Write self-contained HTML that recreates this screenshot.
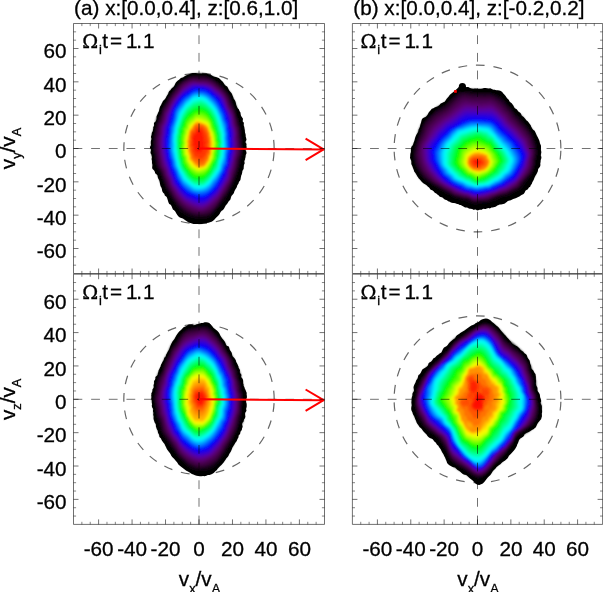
<!DOCTYPE html>
<html><head><meta charset="utf-8"><title>velocity distributions</title>
<style>html,body{margin:0;padding:0;background:#fff}svg{display:block}</style></head>
<body>
<svg width="603" height="592" viewBox="0 0 603 592">
<rect width="603" height="592" fill="#fff"/>
<defs><filter id="sm" x="-5%" y="-5%" width="110%" height="110%"><feGaussianBlur stdDeviation="0.8"/></filter></defs>
<g>
<path d="M246.5,144.5l-0.2,1l0.2,0.9l0.1,1l-0.2,1l-0.7,0.9l-0.1,0.9l0.5,1.1l0.3,1l0.1,1l-0.5,0.9l-0.3,1l-0.2,0.9l0.1,1.1l-0.5,0.8l0.1,1.1l-0.4,0.9l-0.5,0.9l0.1,1.1l0.3,1.2l-0.4,0.9l-0.4,1l-0.1,1.1l-0.1,1.1l0,1.1l-0.4,1l-0.6,0.8l-0.4,1l-0.1,1.2l-0.2,1.1l-0.3,1.1l-0.5,1l-0.2,1.2l-0.3,1.2l-0.1,1.3l-0.5,1.2l-0.7,0.8l-0.6,1l-0.3,1.3l-0.7,1l-0.6,1l-0.4,1.3l-0.5,1.2l-0.7,1l-0.7,1.1l-0.6,1.2l-0.4,1.6l-0.7,1.1l-0.9,1l-0.9,1l-0.5,1.5l-0.5,1.8l-0.9,1.2l-1,0.9l-0.8,1.4l-0.9,1.4l-1,1l-0.9,1.6l-0.8,1.7l-1.1,1.3l-1.3,0.8l-1.1,1.4l-1,1.9l-1.2,1.4l-1.3,1.3l-1.3,1.3l-1.3,1.5l-1.4,1.2l-1.5,1l-1.6,0.5l-1.6,0.6l-1.6,0.2l-1.7,0.2l-1.6,0.3l-1.6,0.4l-1.7,0.1l-1.7,0.1l-1.6-0.2l-1.7,0l-1.7,0l-1.6-0.3l-1.6-0.5l-1.6-0.7l-1.5-0.8l-1.5-1.1l-1.4-1.1l-1.4-0.9l-1.6-0.6l-1.5-0.5l-1.3-1l-1.2-1.5l-1.1-1.6l-0.9-1.9l-1.2-1.1l-1.2-0.9l-0.8-1.9l-0.7-1.8l-1-1.1l-1.2-0.7l-0.8-1.6l-0.5-1.9l-0.5-1.7l-0.6-1.6l-1-0.8l-1-0.9l-0.5-1.6l-0.9-0.9l-0.8-1l-0.5-1.4l-0.2-1.6l-0.5-1.3l-0.7-1.1l-0.4-1.3l-0.3-1.4l-0.2-1.4l-0.3-1.3l-0.4-1.1l-0.6-1l-0.5-1l-0.3-1.3l-0.1-1.2l-0.7-0.9l-1-0.7l-0.8-0.8l-0.2-1.2l-0.4-1l-0.8-0.8l-0.9-0.8l-0.6-1l0-1.2l0.2-1.3l0-1.2l-0.3-1.1l-0.1-1.1l0-1.1l-0.1-1.1l-0.3-1l0.2-1.2l0.2-1.1l-0.3-1l-0.2-1.1l-0.5-0.9l-0.5-1l0.1-1.1l0.3-1.1l0.1-1l-0.4-1l-0.7-1l0.3-1.1l0.7-1.1l0.2-1l-0.3-1l0-1.1l0-1l0.2-1l0.4-1l0-1.1l-0.4-1.1l0.1-1l0.4-1l0.2-1l0.1-1.1l0.3-0.9l0.7-0.9l0.2-1l0.1-1.1l0.2-1l-0.1-1.2l0.7-0.8l0.3-1.1l-0.3-1.2l0.2-1.1l0.9-0.7l0.9-0.8l0.3-1l0.4-1l0-1.2l-0.1-1.3l0.3-1.1l0.5-1l0.4-1l0.5-1.1l0.6-1l0.3-1.1l0.2-1.3l0.3-1.2l0.4-1.2l0.6-1l0.6-1.1l0.5-1.2l0.6-1.1l0.5-1.2l0.9-0.9l0.9-0.7l0.8-1l0.6-1.1l0.6-1.3l0.8-1.1l0.7-1.2l0.5-1.6l0.7-1.3l1.1-0.7l0.8-1.3l0.9-1l1.1-0.8l1-1.2l0.7-1.6l0.8-1.7l1.1-1.1l1.1-1.1l1.2-0.8l1.2-1.1l1.3-0.8l1.4-0.4l1.3-0.8l1.3-0.9l1.4-0.6l1.3-0.7l1.5-0.4l1.4-0.5l1.5-0.4l1.5-0.2l1.5,0.1l1.5,0.2l1.5,0.2l1.5,0.1l1.5,0l1.5,0l1.5,0l1.5,0l1.4,0.4l1.5,0.4l1.4,0.2l1.4,0.9l1.3,0.9l1.4,0.5l1.4,0.3l1.4,0.5l1.3,0.5l1.3,0.8l1.1,1.4l1.2,0.9l1,1.2l0.9,1.6l0.9,1.3l1.2,0.7l1.1,0.8l0.7,1.5l0.7,1.5l0.8,1.2l0.9,1l0.9,1l0.7,1.2l0.5,1.5l0.6,1.4l0.4,1.4l0.7,1.1l0.7,0.9l0.5,1.3l0.4,1.4l0.2,1.4l0.4,1.2l0.6,1.1l0.4,1l0.7,0.9l0.8,0.8l0.4,1.1l0.5,1l0.6,0.9l0.1,1.2l0.2,1.2l0.3,1l0.7,0.9l0.5,0.9l0.6,0.8l0,1.2l-0.3,1.4l0.6,0.8l0.7,0.8l-0.1,1.2l-0.1,1.1l0.2,1l0.4,0.9l0.1,1.1l0.2,1l0.2,0.9l0.1,1l0,1l0.2,1l0.4,0.9l0.1,0.9l0.1,1l0,1l0.4,0.9l0.2,1l0.2,0.9l-0.3,1l-0.7,1.1l0,0.9l0.8,0.9z" fill="#000"/>
<g filter="url(#sm)">
<path d="M245.2,144.5l0,2.4l-0.4,2.3l-0.1,2.3l0.3,2.5l-0.7,2.3l-0.8,2.3l-0.3,2.4l-0.4,2.5l-0.5,2.5l-0.6,2.5l-0.8,2.5l-0.8,2.5l-0.7,2.7l-1,2.7l-1.1,2.7l-1.3,2.6l-1.4,2.7l-1.5,2.9l-1.6,3l-1.6,3.2l-1.7,3.5l-2.1,3.1l-2.5,2.9l-2.7,2.6l-2.8,3.3l-2.9,3.8l-3.3,3.3l-3.7,2.2l-4,1l-4,0.4l-4-0.7l-4-0.8l-3.9-0.7l-3.7-1.9l-3.4-2.6l-3-3.2l-2.6-3.7l-2.4-3.4l-2.3-3.1l-2-3.3l-1.7-3.4l-1.7-3l-1.6-2.9l-1.3-3.1l-1.3-2.9l-1.1-2.9l-0.9-2.9l-1.2-2.5l-1.3-2.4l-1.1-2.5l-1.2-2.4l-0.9-2.6l-0.4-2.7l-0.2-2.7l-0.3-2.6l-0.4-2.5l-0.3-2.6l-0.3-2.5l-0.2-2.5l0.1-2.6l0.4-2.5l0.4-2.5l-0.1-2.6l0.3-2.5l0.7-2.5l0.4-2.5l0.8-2.4l0.9-2.4l0.4-2.7l0.6-2.7l1-2.5l1.3-2.3l1.2-2.6l0.9-2.8l1.1-2.8l1.5-2.5l1.7-2.5l1.6-2.8l1.5-3.2l1.7-3.3l2.2-2.6l2.5-2.3l2.4-3l2.6-3l3-2.2l3.2-1.8l3.4-1.9l3.6-1l3.7-0.4l3.7-0.2l3.7,0.5l3.6,0.9l3.5,1.2l3.4,1.6l3.1,2.3l3,2l2.8,2.4l2.4,2.9l2.3,2.6l2,2.9l1.7,3.2l1.4,3.2l1.4,2.9l1.3,2.9l0.9,3l0.7,3l0.9,2.6l1.3,2.3l0.8,2.5l0.5,2.6l0.7,2.4l0.7,2.3l0.6,2.4l0.5,2.4l0.2,2.4l0.1,2.3l0.4,2.4l0.1,2.3l0.4,2.3z" fill="#020003"/>
<path d="M243.5,144.5l0.2,2.3l-0.4,2.2l-0.1,2.3l0.2,2.4l-0.7,2.2l-0.8,2.1l-0.4,2.4l-0.4,2.3l-0.5,2.4l-0.5,2.4l-0.8,2.4l-0.7,2.5l-0.7,2.6l-1,2.6l-1.1,2.5l-1.2,2.6l-1.3,2.7l-1.4,2.8l-1.5,2.9l-1.5,3.1l-1.7,3.3l-2.1,2.9l-2.4,2.8l-2.5,2.9l-2.6,3.4l-2.8,3.7l-3.2,3.2l-3.6,2l-3.9,0.8l-3.9,0.3l-3.9-0.4l-3.8-0.9l-3.8-0.9l-3.6-1.8l-3.3-2.4l-2.9-2.9l-2.6-3.5l-2.3-3.4l-2.2-3l-2-3.2l-1.6-3.3l-1.7-2.9l-1.6-2.8l-1.2-3.1l-1.1-2.9l-1.1-2.7l-1-2.8l-1-2.6l-1.1-2.4l-1.3-2.2l-1.3-2.3l-0.8-2.5l-0.5-2.6l-0.2-2.6l-0.4-2.5l-0.5-2.5l-0.5-2.4l-0.4-2.5l0-2.5l0.2-2.5l0.3-2.5l0.2-2.4l0-2.5l0.3-2.5l0.6-2.4l0.5-2.5l0.8-2.4l0.7-2.4l0.5-2.6l0.7-2.6l1-2.4l1.2-2.4l1.2-2.4l0.9-2.8l1-2.8l1.5-2.5l1.6-2.5l1.6-2.7l1.5-3.1l1.7-3.1l2.1-2.7l2.3-2.6l2.4-2.9l2.6-2.8l3-2.2l3.2-1.8l3.3-1.8l3.5-1l3.6-0.4l3.7-0.1l3.6,0.4l3.6,0.8l3.5,1.3l3.3,1.7l3,2.1l3,2.1l2.7,2.4l2.3,2.8l2.3,2.6l1.9,3l1.6,3.2l1.3,3.2l1.2,3l1.3,2.8l1,2.8l0.6,3l0.8,2.6l1.1,2.3l0.9,2.4l0.4,2.5l0.6,2.4l0.8,2.3l0.4,2.3l0.5,2.2l0.3,2.4l0.1,2.2l0.4,2.3l0.1,2.2l0.2,2.3z" fill="#09000a"/>
<path d="M242.2,144.5l0.3,2.2l-0.2,2.2l-0.2,2.2l0.1,2.3l-0.7,2.2l-0.8,2l-0.5,2.2l-0.5,2.3l-0.4,2.3l-0.5,2.4l-0.8,2.3l-0.6,2.4l-0.7,2.6l-1,2.4l-1,2.5l-1.2,2.5l-1.2,2.7l-1.3,2.7l-1.4,2.9l-1.5,3l-1.7,3.2l-2.1,2.6l-2.3,2.8l-2.3,3.2l-2.5,3.4l-2.7,3.6l-3.2,3.1l-3.5,1.9l-3.8,0.6l-3.8,0.3l-3.8-0.3l-3.8-0.8l-3.6-1.1l-3.5-1.8l-3.2-2.3l-2.9-2.7l-2.5-3.3l-2.3-3.3l-2.1-3l-1.9-3.1l-1.6-3.2l-1.7-2.9l-1.6-2.6l-1.1-3.1l-1-2.9l-1.1-2.7l-0.9-2.6l-0.9-2.6l-1.1-2.3l-1.3-2.2l-1.4-2.1l-0.8-2.5l-0.5-2.5l-0.3-2.5l-0.4-2.5l-0.5-2.4l-0.6-2.4l-0.5-2.4l0.1-2.4l0.2-2.5l0.2-2.4l0.1-2.5l0.1-2.4l0.3-2.4l0.6-2.5l0.4-2.4l0.7-2.4l0.6-2.4l0.6-2.5l1-2.4l0.9-2.4l1.1-2.4l1.1-2.4l0.8-2.8l1.1-2.7l1.4-2.6l1.5-2.5l1.6-2.6l1.5-3l1.8-2.9l2-2.8l2.2-2.7l2.3-3l2.6-2.7l3-2.1l3.1-1.9l3.3-1.7l3.5-0.9l3.6-0.2l3.6-0.1l3.6,0.2l3.5,0.7l3.4,1.3l3.3,1.8l3,2.1l2.8,2.2l2.7,2.4l2.3,2.7l2.3,2.6l1.9,2.9l1.4,3.3l1.2,3.3l1.2,3l1.2,2.7l1,2.7l0.7,2.9l0.6,2.7l1,2.3l0.9,2.2l0.4,2.5l0.6,2.3l0.7,2.2l0.4,2.3l0.4,2.2l0.3,2.3l0.2,2.2l0.3,2.2l0.2,2.1l0,2.2z" fill="#170019"/>
<path d="M241.1,144.5l0.5,2.2l-0.2,2.1l-0.2,2.2l-0.1,2.2l-0.6,2.1l-0.8,2l-0.7,2.1l-0.5,2.2l-0.3,2.3l-0.4,2.3l-0.8,2.2l-0.6,2.4l-0.7,2.4l-0.9,2.4l-1,2.5l-1.1,2.5l-1.2,2.6l-1.2,2.8l-1.4,2.7l-1.4,3l-1.7,3l-2.2,2.5l-2.1,2.8l-2.2,3.2l-2.4,3.5l-2.7,3.4l-3.1,3.1l-3.5,1.8l-3.7,0.6l-3.7,0.2l-3.7-0.2l-3.7-0.8l-3.5-1.3l-3.4-1.8l-3.1-2.2l-2.9-2.5l-2.5-3.1l-2.2-3.1l-2.1-3.1l-1.8-3.1l-1.7-3l-1.6-2.8l-1.5-2.7l-1-3l-1-2.9l-1-2.6l-1-2.6l-0.9-2.5l-1.1-2.2l-1.3-2.1l-1.2-2.2l-0.7-2.4l-0.5-2.4l-0.4-2.5l-0.4-2.4l-0.4-2.3l-0.7-2.3l-0.5-2.4l0.2-2.4l0.1-2.4l0-2.4l0.2-2.4l0-2.4l0.5-2.3l0.4-2.4l0.4-2.4l0.7-2.3l0.4-2.5l0.7-2.4l1.1-2.2l0.9-2.4l0.9-2.4l1-2.5l0.7-2.8l1.1-2.7l1.5-2.4l1.5-2.5l1.5-2.6l1.5-2.9l1.8-2.8l2-2.8l2.1-2.8l2.2-2.9l2.6-2.8l2.9-2.2l3.1-1.8l3.3-1.6l3.4-0.8l3.6,0l3.5-0.1l3.5,0l3.5,0.6l3.4,1.3l3.2,1.8l2.9,2.2l2.8,2.3l2.6,2.4l2.3,2.6l2.2,2.5l1.8,3l1.3,3.3l1.1,3.3l1.2,2.9l1.3,2.6l1.1,2.5l0.6,2.9l0.6,2.7l0.8,2.3l0.9,2.2l0.3,2.5l0.7,2.2l0.8,2.1l0.3,2.3l0.2,2.2l0.3,2.2l0.2,2.1l0.4,2.1l0.1,2.1l0.1,2.2z" fill="#28002a"/>
<path d="M240.2,144.5l0.5,2.1l-0.1,2.2l-0.2,2.1l-0.3,2.1l-0.5,2l-0.8,2l-0.7,2l-0.5,2.2l-0.3,2.2l-0.4,2.3l-0.6,2.2l-0.7,2.4l-0.7,2.3l-0.9,2.4l-0.8,2.5l-1.1,2.5l-1.1,2.5l-1.2,2.8l-1.4,2.6l-1.4,2.9l-1.8,2.8l-2,2.5l-2.1,2.8l-2.1,3.4l-2.4,3.4l-2.7,3.1l-3.1,2.9l-3.4,1.8l-3.5,0.7l-3.7,0.2l-3.7-0.2l-3.5-0.9l-3.5-1.4l-3.3-1.7l-3-2.2l-2.8-2.5l-2.5-2.9l-2.3-2.9l-2-3l-1.8-3.1l-1.6-2.9l-1.5-2.8l-1.5-2.7l-0.9-3l-1-2.8l-1.1-2.5l-1-2.5l-0.8-2.5l-1.1-2.1l-1.3-2.1l-1-2.2l-0.6-2.4l-0.4-2.4l-0.5-2.3l-0.3-2.4l-0.4-2.3l-0.5-2.2l-0.5-2.3l0.2-2.4l-0.1-2.3l-0.1-2.3l0.1-2.4l0.1-2.3l0.6-2.3l0.4-2.3l0.3-2.3l0.5-2.4l0.4-2.4l0.7-2.3l1.3-2.1l0.7-2.4l0.8-2.4l0.9-2.5l0.6-2.9l1.2-2.5l1.5-2.3l1.4-2.5l1.5-2.7l1.5-2.8l1.7-2.7l2-2.7l2.1-2.7l2.2-2.9l2.4-2.9l2.8-2.4l3.1-1.7l3.2-1.5l3.4-0.7l3.5,0.1l3.5,0l3.5-0.1l3.4,0.5l3.3,1.3l3.1,1.8l2.9,2.3l2.7,2.3l2.5,2.3l2.3,2.6l2.1,2.5l1.8,2.9l1.3,3.3l1,3.4l1.2,2.7l1.4,2.3l1.1,2.5l0.6,2.8l0.6,2.6l0.7,2.4l0.8,2.2l0.3,2.4l0.7,2.2l0.8,2l0.3,2.2l0.2,2.2l0.2,2.2l0.2,2.1l0.4,2.1l0.2,2l0,2.1z" fill="#370039"/>
<path d="M239.3,144.5l0.4,2.1l0,2l-0.3,2.1l-0.3,2.1l-0.5,2l-0.7,2l-0.8,1.9l-0.4,2.1l-0.3,2.1l-0.3,2.3l-0.6,2.2l-0.6,2.3l-0.8,2.3l-0.8,2.3l-0.8,2.5l-0.9,2.5l-1.1,2.6l-1.2,2.6l-1.5,2.5l-1.4,2.9l-1.7,2.7l-2,2.5l-2,2.9l-2,3.3l-2.4,3.2l-2.7,2.9l-3,2.7l-3.3,1.7l-3.5,1l-3.6,0.3l-3.6-0.4l-3.5-0.9l-3.3-1.4l-3.2-1.7l-3-2.1l-2.8-2.5l-2.4-2.8l-2.3-2.7l-2-2.9l-1.7-3.1l-1.6-2.8l-1.5-2.8l-1.3-2.8l-0.9-2.9l-1.1-2.6l-1.2-2.4l-0.8-2.5l-0.8-2.4l-1.2-2.1l-1.2-2l-0.9-2.3l-0.4-2.4l-0.4-2.3l-0.6-2.3l-0.2-2.3l-0.3-2.2l-0.4-2.3l-0.4-2.2l0-2.2l-0.2-2.3l-0.1-2.3l0.1-2.2l0.1-2.3l0.6-2.2l0.5-2.2l0.3-2.4l0.3-2.3l0.3-2.4l0.7-2.3l1.3-2l0.7-2.4l0.7-2.4l0.8-2.5l0.6-2.8l1.2-2.4l1.5-2.2l1.4-2.4l1.4-2.8l1.4-2.8l1.8-2.6l1.9-2.5l2.1-2.6l2.2-2.9l2.2-3l2.7-2.6l3.1-1.6l3.2-1.5l3.3-0.7l3.5,0.2l3.4,0.1l3.4-0.1l3.4,0.5l3.2,1.2l3.1,1.8l2.8,2.3l2.6,2.2l2.5,2.3l2.3,2.5l2,2.6l1.7,2.9l1.3,3.3l0.9,3.3l1.3,2.6l1.4,2.2l1.1,2.4l0.8,2.6l0.5,2.6l0.6,2.4l0.6,2.3l0.4,2.4l0.7,2.1l0.7,2l0.4,2.1l0.2,2.2l0.1,2.1l0.1,2.1l0.3,2l0.3,2l0.1,2.1z" fill="#430048"/>
<path d="M238.2,144.5l0.3,2l0,2l-0.2,2l-0.3,2l-0.4,2l-0.6,2l-0.8,1.8l-0.4,2.1l-0.3,2.1l-0.4,2.2l-0.5,2.2l-0.5,2.2l-0.8,2.2l-0.8,2.3l-0.7,2.5l-0.8,2.6l-1,2.6l-1.2,2.5l-1.6,2.4l-1.4,2.7l-1.7,2.6l-1.8,2.6l-1.9,3l-2.1,3.2l-2.4,3l-2.6,2.6l-3,2.5l-3.2,1.8l-3.4,1.4l-3.5,0.3l-3.5-0.6l-3.4-1l-3.3-1.4l-3.1-1.7l-3-2l-2.6-2.5l-2.4-2.7l-2.3-2.6l-1.9-2.8l-1.7-3l-1.6-2.7l-1.5-2.7l-1.1-2.9l-1-2.9l-1.2-2.3l-1.1-2.3l-0.8-2.6l-0.7-2.4l-1.2-2l-1.2-2l-0.7-2.3l-0.4-2.3l-0.4-2.3l-0.6-2.2l-0.3-2.2l-0.2-2.2l-0.2-2.2l-0.4-2.2l-0.1-2.2l-0.3-2.2l-0.1-2.2l0.2-2.2l0.1-2.3l0.5-2.1l0.6-2.2l0.2-2.2l0.2-2.3l0.3-2.4l0.7-2.2l1.2-2l0.7-2.3l0.7-2.4l0.7-2.5l0.6-2.7l1.2-2.4l1.5-2.2l1.4-2.4l1.2-2.6l1.5-2.8l1.7-2.6l1.9-2.4l2.1-2.5l2.1-2.8l2.2-3.1l2.6-2.7l3-1.7l3.1-1.4l3.3-0.8l3.4,0.3l3.4,0.3l3.3,0l3.4,0.5l3.2,1l3,1.7l2.7,2.3l2.6,2.2l2.5,2.1l2.2,2.5l1.9,2.7l1.7,2.9l1.2,3.3l0.9,3.2l1.3,2.5l1.4,2.1l1.2,2.3l0.8,2.5l0.6,2.6l0.4,2.5l0.4,2.3l0.4,2.3l0.7,2.1l0.7,1.9l0.4,2.1l0.3,2.1l0.1,2.1l-0.1,2.1l0.2,2l0.3,1.9l0.2,2z" fill="#4e0058"/>
<path d="M237,144.5l0,1.9l0,2l-0.2,1.9l-0.1,2l-0.3,1.9l-0.5,1.9l-0.7,1.8l-0.4,2l-0.3,2.1l-0.5,2l-0.4,2.2l-0.6,2.1l-0.7,2.2l-0.8,2.2l-0.6,2.5l-0.8,2.5l-0.9,2.7l-1.2,2.4l-1.5,2.2l-1.4,2.6l-1.6,2.6l-1.7,2.7l-1.9,3l-2,3l-2.4,2.6l-2.7,2.5l-2.8,2.3l-3.1,2l-3.3,1.6l-3.4,0.3l-3.4-0.7l-3.3-1.1l-3.2-1.4l-3-1.6l-2.9-2l-2.6-2.4l-2.3-2.6l-2.2-2.4l-1.9-2.8l-1.7-2.9l-1.6-2.5l-1.4-2.7l-1-2.9l-0.9-2.8l-1.3-2.2l-1.1-2.2l-0.7-2.6l-0.7-2.3l-1.2-2l-1-2l-0.7-2.2l-0.4-2.2l-0.4-2.3l-0.5-2.1l-0.4-2.1l-0.3-2.2l-0.1-2.1l-0.2-2.1l-0.3-2.2l-0.3-2.1l0-2.1l0.2-2.2l0.1-2.1l0.4-2.2l0.6-2l0.2-2.2l0.1-2.3l0.3-2.3l0.7-2.2l1.1-1.9l0.8-2.2l0.7-2.3l0.6-2.5l0.5-2.7l1.2-2.3l1.4-2.2l1.3-2.4l1.2-2.6l1.4-2.7l1.7-2.5l1.9-2.5l2-2.4l2.1-2.6l2.2-3.1l2.5-2.6l2.9-1.8l3-1.5l3.3-0.8l3.3,0.4l3.3,0.3l3.3,0l3.2,0.6l3.2,0.9l2.9,1.7l2.7,2.3l2.5,2.1l2.5,2l2.2,2.4l1.8,2.8l1.5,2.9l1.2,3.3l0.9,3l1.3,2.5l1.3,2.1l1.2,2.2l0.9,2.4l0.5,2.5l0.3,2.5l0.4,2.4l0.4,2.1l0.7,2l0.6,2l0.4,2l0.4,2l0,2.1l-0.2,2l0.1,2l0.3,1.9l0.3,1.9z" fill="#58006e"/>
<path d="M235.7,144.5l-0.1,1.9l-0.1,1.8l-0.1,1.9l0.1,1.9l-0.2,1.9l-0.5,1.8l-0.6,1.8l-0.3,2l-0.4,2l-0.6,1.9l-0.4,2.1l-0.5,2.1l-0.8,2l-0.8,2.1l-0.6,2.4l-0.5,2.7l-0.8,2.6l-1.3,2.3l-1.4,2.2l-1.4,2.5l-1.6,2.5l-1.6,2.7l-1.8,3l-2,2.8l-2.4,2.4l-2.6,2.2l-2.7,2.3l-3,2.1l-3.2,1.6l-3.3,0.4l-3.3-0.8l-3.2-1.1l-3.1-1.4l-2.9-1.6l-2.8-1.8l-2.5-2.3l-2.3-2.5l-2.2-2.4l-1.8-2.8l-1.6-2.6l-1.7-2.3l-1.4-2.7l-0.9-3l-0.9-2.6l-1.2-2.2l-1.1-2.2l-0.5-2.5l-0.7-2.3l-1.1-1.9l-1-2l-0.6-2.1l-0.6-2.1l-0.4-2.2l-0.4-2.1l-0.5-2l-0.3-2.1l-0.1-2.1l-0.1-2.1l-0.3-2l-0.3-2.1l0.2-2.1l0.2-2l0-2.1l0.4-2.1l0.5-2l0.2-2.2l0.1-2.2l0.3-2.2l0.6-2.1l1.1-1.9l0.7-2.1l0.8-2.2l0.5-2.5l0.5-2.6l1.1-2.3l1.2-2.2l1.2-2.5l1.3-2.5l1.4-2.6l1.5-2.6l1.9-2.4l1.9-2.4l2.1-2.5l2.2-2.8l2.5-2.5l2.8-1.9l2.9-1.7l3.2-0.8l3.3,0.3l3.2,0.4l3.2,0.1l3.2,0.5l3.1,1l2.8,1.6l2.6,2.4l2.5,2l2.5,1.9l2.1,2.4l1.8,2.7l1.4,3l1.1,3.2l1,2.9l1.1,2.5l1.3,2.1l1.1,2.2l1,2.2l0.4,2.5l0.2,2.5l0.4,2.3l0.5,2.1l0.7,1.9l0.5,1.9l0.3,2l0.4,2l0.1,1.9l-0.3,2.1l-0.1,1.9l0.3,1.8l0.4,1.8z" fill="#5b008a"/>
<path d="M234.6,144.5l-0.3,1.8l-0.1,1.8l-0.1,1.8l0.2,1.9l-0.1,1.8l-0.5,1.8l-0.6,1.7l-0.1,2l-0.4,1.9l-0.7,1.8l-0.5,1.9l-0.5,2.1l-0.7,2l-0.9,1.9l-0.5,2.4l-0.4,2.7l-0.8,2.6l-1.2,2.2l-1.4,2.1l-1.3,2.5l-1.5,2.5l-1.6,2.6l-1.7,2.8l-2,2.7l-2.4,2.2l-2.5,2.1l-2.6,2.3l-2.9,2.1l-3.1,1.5l-3.2,0.4l-3.2-0.8l-3.1-1l-3-1.4l-2.8-1.6l-2.8-1.5l-2.4-2.2l-2.2-2.5l-2.1-2.4l-1.7-2.7l-1.7-2.5l-1.7-2.1l-1.3-2.7l-0.8-2.9l-0.9-2.6l-1.2-2.1l-0.9-2.2l-0.6-2.4l-0.6-2.3l-1-1.9l-0.9-2l-0.6-2l-0.7-2l-0.4-2.1l-0.3-2l-0.5-2l-0.4-2l0-2l-0.1-2l-0.3-2l-0.3-2l0.2-2l0.1-2l0.1-2l0.3-2l0.4-2l0.2-2.1l0.1-2.1l0.3-2.2l0.6-2l1-1.9l0.8-2l0.7-2.2l0.5-2.4l0.5-2.6l1.1-2.1l1-2.4l1.1-2.5l1.1-2.5l1.4-2.5l1.6-2.5l1.7-2.4l1.9-2.5l2.1-2.4l2.2-2.6l2.5-2.1l2.7-2l2.8-1.8l3.1-1l3.2,0.3l3.2,0.4l3.1,0l3.1,0.6l3.1,1l2.8,1.7l2.5,2.3l2.4,2.1l2.4,1.9l2.1,2.2l1.7,2.7l1.4,3l1,3.1l1,2.8l1.2,2.4l1.1,2.2l1,2.2l1,2.1l0.4,2.5l0.2,2.4l0.3,2.3l0.5,2l0.7,1.8l0.5,1.9l0.3,1.9l0.4,1.9l0,1.9l-0.3,2l-0.2,1.9l0.3,1.7l0.4,1.8z" fill="#5400a8"/>
<path d="M233.5,144.5l-0.3,1.7l-0.2,1.7l0.1,1.8l0.2,1.8l-0.2,1.8l-0.6,1.7l-0.4,1.7l-0.1,2l-0.4,1.8l-0.7,1.7l-0.6,1.8l-0.4,2.1l-0.6,2l-1,1.7l-0.5,2.3l-0.3,2.7l-0.8,2.5l-1.2,2.1l-1.2,2.2l-1.3,2.4l-1.5,2.3l-1.6,2.5l-1.6,2.8l-2,2.6l-2.2,2l-2.5,2l-2.5,2.4l-2.8,2.1l-3,1.3l-3.1,0.2l-3.1-0.6l-3-1l-2.9-1.4l-2.7-1.5l-2.8-1.3l-2.3-2.1l-2.1-2.5l-2-2.3l-1.7-2.6l-1.7-2.3l-1.7-2.1l-1.1-2.7l-0.8-2.8l-1-2.4l-1-2.2l-0.9-2.2l-0.6-2.2l-0.6-2.2l-0.9-1.9l-0.7-2l-0.6-2l-0.8-1.8l-0.3-2.1l-0.2-2l-0.5-1.9l-0.4-1.9l-0.1-1.9l-0.1-2l-0.2-1.9l-0.3-1.9l0.1-1.9l0.1-2l0-1.9l0.3-2l0.4-1.9l0.2-2l0.2-2.1l0.2-2l0.5-2.1l0.9-1.8l0.8-2l0.7-2.1l0.4-2.3l0.6-2.5l0.9-2.2l1-2.3l0.9-2.6l1.1-2.5l1.4-2.4l1.5-2.4l1.7-2.5l1.9-2.4l2-2.4l2.2-2.4l2.5-1.9l2.6-1.9l2.8-1.9l2.9-1.1l3.2,0.1l3.1,0.3l3.1,0.1l3,0.8l3,1l2.7,1.8l2.4,2.3l2.4,2l2.3,1.9l2,2.2l1.7,2.7l1.3,2.9l1.1,2.9l1,2.7l1.1,2.3l1,2.3l0.9,2.2l0.9,2.1l0.4,2.3l0.2,2.4l0.3,2.2l0.5,2l0.7,1.7l0.4,1.9l0.4,1.8l0.2,1.9l0,1.9l-0.1,1.8l-0.3,1.8l0.2,1.8l0.5,1.7z" fill="#4300c3"/>
<path d="M232.5,144.5l-0.4,1.7l-0.1,1.6l0.2,1.8l0.2,1.7l-0.4,1.7l-0.6,1.6l-0.4,1.7l0,1.9l-0.4,1.8l-0.8,1.6l-0.5,1.8l-0.2,2.1l-0.6,1.9l-1,1.7l-0.6,2.1l-0.3,2.6l-0.8,2.3l-1.2,2l-1.2,2.2l-1.2,2.4l-1.4,2.2l-1.5,2.4l-1.6,2.8l-1.9,2.6l-2.2,1.9l-2.3,1.9l-2.5,2.4l-2.7,2l-2.9,1l-3,0.1l-3-0.5l-2.9-1l-2.8-1.3l-2.7-1.3l-2.6-1.1l-2.3-2.2l-2-2.4l-2-2.2l-1.6-2.5l-1.7-2.2l-1.6-2l-1-2.7l-0.9-2.7l-0.9-2.2l-1-2.2l-0.8-2.2l-0.7-2.1l-0.6-2.1l-0.7-2l-0.6-1.9l-0.6-1.9l-0.7-1.8l-0.3-2l-0.1-1.9l-0.4-1.9l-0.4-1.8l-0.3-1.8l-0.1-1.9l-0.2-1.8l-0.2-1.9l0-1.9l0-1.9l0-1.8l0.2-1.9l0.5-1.9l0.3-1.9l0.2-1.9l0.2-2.1l0.4-2l0.8-1.8l0.7-1.9l0.6-2.1l0.5-2.3l0.5-2.3l0.9-2.2l0.8-2.4l0.9-2.5l1.1-2.5l1.3-2.4l1.5-2.3l1.6-2.5l1.8-2.5l2-2.4l2.2-2.1l2.4-1.7l2.6-1.8l2.7-1.9l2.9-1.3l3-0.1l3.1,0.2l3,0.2l3,0.9l2.8,1.2l2.7,1.8l2.4,2.2l2.3,2l2.2,1.9l2,2.2l1.5,2.7l1.3,2.7l1.2,2.8l1,2.6l1,2.2l0.9,2.4l0.8,2.2l0.8,2.1l0.5,2.2l0.2,2.3l0.2,2.2l0.4,1.9l0.7,1.7l0.4,1.8l0.3,1.8l0.3,1.7l-0.1,1.9l0,1.7l-0.2,1.8l0.1,1.7l0.5,1.6z" fill="#2c00dc"/>
<path d="M231.4,144.5l-0.2,1.6l-0.1,1.6l0.2,1.7l0.2,1.7l-0.6,1.6l-0.6,1.6l-0.3,1.6l-0.1,1.8l-0.4,1.7l-0.7,1.6l-0.4,1.8l-0.1,2.1l-0.5,1.9l-1.1,1.6l-0.6,2l-0.4,2.4l-0.9,2l-1.2,1.9l-1,2.3l-1.2,2.3l-1.3,2.2l-1.4,2.4l-1.5,2.8l-1.8,2.5l-2.2,1.9l-2.3,1.8l-2.4,2.3l-2.6,1.8l-2.8,0.9l-2.9,0.1l-2.9-0.5l-2.8-1l-2.7-1.3l-2.6-1l-2.5-1.1l-2.2-2.2l-2-2.3l-1.9-2l-1.7-2.3l-1.6-2.2l-1.5-2.1l-0.9-2.7l-0.8-2.5l-1.1-2.1l-0.8-2.2l-0.8-2.1l-0.8-1.9l-0.7-2l-0.4-2.1l-0.4-1.9l-0.7-1.8l-0.7-1.7l-0.2-1.9l-0.1-1.9l-0.3-1.8l-0.3-1.8l-0.4-1.7l-0.3-1.8l-0.1-1.8l0-1.8l-0.1-1.8l0-1.8l-0.1-1.8l0.2-1.9l0.5-1.7l0.4-1.8l0.2-1.9l0.1-2l0.4-1.9l0.5-1.9l0.7-1.9l0.5-2l0.5-2.2l0.6-2.2l0.8-2.2l0.7-2.4l0.8-2.5l1-2.6l1.3-2.3l1.5-2.2l1.5-2.5l1.7-2.5l1.9-2.3l2.2-2.1l2.5-1.5l2.5-1.7l2.6-1.8l2.8-1.4l3-0.4l3,0.2l3,0.3l2.9,0.9l2.7,1.3l2.6,1.8l2.3,2.2l2.3,2l2.1,1.9l1.8,2.3l1.5,2.6l1.4,2.6l1.2,2.5l1,2.5l1,2.3l0.7,2.3l0.7,2.3l0.7,2.1l0.5,2.1l0.3,2.2l0.1,2.1l0.4,1.9l0.6,1.6l0.3,1.8l0.4,1.7l0.2,1.7l0,1.8l0,1.7l-0.1,1.7l0.1,1.6l0.3,1.6z" fill="#1400f0"/>
<path d="M230.2,144.5l-0.1,1.6l0,1.5l0.2,1.7l0.1,1.6l-0.7,1.5l-0.5,1.5l-0.3,1.6l-0.2,1.7l-0.3,1.7l-0.5,1.6l-0.3,1.8l-0.1,2.1l-0.5,1.8l-1.1,1.5l-0.6,1.9l-0.5,2.2l-1,1.8l-1.1,1.8l-1,2.3l-1.1,2.2l-1.2,2.2l-1.4,2.5l-1.4,2.6l-1.8,2.3l-2,1.9l-2.2,1.9l-2.3,2.1l-2.6,1.6l-2.7,0.8l-2.8,0.1l-2.8-0.5l-2.7-0.9l-2.6-1.1l-2.5-1l-2.5-1.1l-2.1-2.1l-1.9-2.1l-1.9-2l-1.6-2.2l-1.5-2.1l-1.4-2.1l-0.9-2.6l-0.8-2.5l-1-2l-0.8-2.1l-0.8-2l-0.9-1.7l-0.6-2l-0.3-2.1l-0.3-2l-0.7-1.6l-0.6-1.7l-0.4-1.8l-0.1-1.8l-0.1-1.8l-0.2-1.7l-0.5-1.7l-0.3-1.6l-0.1-1.8l0-1.7l0-1.7l0-1.8l0-1.7l0-1.8l0.6-1.7l0.5-1.6l0.2-1.8l0-2l0.2-1.9l0.4-1.9l0.6-1.9l0.6-1.9l0.5-2l0.7-2.1l0.6-2.2l0.6-2.4l0.7-2.6l0.9-2.5l1.2-2.3l1.5-2.2l1.5-2.4l1.7-2.4l1.8-2.3l2.1-2l2.5-1.5l2.4-1.5l2.6-1.8l2.7-1.4l2.9-0.5l2.9,0.2l2.9,0.2l2.8,1l2.7,1.3l2.5,1.8l2.3,2.2l2.1,1.9l2.1,2l1.7,2.3l1.4,2.7l1.3,2.4l1.2,2.3l1.1,2.3l0.9,2.3l0.7,2.4l0.5,2.3l0.7,2l0.6,1.9l0.3,2.1l0.1,2.1l0.2,1.9l0.6,1.6l0.3,1.7l0.2,1.7l0.2,1.7l0.1,1.6l0,1.6l0,1.6l0.2,1.6l0.1,1.5z" fill="#000bff"/>
<path d="M229.2,144.5l0.1,1.5l0,1.6l0.1,1.5l-0.1,1.6l-0.5,1.5l-0.5,1.4l-0.3,1.6l-0.2,1.6l-0.2,1.7l-0.4,1.6l-0.2,1.8l-0.1,2l-0.6,1.8l-1.1,1.3l-0.6,1.9l-0.5,2.1l-1,1.7l-1.1,1.8l-0.9,2.1l-1.1,2.2l-1.2,2.2l-1.3,2.4l-1.4,2.5l-1.7,2.2l-2,2l-2.1,1.9l-2.2,2.1l-2.5,1.4l-2.7,0.7l-2.7,0.1l-2.7-0.4l-2.6-0.8l-2.6-1l-2.4-1l-2.4-1.2l-2.1-1.9l-1.9-2l-1.8-1.9l-1.5-2.3l-1.5-2.1l-1.3-2l-0.9-2.6l-0.7-2.5l-1-1.9l-0.8-2l-0.8-1.9l-0.9-1.7l-0.6-1.9l-0.2-2.1l-0.3-1.9l-0.7-1.6l-0.6-1.6l-0.4-1.7l-0.2-1.7l-0.1-1.8l-0.2-1.7l-0.4-1.6l-0.4-1.6l-0.1-1.7l0.1-1.7l0.2-1.7l0-1.6l0-1.7l0-1.8l0.5-1.6l0.5-1.6l0.2-1.7l0-1.9l0.2-1.9l0.3-1.9l0.5-1.8l0.7-1.8l0.6-1.9l0.7-2l0.5-2.2l0.6-2.3l0.5-2.7l0.8-2.6l1.2-2.2l1.4-2.2l1.5-2.3l1.7-2.2l1.8-2.2l2.1-2l2.3-1.5l2.4-1.5l2.5-1.8l2.6-1.4l2.8-0.5l2.9,0.2l2.8,0.3l2.8,0.8l2.6,1.3l2.4,1.8l2.3,2.1l2.1,2l1.9,2l1.6,2.4l1.3,2.7l1.3,2.4l1.2,2.1l1.1,2.2l0.8,2.3l0.6,2.3l0.5,2.3l0.7,1.9l0.8,1.7l0.3,2l0,2.1l0.2,1.8l0.4,1.7l0.4,1.6l0.2,1.7l0,1.6l0.1,1.6l0,1.6l0.1,1.5l0.3,1.5l0.1,1.5z" fill="#0030ff"/>
<path d="M228.1,144.5l0.2,1.5l0.1,1.5l0,1.5l-0.2,1.5l-0.4,1.4l-0.3,1.5l-0.3,1.4l-0.3,1.6l0,1.7l-0.3,1.6l-0.2,1.8l-0.2,1.9l-0.7,1.6l-1,1.3l-0.6,1.9l-0.6,2l-0.9,1.7l-1,1.7l-0.9,2.1l-1.1,2.1l-1.1,2.2l-1.3,2.3l-1.5,2.2l-1.6,2.1l-1.9,2l-2,2.1l-2.2,1.9l-2.4,1.2l-2.6,0.7l-2.6,0.2l-2.6-0.3l-2.6-0.6l-2.5-0.9l-2.4-1.1l-2.2-1.3l-2.1-1.7l-1.9-1.9l-1.7-1.9l-1.5-2.3l-1.3-2.1l-1.4-2l-0.8-2.5l-0.6-2.4l-0.9-2l-0.9-1.8l-0.8-1.8l-0.9-1.7l-0.5-1.8l-0.2-2l-0.2-1.9l-0.7-1.6l-0.7-1.5l-0.3-1.7l-0.3-1.6l-0.1-1.7l-0.2-1.7l-0.3-1.5l-0.5-1.6l-0.1-1.7l0.2-1.6l0.2-1.6l0.1-1.6l0-1.7l0.1-1.6l0.4-1.6l0.3-1.6l0.2-1.7l0.1-1.8l0.2-1.8l0.1-1.9l0.6-1.8l0.7-1.6l0.7-1.8l0.6-1.9l0.6-2.1l0.5-2.4l0.3-2.7l0.7-2.6l1.2-2.2l1.4-2.1l1.5-2.1l1.7-2.1l1.7-2.2l2-2l2.2-1.5l2.4-1.6l2.4-1.8l2.6-1.4l2.7-0.4l2.8,0.3l2.8,0.2l2.7,0.8l2.5,1.3l2.4,1.8l2.1,2.1l2,1.9l1.9,2.1l1.5,2.5l1.3,2.5l1.2,2.4l1.2,2.1l1,2.1l0.8,2.2l0.5,2.3l0.6,2.1l0.7,1.8l0.8,1.6l0.4,1.9l0,2.1l0,1.8l0.5,1.6l0.3,1.6l0.2,1.6l-0.1,1.6l0.1,1.6l0,1.5l0.1,1.4l0.5,1.5l-0.1,1.4z" fill="#0055ff"/>
<path d="M227,144.5l0.4,1.4l0.1,1.5l-0.2,1.4l-0.2,1.4l-0.2,1.4l-0.3,1.5l-0.3,1.4l-0.2,1.5l0,1.7l-0.2,1.6l-0.3,1.7l-0.2,1.8l-0.7,1.5l-1,1.3l-0.6,1.8l-0.5,2l-0.8,1.8l-1,1.7l-0.9,1.9l-1,2.1l-1.2,2l-1.2,2.1l-1.6,1.9l-1.6,2l-1.7,2.3l-1.9,2l-2.1,1.8l-2.4,1.1l-2.5,0.7l-2.5,0.3l-2.5-0.1l-2.5-0.5l-2.5-0.8l-2.3-1.3l-2.1-1.4l-2.1-1.5l-1.8-1.7l-1.8-1.8l-1.3-2.4l-1.3-2.2l-1.3-1.9l-0.8-2.3l-0.6-2.4l-0.8-2l-0.9-1.7l-0.9-1.6l-0.7-1.7l-0.4-2l-0.3-1.8l-0.2-1.8l-0.7-1.5l-0.5-1.6l-0.3-1.6l-0.4-1.6l-0.2-1.6l-0.3-1.5l-0.2-1.6l-0.3-1.6l-0.1-1.5l0.1-1.6l0.2-1.6l0.2-1.5l0-1.6l0.1-1.6l0.3-1.5l0.1-1.7l0.3-1.6l0.2-1.6l0.1-1.8l0.2-1.8l0.5-1.8l0.7-1.6l0.7-1.7l0.6-1.8l0.6-2l0.4-2.3l0.3-2.7l0.7-2.6l1.1-2.2l1.3-2l1.5-2l1.7-1.9l1.6-2.2l1.9-2.1l2.2-1.5l2.2-1.7l2.3-1.9l2.6-1.4l2.7-0.2l2.7,0.3l2.7,0.2l2.6,0.8l2.5,1.4l2.3,1.8l2.1,2l1.9,2l1.7,2.1l1.5,2.4l1.3,2.4l1.1,2.4l1.1,2l1,2.1l0.7,2.2l0.5,2.2l0.7,1.9l0.8,1.7l0.7,1.6l0.4,1.8l0.1,1.9l-0.1,1.9l0.4,1.6l0.4,1.4l0.2,1.6l-0.3,1.6l0.1,1.5l0,1.5l0.2,1.4l0.5,1.4l-0.2,1.4z" fill="#007bff"/>
<path d="M226,144.5l0.5,1.4l0.1,1.4l-0.3,1.3l-0.2,1.4l-0.2,1.4l-0.1,1.4l-0.4,1.4l-0.1,1.5l0,1.6l-0.2,1.6l-0.4,1.5l-0.3,1.7l-0.7,1.4l-0.8,1.4l-0.6,1.7l-0.4,2l-0.6,1.9l-1,1.7l-0.9,1.8l-1.1,1.9l-1.1,1.9l-1.3,1.9l-1.6,1.6l-1.5,2l-1.6,2.4l-1.8,2l-2.1,1.7l-2.3,1.1l-2.4,0.7l-2.4,0.4l-2.5,0.1l-2.4-0.4l-2.4-0.9l-2.2-1.4l-2-1.5l-2-1.4l-1.9-1.6l-1.7-1.7l-1.3-2.2l-1.1-2.3l-1.2-1.9l-0.9-2.1l-0.7-2.3l-0.7-1.9l-0.9-1.7l-0.9-1.6l-0.6-1.8l-0.2-1.9l-0.4-1.7l-0.3-1.7l-0.6-1.5l-0.4-1.5l-0.3-1.6l-0.3-1.5l-0.4-1.5l-0.3-1.5l0-1.6l-0.1-1.5l0-1.5l0-1.5l0.1-1.5l0-1.5l0.1-1.5l0.1-1.5l0.1-1.6l0.1-1.6l0.2-1.5l0.4-1.6l0.2-1.7l0.1-1.7l0.4-1.8l0.7-1.6l0.6-1.7l0.5-1.8l0.6-1.9l0.5-2.1l0.4-2.6l0.6-2.4l1-2.3l1.3-2l1.5-1.8l1.6-1.9l1.5-2.2l1.8-2.1l2.1-1.6l2.2-1.8l2.2-2l2.5-1.2l2.6-0.2l2.7,0.2l2.6,0.3l2.6,1l2.4,1.4l2.2,1.8l2,2l1.8,2l1.7,2.1l1.5,2.2l1.2,2.3l1.1,2.3l1,2.2l0.9,1.9l0.6,2.3l0.6,2l0.7,1.8l0.7,1.6l0.6,1.7l0.5,1.6l0.2,1.8l0,1.8l0.2,1.6l0.5,1.4l0.1,1.5l-0.3,1.6l0.1,1.5l-0.1,1.4l0.2,1.3l0.4,1.4l-0.1,1.3z" fill="#00a0ff"/>
<path d="M225.1,144.5l0.5,1.3l0.1,1.4l-0.4,1.3l-0.2,1.3l-0.1,1.3l-0.1,1.4l-0.3,1.4l-0.1,1.4l0,1.6l-0.3,1.5l-0.5,1.4l-0.4,1.5l-0.6,1.4l-0.7,1.4l-0.5,1.7l-0.3,2l-0.5,2l-0.9,1.7l-1,1.6l-1,1.8l-1.2,1.8l-1.3,1.7l-1.5,1.5l-1.5,2l-1.5,2.3l-1.7,2l-2,1.6l-2.2,1.3l-2.3,0.8l-2.4,0.3l-2.4,0.2l-2.4-0.3l-2.3-1l-2.1-1.5l-1.9-1.6l-1.9-1.4l-1.8-1.5l-1.7-1.5l-1.4-2.1l-1-2.3l-1.1-1.9l-1-2l-0.7-2l-0.7-2l-0.8-1.6l-0.8-1.6l-0.5-1.8l-0.2-1.9l-0.4-1.6l-0.4-1.6l-0.5-1.5l-0.3-1.5l-0.3-1.5l-0.3-1.5l-0.3-1.4l-0.4-1.4l0.1-1.5l0-1.5l0.1-1.5l0-1.4l0-1.4l-0.2-1.5l0-1.5l0.2-1.4l0.1-1.5l0-1.6l0.2-1.5l0.4-1.5l0.4-1.5l0.1-1.7l0.3-1.7l0.5-1.7l0.5-1.7l0.5-1.8l0.7-1.7l0.6-2l0.4-2.4l0.6-2.3l0.9-2.3l1.2-2l1.4-1.8l1.5-1.9l1.5-2.2l1.7-2.1l2.1-1.5l2-1.9l2.2-2.2l2.4-1l2.6-0.2l2.6,0.1l2.6,0.3l2.4,1.1l2.4,1.5l2.1,1.9l1.9,1.9l1.8,2l1.6,2l1.5,2.2l1.2,2.2l1,2.2l0.9,2.2l0.9,1.9l0.6,2.2l0.6,1.9l0.6,1.8l0.6,1.7l0.5,1.6l0.5,1.5l0.4,1.6l0,1.8l0.2,1.5l0.4,1.4l0.2,1.4l-0.3,1.6l0,1.4l0,1.4l0.1,1.3l0.3,1.3l-0.1,1.3z" fill="#00c5ff"/>
<path d="M224.2,144.5l0.4,1.3l0.1,1.3l-0.3,1.2l-0.2,1.3l-0.1,1.3l-0.2,1.3l-0.2,1.3l0,1.4l-0.1,1.5l-0.4,1.4l-0.5,1.3l-0.5,1.3l-0.5,1.5l-0.6,1.5l-0.4,1.6l-0.2,2l-0.5,2l-0.8,1.7l-1,1.6l-1,1.6l-1.2,1.7l-1.2,1.6l-1.5,1.5l-1.4,1.9l-1.4,2.3l-1.7,1.9l-2,1.5l-2.1,1.5l-2.2,0.8l-2.3,0.3l-2.3,0.1l-2.3-0.3l-2.2-1l-2.1-1.5l-1.9-1.5l-1.8-1.5l-1.7-1.5l-1.6-1.4l-1.4-1.9l-1-2.3l-1-1.9l-1-1.8l-0.8-1.8l-0.7-1.9l-0.7-1.7l-0.7-1.6l-0.4-1.8l-0.2-1.8l-0.5-1.5l-0.4-1.5l-0.4-1.5l-0.2-1.5l-0.3-1.5l-0.3-1.4l-0.3-1.4l-0.3-1.4l0.1-1.4l0-1.4l0.3-1.4l0-1.4l-0.2-1.4l-0.3-1.4l0-1.4l0.1-1.4l0.2-1.4l-0.1-1.6l0.2-1.5l0.5-1.4l0.4-1.4l0.2-1.6l0.1-1.8l0.4-1.6l0.4-1.7l0.5-1.7l0.7-1.7l0.7-1.8l0.5-2.2l0.6-2.2l0.7-2.3l1.1-2.1l1.4-1.7l1.4-2l1.4-2.3l1.7-1.9l2-1.5l2-1.9l2.1-2.1l2.4-1l2.5-0.2l2.5-0.2l2.5,0.4l2.4,1.1l2.3,1.6l2,2l1.9,1.9l1.7,1.9l1.6,2l1.4,2.1l1.2,2.1l0.9,2.2l0.9,2.2l0.8,1.9l0.6,2.1l0.6,1.8l0.5,1.8l0.4,1.7l0.4,1.7l0.6,1.4l0.6,1.4l0,1.6l0.2,1.5l0.4,1.4l0.1,1.4l-0.3,1.5l0,1.4l0,1.3l0.1,1.2l0.3,1.3l-0.1,1.2z" fill="#00eaff"/>
<path d="M223.1,144.5l0.3,1.2l0.2,1.3l-0.2,1.2l-0.2,1.2l-0.2,1.2l-0.2,1.3l-0.1,1.2l0,1.4l-0.1,1.4l-0.5,1.2l-0.5,1.3l-0.6,1.2l-0.4,1.4l-0.4,1.5l-0.4,1.6l-0.2,2l-0.4,1.8l-0.7,1.8l-1,1.5l-1.1,1.4l-1,1.6l-1.2,1.6l-1.4,1.6l-1.3,1.8l-1.4,2.2l-1.7,1.9l-1.8,1.5l-2,1.5l-2.2,0.8l-2.2,0.2l-2.2,0l-2.3-0.4l-2.1-0.9l-1.9-1.3l-1.9-1.5l-1.7-1.4l-1.6-1.5l-1.6-1.5l-1.3-1.8l-0.9-2.1l-1.1-1.8l-1-1.6l-0.8-1.8l-0.7-1.8l-0.7-1.6l-0.5-1.7l-0.3-1.8l-0.4-1.6l-0.5-1.4l-0.3-1.5l-0.2-1.5l-0.3-1.5l-0.3-1.4l-0.1-1.4l-0.3-1.3l-0.2-1.3l-0.1-1.4l0-1.3l0.3-1.4l0-1.3l-0.3-1.3l-0.3-1.4l0-1.4l0.2-1.3l0.2-1.4l-0.1-1.4l0.1-1.5l0.5-1.3l0.5-1.3l0.1-1.6l0-1.8l0.3-1.6l0.5-1.6l0.5-1.6l0.7-1.6l0.6-1.7l0.6-2l0.6-2.1l0.7-2.2l1-2.2l1.3-1.7l1.3-1.9l1.3-2.3l1.7-1.8l1.9-1.4l1.9-1.9l2-1.9l2.4-0.8l2.4-0.4l2.4-0.4l2.4,0.4l2.4,1.2l2.1,1.6l2,2l1.8,1.8l1.7,1.8l1.5,1.9l1.2,2.1l1.2,2l0.9,2.1l0.8,2.2l0.8,1.9l0.5,2l0.6,1.7l0.5,1.7l0.3,1.8l0.2,1.7l0.6,1.3l0.7,1.2l0.1,1.5l0.2,1.4l0.3,1.3l0.1,1.4l-0.1,1.4l-0.1,1.3l0.1,1.3l0.1,1.2l0.2,1.2l-0.1,1.2z" fill="#00ffe7"/>
<path d="M221.8,144.5l0.2,1.1l0.2,1.2l0,1.2l-0.2,1.1l-0.3,1.2l-0.1,1.1l-0.2,1.3l0,1.2l-0.1,1.3l-0.5,1.2l-0.3,1.3l-0.6,1.1l-0.4,1.4l-0.4,1.3l-0.3,1.6l-0.2,1.8l-0.5,1.7l-0.6,1.7l-0.8,1.5l-1.1,1.3l-1,1.6l-1.1,1.6l-1.2,1.7l-1.3,1.8l-1.4,1.9l-1.5,1.8l-1.8,1.5l-1.9,1.5l-2.1,0.8l-2.1,0.1l-2.1-0.2l-2.1-0.3l-2.1-0.7l-1.9-1.3l-1.7-1.3l-1.7-1.4l-1.5-1.5l-1.4-1.6l-1.2-1.7l-1-1.9l-1.1-1.6l-1-1.5l-0.8-1.7l-0.6-1.8l-0.7-1.5l-0.4-1.8l-0.3-1.6l-0.4-1.5l-0.5-1.4l-0.3-1.4l-0.1-1.5l-0.2-1.4l-0.3-1.3l0-1.4l-0.3-1.3l-0.2-1.2l-0.2-1.3l-0.2-1.2l0.4-1.3l0-1.3l-0.3-1.3l-0.2-1.3l0-1.3l0.2-1.3l0.2-1.2l-0.2-1.5l0.1-1.4l0.5-1.2l0.5-1.3l0.1-1.5l-0.2-1.7l0.4-1.5l0.6-1.5l0.5-1.6l0.6-1.5l0.6-1.7l0.6-1.8l0.6-2l0.7-2l0.9-2l1.3-1.7l1.1-2l1.3-2l1.7-1.6l1.8-1.4l1.8-1.8l1.9-1.6l2.2-0.6l2.3-0.7l2.3-0.4l2.3,0.5l2.2,1.1l2.1,1.4l1.8,1.9l1.7,1.7l1.7,1.6l1.3,2l1.2,2l1.1,1.9l0.9,2l0.7,2.1l0.7,1.9l0.5,1.8l0.6,1.6l0.5,1.6l0.3,1.6l0.1,1.8l0.5,1.2l0.7,1.1l0.2,1.4l0.3,1.3l0.1,1.3l0.1,1.3l0,1.3l0,1.2l0.1,1.2l0.2,1.1l0.2,1.2l-0.1,1.1z" fill="#00ffb0"/>
<path d="M220.6,144.5l0,1.1l0.3,1.1l0.2,1.1l-0.2,1.1l-0.4,1l-0.2,1.1l-0.2,1.1l0,1.2l-0.2,1.3l-0.3,1.1l-0.2,1.3l-0.4,1.1l-0.5,1.3l-0.4,1.2l-0.3,1.5l-0.2,1.7l-0.6,1.5l-0.5,1.6l-0.8,1.5l-1,1.2l-0.9,1.5l-1,1.6l-1.1,1.8l-1.2,1.8l-1.3,1.7l-1.5,1.6l-1.7,1.6l-1.8,1.5l-2,0.7l-2,0l-2-0.3l-2-0.2l-2-0.5l-1.8-1.1l-1.7-1.3l-1.6-1.3l-1.5-1.5l-1.2-1.7l-1.1-1.7l-1-1.7l-1.1-1.4l-1-1.4l-0.7-1.7l-0.6-1.7l-0.6-1.5l-0.3-1.7l-0.3-1.6l-0.5-1.4l-0.5-1.2l-0.2-1.5l0.1-1.5l-0.3-1.2l-0.3-1.3l0.1-1.3l-0.2-1.2l-0.2-1.2l-0.5-1.2l-0.4-1.1l0.4-1.3l0.1-1.2l-0.2-1.2l-0.1-1.2l0-1.3l0.1-1.2l0.2-1.2l-0.1-1.4l0.1-1.3l0.4-1.2l0.5-1.2l0-1.5l-0.2-1.7l0.5-1.4l0.6-1.3l0.5-1.5l0.5-1.5l0.5-1.7l0.5-1.8l0.7-1.7l0.8-1.8l0.9-1.8l1.1-1.6l1.1-2l1.3-2l1.5-1.4l1.7-1.3l1.7-1.8l1.9-1.2l2.1-0.5l2.1-0.9l2.2-0.4l2.2,0.5l2.1,1.1l1.9,1.2l1.8,1.7l1.6,1.5l1.5,1.7l1.3,2l1.1,2l1,1.8l0.9,1.8l0.6,2.1l0.6,1.8l0.5,1.7l0.6,1.4l0.6,1.4l0.3,1.6l-0.1,1.7l0.4,1.3l0.7,1l0.3,1.2l0.3,1.2l0,1.3l0,1.3l0.2,1.1l0.1,1.1l0.2,1.1l0.3,1.1l0.2,1.1l-0.3,1.1z" fill="#00ff79"/>
<path d="M219.5,144.5l-0.1,1l0.4,1.1l0.2,1l-0.2,1.1l-0.5,0.9l-0.2,1l-0.3,1l-0.1,1.1l0,1.2l-0.2,1.2l-0.1,1.2l-0.4,1.1l-0.4,1.2l-0.4,1.2l-0.3,1.4l-0.4,1.4l-0.5,1.4l-0.5,1.5l-0.8,1.3l-0.9,1.2l-0.8,1.6l-0.9,1.6l-1,1.8l-1.1,1.7l-1.3,1.4l-1.5,1.6l-1.5,1.6l-1.7,1.4l-1.9,0.7l-1.9-0.1l-1.9-0.3l-1.9,0l-1.9-0.3l-1.8-1l-1.6-1.3l-1.5-1.2l-1.3-1.6l-1.2-1.7l-1-1.7l-1.1-1.4l-1.1-1.3l-0.9-1.3l-0.7-1.6l-0.5-1.7l-0.5-1.5l-0.3-1.6l-0.2-1.6l-0.5-1.3l-0.5-1.1l-0.1-1.4l0.1-1.5l-0.4-1.1l-0.2-1.2l0.1-1.3l-0.1-1.2l-0.2-1.1l-0.6-1l-0.5-1.2l0.3-1.1l0-1.2l0-1.2l0.2-1.1l-0.1-1.2l-0.1-1.2l0.2-1.1l0-1.3l0.1-1.2l0.4-1.2l0.4-1.2l0-1.4l-0.1-1.6l0.4-1.2l0.6-1.3l0.4-1.4l0.5-1.5l0.4-1.6l0.5-1.7l0.7-1.6l0.8-1.7l0.9-1.7l1.1-1.5l1-1.9l1.2-1.8l1.5-1.2l1.6-1.3l1.6-1.6l1.8-1.1l2-0.5l1.9-0.9l2.1-0.4l2,0.6l2,0.9l1.9,1.1l1.7,1.4l1.5,1.5l1.4,1.8l1.1,2l1,1.9l1.1,1.6l0.7,1.8l0.5,2l0.6,1.7l0.5,1.5l0.7,1.3l0.6,1.2l0.2,1.5l-0.1,1.7l0.3,1.2l0.6,1l0.3,1.2l0.3,1.1l0,1.2l-0.1,1.2l0.3,1l0.2,1l0.3,1l0.5,1l0.3,1.1l-0.5,1.1z" fill="#00ff47"/>
<path d="M218.5,144.5l-0.1,1l0.3,0.9l0.2,1.1l-0.3,0.9l-0.5,0.9l-0.2,0.9l-0.5,0.9l0,1.1l0.1,1.1l-0.1,1.1l-0.2,1.2l-0.2,1.1l-0.3,1.1l-0.3,1.3l-0.3,1.3l-0.5,1.2l-0.6,1.1l-0.6,1.4l-0.7,1.1l-0.8,1.3l-0.7,1.6l-0.8,1.6l-0.9,1.7l-1,1.6l-1.3,1.3l-1.4,1.4l-1.4,1.7l-1.6,1.3l-1.8,0.6l-1.8,0l-1.8-0.3l-1.8,0.1l-1.9-0.2l-1.6-0.9l-1.5-1.3l-1.5-1.2l-1.2-1.6l-1.1-1.7l-0.9-1.5l-1.1-1.3l-1.1-1.1l-0.8-1.3l-0.7-1.5l-0.5-1.5l-0.5-1.5l-0.2-1.6l-0.1-1.6l-0.5-1.1l-0.6-1.1l0-1.4l0.1-1.4l-0.4-1l-0.2-1.2l0.1-1.2l0-1.1l-0.1-1.1l-0.7-0.9l-0.6-1.1l0.2-1.1l0.1-1.1l0.2-1.1l0.3-1l-0.3-1.2l-0.1-1.1l0.1-1.1l0.1-1.2l0.2-1.1l0.2-1.2l0.3-1.2l0.1-1.3l0-1.4l0.5-1.1l0.5-1.3l0.3-1.4l0.4-1.4l0.4-1.5l0.5-1.6l0.7-1.5l0.7-1.6l0.8-1.6l1.1-1.5l1-1.6l1.1-1.7l1.5-1l1.5-1.2l1.5-1.6l1.7-1l1.8-0.4l1.9-0.8l1.9-0.3l1.9,0.5l1.9,0.8l1.7,0.9l1.6,1.2l1.5,1.5l1.2,1.8l1,2l1,1.8l1,1.4l0.7,1.7l0.4,2l0.6,1.5l0.5,1.4l0.5,1.3l0.6,1.1l0.3,1.3l-0.1,1.6l0.3,1.1l0.5,1l0.3,1.1l0.3,1l-0.1,1.1l-0.1,1.2l0.3,0.9l0.2,1l0.5,0.9l0.6,0.9l0.3,1l-0.5,1z" fill="#00ff15"/>
<path d="M217.9,144.5l-0.2,0.9l0.3,1l0.1,0.9l-0.4,0.9l-0.4,0.9l-0.3,0.8l-0.6,0.8l0,1l0.3,1.2l-0.2,1l-0.2,1.1l-0.2,1.1l-0.1,1.2l-0.2,1.3l-0.3,1.2l-0.6,1l-0.7,1l-0.6,1.2l-0.7,1l-0.7,1.3l-0.6,1.7l-0.7,1.6l-0.8,1.6l-1.1,1.5l-1.2,1.2l-1.3,1.2l-1.3,1.7l-1.6,1.2l-1.7,0.4l-1.7,0.1l-1.7-0.2l-1.8,0.2l-1.7-0.2l-1.6-0.9l-1.4-1.1l-1.4-1.3l-1.1-1.6l-1.1-1.5l-0.9-1.4l-1-1.3l-1-1.1l-0.9-1.2l-0.7-1.3l-0.5-1.4l-0.3-1.6l-0.2-1.5l-0.1-1.5l-0.5-1.1l-0.5-1l-0.1-1.3l0-1.3l-0.3-1l-0.2-1.1l0-1.1l0-1.1l0.1-1.1l-0.6-0.9l-0.6-1l0-1l0.1-1.1l0.5-1l0.3-1l-0.4-1.1l-0.2-1.1l0-1.1l0.2-1.1l0.2-1.1l0-1.1l0.3-1.1l0.2-1.2l0.2-1.2l0.5-1.1l0.4-1.2l0.2-1.5l0.3-1.4l0.5-1.4l0.6-1.3l0.6-1.5l0.5-1.7l0.8-1.6l1-1.4l1-1.5l1.1-1.5l1.4-0.8l1.5-1l1.4-1.6l1.6-1l1.7-0.4l1.8-0.6l1.8-0.3l1.8,0.3l1.8,0.7l1.6,0.9l1.6,1.1l1.4,1.4l1.1,1.9l1,1.8l0.9,1.6l1,1.3l0.6,1.8l0.3,1.9l0.6,1.4l0.5,1.2l0.4,1.4l0.5,1.1l0.4,1.1l0,1.4l0.3,1.1l0.4,1l0.3,1l0.3,0.9l0,1.1l-0.2,1.1l0.1,1l0.3,0.8l0.5,0.9l0.7,0.8l0.4,0.9l-0.4,1z" fill="#15ff00"/>
<path d="M217.5,144.5l-0.2,0.9l0.1,0.9l0.1,0.9l-0.5,0.9l-0.3,0.8l-0.4,0.8l-0.6,0.7l0,1l0.3,1.2l-0.1,1l-0.4,0.9l-0.1,1l0.1,1.4l-0.1,1.3l-0.4,1.1l-0.6,1l-0.7,0.9l-0.6,1l-0.7,1.1l-0.6,1.2l-0.6,1.7l-0.7,1.5l-0.8,1.5l-1,1.4l-1.2,1.2l-1.2,1.2l-1.3,1.5l-1.5,1l-1.7,0.3l-1.6,0.2l-1.6-0.1l-1.7,0.1l-1.7-0.2l-1.5-0.9l-1.4-1.1l-1.3-1.1l-1-1.5l-1.1-1.3l-1-1.3l-0.8-1.4l-0.9-1.2l-0.8-1.1l-0.8-1.2l-0.6-1.2l-0.2-1.6l0-1.6l-0.2-1.3l-0.6-1l-0.5-1l-0.1-1.2l0-1.2l-0.4-1l0-1.1l-0.2-1l-0.1-1l0.3-1.1l-0.4-0.9l-0.5-1l-0.2-1l0.2-1l0.6-1l0.3-0.9l-0.4-1l-0.3-1.1l0-1.1l0.2-1l0.1-1l0-1.2l0.2-1.1l0.3-1l0.4-1.1l0.5-1l0.3-1.2l0-1.5l0.2-1.5l0.6-1.2l0.8-0.9l0.5-1.6l0.4-1.8l0.6-1.6l1-1.3l1-1.3l1.1-1.4l1.4-0.8l1.4-0.8l1.3-1.6l1.5-1.2l1.7-0.3l1.7-0.3l1.7-0.3l1.7,0.1l1.7,0.6l1.6,0.9l1.5,1l1.3,1.4l1.1,1.8l1,1.6l0.9,1.5l0.8,1.4l0.5,1.8l0.3,1.8l0.7,1.2l0.5,1.2l0.2,1.4l0.6,1l0.4,1.1l0.2,1.1l0.3,1l0.3,1l0.3,1l0.3,1l0,1l-0.2,1l0,1l0.1,0.9l0.6,0.8l0.6,0.8l0.4,0.8l-0.2,1z" fill="#3bff00"/>
<path d="M216.9,144.5l-0.2,0.9l0,0.8l-0.1,0.9l-0.4,0.8l-0.1,0.9l-0.3,0.8l-0.7,0.6l-0.1,0.9l0.4,1.1l-0.2,1l-0.4,0.8l-0.2,1l0.3,1.4l-0.1,1.3l-0.4,1l-0.5,1l-0.7,0.8l-0.6,1l-0.6,1.1l-0.7,1.2l-0.5,1.5l-0.7,1.5l-0.8,1.3l-1,1.5l-1.1,1.2l-1.2,1.1l-1.2,1.4l-1.5,0.7l-1.5,0.2l-1.6,0.3l-1.6,0l-1.6,0.1l-1.5-0.3l-1.4-1l-1.4-0.9l-1.2-1l-1.1-1.3l-1.1-1.2l-0.9-1.2l-0.7-1.6l-0.8-1.2l-0.8-1l-0.8-1.1l-0.6-1.1l0-1.7l0-1.6l-0.3-1.1l-0.7-0.8l-0.6-0.9l-0.1-1.2l0-1.1l-0.3-1l0.1-1.1l-0.4-0.9l-0.3-0.9l0.3-1.1l-0.1-1l-0.3-0.9l-0.1-0.9l0.2-1l0.7-0.9l0.2-0.9l-0.4-1l-0.3-1l-0.2-1l0.3-1l0.2-1l-0.1-1.1l0.1-1.1l0.4-0.9l0.5-1l0.3-1l0.3-1.1l0-1.5l0-1.6l0.7-1l1.1-0.6l0.4-1.5l0.1-2l0.6-1.6l1.1-1l1-1.2l1-1.4l1.3-0.7l1.3-0.7l1.2-1.6l1.4-1.3l1.6-0.3l1.7-0.1l1.6-0.1l1.6,0l1.6,0.5l1.5,0.9l1.4,0.9l1.3,1.2l1.1,1.6l1,1.4l0.8,1.5l0.8,1.5l0.4,1.8l0.3,1.8l0.6,1.1l0.5,1.1l0.3,1.3l0.5,0.9l0.5,0.9l0.3,1.1l0.3,0.9l0.3,1l0.2,1l0.3,0.9l0.1,0.9l-0.2,1l-0.2,1l0.1,0.9l0.4,0.7l0.7,0.8l0.3,0.8l-0.1,0.9z" fill="#60ff00"/>
<path d="M216.1,144.5l-0.1,0.8l-0.1,0.9l-0.3,0.7l-0.3,0.8l0.2,0.9l-0.1,0.8l-0.8,0.6l-0.2,0.8l0.4,1.1l-0.2,0.9l-0.5,0.7l-0.3,0.9l0.4,1.4l-0.1,1.2l-0.4,1l-0.3,1.1l-0.7,0.8l-0.6,1l-0.5,1.1l-0.6,1.1l-0.6,1.4l-0.7,1.4l-0.8,1.2l-0.9,1.5l-1,1.2l-1.2,1l-1.3,1.2l-1.4,0.5l-1.4,0.2l-1.5,0.5l-1.5,0l-1.5,0l-1.5-0.4l-1.3-1l-1.3-0.8l-1.2-0.8l-1.1-1.2l-1.1-0.9l-0.9-1.2l-0.5-1.7l-0.7-1.3l-0.8-1l-0.7-1l-0.5-1.1l0-1.7l0-1.5l-0.4-0.9l-0.9-0.7l-0.6-0.8l0-1.2l-0.1-1.1l-0.2-0.9l0.2-1.1l-0.5-0.8l-0.6-0.9l0.3-1l0.1-1l0-0.9l-0.1-0.9l0.3-0.9l0.6-0.9l0.3-0.8l-0.4-0.9l-0.4-1l-0.2-1l0.4-0.9l0.3-0.8l-0.3-1.2l0.1-1l0.4-0.9l0.5-0.9l0.2-1l0.4-1l-0.1-1.4l-0.2-1.8l0.9-0.7l1.2-0.4l0.3-1.4l0-2.1l0.6-1.5l1.1-0.8l0.9-1.2l0.9-1.4l1.3-0.7l1.2-0.6l1.2-1.6l1.3-1.4l1.5-0.2l1.6,0.1l1.5,0l1.5,0l1.5,0.5l1.4,0.9l1.4,0.7l1.2,1l1.1,1.3l1,1.3l0.8,1.5l0.6,1.6l0.4,1.8l0.2,1.6l0.6,1.1l0.6,0.9l0.3,1.2l0.6,0.8l0.4,0.9l0.3,1l0.3,1l0.3,0.9l0.1,1l0.3,0.8l0.2,0.9l0,0.9l-0.4,1l0,0.9l0.4,0.7l0.6,0.7l0.2,0.8l-0.1,0.9z" fill="#85ff00"/>
<path d="M215.2,144.5l0,0.8l-0.2,0.8l-0.4,0.7l-0.2,0.7l0.5,0.9l0,0.9l-0.8,0.5l-0.2,0.8l0.2,1l-0.2,0.8l-0.5,0.7l-0.3,0.8l0.3,1.3l-0.2,1l-0.2,1.1l-0.2,1.2l-0.6,0.8l-0.5,1l-0.5,1.2l-0.6,1l-0.6,1.2l-0.7,1.3l-0.8,1.2l-0.8,1.5l-1,1.2l-1.1,0.8l-1.3,0.9l-1.3,0.5l-1.4,0.3l-1.4,0.6l-1.4,0l-1.5-0.1l-1.4-0.5l-1.2-1l-1.3-0.6l-1.2-0.7l-1-1.1l-1.1-0.9l-0.9-1.1l-0.5-1.7l-0.6-1.2l-0.7-1l-0.6-1.1l-0.4-1.1l0-1.6l0-1.3l-0.5-0.9l-1-0.5l-0.6-0.8l0-1.1l0.1-1.1l-0.1-1l0.1-1.1l-0.5-0.7l-0.7-0.7l0.2-1l0.3-1l0.1-0.9l0-0.8l0.1-0.9l0.5-0.8l0.5-0.8l-0.3-0.9l-0.6-0.9l-0.2-1l0.5-0.8l0.4-0.7l-0.2-1.1l-0.1-1l0.4-0.9l0.3-0.9l0.3-0.9l0.5-0.9l-0.1-1.4l-0.3-1.7l0.9-0.6l1.2-0.3l0.3-1.3l0-2.1l0.5-1.5l1.1-0.6l0.8-1.2l0.8-1.3l1.2-0.7l1.2-0.7l1.1-1.5l1.2-1.3l1.5-0.2l1.4,0.2l1.5,0.2l1.4,0l1.4,0.5l1.4,0.8l1.3,0.6l1.2,0.8l1.1,1l0.9,1.1l0.8,1.5l0.5,1.8l0.3,1.7l0.3,1.5l0.6,0.9l0.5,0.9l0.4,1l0.6,0.8l0.5,0.9l0.2,1l0.2,0.9l0.2,0.9l0.2,0.9l0.1,0.9l0.3,0.8l0.2,0.8l-0.4,1l0,0.8l0.4,0.7l0.4,0.7l0.1,0.8l-0.1,0.8z" fill="#a7ff00"/>
<path d="M214.4,144.5l0,0.7l-0.1,0.8l-0.5,0.7l-0.2,0.7l0.7,0.9l0,0.8l-0.7,0.5l-0.3,0.7l0.1,0.9l-0.2,0.8l-0.5,0.6l-0.3,0.8l0.3,1.2l-0.3,0.9l-0.1,1.1l0,1.3l-0.6,0.8l-0.5,1l-0.4,1.2l-0.6,1l-0.6,1.1l-0.6,1.2l-0.8,1.1l-0.8,1.4l-0.9,1.3l-1.2,0.7l-1.2,0.6l-1.2,0.4l-1.4,0.4l-1.3,0.6l-1.4,0.1l-1.4-0.1l-1.3-0.5l-1.2-1l-1.2-0.6l-1.1-0.7l-1-1l-1-0.9l-0.8-1l-0.6-1.5l-0.6-1.1l-0.7-1l-0.4-1.2l-0.3-1.2l0-1.5l-0.2-1.1l-0.5-0.8l-0.8-0.5l-0.7-0.7l0-1.2l0.2-1.1l0-0.9l0.2-1l-0.5-0.7l-0.7-0.7l0-0.9l0.3-0.9l0.2-0.9l0-0.8l0.1-0.8l0.4-0.8l0.5-0.7l-0.3-0.8l-0.7-1l-0.2-0.9l0.7-0.7l0.5-0.7l-0.3-1l-0.1-1l0.4-0.8l0.2-0.9l0.3-0.9l0.5-0.7l0-1.3l-0.2-1.5l0.7-0.7l1.1-0.3l0.4-1.2l-0.1-1.9l0.4-1.5l1-0.6l0.8-1.1l0.9-1.3l1-0.6l1.2-0.7l1-1.4l1.1-1.4l1.4-0.1l1.4,0.2l1.4,0.3l1.3,0.3l1.3,0.5l1.3,0.7l1.2,0.3l1.2,0.6l1.1,0.8l1,1l0.7,1.3l0.4,1.9l0.3,1.7l0.3,1.3l0.6,0.9l0.6,0.8l0.4,0.9l0.6,0.7l0.3,0.9l0.1,1.1l0.2,0.9l0.3,0.8l0.1,0.9l0,0.9l0.3,0.7l0.4,0.7l-0.2,0.9l0,0.8l0.3,0.7l0.3,0.7l0,0.8l-0.2,0.8z" fill="#c9ff00"/>
<path d="M213.6,144.5l0.1,0.7l-0.1,0.7l-0.5,0.6l-0.2,0.7l0.7,0.9l-0.1,0.7l-0.5,0.6l-0.3,0.7l0,0.8l-0.2,0.7l-0.4,0.6l-0.3,0.7l0.3,1.2l-0.3,0.8l-0.1,1.1l0,1.2l-0.6,0.8l-0.4,1l-0.3,1.2l-0.5,1.1l-0.6,1.1l-0.7,1l-0.8,0.9l-0.7,1.5l-0.8,1.3l-1.2,0.7l-1.2,0.4l-1.2,0.3l-1.2,0.4l-1.3,0.6l-1.3,0.1l-1.3-0.1l-1.3-0.5l-1.1-0.9l-1.2-0.6l-1-0.7l-0.9-1.1l-0.9-1l-0.8-0.9l-0.7-1.2l-0.7-0.8l-0.7-0.9l-0.2-1.4l-0.2-1.4l0-1.3l-0.3-1l-0.4-0.8l-0.7-0.5l-0.5-0.8l-0.1-1l0.2-1l0.1-1l0.1-0.9l-0.4-0.7l-0.6-0.6l-0.1-0.8l0.3-0.9l0.2-0.8l-0.1-0.7l0-0.8l0.3-0.7l0.5-0.7l-0.3-0.8l-0.8-1l0-0.8l0.6-0.6l0.6-0.7l-0.3-0.9l-0.1-1l0.4-0.7l0.1-0.9l0.3-0.8l0.6-0.7l0-1.1l-0.1-1.4l0.5-0.8l0.9-0.4l0.5-1l0.1-1.7l0.3-1.4l0.9-0.8l0.7-1l0.9-1l1-0.7l1-0.8l1-1.2l1-1.4l1.4,0l1.3,0.3l1.3,0.3l1.3,0.4l1.2,0.6l1.1,0.5l1.2,0.1l1.2,0.5l1,0.7l1,0.9l0.7,1.2l0.4,1.7l0.2,1.6l0.4,1.2l0.6,0.8l0.6,0.8l0.3,0.9l0.5,0.8l0.3,0.9l0.1,1l0.1,0.9l0.3,0.8l0.3,0.7l-0.2,1l0.2,0.7l0.5,0.6l0,0.8l-0.1,0.8l0.4,0.6l0.2,0.7l-0.1,0.8l-0.3,0.7z" fill="#ebff00"/>
<path d="M212.9,144.5l0.2,0.7l-0.1,0.6l-0.4,0.7l-0.3,0.6l0.5,0.8l-0.1,0.7l-0.4,0.5l-0.2,0.7l0,0.8l-0.2,0.6l-0.3,0.7l-0.2,0.7l0.2,1.1l-0.3,0.8l0,1.1l-0.2,1l-0.5,0.7l-0.4,1l-0.2,1.3l-0.4,1.2l-0.6,1.1l-0.7,0.9l-0.8,0.8l-0.7,1.3l-0.8,1.4l-1,0.7l-1.2,0.3l-1.2,0.5l-1.2,0.3l-1.2,0.5l-1.3,0l-1.2,0l-1.2-0.5l-1.1-1l-1.1-0.6l-1-0.8l-0.8-1.1l-0.8-1l-0.8-0.9l-0.6-1l-0.9-0.5l-0.7-0.8l-0.1-1.6l0.1-1.5l-0.2-1.1l-0.3-0.9l-0.3-0.8l-0.6-0.6l-0.3-0.8l-0.2-0.9l0.1-0.9l0.1-0.9l0-0.8l-0.2-0.7l-0.5-0.7l-0.1-0.7l0.2-0.8l0.1-0.8l-0.1-0.7l0-0.7l0.2-0.7l0.5-0.7l-0.5-0.8l-0.8-0.9l0.1-0.7l0.6-0.6l0.5-0.7l-0.2-0.9l0.1-0.8l0.2-0.7l0.1-1l0.3-0.7l0.6-0.6l0.1-1l-0.1-1.3l0.4-0.9l0.7-0.6l0.5-0.8l0.2-1.4l0.4-1.4l0.7-0.8l0.7-1l0.8-0.9l1-0.8l0.9-0.9l1-1.1l1-1.2l1.3,0l1.3,0.3l1.2,0.3l1.2,0.6l1.1,0.6l1.1,0.4l1.2,0.1l1.1,0.4l1,0.6l0.9,0.9l0.7,1.1l0.4,1.5l0.3,1.5l0.4,1.1l0.6,0.7l0.5,0.8l0.3,1l0.3,0.9l0.2,0.9l0.1,1l0.2,0.8l0.3,0.6l0.3,0.7l-0.2,1l0,0.8l0.5,0.5l0.1,0.7l0,0.7l0.3,0.6l0.1,0.7l-0.2,0.8l-0.1,0.6z" fill="#fff100"/>
<path d="M212.3,144.5l0.2,0.6l0,0.7l-0.4,0.6l-0.4,0.5l0.3,0.7l-0.1,0.7l-0.2,0.6l-0.1,0.7l0,0.7l-0.1,0.7l-0.2,0.7l-0.2,0.7l0.2,1.1l-0.2,0.8l-0.1,1l-0.4,0.7l-0.5,0.7l-0.3,1l-0.2,1.2l-0.3,1.4l-0.5,1.1l-0.7,0.8l-0.8,0.7l-0.7,1.3l-0.7,1.5l-1,0.7l-1.2,0.5l-1.1,0.5l-1.2,0.3l-1.2,0.2l-1.2,0.1l-1.3-0.1l-1.1-0.6l-1-0.9l-1.1-0.7l-0.9-0.9l-0.8-1.1l-0.7-1l-0.7-0.9l-0.7-0.8l-0.9-0.5l-0.7-0.8l0.1-1.6l0.1-1.5l-0.2-1l-0.4-0.7l-0.2-0.9l-0.4-0.7l-0.2-0.8l-0.3-0.7l-0.2-0.8l0.2-0.9l0-0.8l-0.2-0.6l-0.3-0.7l-0.2-0.7l0.1-0.7l0-0.7l-0.1-0.7l0.2-0.7l0.2-0.7l0.3-0.6l-0.7-0.8l-0.6-0.9l0.2-0.7l0.5-0.6l0.4-0.6l0-0.8l0.1-0.8l0.2-0.7l0-0.9l0.3-0.8l0.4-0.6l0.2-1l0-1.1l0.2-1.1l0.5-0.8l0.6-0.7l0.3-1.2l0.5-1.1l0.6-0.9l0.7-1l0.8-1l0.8-0.9l0.9-1l1-0.9l1-1l1.3-0.1l1.2,0.3l1.2,0.4l1.2,0.6l1.1,0.5l1,0.4l1.1,0.2l1.1,0.5l0.9,0.6l0.9,0.9l0.7,1l0.5,1.3l0.3,1.3l0.4,1.2l0.5,0.7l0.5,0.8l0.1,1.1l0.1,1.1l0.2,0.9l0.2,0.7l0.4,0.7l0.2,0.7l0.3,0.7l-0.2,0.9l-0.2,0.7l0.4,0.6l0.2,0.6l0,0.7l0.3,0.6l0,0.7l-0.2,0.6l0.1,0.7z" fill="#ffd000"/>
<path d="M211.5,144.5l0.2,0.6l0.1,0.6l-0.3,0.6l-0.5,0.5l0.1,0.6l0,0.6l0.1,0.7l0,0.7l0.1,0.7l-0.1,0.7l-0.2,0.7l-0.2,0.7l0.2,1l-0.1,0.9l-0.2,0.9l-0.6,0.5l-0.5,0.6l-0.2,1l-0.3,1.1l-0.1,1.6l-0.5,1l-0.7,0.7l-0.7,0.9l-0.7,1.1l-0.7,1.5l-1,0.8l-1,0.6l-1.1,0.6l-1.2,0.1l-1.2,0.1l-1.2,0l-1.2-0.1l-1.1-0.7l-1-0.9l-1-0.6l-0.8-1l-0.7-1.1l-0.7-0.9l-0.7-0.9l-0.7-0.8l-0.8-0.5l-0.6-0.8l0.1-1.6l0.2-1.4l-0.4-0.8l-0.4-0.7l-0.1-0.9l-0.3-0.8l-0.1-0.7l-0.4-0.6l-0.4-0.6l0.2-0.9l0.2-0.8l-0.2-0.7l-0.2-0.6l-0.4-0.6l0-0.7l0-0.7l-0.1-0.6l0.3-0.7l0.3-0.6l0-0.7l-0.6-0.7l-0.5-0.8l0.2-0.7l0.5-0.6l0.3-0.6l0.1-0.8l0.2-0.6l0.1-0.8l-0.1-0.9l0.2-0.8l0.3-0.7l0.2-0.9l0.1-1l0-1.2l0.4-0.9l0.5-0.8l0.5-1l0.6-0.8l0.7-0.7l0.6-1.1l0.7-1.1l0.8-1l0.8-1.1l1-0.7l1.1-0.8l1.1-0.1l1.2,0.2l1.2,0.3l1.1,0.6l1.1,0.4l1.1,0.4l1,0.3l1,0.7l0.9,0.7l0.8,0.8l0.6,0.9l0.6,1.1l0.3,1.3l0.3,1.2l0.6,0.7l0.4,0.8l0.1,1.1l-0.1,1.2l0.1,0.9l0.4,0.5l0.5,0.6l0.1,0.7l0.1,0.7l-0.1,0.9l-0.2,0.7l0.1,0.6l0.3,0.6l0.1,0.6l0.3,0.6l-0.3,0.6l-0.1,0.6l0.3,0.6z" fill="#ffb000"/>
<path d="M210.7,144.5l0.1,0.6l0.1,0.5l-0.1,0.6l-0.4,0.5l-0.1,0.5l0.2,0.6l0.3,0.8l0.2,0.7l0,0.7l-0.2,0.6l-0.2,0.6l-0.1,0.8l0.1,1l0,0.8l-0.3,0.8l-0.7,0.3l-0.5,0.7l-0.2,0.9l-0.2,1.1l-0.1,1.5l-0.5,1l-0.7,0.7l-0.6,1l-0.6,1l-0.7,1.3l-0.9,1l-1,0.7l-1.1,0.6l-1.2-0.1l-1.1,0l-1.1,0.1l-1.2-0.2l-1-0.8l-0.9-0.9l-1-0.5l-0.8-0.9l-0.7-1.1l-0.7-0.8l-0.7-0.8l-0.6-0.8l-0.7-0.7l-0.4-0.9l0.1-1.5l0-1.2l-0.5-0.6l-0.3-0.7l0-1l-0.1-0.8l-0.2-0.7l-0.6-0.4l-0.5-0.5l0.4-1l0.3-0.8l-0.2-0.6l-0.3-0.6l-0.6-0.5l0-0.6l-0.1-0.7l0.1-0.7l0.4-0.6l0.3-0.6l-0.1-0.6l-0.5-0.7l-0.3-0.8l0.1-0.6l0.3-0.6l0.3-0.6l0.2-0.7l0.3-0.6l0-0.7l-0.2-0.9l0-0.9l0.3-0.7l0.2-0.9l0.2-0.9l0-1.2l0.2-1.1l0.4-0.9l0.6-0.8l0.7-0.5l0.8-0.6l0.6-1l0.5-1.3l0.7-1.2l0.8-1l1.1-0.5l1-0.6l1.1-0.1l1.2,0l1.1,0.3l1.1,0.4l1.1,0.2l1,0.5l1,0.5l0.8,0.9l0.9,0.8l0.8,0.6l0.6,0.9l0.6,1l0.3,1.3l0.3,1.1l0.5,0.7l0.4,0.8l0.1,1.1l-0.3,1.3l0.1,0.8l0.5,0.4l0.6,0.5l0,0.8l-0.1,0.8l0,0.7l-0.1,0.6l-0.1,0.7l0.2,0.6l0.2,0.5l0.2,0.5l-0.4,0.7l0,0.5l0.3,0.5z" fill="#ff9100"/>
<path d="M209.5,144.5l0.1,0.5l0.3,0.5l0.1,0.5l-0.4,0.5l-0.1,0.5l0.5,0.7l0.5,0.7l0.2,0.8l-0.1,0.6l-0.3,0.5l-0.4,0.5l0,0.8l0.2,0.9l0,0.9l-0.4,0.6l-0.6,0.4l-0.5,0.5l-0.2,0.9l-0.1,1.1l-0.1,1.4l-0.5,0.8l-0.7,0.7l-0.5,1.2l-0.6,0.9l-0.8,1l-0.8,1l-0.9,0.9l-1,0.5l-1.1-0.1l-1.1-0.1l-1.1,0.1l-1-0.3l-1-0.9l-0.8-0.9l-1-0.3l-0.8-0.7l-0.7-0.9l-0.7-0.8l-0.6-0.8l-0.6-0.7l-0.5-0.9l-0.3-1l0.1-1.3l-0.2-1l-0.6-0.4l-0.3-0.7l0.1-1l0-0.9l-0.1-0.7l-0.8-0.2l-0.4-0.5l0.6-1l0.5-0.9l-0.2-0.5l-0.5-0.5l-0.8-0.4l-0.1-0.6l0-0.7l0.1-0.6l0.6-0.6l0.2-0.6l-0.3-0.6l-0.3-0.6l-0.1-0.7l0-0.6l0.2-0.6l0.2-0.6l0.4-0.5l0.3-0.5l-0.1-0.8l-0.3-1l-0.1-0.9l0.3-0.7l0.2-0.8l0.2-0.8l0-1.2l0.1-1l0.3-1.1l0.6-0.8l0.8-0.3l0.8-0.4l0.6-0.9l0.4-1.3l0.6-1.3l0.8-1l1-0.5l1.1-0.4l1-0.1l1.1-0.1l1.1,0.1l1.1,0.2l1,0.2l1,0.6l0.9,0.6l0.8,1.1l0.7,0.9l0.8,0.5l0.7,0.8l0.5,1.1l0.2,1.3l0.3,0.9l0.5,0.7l0.4,0.7l0,1.1l-0.2,1.2l0,0.9l0.6,0.3l0.4,0.4l-0.1,0.9l-0.1,0.7l0.2,0.6l0.1,0.5l-0.4,0.8l0.1,0.5l0.3,0.5l0.2,0.5l-0.5,0.6l0.1,0.5l0.1,0.5z" fill="#ff7200"/>
<path d="M208,144.5l0.1,0.4l0.4,0.5l0.3,0.5l-0.2,0.4l-0.1,0.4l0.6,0.7l0.6,0.8l0.3,0.6l-0.2,0.6l-0.6,0.3l-0.4,0.4l0,0.7l0.3,0.9l0,0.8l-0.4,0.5l-0.6,0.3l-0.5,0.3l-0.2,0.8l-0.1,1l-0.1,1.2l-0.5,0.7l-0.6,0.5l-0.4,1l-0.6,0.7l-0.7,0.6l-0.7,1l-0.7,1l-0.9,0.4l-1-0.3l-0.9,0l-0.9,0.1l-0.9-0.4l-0.8-1.1l-0.7-0.8l-0.9,0.1l-0.8-0.3l-0.6-0.7l-0.6-0.6l-0.6-0.7l-0.5-0.7l-0.3-0.9l-0.2-0.9l0-1.1l-0.4-0.6l-0.6-0.3l-0.2-0.7l0-0.8l0.2-0.9l-0.1-0.6l-0.9-0.1l-0.3-0.5l0.7-1l0.6-0.8l-0.1-0.5l-0.7-0.3l-0.8-0.4l-0.2-0.5l-0.2-0.6l0.3-0.6l0.6-0.5l0.1-0.5l-0.4-0.6l0-0.5l0.1-0.5l-0.1-0.6l0-0.6l0.2-0.5l0.5-0.4l0.2-0.5l-0.2-0.8l-0.5-1l-0.1-0.9l0.3-0.5l0.2-0.8l0.2-0.7l0.1-0.9l0.2-1l0.1-1.1l0.5-0.7l0.8-0.3l0.7-0.3l0.7-0.5l0.4-1.2l0.5-1.4l0.6-0.9l0.9-0.5l1-0.3l1,0l0.9-0.1l1-0.2l1-0.1l1,0.2l0.8,0.7l0.9,0.7l0.6,1.2l0.6,1.1l0.7,0.3l0.7,0.6l0.3,1.2l0.1,1.2l0.5,0.7l0.4,0.5l0.3,0.7l0.1,0.9l-0.2,1.1l0,0.8l0.6,0.2l0.2,0.6l-0.3,0.8l-0.1,0.7l0.7,0.2l0.4,0.3l-0.7,0.9l-0.1,0.5l0.6,0.4l0,0.5l-0.4,0.5l-0.1,0.5l-0.1,0.5z" fill="#ff5400"/>
<path d="M206.2,144.5l0.2,0.3l0.5,0.4l0.6,0.5l-0.2,0.3l-0.1,0.4l0.8,0.6l0.6,0.7l0.2,0.6l-0.2,0.5l-0.7,0.1l-0.6,0.2l0.1,0.6l0.3,0.9l0,0.7l-0.4,0.3l-0.5,0.2l-0.5,0.2l-0.3,0.5l0,0.9l-0.1,1l-0.3,0.6l-0.6,0.3l-0.3,0.9l-0.6,0.2l-0.6,0.2l-0.5,1.1l-0.5,1.3l-0.8,0.2l-0.7-0.4l-0.8,0.1l-0.8,0.1l-0.7-0.6l-0.5-1.2l-0.6-0.6l-0.8,0.5l-0.7,0.1l-0.6-0.4l-0.6-0.5l-0.4-0.6l-0.4-0.6l-0.2-0.9l-0.1-0.9l-0.1-0.7l-0.6-0.2l-0.7-0.1l0-0.8l0.1-0.7l0.1-0.8l0-0.6l-0.9,0l-0.1-0.5l0.7-0.9l0.6-0.7l0.1-0.5l-0.6-0.2l-1-0.2l-0.5-0.4l-0.3-0.5l0.4-0.5l0.7-0.5l0-0.4l-0.5-0.5l0.2-0.5l0.3-0.4l-0.1-0.5l-0.2-0.6l0-0.5l0.6-0.3l0.2-0.4l-0.5-0.8l-0.4-0.9l-0.2-0.8l0.3-0.5l0.1-0.8l0.3-0.5l0.3-0.7l0.2-0.7l0-1l0.3-0.9l0.6-0.4l0.8-0.2l0.7,0l0.4-1l0.3-1.4l0.6-1.1l0.7-0.7l0.9-0.2l0.9,0.3l0.8-0.1l0.9-0.7l0.9-0.3l0.9,0.4l0.7,1.1l0.8,0.5l0.5,1.5l0.3,1.2l0.7,0.3l0.6,0.4l0.1,1.3l0,1.2l0.5,0.4l0.4,0.4l0.3,0.6l0,0.8l-0.1,0.8l0.1,0.6l0.4,0.2l-0.1,0.7l-0.4,0.8l0,0.5l1.2-0.2l0.8,0.2l-1.1,0.9l-0.3,0.6l0.9,0.1l0.1,0.5l-0.4,0.5l-0.2,0.4l-0.7,0.4z" fill="#ff3600"/>
<path d="M202.4,144.5l0.2,0.1l0.8,0.2l0.8,0.3l-0.2,0.2l-0.1,0.2l0.8,0.5l0.7,0.5l0.2,0.4l-0.2,0.3l-0.8-0.2l-0.7-0.1l0.2,0.4l0.3,0.6l0.1,0.4l-0.4,0.1l-0.4,0l-0.4-0.1l-0.3,0.1l0,0.4l0.1,0.8l0,0.5l-0.4,0.1l-0.2,0.4l-0.4-0.2l-0.4-0.2l0,1.2l-0.2,1.6l-0.4,0l-0.5-0.4l-0.4,0.3l-0.4,0.1l-0.4-0.7l-0.3-0.9l-0.3-0.2l-0.7,1.2l-0.6,0.5l-0.5,0l-0.5-0.2l-0.2-0.5l-0.2-0.5l-0.1-0.7l0-0.7l-0.4-0.2l-0.8,0.4l-0.5-0.1l0.3-0.8l-0.1-0.5l0-0.5l0-0.4l-0.7,0l0-0.5l0.6-0.6l0.6-0.6l0.4-0.5l-0.4-0.1l-1.2,0l-1.1-0.2l-0.4-0.4l0.5-0.4l0.8-0.4l0-0.3l-0.5-0.4l0.2-0.4l0.6-0.2l-0.2-0.4l-0.5-0.6l-0.3-0.5l0.6-0.2l0.2-0.3l-0.6-0.8l-0.4-0.8l-0.2-0.7l0.3-0.4l-0.2-0.9l0.4-0.3l0.4-0.3l0.2-0.6l0-0.9l0.2-0.9l0.4-0.5l0.6-0.2l0.9,0.5l0.3-0.8l0.2-1.5l0.3-1.3l0.6-0.9l0.8,0.1l0.8,0.6l0.8,0.1l0.7-0.8l0.8-0.3l0.7,0.9l0.4,1.7l0.6,0.7l0.2,1.6l0,1.6l0.4,0.2l0.4,0.4l-0.2,1.3l-0.2,1.2l0.2,0.1l0.3,0.2l0.1,0.4l-0.1,0.6l0,0.4l0.2,0.2l0.3,0.1l-0.5,0.7l-0.7,0.7l0.2,0.1l1.7-0.7l1.2-0.2l-1.6,1l-0.5,0.4l1.2-0.1l0.2,0.3l-0.3,0.3l-0.5,0.3l-1,0.3z" fill="#ff1900"/>
</g>
<path d="M540.6,162l-0.3,1.3l0.1,1.3l-0.1,1.3l-0.7,1.3l-1.1,1.2l-0.5,1.2l-0.1,1.3l-0.4,1.2l-0.6,1.2l-0.7,1.1l-0.7,1.1l-0.6,1.2l-0.5,1.1l-0.4,1.2l-0.4,1.1l-0.7,1.1l-0.6,1.1l-0.3,1.2l-0.7,1l-0.7,1l-0.4,1.2l-1.3,0.7l-0.6,1l-0.7,1l-1.2,0.7l-1,0.7l-0.5,1.1l-0.5,1.1l-0.8,0.9l-1,0.6l-1.1,0.6l-1.1,0.6l-1,0.7l-1.2,0.5l-1,0.6l-1,0.6l-1.3,0.3l-1,0.4l-1.2,0.4l-1,0.5l-0.9,0.6l-1.2,0.1l-1.1,0.3l-1,0.5l-0.7,0.7l-0.8,0.7l-0.8,0.7l-0.9,0.5l-1,0.3l-1.1,0.1l-1.1,0.2l-1.1,0l-1,0.3l-0.8,0.6l-1,0.3l-0.8,0.6l-0.9,0.6l-1,0.2l-0.9,0.3l-1.1,0.1l-1,0.1l-0.8,0.6l-1,0.3l-1.1-0.3l-1,0.2l-0.9,0.2l-1,0.4l-1,0.1l-1-0.3l-1,0.3l-0.9,0.7l-1,0.1l-1-0.1l-1,0.3l-1,0.4l-1-0.2l-1-0.7l-1,0.1l-1,0.3l-1-0.6l-0.9-0.4l-1-0.1l-1-0.1l-1-0.3l-0.9-0.4l-0.9-0.4l-1,0l-1-0.2l-0.9-0.5l-0.8-0.5l-0.9-0.4l-0.9-0.4l-0.9-0.5l-0.9-0.2l-0.9-0.4l-0.8-0.6l-1.1,0l-0.9-0.4l-0.9-0.3l-1.1-0.2l-1.1-0.1l-1.1-0.1l-1-0.3l-0.8-0.6l-1-0.3l-1.1-0.4l-0.7-0.7l-0.9-0.5l-1.1-0.3l-1-0.4l-0.8-0.8l-0.7-0.8l-1-0.4l-1.2-0.4l-1.1-0.4l-0.7-0.9l-0.8-0.7l-0.9-0.6l-0.8-0.8l-1.1-0.5l-0.9-0.7l-0.7-1l-0.9-0.7l-1.2-0.6l-1.1-0.6l-0.6-1l-0.7-1l-1.1-0.7l-0.9-0.9l-0.8-0.9l-1.2-0.7l-1.4-0.8l-1.2-0.8l-1-1l-0.8-1.1l-0.8-1l-1.1-1l-0.8-1.2l-0.7-1.1l-0.7-1.2l-0.7-1.2l-0.9-1.2l-0.8-1.2l-0.4-1.3l-0.5-1.3l-0.5-1.3l-0.5-1.4l-0.7-1.3l-0.3-1.4l0.1-1.4l-0.2-1.4l-0.7-1.4l-0.5-1.5l0.2-1.4l0-1.4l0.2-1.4l0.5-1.4l0-1.4l0-1.5l0.2-1.4l0.5-1.3l1.2-1.2l0.5-1.3l0.4-1.4l0.5-1.3l0.4-1.3l0.3-1.4l0.4-1.4l0.5-1.3l0.6-1.2l0.8-1.2l0.8-1.2l0.4-1.4l0.2-1.5l0.7-1.2l0.6-1.3l0.3-1.5l0.4-1.4l0.5-1.4l0.3-1.5l0.4-1.6l0.9-1.2l1.4-0.7l1.5-0.7l1.1-0.9l0.9-1.2l0.6-1.4l0.8-1.3l1-1l0.8-1.2l1-1.2l1.6-0.4l1.2-0.8l1.3-0.6l1.5-0.5l1.2-0.7l1.1-1l1-1.2l1.3-0.6l1.4-0.6l1.3-0.5l0.9-1.4l0.9-1.4l1.1-1.3l1.1-1.2l1-1.4l1.1-1.2l1.3-0.9l1.3-1.1l1.3-1.1l1.3-1.1l1.3-1.1l1.3-1.3l1.5-0.8l1.6-0.4l1.7,0.6l1.8,0.7l1.5-0.4l1.6,0.1l1.7,0.9l1.6,0.5l1.6,0.2l1.5-0.2l1.6,0l1.5,0.2l1.5,0l1.6,0.1l1.5-0.4l1.6-0.5l1.6,0.1l1.5,0.3l1.6,0.1l1.6-0.2l1.4,0.8l1.5,0.7l1.5,0.1l1.5,0.4l1.6,0.1l1.5,0.3l1.5,0.5l1.4,0.9l1.1,1.5l1.2,1.2l1.1,1.2l0.9,1.7l1,1.2l1.2,1l0.8,1.6l1.1,1l1.1,0.8l0.9,1.4l0.9,1.2l0.6,1.5l1,1.1l1.3,0.5l0.9,1l0.8,1.3l0.9,0.9l1.2,0.7l0.9,1.1l0.5,1.5l0.9,0.9l1.1,0.8l0.9,1l0.9,1l0.8,1.1l1.2,0.7l0.9,1.1l0.7,1.1l0.9,1.1l0.8,1l0.4,1.4l0.7,1.1l0.7,1.2l0.9,1l1.2,0.9l0.6,1.2l0.6,1.2l0.5,1.3l0.6,1.2l0.7,1.2l0.5,1.2l0.6,1.2l0.6,1.3l0.4,1.3l0.2,1.4l0.6,1.2l0.5,1.3l0,1.4l0,1.4l-0.1,1.4l0.3,1.3l0.1,1.3l-0.3,1.4l-0.2,1.4l0.5,1.3l0.1,1.3l-0.5,1.4l-0.3,1.3z" fill="#000"/>
<g filter="url(#sm)">
<path d="M538.4,162l-0.7,3.1l-1,3.1l-1,3l-0.6,3l-1.6,2.7l-2,2.5l-1.7,2.5l-1.8,2.5l-1.6,2.3l-1.7,2.4l-2.1,2l-2.5,1.6l-2.7,1.4l-2.4,1.4l-2.3,1.4l-2.2,1.4l-2.7,0.7l-2.7,0.6l-2.4,0.7l-2.2,1.1l-2.1,1l-2.2,0.8l-2.3,0.6l-2.3,0.6l-2.1,1.2l-2.3,0.7l-2.4-0.2l-2.4-0.1l-2.3,0.5l-2.3,0.7l-2.4,0.3l-2.4-0.2l-2.3-0.6l-2.2-1l-2.2-0.9l-2.2-0.7l-2.3-0.5l-2.2-0.8l-2.1-0.9l-2.4-0.7l-2.5-0.5l-2-1.2l-1.9-1.6l-2.3-1l-2.5-1l-2.2-1.4l-2.1-1.6l-2.2-1.6l-2.4-1.5l-2.4-1.7l-2.4-1.9l-2.7-1.8l-2.8-2l-2.7-2.3l-2.5-2.5l-1.9-2.8l-1.4-3l-1.3-3.2l-1.4-3.2l-1.1-3.4l-0.3-3.4l0-3.5l0-3.5l0.5-3.5l1.2-3.3l1.6-3.1l1.3-3.2l0.8-3.4l0.9-3.4l1.2-3.3l1.5-3.2l1.6-3.2l2-3l2.3-2.7l2.7-2.4l2.5-2.5l2.6-2.5l2.9-2.1l3.2-1.6l3.2-1.7l2.6-2.5l2.5-3.1l2.9-2.7l3.1-2.7l3.3-2.4l3.7-1.3l4,0.1l4,0.5l3.8,0.2l3.8,0.1l3.8,0.4l3.7,0.3l3.8,0l3.8,0.4l3.7,1.2l3.3,1.9l3.2,2.2l2.8,2.8l2.4,3.3l2.4,2.9l2.4,2.6l2.2,2.7l2.3,2.4l2.7,2l2.4,2.3l1.9,2.8l2,2.6l2.3,2.4l1.7,2.8l1.9,2.7l1.9,2.8l1.4,3l0.9,3.2l1.3,3l0.9,3.2l0.4,3.3l0.5,3.3l-0.2,3.3l-0.7,3.3z" fill="#020003"/>
<path d="M536.5,162l-0.6,3l-0.9,3l-1,2.9l-0.9,2.9l-1.8,2.5l-2,2.4l-1.8,2.4l-1.7,2.3l-1.6,2.2l-1.5,2.3l-2.1,1.9l-2.5,1.5l-2.6,1.2l-2.4,1.3l-2.2,1.3l-2.1,1.3l-2.6,0.7l-2.6,0.4l-2.3,0.6l-2.1,1l-2,0.9l-2.1,0.9l-2.2,0.6l-2.1,0.7l-2,1l-2.1,0.6l-2.3,0l-2.2,0l-2.2,0.4l-2.2,0.5l-2.2,0.2l-2.3-0.2l-2.2-0.6l-2-1l-2.1-0.9l-2.1-0.6l-2.2-0.4l-2.1-0.5l-2-0.9l-2.2-0.8l-2.4-0.4l-2-1l-1.8-1.5l-2.2-1l-2.3-1l-2.1-1.3l-2.1-1.4l-2.3-1.4l-2.4-1.4l-2.3-1.6l-2.6-1.6l-2.7-1.8l-2.8-1.9l-2.7-2.1l-2.5-2.4l-1.8-2.8l-1.6-2.9l-1.6-3l-1.6-3.2l-1-3.3l-0.4-3.4l0-3.4l0-3.4l0.5-3.4l1.1-3.3l1.3-3.1l1.3-3.2l1-3.3l0.9-3.3l1.2-3.3l1.4-3.2l1.6-3.2l1.9-2.9l2.4-2.6l2.6-2.4l2.5-2.4l2.7-2.3l2.9-2l3.1-1.6l3.1-1.7l2.6-2.5l2.6-2.9l2.8-2.6l3-2.6l3.2-2.5l3.7-1.2l3.9,0.3l3.9,0.5l3.7,0.3l3.7,0.1l3.7,0.3l3.7,0.2l3.7,0l3.7,0.4l3.5,1.2l3.3,1.9l3.1,2.1l2.8,2.7l2.4,3.1l2.3,2.7l2.3,2.7l2.1,2.8l2.2,2.4l2.6,2.1l2.2,2.3l2,2.6l2,2.4l2.3,2.4l1.8,2.7l1.8,2.6l1.8,2.7l1.4,3l0.8,3.1l1.2,3l0.9,3.1l0.3,3.3l0.3,3.2l-0.3,3.2l-0.8,3.2z" fill="#09000a"/>
<path d="M535,162l-0.5,3l-0.8,2.9l-1,2.8l-1.1,2.7l-1.9,2.5l-2.1,2.3l-1.8,2.2l-1.8,2.2l-1.5,2.2l-1.4,2.2l-2.1,1.8l-2.5,1.3l-2.5,1.2l-2.4,1.2l-2.1,1.2l-2.1,1.2l-2.4,0.6l-2.6,0.4l-2.2,0.6l-2,0.8l-2,0.8l-1.9,0.9l-2.1,0.6l-1.9,0.8l-2,1l-2,0.5l-2.2,0.1l-2.1,0.1l-2.1,0.3l-2.1,0.3l-2.1,0.1l-2.2-0.1l-2-0.6l-2-1.1l-1.9-0.9l-2-0.5l-2.1-0.3l-2.1-0.4l-2-0.8l-2-0.8l-2.3-0.4l-2.1-0.8l-1.7-1.3l-2-1.1l-2.2-1l-2.1-1.2l-2.1-1.3l-2.3-1.2l-2.3-1.4l-2.4-1.4l-2.7-1.5l-2.7-1.7l-2.7-1.8l-2.7-2.1l-2.5-2.3l-1.9-2.7l-1.8-2.8l-1.8-2.9l-1.5-3.1l-1-3.3l-0.5-3.3l-0.2-3.4l0.2-3.4l0.6-3.3l0.9-3.3l1.2-3.1l1.2-3.2l1.1-3.1l1-3.3l1.2-3.2l1.3-3.3l1.5-3.1l2-2.9l2.4-2.5l2.4-2.5l2.5-2.4l2.8-2.1l2.9-1.8l3.1-1.7l3-1.6l2.6-2.4l2.6-2.8l2.7-2.6l2.9-2.7l3.2-2.4l3.6-1.2l3.9,0.4l3.8,0.7l3.7,0.3l3.6,0l3.6,0.3l3.6,0.2l3.7-0.1l3.6,0.4l3.5,1.3l3.2,1.9l3,2.1l2.8,2.5l2.3,3l2.4,2.7l2.3,2.6l2,2.8l2.1,2.5l2.4,2.1l2.1,2.3l2,2.5l2.1,2.3l2.2,2.3l1.8,2.6l1.8,2.6l1.8,2.6l1.3,2.9l0.8,3.2l1.1,2.9l0.8,3.1l0.3,3.1l0.1,3.2l-0.4,3.2l-0.7,3.1z" fill="#170019"/>
<path d="M533.9,162l-0.5,2.9l-0.8,2.9l-1,2.7l-1.2,2.7l-2,2.3l-2.1,2.3l-1.8,2.1l-1.8,2.1l-1.5,2.1l-1.4,2.1l-2,1.7l-2.5,1.3l-2.4,1.2l-2.3,1.1l-2.2,1.1l-2.1,1.1l-2.3,0.6l-2.4,0.4l-2.2,0.6l-1.9,0.8l-2,0.7l-1.8,0.9l-1.9,0.7l-1.9,0.9l-1.9,0.9l-2,0.5l-2.1,0.1l-2,0.1l-2.1,0.2l-2,0.2l-2.1,0.2l-2-0.1l-2-0.8l-1.9-1l-1.8-0.8l-2-0.6l-2-0.2l-2.1-0.4l-1.9-0.7l-1.9-0.7l-2.2-0.4l-2.2-0.7l-1.8-1.2l-1.8-1.2l-2-1l-2.1-1l-2.1-1.2l-2.2-1.2l-2.3-1.4l-2.3-1.4l-2.7-1.4l-2.7-1.6l-2.6-1.8l-2.7-2l-2.4-2.3l-2-2.5l-1.9-2.8l-1.7-2.9l-1.5-3l-0.9-3.2l-0.6-3.3l-0.4-3.3l0.2-3.3l0.7-3.2l0.9-3.2l0.9-3.2l1.1-3.1l1.3-3.1l1.2-3.1l1.2-3.1l1.1-3.3l1.5-3.1l2.1-2.6l2.3-2.5l2.4-2.5l2.5-2.4l2.7-1.9l2.9-1.8l3-1.6l2.9-1.7l2.6-2.2l2.5-2.7l2.7-2.6l2.8-2.6l3.1-2.3l3.6-1.2l3.7,0.3l3.8,0.8l3.6,0.3l3.5,0l3.5,0.2l3.6,0.2l3.5-0.1l3.6,0.4l3.3,1.3l3.2,1.9l2.9,2.1l2.7,2.4l2.3,2.9l2.4,2.6l2.2,2.5l2,2.7l2,2.5l2.2,2.1l2.1,2.3l1.9,2.4l2.1,2.2l2.2,2.3l1.9,2.4l1.8,2.5l1.7,2.6l1.3,2.9l0.8,3l1,2.9l0.8,3l0.4,3.1l0.1,3.1l-0.4,3.1l-0.7,3z" fill="#28002a"/>
<path d="M532.9,162l-0.4,2.9l-0.8,2.8l-1,2.7l-1.2,2.6l-2.1,2.3l-2,2.2l-1.8,2.1l-1.8,2l-1.6,2l-1.3,2.1l-2,1.7l-2.5,1.2l-2.3,1.2l-2.2,1.1l-2.2,1l-2,1l-2.3,0.7l-2.3,0.5l-2,0.6l-2,0.7l-1.9,0.7l-1.8,0.9l-1.9,0.8l-1.8,0.9l-1.9,0.8l-1.9,0.4l-2.1,0.2l-2,0.1l-2,0.1l-2,0.2l-2,0.2l-2.1,0l-1.9-0.8l-1.8-1.1l-1.9-0.7l-1.9-0.5l-2-0.2l-1.9-0.5l-2-0.6l-1.9-0.6l-2.1-0.5l-2.2-0.6l-1.8-1.1l-1.6-1.3l-2-1.1l-2.2-1l-2-1.1l-2.2-1.2l-2.1-1.4l-2.3-1.4l-2.6-1.3l-2.6-1.6l-2.4-1.9l-2.5-2l-2.2-2.2l-2-2.5l-2-2.6l-1.7-2.8l-1.3-3l-0.9-3.1l-0.7-3.2l-0.6-3.2l0.2-3.3l0.7-3.2l0.8-3.1l0.8-3.1l1.2-3.1l1.4-2.8l1.3-3l1.2-3.1l1.1-3.1l1.5-3l2.2-2.5l2.2-2.4l2.3-2.4l2.4-2.3l2.7-1.9l2.8-1.6l2.9-1.7l2.7-1.6l2.6-2.2l2.4-2.6l2.6-2.6l2.8-2.4l3-2.2l3.4-1.1l3.7,0.3l3.6,0.7l3.5,0.4l3.4-0.1l3.4,0.2l3.4,0.2l3.5-0.2l3.5,0.2l3.2,1.4l3,1.9l2.9,2.1l2.6,2.4l2.3,2.7l2.3,2.4l2.2,2.4l1.9,2.7l1.9,2.4l2.1,2.2l2,2.2l1.9,2.3l2.1,2.1l2.1,2.1l1.9,2.4l1.9,2.4l1.7,2.5l1.3,2.7l0.8,3l1,2.9l0.9,2.8l0.5,3l0.2,3l-0.4,3.1l-0.7,3z" fill="#370039"/>
<path d="M531.9,162l-0.3,2.8l-0.9,2.8l-1,2.6l-1.3,2.6l-2,2.2l-1.9,2.2l-1.8,2l-1.8,2l-1.6,1.9l-1.3,2.1l-2,1.6l-2.3,1.3l-2.3,1.1l-2.1,1.1l-2.1,1.1l-2.1,0.9l-2.2,0.7l-2.3,0.4l-1.9,0.7l-2,0.7l-1.9,0.7l-1.7,0.8l-1.8,0.8l-1.8,0.9l-1.9,0.7l-1.9,0.3l-2,0.4l-2,0.1l-1.9,0l-2,0.2l-2,0.3l-2,0l-1.9-0.8l-1.8-1.1l-1.8-0.7l-1.9-0.4l-1.9-0.3l-1.9-0.5l-2-0.5l-1.9-0.6l-2-0.5l-2.2-0.6l-1.8-1l-1.5-1.4l-1.9-1.1l-2.1-0.9l-2.2-1.1l-2.1-1.2l-2-1.4l-2.2-1.3l-2.5-1.4l-2.5-1.6l-2.2-1.8l-2.3-2l-2.1-2.2l-1.9-2.4l-2.1-2.5l-1.5-2.8l-1.3-2.9l-0.9-3l-0.8-3.1l-0.7-3.2l0.1-3.2l0.6-3.1l0.6-3.1l0.9-3.1l1.3-2.9l1.6-2.7l1.2-2.9l1.2-2.9l1.1-3.1l1.6-2.8l2.1-2.4l2.3-2.3l2.2-2.3l2.3-2.2l2.7-1.8l2.7-1.6l2.7-1.6l2.6-1.8l2.5-2.1l2.4-2.4l2.5-2.5l2.8-2.3l2.9-2l3.3-1.1l3.5,0.2l3.5,0.8l3.4,0.3l3.3,0l3.3,0.2l3.3,0.1l3.4-0.3l3.4,0.1l3.2,1.3l2.8,2l2.7,2.1l2.5,2.4l2.3,2.5l2.3,2.2l2.1,2.4l1.8,2.6l1.9,2.4l2,2.1l2,2.1l1.9,2.2l2.1,2l2,2.1l1.9,2.3l1.8,2.3l1.8,2.4l1.4,2.6l0.8,2.9l0.8,2.8l1.1,2.8l0.7,2.9l0.2,2.9l-0.5,3l-0.7,3z" fill="#430048"/>
<path d="M530.9,162l-0.4,2.8l-0.8,2.7l-1.2,2.5l-1.2,2.5l-1.9,2.3l-1.8,2.1l-1.7,2l-1.9,1.9l-1.5,1.9l-1.4,2l-1.9,1.6l-2.2,1.3l-2.2,1.1l-2.1,1.1l-2,1.1l-2.2,0.8l-2.2,0.6l-2.1,0.5l-1.9,0.7l-1.9,0.7l-1.8,0.7l-1.9,0.6l-1.8,0.7l-1.7,0.9l-1.8,0.6l-1.9,0.4l-1.9,0.4l-1.9,0.2l-2,0l-1.9,0.3l-2,0.3l-1.9-0.1l-1.9-0.7l-1.7-1l-1.8-0.7l-1.8-0.5l-1.9-0.3l-1.9-0.6l-1.9-0.4l-1.9-0.5l-2-0.7l-2-0.5l-1.9-1l-1.5-1.3l-1.8-1.1l-2.1-0.9l-2.1-1l-2.1-1.2l-1.9-1.3l-2.2-1.4l-2.4-1.4l-2.3-1.6l-2.1-1.8l-2.1-2l-1.9-2.1l-2-2.3l-2-2.5l-1.5-2.7l-1.2-2.8l-1-2.9l-0.8-3l-0.7-3.1l-0.1-3.1l0.4-3.1l0.5-3.1l0.9-3l1.5-2.7l1.6-2.7l1.3-2.8l1.2-2.8l1.2-2.9l1.6-2.7l2.1-2.3l2.2-2.2l2.2-2.2l2.3-2l2.5-1.8l2.6-1.7l2.6-1.5l2.5-1.8l2.4-2l2.4-2.3l2.5-2.3l2.7-2.1l2.8-2l3.2-1l3.4,0.1l3.3,0.7l3.3,0.3l3.2,0.1l3.2,0.3l3.2,0l3.3-0.4l3.3-0.1l3.1,1.2l2.7,2.1l2.6,2.1l2.4,2.4l2.2,2.3l2.3,2.1l2,2.4l1.7,2.6l1.8,2.2l2.1,1.9l2,2l1.9,2.1l2,2l1.9,2.1l1.8,2.2l1.8,2.2l1.8,2.3l1.5,2.5l0.8,2.8l0.8,2.7l1.1,2.7l0.8,2.8l0.4,2.9l-0.5,2.9l-0.7,2.9z" fill="#4e0058"/>
<path d="M529.5,162l-0.4,2.7l-0.8,2.6l-1.2,2.5l-1.3,2.4l-1.6,2.2l-1.7,2.1l-1.7,2l-1.7,1.9l-1.6,1.8l-1.4,1.9l-2,1.5l-2.1,1.2l-2,1.2l-2,1.1l-2,1.1l-2.2,0.6l-2.2,0.6l-2,0.6l-1.8,0.8l-1.8,0.7l-1.8,0.6l-1.9,0.5l-1.7,0.6l-1.8,0.8l-1.8,0.5l-1.8,0.4l-1.8,0.5l-1.9,0.2l-1.8,0.2l-1.9,0.3l-1.9,0.2l-1.9-0.1l-1.8-0.6l-1.8-0.9l-1.7-0.8l-1.7-0.6l-1.9-0.2l-1.8-0.5l-1.8-0.5l-1.9-0.5l-1.9-0.7l-1.9-0.6l-1.8-0.9l-1.6-1.1l-1.8-1.1l-1.9-1l-2.1-0.9l-2.1-1.1l-1.9-1.4l-2-1.3l-2.3-1.4l-2.1-1.6l-2-1.8l-1.9-1.9l-1.7-2.1l-2-2.3l-1.9-2.3l-1.4-2.6l-1.3-2.7l-1-2.8l-0.8-2.9l-0.6-3l-0.3-3l0.1-3.1l0.5-3l0.9-2.9l1.6-2.6l1.6-2.6l1.3-2.6l1.3-2.7l1.4-2.6l1.6-2.6l1.9-2.3l2.2-2l2.2-2l2.2-1.9l2.4-1.8l2.4-1.7l2.5-1.5l2.4-1.7l2.3-1.9l2.3-2.1l2.5-2.1l2.5-1.9l2.8-1.9l3-1l3.2,0.1l3.2,0.5l3.1,0.3l3.1,0.3l3,0.4l3.1-0.1l3.1-0.4l3.3-0.3l2.9,1l2.7,2l2.4,2.1l2.3,2.3l2.1,2.2l2.3,2l1.8,2.3l1.6,2.5l1.9,2.1l2,1.8l2,1.8l1.9,1.9l1.9,2l1.8,2l1.7,2.2l1.8,2.1l1.8,2.2l1.5,2.3l0.9,2.7l0.8,2.7l1.2,2.5l0.9,2.7l0.5,2.8l-0.4,2.9l-0.8,2.8z" fill="#58006e"/>
<path d="M528.1,162l-0.4,2.6l-0.8,2.6l-1.3,2.4l-1.3,2.3l-1.5,2.2l-1.5,2l-1.5,2l-1.6,1.9l-1.6,1.8l-1.6,1.7l-2.1,1.3l-2,1.3l-1.9,1.2l-1.9,1.1l-2,0.9l-2.2,0.6l-2,0.6l-1.8,0.7l-1.8,0.8l-1.7,0.8l-1.8,0.5l-1.9,0.4l-1.7,0.5l-1.7,0.7l-1.7,0.5l-1.8,0.5l-1.8,0.5l-1.8,0.2l-1.8,0.2l-1.8,0.3l-1.8,0.2l-1.9-0.2l-1.8-0.4l-1.7-0.8l-1.7-0.8l-1.6-0.7l-1.8-0.2l-1.8-0.5l-1.8-0.5l-1.8-0.6l-1.8-0.6l-1.8-0.6l-1.8-0.9l-1.6-1l-1.7-1.1l-1.9-0.9l-2-0.9l-2-1.1l-1.9-1.3l-2-1.3l-2.1-1.4l-1.8-1.6l-1.9-1.8l-1.9-1.8l-1.6-2.1l-1.8-2.1l-2-2.3l-1.3-2.5l-1.2-2.6l-1.1-2.7l-0.9-2.8l-0.4-2.9l-0.3-2.9l-0.2-3l0.4-2.9l1-2.8l1.5-2.6l1.6-2.4l1.4-2.6l1.5-2.4l1.5-2.4l1.5-2.5l1.9-2.1l2.1-2l2.1-1.9l2.2-1.8l2.1-1.8l2.4-1.6l2.4-1.4l2.3-1.7l2.3-1.7l2.2-1.9l2.3-1.9l2.5-1.8l2.6-1.8l2.9-1l3,0.1l3.1,0.4l3,0.2l2.9,0.4l2.9,0.5l2.9-0.1l3-0.4l3.1-0.3l2.9,0.7l2.5,1.8l2.4,2l2.1,2.2l2.1,2.1l2.1,1.9l1.8,2.3l1.5,2.4l1.9,1.9l1.9,1.7l1.9,1.8l2,1.7l1.8,1.9l1.7,2l1.6,2.1l1.7,2l1.9,2l1.6,2.3l1,2.5l0.8,2.6l1.1,2.4l1.1,2.6l0.6,2.7l-0.3,2.8l-0.8,2.7z" fill="#5b008a"/>
<path d="M526.7,162l-0.4,2.5l-0.8,2.5l-1.4,2.3l-1.3,2.3l-1.3,2.1l-1.4,2.1l-1.3,1.9l-1.5,1.9l-1.6,1.7l-1.9,1.5l-2.2,1.2l-1.8,1.2l-1.8,1.3l-1.8,1.1l-2,0.8l-2.2,0.5l-1.8,0.7l-1.7,0.9l-1.7,0.8l-1.7,0.7l-1.8,0.5l-1.8,0.3l-1.7,0.5l-1.6,0.7l-1.7,0.5l-1.7,0.4l-1.7,0.5l-1.8,0.2l-1.7,0.3l-1.8,0.3l-1.8,0l-1.8-0.1l-1.8-0.3l-1.6-0.7l-1.6-0.9l-1.7-0.6l-1.7-0.3l-1.8-0.4l-1.7-0.6l-1.7-0.5l-1.8-0.6l-1.7-0.7l-1.7-0.9l-1.6-1l-1.7-0.9l-1.8-1l-1.9-0.9l-2-1l-1.9-1.2l-2-1.2l-1.8-1.5l-1.6-1.7l-1.9-1.6l-1.7-1.9l-1.5-2l-1.8-2l-1.8-2.2l-1.2-2.4l-1.2-2.5l-1.3-2.6l-0.8-2.7l-0.3-2.8l-0.3-2.8l-0.3-2.9l0.4-2.8l0.8-2.8l1.5-2.4l1.5-2.4l1.5-2.4l1.8-2.2l1.5-2.2l1.4-2.4l1.9-2l2-1.8l2-1.9l2-1.8l2-1.8l2.3-1.4l2.4-1.4l2.2-1.5l2.2-1.5l2.2-1.8l2.2-1.8l2.4-1.7l2.4-1.6l2.8-1l2.9,0.1l2.9,0.3l2.8,0.1l2.8,0.6l2.7,0.4l2.8-0.2l2.9-0.2l2.8-0.2l2.9,0.5l2.5,1.3l2.3,1.9l2.1,2.1l2,1.9l2,2l1.6,2.3l1.6,2.1l1.8,1.8l1.8,1.7l1.8,1.7l1.9,1.6l1.8,1.8l1.7,1.9l1.5,2l1.7,1.9l1.9,1.9l1.5,2.2l1.1,2.4l0.8,2.5l1.2,2.3l1.2,2.5l0.8,2.6l-0.3,2.7l-0.8,2.7z" fill="#5400a8"/>
<path d="M525.3,162l-0.5,2.5l-0.7,2.4l-1.4,2.2l-1.3,2.2l-1.1,2.1l-1.3,2l-1.2,2l-1.4,1.8l-1.8,1.6l-2,1.3l-2.2,1.1l-1.8,1.2l-1.6,1.2l-1.7,1.2l-2,0.7l-2.1,0.5l-1.7,0.8l-1.6,0.9l-1.6,0.8l-1.6,0.7l-1.8,0.5l-1.7,0.3l-1.7,0.5l-1.6,0.6l-1.6,0.5l-1.7,0.3l-1.7,0.5l-1.7,0.2l-1.7,0.3l-1.7,0.3l-1.7,0l-1.8-0.1l-1.7-0.2l-1.6-0.8l-1.6-0.8l-1.6-0.5l-1.7-0.2l-1.7-0.4l-1.6-0.7l-1.7-0.5l-1.7-0.6l-1.7-0.8l-1.6-0.8l-1.6-1l-1.7-0.8l-1.7-0.9l-1.9-0.9l-1.9-1l-1.8-1.2l-1.9-1.2l-1.7-1.5l-1.5-1.7l-1.7-1.6l-1.7-1.7l-1.4-2l-1.7-2l-1.7-2.1l-1.1-2.3l-1.2-2.4l-1.4-2.5l-0.8-2.6l-0.2-2.7l-0.3-2.7l-0.2-2.8l0.3-2.7l0.8-2.7l1.3-2.4l1.4-2.3l1.7-2.2l1.9-2l1.5-2.1l1.4-2.2l1.8-1.9l2-1.7l1.9-1.8l1.8-1.9l1.9-1.7l2.3-1.2l2.3-1.2l2.1-1.5l2.2-1.3l2-1.8l2.1-1.7l2.3-1.5l2.4-1.4l2.6-0.8l2.8,0l2.7,0.2l2.6,0l2.7,0.5l2.6,0.3l2.7-0.2l2.6,0l2.7,0l2.7,0.3l2.5,1l2.3,1.6l2,1.9l2,1.9l1.8,1.9l1.6,2.2l1.5,2l1.8,1.7l1.7,1.6l1.8,1.6l1.8,1.6l1.7,1.7l1.6,1.8l1.5,1.9l1.8,1.8l1.8,1.9l1.4,2l1.3,2.3l0.9,2.3l1.2,2.3l1.2,2.4l0.9,2.5l-0.2,2.6l-0.9,2.7z" fill="#4300c3"/>
<path d="M524,162l-0.5,2.4l-0.8,2.3l-1.4,2.2l-1.3,2.1l-0.9,2.1l-1.3,1.9l-1.1,1.9l-1.5,1.8l-1.8,1.5l-2,1.2l-2.2,1l-1.8,1.1l-1.5,1.3l-1.5,1.2l-1.9,0.7l-2,0.5l-1.6,0.8l-1.5,0.9l-1.6,0.8l-1.6,0.6l-1.7,0.5l-1.7,0.5l-1.6,0.4l-1.6,0.6l-1.6,0.4l-1.6,0.2l-1.6,0.4l-1.7,0.3l-1.6,0.3l-1.7,0.3l-1.7,0.1l-1.7-0.1l-1.6-0.3l-1.6-0.7l-1.6-0.8l-1.6-0.3l-1.7-0.2l-1.6-0.5l-1.5-0.7l-1.7-0.5l-1.6-0.6l-1.5-0.8l-1.6-0.9l-1.6-0.8l-1.7-0.8l-1.7-0.9l-1.8-0.9l-1.8-1l-1.7-1.2l-1.8-1.2l-1.6-1.4l-1.4-1.6l-1.7-1.6l-1.6-1.7l-1.3-1.9l-1.6-1.9l-1.5-2.1l-0.9-2.2l-1.1-2.3l-1.6-2.4l-0.9-2.5l-0.1-2.6l-0.2-2.6l-0.2-2.7l0.2-2.6l0.8-2.5l1.2-2.4l1.4-2.2l1.8-2l1.8-1.9l1.4-2.1l1.5-2.1l1.8-1.7l1.9-1.6l1.8-1.7l1.6-1.9l1.9-1.5l2.3-1.1l2.2-1.1l2-1.3l2.1-1.3l1.9-1.7l2-1.6l2.3-1.2l2.3-1.3l2.4-0.6l2.6-0.1l2.6,0.1l2.5-0.1l2.5,0.4l2.5,0.1l2.5-0.2l2.5,0.2l2.5,0.2l2.6,0.2l2.4,0.7l2.2,1.4l2,1.8l1.9,1.7l1.8,1.8l1.4,2.1l1.6,1.8l1.7,1.6l1.7,1.6l1.6,1.6l1.7,1.5l1.7,1.6l1.6,1.7l1.5,1.8l1.8,1.7l1.7,1.8l1.3,2l1.4,2.1l1.1,2.2l1.2,2.2l1.2,2.3l0.9,2.4l-0.1,2.6l-0.8,2.5z" fill="#2c00dc"/>
<path d="M522.8,162l-0.6,2.3l-0.9,2.3l-1.4,2.1l-1.2,2l-0.8,2l-1.2,1.9l-1.3,1.8l-1.5,1.7l-1.8,1.4l-2,1.1l-2,1.1l-1.8,1l-1.4,1.3l-1.4,1.2l-1.8,0.7l-1.9,0.6l-1.6,0.7l-1.5,0.9l-1.5,0.6l-1.6,0.7l-1.5,0.6l-1.6,0.6l-1.6,0.4l-1.5,0.5l-1.6,0.3l-1.6,0.2l-1.6,0.3l-1.6,0.1l-1.6,0.5l-1.6,0.4l-1.6,0.1l-1.7-0.2l-1.6-0.3l-1.5-0.7l-1.5-0.6l-1.6-0.2l-1.7-0.3l-1.6-0.4l-1.4-0.7l-1.6-0.7l-1.6-0.5l-1.4-0.9l-1.5-0.8l-1.7-0.7l-1.7-0.7l-1.6-0.9l-1.7-1l-1.6-1l-1.7-1.1l-1.7-1.2l-1.4-1.5l-1.5-1.5l-1.6-1.5l-1.5-1.7l-1.3-1.8l-1.4-1.9l-1.3-2l-0.8-2.1l-1-2.2l-1.6-2.3l-1-2.4l-0.1-2.5l-0.2-2.5l-0.3-2.6l0.2-2.5l0.9-2.4l1.3-2.2l1.3-2.2l1.7-1.9l1.7-1.8l1.3-2l1.6-1.9l1.9-1.5l1.9-1.5l1.6-1.7l1.5-1.8l1.8-1.5l2.3-0.9l2.1-1l1.9-1.3l2-1.2l1.8-1.5l2-1.4l2.2-1l2.2-1l2.3-0.6l2.4-0.2l2.4-0.1l2.3-0.1l2.4,0.2l2.4,0l2.3-0.1l2.4,0.3l2.4,0.3l2.4,0.1l2.3,0.6l2.1,1.2l1.9,1.6l1.9,1.6l1.7,1.7l1.4,2l1.5,1.6l1.6,1.6l1.7,1.5l1.6,1.4l1.6,1.5l1.6,1.5l1.5,1.7l1.6,1.6l1.8,1.5l1.5,1.8l1.3,2l1.4,1.9l1.3,2.1l1.3,2.1l1.3,2.2l0.7,2.3l0.1,2.5l-0.6,2.5z" fill="#1400f0"/>
<path d="M521.6,162l-0.8,2.3l-1,2.1l-1.3,2l-1.2,2l-0.8,2l-1.1,1.8l-1.4,1.7l-1.5,1.5l-1.8,1.4l-1.9,1.1l-1.8,1l-1.7,1.1l-1.4,1.1l-1.3,1.2l-1.7,0.8l-1.8,0.5l-1.5,0.8l-1.5,0.7l-1.6,0.6l-1.4,0.7l-1.5,0.7l-1.4,0.6l-1.6,0.4l-1.5,0.4l-1.6,0.2l-1.5,0.3l-1.6,0.2l-1.5,0.1l-1.5,0.5l-1.6,0.5l-1.6,0.1l-1.6-0.2l-1.5-0.4l-1.5-0.5l-1.5-0.6l-1.6-0.2l-1.6-0.2l-1.5-0.5l-1.4-0.7l-1.4-0.7l-1.5-0.6l-1.4-0.8l-1.6-0.7l-1.6-0.7l-1.6-0.7l-1.6-0.8l-1.6-1l-1.6-1l-1.5-1.1l-1.6-1.2l-1.3-1.4l-1.5-1.5l-1.7-1.4l-1.3-1.6l-1.1-1.8l-1.3-1.8l-1.1-1.9l-0.7-2.1l-1.1-2.1l-1.5-2.2l-1-2.3l-0.1-2.4l-0.3-2.4l-0.4-2.5l0.3-2.4l1.1-2.2l1.2-2.1l1.3-2.1l1.6-1.8l1.5-1.9l1.3-1.8l1.7-1.7l1.8-1.4l1.8-1.5l1.5-1.6l1.4-1.7l1.8-1.4l2.1-1l2-0.9l1.8-1.2l1.9-1.1l1.9-1.2l1.9-1.3l2.1-0.7l2.1-0.8l2.1-0.7l2.3-0.4l2.2-0.1l2.3-0.1l2.2,0l2.2,0l2.3,0l2.2,0.3l2.2,0.3l2.3,0.1l2.3,0.5l2,1.2l1.8,1.4l1.8,1.5l1.5,1.7l1.4,1.8l1.5,1.5l1.6,1.5l1.5,1.4l1.7,1.2l1.5,1.5l1.4,1.5l1.4,1.6l1.7,1.4l1.8,1.5l1.4,1.7l1.2,1.9l1.4,1.8l1.5,1.9l1.3,2l1.2,2.1l0.7,2.3l0.3,2.4l-0.5,2.4z" fill="#000bff"/>
<path d="M520.2,162l-0.8,2.2l-1,2.1l-1.2,1.9l-1.1,1.9l-0.9,1.9l-1.1,1.8l-1.4,1.6l-1.6,1.4l-1.6,1.4l-1.8,1.1l-1.6,1.1l-1.6,1l-1.4,1.1l-1.3,1.1l-1.7,0.7l-1.7,0.6l-1.4,0.8l-1.5,0.7l-1.5,0.5l-1.4,0.7l-1.4,0.7l-1.4,0.7l-1.5,0.3l-1.5,0.3l-1.6,0.2l-1.4,0.4l-1.5,0.2l-1.5,0l-1.5,0.5l-1.5,0.5l-1.5,0l-1.6-0.3l-1.5-0.3l-1.4-0.4l-1.5-0.6l-1.5-0.1l-1.6-0.2l-1.4-0.5l-1.4-0.7l-1.3-0.8l-1.4-0.7l-1.4-0.7l-1.5-0.6l-1.6-0.6l-1.6-0.7l-1.6-0.8l-1.5-0.9l-1.5-1l-1.4-1.2l-1.4-1.2l-1.3-1.3l-1.5-1.4l-1.9-1.2l-1.3-1.6l-0.9-1.8l-1.2-1.8l-1.1-1.9l-0.8-1.9l-1-2.1l-1.3-2.1l-0.9-2.2l-0.1-2.3l-0.3-2.3l-0.4-2.5l0.4-2.3l1.2-2.1l1.1-2l1.1-2l1.3-1.9l1.4-1.8l1.3-1.8l1.6-1.6l1.7-1.5l1.7-1.5l1.5-1.5l1.4-1.7l1.6-1.4l2-1l1.9-1.1l1.8-1.1l2-1l1.9-1l1.8-1.1l2.1-0.7l2-0.8l2.1-0.7l2.2-0.5l2.1,0l2.2-0.1l2.2,0l2.2,0.1l2.2,0l2.1,0.3l2.2,0.3l2.2,0.2l2.1,0.4l2,1.1l1.7,1.5l1.7,1.6l1.4,1.6l1.4,1.8l1.5,1.4l1.4,1.4l1.4,1.4l1.7,1.2l1.5,1.3l1.2,1.7l1.4,1.4l1.8,1.3l1.7,1.4l1.2,1.8l1,1.8l1.4,1.8l1.5,1.7l1.3,2l1.1,2l0.7,2.2l0.4,2.2l-0.2,2.3z" fill="#0030ff"/>
<path d="M518.9,162l-0.9,2.1l-1,2l-1,2l-1.1,1.8l-1,1.8l-1,1.7l-1.4,1.5l-1.7,1.3l-1.5,1.3l-1.6,1.2l-1.5,1.1l-1.5,1l-1.3,1.1l-1.4,1l-1.7,0.6l-1.5,0.7l-1.4,0.8l-1.5,0.6l-1.5,0.5l-1.3,0.6l-1.3,0.8l-1.3,0.8l-1.5,0.2l-1.5,0.1l-1.5,0.2l-1.4,0.5l-1.4,0.3l-1.5,0.1l-1.4,0.3l-1.5,0.4l-1.5,0l-1.4-0.3l-1.5-0.3l-1.4-0.4l-1.4-0.4l-1.5-0.1l-1.5-0.2l-1.5-0.5l-1.3-0.7l-1.2-0.8l-1.3-0.8l-1.4-0.7l-1.5-0.4l-1.6-0.6l-1.5-0.7l-1.5-0.8l-1.5-0.9l-1.4-0.9l-1.4-1.2l-1.2-1.2l-1.3-1.3l-1.5-1.3l-1.9-1.1l-1.3-1.6l-0.8-1.7l-1.1-1.8l-1.1-1.8l-0.9-1.9l-1-1.9l-1-2.1l-0.8-2.2l-0.2-2.1l-0.2-2.3l-0.4-2.3l0.5-2.2l1.2-2l1-2l0.9-2l1.1-1.9l1.3-1.8l1.4-1.7l1.6-1.5l1.5-1.5l1.6-1.5l1.4-1.5l1.3-1.7l1.6-1.4l1.8-1.1l1.8-1.1l1.8-1.1l2-0.8l1.9-0.8l1.9-1l2-0.7l2-0.7l2-0.8l2-0.5l2.2,0l2.1-0.1l2.1,0.1l2.1,0.2l2.1,0.1l2.1,0.1l2.1,0.3l2.1,0.2l2.1,0.5l1.9,1l1.7,1.4l1.5,1.7l1.3,1.8l1.3,1.6l1.5,1.4l1.4,1.3l1.3,1.4l1.6,1.1l1.4,1.3l1.1,1.6l1.4,1.4l1.8,1.2l1.6,1.3l1.1,1.7l0.9,1.8l1.3,1.7l1.4,1.7l1.3,1.8l1.1,2l0.7,2.1l0.5,2.1l-0.1,2.2z" fill="#0055ff"/>
<path d="M517.4,162l-0.8,2l-1,2l-0.8,1.9l-1,1.7l-1.2,1.7l-1,1.7l-1.2,1.5l-1.9,1.2l-1.5,1.2l-1.3,1.2l-1.3,1.1l-1.5,1l-1.3,1.1l-1.3,1l-1.6,0.6l-1.6,0.5l-1.3,0.8l-1.4,0.7l-1.5,0.4l-1.3,0.6l-1.2,0.9l-1.2,0.7l-1.5,0.2l-1.6,0l-1.4,0.2l-1.3,0.6l-1.4,0.3l-1.4,0.1l-1.4,0.3l-1.4,0.2l-1.4-0.1l-1.4-0.2l-1.5-0.2l-1.3-0.4l-1.4-0.3l-1.5-0.1l-1.4-0.3l-1.4-0.4l-1.3-0.7l-1.2-0.8l-1.2-0.8l-1.2-0.7l-1.6-0.4l-1.5-0.6l-1.4-0.7l-1.5-0.7l-1.5-0.8l-1.4-0.9l-1.3-1.2l-1.1-1.2l-1.2-1.3l-1.5-1.2l-1.9-1.1l-1.2-1.5l-0.7-1.7l-1-1.7l-1.3-1.7l-1-1.8l-0.9-1.9l-0.8-2l-0.6-2.1l-0.3-2.1l-0.2-2.1l-0.2-2.3l0.4-2.1l1.2-1.9l0.8-1.9l0.8-2l1-1.9l1.2-1.7l1.4-1.6l1.6-1.5l1.4-1.5l1.5-1.4l1.4-1.5l1.2-1.7l1.5-1.4l1.7-1.2l1.7-1.3l1.8-0.9l2-0.7l1.9-0.6l1.8-0.9l2-0.8l1.9-0.6l1.9-0.8l2-0.4l2.1,0l2.1-0.2l2,0.1l2,0.4l2,0.2l2.1,0l2,0.2l2.1,0.3l2,0.4l1.8,1.1l1.6,1.4l1.3,1.8l1.3,1.7l1.2,1.5l1.5,1.3l1.3,1.3l1.3,1.3l1.5,1.1l1.3,1.3l1,1.6l1.4,1.3l1.7,1.1l1.5,1.3l1.1,1.6l0.8,1.7l1.2,1.7l1.4,1.6l1.3,1.7l0.9,1.9l0.8,2l0.7,2l-0.1,2.1z" fill="#007bff"/>
<path d="M515.9,162l-0.8,2l-0.9,1.8l-0.6,1.9l-1,1.7l-1.2,1.6l-1,1.6l-1.2,1.4l-1.9,1.1l-1.5,1.2l-1.1,1.2l-1.2,1.2l-1.5,0.9l-1.3,1l-1.1,1l-1.6,0.6l-1.6,0.4l-1.2,0.9l-1.3,0.7l-1.4,0.4l-1.3,0.7l-1.1,0.8l-1.3,0.7l-1.4,0.1l-1.5,0l-1.4,0.1l-1.3,0.6l-1.3,0.4l-1.4,0.1l-1.3,0.2l-1.4,0.1l-1.4,0l-1.4-0.2l-1.3-0.2l-1.4-0.4l-1.3-0.3l-1.4-0.1l-1.4-0.3l-1.3-0.3l-1.3-0.7l-1.1-0.8l-1.1-0.9l-1.2-0.7l-1.5-0.3l-1.5-0.6l-1.3-0.7l-1.5-0.6l-1.5-0.8l-1.4-0.8l-1.2-1.1l-1-1.3l-1.1-1.3l-1.4-1.1l-1.8-1.1l-1.2-1.4l-0.6-1.7l-1.1-1.5l-1.4-1.6l-1.1-1.8l-0.9-1.9l-0.5-1.9l-0.4-2l-0.3-2l-0.1-2.1l-0.2-2.1l0.4-2l0.9-1.9l0.8-1.9l0.7-2l0.9-1.8l1.1-1.7l1.5-1.5l1.5-1.4l1.4-1.4l1.4-1.4l1.2-1.6l1.2-1.7l1.5-1.3l1.5-1.3l1.6-1.3l1.8-0.8l2-0.6l1.9-0.5l1.8-0.9l1.8-0.7l1.9-0.5l1.9-0.7l1.9-0.5l2,0l2-0.2l2,0l2,0.5l1.9,0.3l2-0.1l1.9,0.2l2,0.3l1.9,0.5l1.8,1l1.5,1.5l1.2,1.7l1.2,1.7l1.3,1.4l1.3,1.3l1.2,1.3l1.3,1.2l1.4,1.1l1.2,1.3l0.9,1.6l1.4,1.1l1.6,1.1l1.4,1.3l1,1.5l0.9,1.6l1.2,1.6l1.3,1.5l1.1,1.7l0.9,1.8l0.8,1.8l0.8,2l0,2z" fill="#00a0ff"/>
<path d="M514.3,162l-0.8,1.9l-0.7,1.8l-0.6,1.8l-0.8,1.6l-1.1,1.6l-1.1,1.5l-1.3,1.4l-1.9,1l-1.3,1.1l-1,1.2l-1.1,1.2l-1.4,0.9l-1.3,0.9l-1.1,1.1l-1.5,0.5l-1.6,0.4l-1.2,0.8l-1.1,0.8l-1.3,0.5l-1.2,0.6l-1.1,0.9l-1.3,0.5l-1.4,0.1l-1.5,0l-1.3,0.2l-1.2,0.5l-1.3,0.3l-1.4,0l-1.3,0.2l-1.3,0.2l-1.3,0.1l-1.4-0.2l-1.3-0.2l-1.3-0.4l-1.3-0.3l-1.3-0.2l-1.3-0.3l-1.3-0.4l-1.2-0.6l-1.2-0.7l-1-0.9l-1.2-0.7l-1.4-0.4l-1.4-0.5l-1.3-0.6l-1.4-0.6l-1.5-0.7l-1.4-0.8l-1.1-1.1l-0.9-1.3l-0.9-1.2l-1.4-1.1l-1.7-1.1l-1.1-1.4l-0.7-1.5l-1.1-1.5l-1.4-1.5l-1.2-1.7l-0.8-1.8l-0.4-1.9l-0.2-1.9l-0.3-2l0-1.9l-0.1-2l0.2-2l0.8-1.8l0.7-1.9l0.6-1.8l0.9-1.8l1-1.7l1.3-1.5l1.5-1.3l1.4-1.4l1.4-1.3l1-1.7l1.2-1.5l1.5-1.3l1.4-1.4l1.4-1.3l1.9-0.8l1.9-0.5l1.9-0.5l1.8-0.7l1.7-0.7l1.9-0.5l1.8-0.6l1.9-0.5l1.9,0l1.9-0.3l1.9,0l1.9,0.5l1.9,0.3l1.9,0l1.9,0.2l1.9,0.3l1.8,0.5l1.6,1.1l1.5,1.4l1.2,1.6l1.2,1.6l1.2,1.3l1.2,1.4l1.1,1.3l1.2,1.2l1.3,1.1l1.1,1.3l0.9,1.4l1.3,1.1l1.5,1.1l1.2,1.3l1.1,1.4l1,1.5l1.1,1.4l1.2,1.5l1,1.6l0.8,1.8l0.9,1.7l0.8,1.8l0.1,2z" fill="#00c5ff"/>
<path d="M512.7,162l-0.7,1.8l-0.8,1.7l-0.4,1.7l-0.7,1.7l-1,1.5l-1.1,1.4l-1.4,1.3l-1.8,0.9l-1.3,1.1l-0.8,1.3l-1,1.1l-1.4,0.9l-1.3,0.8l-1,1l-1.3,0.7l-1.7,0.2l-1.1,0.8l-1,0.9l-1.3,0.5l-1.1,0.6l-1.1,0.8l-1.3,0.4l-1.4,0.2l-1.3,0.1l-1.3,0.2l-1.2,0.4l-1.3,0.1l-1.3,0l-1.2,0.2l-1.3,0.4l-1.3,0.2l-1.3-0.2l-1.3-0.3l-1.2-0.5l-1.2-0.3l-1.3-0.2l-1.2-0.4l-1.2-0.5l-1.2-0.5l-1.1-0.6l-1.1-0.7l-1.1-0.7l-1.3-0.5l-1.3-0.5l-1.3-0.6l-1.4-0.5l-1.5-0.7l-1.3-0.7l-1.1-1.1l-0.6-1.3l-1-1.2l-1.4-1l-1.4-1.1l-1.1-1.3l-0.8-1.5l-1.1-1.4l-1.5-1.4l-1.2-1.7l-0.7-1.7l-0.3-1.8l0-1.8l-0.2-1.9l0-1.8l-0.1-2l0.1-1.9l0.7-1.8l0.6-1.7l0.7-1.8l0.8-1.7l0.7-1.8l1.3-1.4l1.4-1.3l1.4-1.3l1.3-1.3l1-1.6l1.2-1.5l1.4-1.2l1.3-1.4l1.4-1.3l1.7-0.9l1.9-0.4l1.8-0.5l1.8-0.6l1.7-0.6l1.8-0.6l1.7-0.5l1.9-0.4l1.8-0.1l1.8-0.3l1.9,0l1.8,0.4l1.8,0.3l1.9,0.1l1.8,0.3l1.8,0.2l1.8,0.6l1.5,1.2l1.4,1.4l1.3,1.3l1.2,1.4l1.2,1.3l1,1.5l0.9,1.4l1.2,1.1l1.2,1.1l1,1.3l0.9,1.3l1.2,1.1l1.2,1.1l1.1,1.3l1.2,1.2l1,1.4l1.2,1.3l1.1,1.5l0.8,1.6l0.7,1.6l1,1.7l0.9,1.7l0.1,1.9z" fill="#00eaff"/>
<path d="M510.8,162l-0.7,1.7l-0.8,1.6l-0.5,1.6l-0.5,1.6l-0.9,1.4l-1.1,1.4l-1.4,1.1l-1.5,1l-1.2,1.1l-0.8,1.1l-0.9,1.1l-1.3,0.9l-1.3,0.7l-0.9,1l-1.3,0.6l-1.6,0.2l-1,0.8l-0.9,0.9l-1.2,0.5l-1.1,0.6l-1.1,0.7l-1.2,0.4l-1.3,0.3l-1.2,0.3l-1.2,0.1l-1.2,0.3l-1.2,0.1l-1.3-0.1l-1.2,0.2l-1.2,0.5l-1.3,0.4l-1.2-0.2l-1.2-0.5l-1.2-0.5l-1.1-0.4l-1.2-0.3l-1.1-0.5l-1.1-0.6l-1.1-0.4l-1.2-0.4l-1.1-0.5l-1.1-0.7l-1.2-0.5l-1.1-0.6l-1.2-0.6l-1.4-0.4l-1.4-0.7l-1.2-0.7l-1-1.1l-0.5-1.3l-1.1-1l-1.3-1l-1.2-1l-1-1.3l-0.9-1.3l-1.2-1.3l-1.3-1.4l-1.2-1.5l-0.7-1.7l-0.1-1.7l0.1-1.7l0-1.8l-0.1-1.7l-0.1-1.8l0.1-1.8l0.5-1.7l0.6-1.7l0.7-1.6l0.6-1.7l0.6-1.8l1.1-1.4l1.3-1.3l1.4-1.1l1.3-1.2l0.9-1.6l1.3-1.2l1.3-1.2l1.2-1.4l1.2-1.4l1.6-0.8l1.8-0.5l1.8-0.5l1.7-0.5l1.6-0.5l1.7-0.6l1.7-0.4l1.7-0.5l1.8-0.2l1.7-0.3l1.8,0l1.8,0.3l1.7,0.3l1.7,0.3l1.7,0.4l1.8,0.1l1.7,0.6l1.3,1.4l1.3,1.2l1.4,1.1l1.2,1.1l1.2,1.3l0.9,1.5l0.8,1.5l1,1.1l1.2,1l0.9,1.2l0.9,1.3l1,1.1l1,1.2l1.1,1.1l1.2,1.1l1.1,1.3l1.2,1.2l0.9,1.5l0.7,1.5l0.7,1.5l0.9,1.6l0.8,1.6l0.2,1.8z" fill="#00ffe7"/>
<path d="M508.6,162l-0.8,1.6l-0.9,1.5l-0.6,1.4l-0.4,1.5l-0.8,1.3l-1.1,1.2l-1.2,1.1l-1.2,1l-0.9,1.1l-0.8,1l-1,1l-1.2,0.7l-1.2,0.7l-0.9,0.9l-1.1,0.7l-1.4,0.3l-1,0.6l-0.9,0.9l-1,0.5l-1.1,0.6l-1,0.7l-1.1,0.3l-1.1,0.4l-1.1,0.5l-1.2,0.1l-1.2,0.2l-1.1,0.1l-1.2-0.1l-1.1,0.2l-1.2,0.6l-1.2,0.4l-1.2-0.3l-1.1-0.5l-1.1-0.6l-1.1-0.3l-1.1-0.4l-1-0.7l-0.9-0.7l-1-0.4l-1.2-0.2l-1.1-0.4l-1.1-0.5l-1-0.6l-1-0.7l-1.1-0.5l-1.3-0.4l-1.2-0.6l-1.1-0.8l-0.8-1l-0.6-1.2l-1.1-0.8l-1.2-0.9l-1.1-1.1l-0.9-1.1l-0.9-1.2l-1.2-1.2l-1.2-1.3l-1.1-1.5l-0.6-1.5l0-1.6l0.2-1.6l0-1.6l-0.1-1.6l-0.1-1.7l0.1-1.7l0.4-1.5l0.7-1.5l0.6-1.6l0.5-1.6l0.5-1.6l0.9-1.4l1.2-1.2l1.3-1.1l1.3-1l0.9-1.4l1.2-1.1l1.2-1.1l1-1.4l1.1-1.4l1.5-0.7l1.7-0.5l1.6-0.5l1.5-0.5l1.6-0.5l1.5-0.6l1.7-0.3l1.6-0.5l1.6-0.4l1.6-0.3l1.7,0l1.7,0.2l1.6,0.3l1.6,0.5l1.6,0.5l1.6,0.1l1.6,0.5l1.2,1.5l1.2,1.2l1.4,0.7l1.3,0.8l1.1,1.1l0.8,1.5l0.7,1.5l1,1.1l1.1,0.9l0.9,1.1l0.8,1.3l0.8,1.1l0.8,1.2l1.1,1l1.2,1l1.1,1.1l1.1,1.2l0.8,1.4l0.6,1.4l0.7,1.4l0.8,1.5l0.7,1.6l0.2,1.6z" fill="#00ffb0"/>
<path d="M506.4,162l-1,1.4l-0.9,1.4l-0.6,1.3l-0.5,1.3l-0.7,1.3l-1,1.1l-1,1l-0.9,1l-0.6,1.1l-0.8,1l-1.1,0.8l-1.2,0.6l-1.1,0.7l-0.8,0.7l-1,0.7l-1.2,0.4l-0.9,0.6l-0.9,0.7l-0.9,0.6l-1,0.5l-0.9,0.7l-1,0.4l-1,0.5l-1,0.5l-1.1,0.2l-1.1,0.1l-1.1,0.1l-1.1,0l-1.1,0.2l-1.1,0.5l-1.1,0.4l-1.2-0.2l-1-0.6l-1-0.7l-1-0.3l-1.1-0.4l-0.8-0.8l-0.8-0.7l-1-0.4l-1.1-0.2l-1.1-0.2l-1-0.5l-1-0.5l-0.8-0.8l-1-0.5l-1.2-0.4l-1-0.7l-1-0.7l-0.7-0.9l-0.6-1.1l-1.1-0.7l-1.2-0.8l-0.9-1l-0.9-1l-0.8-1.2l-1.1-1.1l-1.2-1.2l-0.9-1.3l-0.6-1.4l0.1-1.5l0.2-1.5l-0.1-1.4l0-1.5l0.1-1.5l0.1-1.5l0.4-1.5l0.6-1.4l0.5-1.4l0.4-1.5l0.4-1.5l0.8-1.4l1-1.1l1.2-1l1.2-0.9l1-1.2l1.1-1l1-1.1l0.9-1.4l1-1.3l1.5-0.6l1.5-0.4l1.4-0.6l1.4-0.6l1.5-0.5l1.4-0.5l1.5-0.2l1.5-0.5l1.5-0.5l1.5-0.3l1.6-0.1l1.6,0.2l1.5,0.2l1.5,0.6l1.4,0.7l1.5,0.1l1.4,0.6l1.1,1.5l1.1,1.1l1.4,0.4l1.3,0.6l1.2,0.9l0.8,1.3l0.6,1.4l0.9,1.1l1,0.9l0.8,1.1l0.7,1.2l0.6,1.2l0.7,1.1l1.1,0.9l1.2,0.9l1,1l1,1.1l0.7,1.3l0.6,1.3l0.7,1.4l0.7,1.3l0.6,1.5l0.1,1.5z" fill="#00ff79"/>
<path d="M504.1,162l-1,1.3l-1,1.3l-0.6,1.2l-0.6,1.1l-0.6,1.1l-0.8,1l-1,1l-0.5,1l-0.3,1.1l-0.8,0.9l-1.2,0.6l-1.2,0.6l-0.9,0.6l-0.8,0.7l-0.8,0.7l-1,0.4l-0.9,0.6l-0.8,0.6l-0.9,0.5l-0.9,0.6l-0.8,0.7l-0.9,0.5l-0.9,0.5l-0.9,0.5l-1.1,0.1l-1,0l-1,0.3l-1,0.2l-1.1,0.1l-1,0.4l-1.1,0.5l-1.1-0.2l-0.9-0.7l-0.9-0.8l-1-0.3l-0.9-0.4l-0.8-0.7l-0.8-0.8l-0.8-0.5l-1-0.2l-1-0.2l-1.1-0.3l-0.9-0.5l-0.6-0.7l-0.9-0.6l-1.1-0.4l-0.8-0.7l-0.9-0.6l-0.7-0.9l-0.5-0.9l-1.1-0.7l-1.1-0.7l-0.9-0.9l-0.9-0.9l-0.7-1.1l-0.9-1l-1-1.1l-0.9-1.2l-0.6-1.3l0-1.4l0.3-1.3l-0.1-1.4l0.1-1.4l0.2-1.3l0.3-1.3l0.3-1.4l0.4-1.3l0.4-1.3l0.4-1.3l0.3-1.5l0.6-1.2l0.9-1.1l1.1-0.9l1.2-0.9l0.8-1.1l1.1-0.9l0.9-1l0.7-1.4l1-1.1l1.4-0.4l1.4-0.4l1.3-0.7l1.2-0.6l1.3-0.6l1.4-0.3l1.4-0.2l1.4-0.5l1.3-0.6l1.4-0.3l1.5,0l1.4,0.1l1.5,0.1l1.3,0.7l1.3,0.9l1.4,0.2l1.3,0.6l0.9,1.4l1,1l1.4,0.2l1.3,0.3l1.2,0.7l0.8,1.1l0.6,1.4l0.8,1l1,0.8l0.6,1.1l0.5,1.3l0.6,1.1l0.7,1l1,0.8l1.1,0.8l1,1l0.8,1.1l0.6,1.2l0.7,1.2l0.6,1.2l0.6,1.3l0.5,1.3l0.1,1.4z" fill="#00ff47"/>
<path d="M501.8,162l-1,1.2l-0.9,1.1l-0.6,1.1l-0.7,1l-0.6,1l-0.7,0.9l-0.8,0.9l-0.4,1l-0.1,1.1l-0.6,0.9l-1.2,0.4l-1.2,0.4l-0.8,0.6l-0.7,0.7l-0.8,0.6l-0.8,0.5l-0.7,0.6l-0.9,0.5l-0.8,0.5l-0.7,0.5l-0.7,0.8l-0.8,0.6l-0.9,0.4l-0.8,0.4l-1,0.1l-1,0l-0.9,0.4l-1,0.3l-0.9,0.2l-1,0.4l-1,0.4l-1-0.2l-1-0.6l-0.8-0.9l-0.8-0.5l-0.9-0.4l-0.8-0.5l-0.7-0.7l-0.7-0.6l-0.9-0.3l-0.9-0.2l-1-0.2l-0.8-0.4l-0.6-0.7l-0.8-0.6l-0.9-0.5l-0.7-0.6l-0.8-0.7l-0.6-0.7l-0.5-0.8l-1-0.6l-1-0.7l-0.9-0.8l-0.9-0.8l-0.6-1l-0.6-1l-0.9-1l-0.9-1.1l-0.6-1.2l0.1-1.2l0.2-1.2l-0.1-1.3l0.1-1.2l0.4-1.2l0.4-1.1l0.3-1.2l0.2-1.2l0.3-1.2l0.4-1.3l0.2-1.3l0.4-1.2l0.8-1l1.1-0.8l1-0.9l0.7-1l1-0.7l0.9-1l0.6-1.3l0.9-1l1.3-0.3l1.3-0.4l1.1-0.6l1.2-0.6l1.1-0.7l1.3-0.4l1.3,0l1.2-0.5l1.3-0.5l1.3-0.4l1.3,0l1.3,0.2l1.4,0l1.2,0.7l1.1,1l1.2,0.3l1.2,0.5l0.9,1.2l0.9,0.8l1.3,0.2l1.3,0.1l1.2,0.6l0.8,0.9l0.6,1.2l0.8,1l0.8,0.8l0.5,1.1l0.4,1.2l0.5,1l0.7,0.9l1,0.8l1,0.8l0.8,0.9l0.6,1l0.7,1.1l0.7,1.1l0.5,1.1l0.4,1.2l0.5,1.2l0.1,1.3z" fill="#00ff15"/>
<path d="M500,162l-0.8,1.1l-0.8,1.1l-0.6,1l-0.8,0.9l-0.6,0.9l-0.6,0.9l-0.7,0.7l-0.3,1l-0.1,1l-0.5,0.9l-1.1,0.4l-1.2,0.3l-0.7,0.6l-0.6,0.7l-0.7,0.6l-0.8,0.4l-0.7,0.6l-0.7,0.5l-0.8,0.4l-0.8,0.4l-0.6,0.7l-0.7,0.7l-0.8,0.3l-0.9,0.3l-0.9,0.1l-0.9,0.1l-0.8,0.5l-0.9,0.3l-0.9,0.2l-0.9,0.4l-1,0.4l-0.9-0.1l-0.9-0.6l-0.8-0.9l-0.8-0.6l-0.7-0.4l-0.8-0.4l-0.7-0.6l-0.6-0.6l-0.8-0.3l-0.9-0.3l-0.9-0.1l-0.9-0.3l-0.5-0.7l-0.6-0.7l-0.9-0.4l-0.6-0.6l-0.7-0.6l-0.6-0.7l-0.5-0.8l-0.8-0.6l-0.9-0.6l-0.9-0.7l-0.9-0.7l-0.5-1l-0.5-0.9l-0.8-1l-0.7-1l-0.6-1.1l0-1.1l0.2-1.1l-0.1-1.2l0.2-1.1l0.4-1.1l0.5-1l0.2-1.1l0.1-1.1l0.3-1.2l0.4-1.1l0.2-1.2l0.1-1.2l0.9-0.9l1-0.7l0.8-0.9l0.6-1l1.1-0.6l0.9-0.7l0.5-1.2l0.9-0.9l1.2-0.3l1.1-0.5l1-0.5l1.1-0.6l1-0.7l1.1-0.4l1.3,0l1.1-0.3l1.2-0.4l1.2-0.4l1.2-0.1l1.2,0.3l1.2,0l1.2,0.6l1,1l1.1,0.3l1.1,0.4l0.9,0.9l0.9,0.7l1.1,0.3l1.2,0.1l1.1,0.4l0.9,0.7l0.7,1.1l0.6,0.9l0.7,0.9l0.5,1.1l0.3,1.1l0.6,0.9l0.7,0.8l0.9,0.7l0.9,0.7l0.7,0.9l0.4,1.1l0.6,0.9l0.8,1l0.3,1.1l0.3,1.1l0.5,1.1l0.1,1.2z" fill="#15ff00"/>
<path d="M498.7,162l-0.7,1.1l-0.8,0.9l-0.5,1l-0.6,0.9l-0.5,0.9l-0.6,0.8l-0.8,0.7l-0.4,0.8l-0.2,0.9l-0.4,0.9l-0.9,0.5l-1.2,0.3l-0.6,0.6l-0.5,0.7l-0.7,0.5l-0.8,0.4l-0.6,0.6l-0.7,0.4l-0.8,0.3l-0.8,0.3l-0.6,0.7l-0.6,0.6l-0.8,0.2l-0.8,0.2l-0.9,0.2l-0.8,0.1l-0.7,0.6l-0.9,0.3l-0.8,0.2l-0.9,0.4l-0.9,0.4l-0.9-0.2l-0.8-0.5l-0.8-0.8l-0.7-0.6l-0.7-0.5l-0.8-0.2l-0.7-0.5l-0.6-0.7l-0.6-0.3l-0.9-0.2l-0.9-0.1l-0.9-0.3l-0.5-0.6l-0.6-0.6l-0.7-0.5l-0.7-0.5l-0.5-0.7l-0.6-0.7l-0.5-0.7l-0.7-0.6l-0.8-0.6l-0.8-0.6l-0.9-0.7l-0.5-0.9l-0.4-0.9l-0.6-0.9l-0.6-0.9l-0.6-1l0-1.1l0.1-1.1l0-1l0.2-1.1l0.4-0.9l0.5-1l0.1-1l0.1-1.1l0.3-1l0.4-1l0.1-1.2l0.1-1.2l0.8-0.8l1-0.6l0.6-1l0.6-0.9l1.1-0.5l0.9-0.5l0.6-1l0.8-0.9l1-0.4l1-0.5l1-0.3l1-0.5l0.9-0.9l1-0.4l1.2,0l1.1-0.1l1.1-0.2l1.1-0.4l1.1,0l1.1,0.3l1.1,0l1.1,0.6l0.9,0.7l1.1,0.3l1,0.2l0.9,0.6l0.9,0.6l0.9,0.4l1.1,0.2l1.1,0.4l0.9,0.6l0.6,0.9l0.5,1l0.6,0.9l0.6,0.9l0.4,0.9l0.6,0.8l0.7,0.8l0.7,0.7l0.9,0.7l0.6,0.8l0.3,1.1l0.5,0.9l0.7,0.9l0.3,1l0.2,1.1l0.6,1l0.2,1.1z" fill="#3bff00"/>
<path d="M497.4,162l-0.6,1l-0.8,0.9l-0.4,0.9l-0.3,0.9l-0.4,0.9l-0.6,0.8l-0.9,0.6l-0.7,0.7l-0.3,0.8l-0.2,0.8l-0.8,0.6l-1,0.3l-0.6,0.6l-0.3,0.7l-0.8,0.4l-0.9,0.3l-0.5,0.5l-0.7,0.5l-0.7,0.3l-0.8,0.2l-0.6,0.5l-0.6,0.5l-0.8,0.2l-0.7,0.2l-0.8,0.1l-0.7,0.3l-0.7,0.6l-0.8,0.3l-0.8,0.1l-0.8,0.4l-0.8,0.3l-0.9-0.2l-0.8-0.4l-0.7-0.6l-0.6-0.7l-0.7-0.5l-0.7-0.1l-0.7-0.4l-0.5-0.7l-0.6-0.4l-0.8-0.1l-0.9-0.1l-0.9-0.1l-0.6-0.6l-0.5-0.6l-0.7-0.5l-0.6-0.5l-0.4-0.7l-0.5-0.6l-0.5-0.7l-0.6-0.6l-0.7-0.5l-0.8-0.6l-0.8-0.7l-0.5-0.8l-0.4-0.8l-0.5-0.9l-0.4-0.9l-0.4-0.9l-0.2-1l0-1l0.1-1l0.2-0.9l0.4-0.9l0.5-0.9l0-1l0.1-1l0.3-0.9l0.4-0.9l0.1-1.1l0-1.2l0.7-0.8l1-0.4l0.5-1l0.5-0.9l1.1-0.4l1-0.2l0.7-0.8l0.6-0.9l0.8-0.6l1-0.4l1-0.2l0.8-0.4l0.8-1l0.9-0.5l1.1,0l1.1,0.2l1-0.1l1-0.4l1,0l1,0.3l1,0.1l1,0.5l0.9,0.5l0.9,0.2l1,0.2l0.9,0.3l0.9,0.4l0.8,0.6l1,0.3l0.9,0.3l0.9,0.5l0.6,0.9l0.5,0.9l0.5,0.8l0.7,0.7l0.5,0.8l0.6,0.7l0.5,0.8l0.7,0.7l0.8,0.6l0.5,0.9l0.1,1l0.4,0.9l0.6,0.8l0.3,1l0.2,0.9l0.7,1l0.3,1z" fill="#60ff00"/>
<path d="M496.1,162l-0.6,0.9l-0.7,0.9l-0.4,0.8l-0.1,0.9l-0.1,0.9l-0.7,0.7l-1,0.6l-0.7,0.5l-0.5,0.7l-0.1,0.8l-0.6,0.6l-1,0.3l-0.5,0.6l-0.1,0.8l-0.8,0.4l-1,0l-0.5,0.6l-0.6,0.4l-0.7,0.3l-0.7,0.2l-0.6,0.5l-0.6,0.3l-0.8,0.1l-0.7,0.2l-0.7,0.2l-0.6,0.3l-0.7,0.7l-0.7,0.2l-0.7,0.1l-0.8,0.2l-0.8,0.2l-0.7-0.2l-0.8-0.4l-0.7-0.4l-0.6-0.6l-0.6-0.5l-0.7,0l-0.6-0.4l-0.5-0.7l-0.5-0.4l-0.8-0.1l-0.9,0l-0.8,0l-0.6-0.5l-0.4-0.7l-0.6-0.5l-0.6-0.5l-0.3-0.6l-0.5-0.6l-0.5-0.6l-0.5-0.6l-0.8-0.5l-0.6-0.6l-0.6-0.6l-0.5-0.7l-0.5-0.8l-0.3-0.8l-0.2-0.9l-0.3-0.8l-0.4-0.9l0-0.9l0.2-0.9l0.1-0.9l0.4-0.8l0.5-0.8l0-0.9l0-0.9l0.2-0.9l0.4-0.8l0.2-1l-0.1-1.1l0.7-0.7l1-0.4l0.4-0.9l0.4-0.9l1-0.3l1-0.2l0.7-0.6l0.5-0.9l0.7-0.6l1-0.2l0.9-0.1l0.8-0.6l0.6-1l0.8-0.5l1,0.1l1,0.3l1,0l0.9-0.3l0.9,0l0.9,0.4l0.9,0.1l0.9,0.3l0.8,0.4l0.9,0.1l0.9,0.2l0.9,0.2l0.8,0.2l0.7,0.6l0.9,0.4l0.9,0.2l0.8,0.5l0.5,0.8l0.5,0.8l0.5,0.7l0.8,0.5l0.6,0.6l0.5,0.7l0.4,0.8l0.7,0.7l0.7,0.6l0.3,0.9l0,0.9l0.3,0.9l0.5,0.8l0.3,0.8l0.3,0.9l0.6,0.8l0.4,0.9z" fill="#85ff00"/>
<path d="M494.7,162l-0.6,0.9l-0.6,0.7l-0.4,0.8l0.2,0.9l-0.1,0.8l-0.7,0.7l-0.9,0.5l-0.8,0.5l-0.5,0.6l0,0.8l-0.5,0.6l-1,0.2l-0.4,0.6l-0.1,0.9l-0.7,0.3l-1,0l-0.5,0.5l-0.5,0.4l-0.7,0.2l-0.7,0.2l-0.5,0.4l-0.7,0.2l-0.7,0.1l-0.6,0.3l-0.6,0.2l-0.6,0.2l-0.6,0.7l-0.7,0.2l-0.7-0.1l-0.7,0.2l-0.7,0.2l-0.7-0.3l-0.7-0.3l-0.6-0.4l-0.6-0.5l-0.6-0.3l-0.7,0l-0.5-0.4l-0.4-0.7l-0.5-0.4l-0.8,0l-0.8,0.1l-0.8-0.1l-0.5-0.5l-0.3-0.7l-0.6-0.4l-0.6-0.4l-0.3-0.6l-0.4-0.6l-0.4-0.5l-0.6-0.6l-0.7-0.4l-0.6-0.6l-0.2-0.7l-0.6-0.6l-0.5-0.7l-0.2-0.7l-0.2-0.8l-0.2-0.8l-0.3-0.8l-0.2-0.8l0.4-0.8l0.1-0.8l0.3-0.8l0.4-0.7l0-0.8l0-0.9l0-0.9l0.5-0.7l0.2-0.8l0-1l0.6-0.7l1-0.3l0.4-0.7l0.3-0.9l0.8-0.4l1-0.1l0.7-0.4l0.4-0.9l0.7-0.5l0.9-0.1l0.8-0.1l0.6-0.6l0.6-1.1l0.8-0.4l0.9,0.2l0.9,0.3l0.9,0.1l0.8-0.2l0.8,0l0.8,0.3l0.8,0.1l0.8,0.2l0.7,0.4l0.8,0.2l0.8,0.1l0.8,0.1l0.9,0.1l0.7,0.5l0.7,0.4l0.8,0.1l0.7,0.4l0.5,0.8l0.5,0.7l0.6,0.5l0.8,0.4l0.6,0.6l0.4,0.7l0.4,0.7l0.7,0.6l0.5,0.6l0.1,0.9l0.1,0.8l0.2,0.8l0.4,0.8l0.4,0.7l0.3,0.8l0.5,0.8l0.4,0.8z" fill="#a7ff00"/>
<path d="M493.1,162l-0.3,0.8l-0.6,0.7l-0.3,0.7l0.2,0.8l-0.1,0.8l-0.8,0.6l-0.7,0.5l-0.7,0.5l-0.4,0.5l0,0.8l-0.4,0.6l-0.9,0.2l-0.5,0.4l0,0.9l-0.6,0.4l-0.9,0l-0.5,0.5l-0.5,0.3l-0.8,0.1l-0.6,0.2l-0.5,0.4l-0.6,0l-0.7,0.1l-0.5,0.4l-0.5,0.2l-0.6,0.2l-0.6,0.5l-0.6,0.3l-0.7-0.2l-0.6,0.1l-0.7,0.2l-0.6-0.4l-0.6-0.3l-0.6-0.2l-0.5-0.4l-0.6-0.1l-0.6,0l-0.6-0.4l-0.3-0.7l-0.5-0.3l-0.7-0.1l-0.8,0.1l-0.7-0.1l-0.4-0.5l-0.2-0.7l-0.5-0.3l-0.7-0.3l-0.4-0.5l-0.2-0.7l-0.4-0.5l-0.5-0.4l-0.8-0.4l-0.4-0.6l-0.1-0.7l-0.4-0.6l-0.5-0.6l-0.2-0.7l-0.1-0.7l-0.2-0.7l-0.4-0.7l-0.1-0.7l0.4-0.8l0.2-0.7l0.2-0.7l0.3-0.6l0-0.8l-0.1-0.8l0-0.8l0.4-0.7l0.3-0.7l0.1-0.8l0.5-0.6l0.9-0.3l0.5-0.6l0.2-0.8l0.7-0.4l0.8-0.2l0.7-0.3l0.4-0.7l0.6-0.4l0.9,0l0.7-0.1l0.5-0.8l0.5-0.9l0.7-0.3l0.9,0.3l0.8,0.3l0.8,0.2l0.7-0.2l0.7,0l0.7,0.1l0.7,0.1l0.8,0.1l0.6,0.4l0.7,0.3l0.6,0.2l0.8,0l0.8-0.1l0.6,0.4l0.7,0.4l0.7,0.1l0.7,0.4l0.4,0.6l0.5,0.5l0.7,0.4l0.7,0.3l0.5,0.6l0.4,0.6l0.5,0.7l0.6,0.5l0.3,0.7l0.1,0.8l0.2,0.7l0.1,0.8l0.3,0.6l0.4,0.7l0.4,0.7l0.3,0.7l0.3,0.8z" fill="#c9ff00"/>
<path d="M491.5,162l-0.1,0.7l-0.4,0.7l-0.4,0.6l0.2,0.8l-0.2,0.6l-0.7,0.5l-0.4,0.6l-0.6,0.4l-0.4,0.5l0.1,0.8l-0.4,0.6l-0.8,0.1l-0.6,0.4l0,0.8l-0.5,0.4l-0.7,0.2l-0.4,0.5l-0.6,0.1l-0.8,0l-0.5,0.2l-0.5,0.4l-0.6-0.1l-0.6,0.1l-0.4,0.4l-0.6,0.2l-0.5,0.1l-0.5,0.5l-0.6,0.2l-0.6-0.3l-0.6,0.2l-0.6,0.2l-0.6-0.4l-0.5-0.4l-0.5-0.2l-0.6-0.1l-0.5-0.1l-0.6,0.1l-0.6-0.3l-0.3-0.6l-0.4-0.3l-0.6-0.1l-0.8,0l-0.5-0.2l-0.4-0.5l-0.2-0.6l-0.5-0.3l-0.7-0.2l-0.4-0.4l-0.2-0.6l-0.3-0.6l-0.5-0.4l-0.7-0.3l-0.4-0.5l0.1-0.7l-0.3-0.6l-0.4-0.6l-0.2-0.6l0-0.6l-0.2-0.7l-0.4-0.6l0-0.7l0.4-0.6l0.3-0.6l0.1-0.6l0.1-0.7l0-0.7l0-0.7l-0.1-0.7l0.4-0.6l0.3-0.6l0.2-0.7l0.5-0.5l0.8-0.3l0.4-0.4l0.2-0.8l0.6-0.4l0.7-0.2l0.6-0.2l0.4-0.6l0.6-0.3l0.8,0.1l0.6-0.2l0.4-0.8l0.4-0.7l0.7-0.1l0.8,0.3l0.7,0.2l0.6,0.2l0.7-0.1l0.6-0.1l0.6,0l0.7-0.1l0.6,0.1l0.6,0.5l0.5,0.4l0.6,0.2l0.7-0.1l0.7-0.2l0.6,0.3l0.5,0.4l0.7,0.1l0.6,0.3l0.5,0.4l0.5,0.5l0.6,0.3l0.7,0.3l0.4,0.5l0.5,0.5l0.5,0.5l0.4,0.5l0.1,0.8l0.1,0.7l0.3,0.6l0.1,0.7l0.4,0.6l0.3,0.6l0.4,0.6l0.2,0.7l0.1,0.7z" fill="#ebff00"/>
<path d="M490.4,162l0,0.7l-0.3,0.6l-0.4,0.6l0.1,0.7l-0.2,0.6l-0.6,0.4l-0.3,0.6l-0.5,0.5l-0.4,0.4l0.2,0.8l-0.3,0.5l-0.8,0.2l-0.6,0.3l-0.1,0.7l-0.4,0.4l-0.5,0.3l-0.3,0.5l-0.7,0.1l-0.8-0.2l-0.5,0.3l-0.5,0.2l-0.6,0l-0.6,0l-0.3,0.5l-0.6,0.2l-0.5,0l-0.5,0.4l-0.5,0.1l-0.6-0.3l-0.5,0.2l-0.6,0.3l-0.5-0.5l-0.4-0.4l-0.5-0.1l-0.6,0l-0.5,0l-0.6,0l-0.5-0.2l-0.4-0.4l-0.4-0.3l-0.5-0.2l-0.7,0l-0.4-0.3l-0.4-0.5l-0.1-0.6l-0.6-0.2l-0.7-0.1l-0.4-0.4l-0.2-0.6l-0.2-0.5l-0.4-0.4l-0.7-0.3l-0.3-0.5l0.1-0.7l-0.2-0.5l-0.3-0.6l-0.2-0.5l0-0.6l-0.2-0.6l-0.4-0.6l0-0.6l0.5-0.6l0.4-0.5l0-0.6l-0.1-0.6l0.1-0.6l0-0.7l0-0.7l0.2-0.6l0.4-0.5l0.3-0.5l0.5-0.4l0.7-0.3l0.4-0.4l0.2-0.6l0.4-0.4l0.7-0.2l0.5-0.2l0.5-0.4l0.6-0.2l0.6,0l0.5-0.3l0.3-0.7l0.5-0.4l0.6,0l0.7,0.3l0.6,0.1l0.6,0l0.5-0.1l0.6-0.1l0.6-0.1l0.6-0.2l0.5,0.1l0.5,0.5l0.5,0.5l0.5,0.2l0.6,0l0.7-0.3l0.6,0.2l0.4,0.3l0.6,0.2l0.6,0.2l0.5,0.3l0.5,0.4l0.5,0.3l0.6,0.3l0.6,0.3l0.5,0.4l0.6,0.4l0.2,0.6l-0.1,0.8l0,0.7l0.4,0.5l0.2,0.6l0.5,0.5l0.2,0.6l0.3,0.6l0.3,0.6l-0.1,0.7z" fill="#fff100"/>
<path d="M489.9,162l0,0.6l-0.2,0.7l-0.4,0.5l0,0.6l-0.2,0.6l-0.5,0.5l-0.1,0.6l-0.5,0.4l-0.4,0.5l0.1,0.7l-0.4,0.5l-0.7,0.2l-0.5,0.3l-0.3,0.5l-0.3,0.5l-0.4,0.4l-0.3,0.5l-0.7,0l-0.8-0.1l-0.5,0.2l-0.5,0.1l-0.6,0l-0.5,0.1l-0.3,0.5l-0.5,0.1l-0.6,0l-0.5,0.3l-0.5,0l-0.5-0.3l-0.5,0.2l-0.5,0.3l-0.5-0.4l-0.5-0.4l-0.4,0l-0.6,0l-0.5-0.1l-0.5-0.1l-0.5,0l-0.5-0.2l-0.4-0.4l-0.5-0.1l-0.6-0.1l-0.3-0.4l-0.3-0.5l-0.3-0.4l-0.5-0.3l-0.6-0.1l-0.5-0.3l-0.2-0.6l-0.1-0.5l-0.5-0.3l-0.6-0.4l-0.2-0.5l0.1-0.6l-0.2-0.6l-0.4-0.4l-0.2-0.6l0.1-0.6l-0.3-0.5l-0.3-0.6l0.1-0.6l0.3-0.5l0.5-0.6l0-0.5l-0.2-0.6l0.2-0.6l0.1-0.5l0-0.7l0.1-0.6l0.4-0.4l0.6-0.4l0.5-0.3l0.5-0.4l0.4-0.4l0.2-0.5l0.4-0.4l0.6-0.2l0.5-0.2l0.5-0.3l0.5-0.1l0.6-0.1l0.4-0.3l0.3-0.6l0.5-0.3l0.6,0.1l0.6,0.3l0.5-0.1l0.6-0.1l0.5,0l0.5-0.1l0.5-0.2l0.6-0.3l0.5,0.1l0.5,0.5l0.4,0.6l0.5,0.2l0.5,0l0.6-0.2l0.6,0l0.5,0.3l0.5,0.2l0.6,0.1l0.5,0.3l0.4,0.4l0.5,0.3l0.6,0.2l0.7,0.2l0.7,0.3l0.5,0.4l0,0.7l-0.3,0.8l0.1,0.6l0.4,0.5l0.4,0.5l0.6,0.5l0.1,0.6l0.3,0.5l0.3,0.6l-0.1,0.7z" fill="#ffd000"/>
<path d="M489.5,162l0,0.6l-0.1,0.6l-0.5,0.6l-0.2,0.5l0,0.6l-0.3,0.6l-0.1,0.5l-0.5,0.4l-0.5,0.4l0,0.7l-0.4,0.4l-0.7,0.2l-0.4,0.4l-0.4,0.4l-0.4,0.3l-0.2,0.5l-0.3,0.5l-0.7,0l-0.7-0.1l-0.5,0.2l-0.5,0.1l-0.5,0.1l-0.5,0.2l-0.3,0.4l-0.5,0.1l-0.6-0.1l-0.4,0.2l-0.5,0l-0.5-0.5l-0.5,0.2l-0.5,0.4l-0.5-0.2l-0.4-0.4l-0.5,0l-0.4,0l-0.5-0.2l-0.4-0.2l-0.6,0.1l-0.5-0.1l-0.4-0.3l-0.4-0.2l-0.6,0l-0.3-0.5l-0.3-0.4l-0.3-0.4l-0.4-0.3l-0.6-0.2l-0.5-0.2l-0.2-0.5l-0.2-0.5l-0.5-0.3l-0.4-0.4l-0.1-0.5l0.1-0.6l-0.4-0.5l-0.5-0.4l-0.2-0.5l0.2-0.6l-0.2-0.6l-0.1-0.5l0-0.6l0.2-0.5l0.4-0.5l0-0.5l-0.2-0.6l0.2-0.5l0.4-0.5l0-0.6l0-0.6l0.5-0.4l0.6-0.2l0.5-0.3l0.4-0.4l0.3-0.4l0.3-0.4l0.4-0.3l0.5-0.2l0.4-0.3l0.5-0.2l0.5-0.1l0.5-0.1l0.4-0.3l0.4-0.4l0.5-0.2l0.5,0.1l0.5,0.2l0.5-0.2l0.4-0.2l0.5,0.1l0.5,0l0.5-0.3l0.5-0.3l0.5,0.1l0.4,0.5l0.4,0.5l0.4,0.2l0.5,0l0.6-0.1l0.6-0.2l0.5,0.2l0.5,0.2l0.5,0.2l0.5,0.2l0.4,0.4l0.4,0.3l0.6,0.2l0.8,0l0.7,0.2l0.5,0.4l-0.2,0.8l-0.3,0.8l0.2,0.6l0.4,0.4l0.5,0.4l0.6,0.5l0.1,0.5l0.2,0.6l0.4,0.6l0,0.6z" fill="#ffb000"/>
<path d="M489.1,162l0.1,0.6l-0.1,0.6l-0.6,0.5l-0.3,0.5l0.2,0.6l-0.1,0.6l-0.2,0.5l-0.6,0.4l-0.5,0.4l0,0.6l-0.5,0.4l-0.6,0.2l-0.4,0.3l-0.5,0.2l-0.5,0.3l-0.2,0.5l-0.2,0.5l-0.7,0l-0.6,0l-0.4,0.2l-0.5,0.2l-0.4,0.2l-0.5,0.1l-0.3,0.4l-0.6,0l-0.4-0.1l-0.5,0.2l-0.5-0.2l-0.5-0.4l-0.4-0.1l-0.5,0.5l-0.4,0.1l-0.4-0.4l-0.5-0.1l-0.4,0l-0.4-0.3l-0.4-0.2l-0.6,0.2l-0.5,0l-0.3-0.4l-0.4-0.1l-0.6,0l-0.3-0.4l-0.3-0.5l-0.3-0.3l-0.4-0.3l-0.4-0.2l-0.7-0.1l-0.2-0.5l-0.1-0.5l-0.5-0.3l-0.3-0.4l0-0.6l0.1-0.5l-0.6-0.4l-0.7-0.4l-0.1-0.5l0.3-0.6l0-0.5l0-0.5l-0.1-0.5l0-0.5l0.3-0.5l0.1-0.5l-0.2-0.6l0.2-0.5l0.5-0.4l0.2-0.5l0-0.6l0.5-0.3l0.5-0.2l0.5-0.3l0.3-0.4l0.2-0.4l0.3-0.4l0.5-0.1l0.5-0.2l0.4-0.3l0.4-0.2l0.5-0.1l0.4-0.1l0.5-0.1l0.3-0.3l0.4-0.2l0.5,0l0.5,0.3l0.4-0.3l0.4-0.3l0.5,0.2l0.4,0.1l0.4-0.3l0.5-0.2l0.5,0.1l0.4,0.3l0.3,0.4l0.4,0.1l0.5,0.1l0.5-0.2l0.6-0.2l0.5,0.1l0.4,0.2l0.5,0.3l0.4,0.2l0.4,0.3l0.4,0.3l0.6,0.1l1-0.1l0.6,0.2l0.3,0.5l-0.2,0.8l-0.2,0.7l0.3,0.5l0.4,0.3l0.5,0.4l0.6,0.5l0,0.5l0.2,0.6l0.5,0.5l0.2,0.6z" fill="#ff9100"/>
<path d="M487.6,162l0.1,0.5l0,0.5l-0.5,0.5l-0.4,0.4l0.2,0.6l0.1,0.5l-0.2,0.5l-0.5,0.3l-0.5,0.3l-0.2,0.4l-0.4,0.4l-0.5,0.2l-0.4,0.2l-0.6,0.1l-0.4,0.2l-0.1,0.5l-0.2,0.4l-0.6,0l-0.5,0l-0.3,0.3l-0.3,0.3l-0.3,0.3l-0.4,0.2l-0.4,0.2l-0.4-0.1l-0.5-0.1l-0.4,0.1l-0.4-0.1l-0.4-0.4l-0.4-0.3l-0.4,0.5l-0.4,0.4l-0.4-0.3l-0.4-0.2l-0.3,0l-0.4-0.3l-0.3-0.2l-0.5,0.2l-0.4,0l-0.3-0.4l-0.5,0l-0.6,0.1l-0.3-0.3l-0.1-0.5l-0.3-0.3l-0.3-0.3l-0.4-0.2l-0.7,0l-0.3-0.4l0-0.5l-0.4-0.3l-0.2-0.4l0.1-0.5l0.1-0.5l-0.8-0.2l-0.8-0.3l0-0.5l0.3-0.6l0.2-0.4l0.1-0.5l-0.1-0.5l-0.2-0.4l0.3-0.5l0-0.5l-0.2-0.5l0.2-0.4l0.6-0.3l0.3-0.4l0.1-0.4l0.5-0.3l0.3-0.2l0.4-0.3l0.3-0.3l0.2-0.4l0.2-0.4l0.5,0l0.6,0l0.3-0.2l0.3-0.3l0.4,0l0.5,0l0.4,0l0.3-0.2l0.3-0.2l0.4-0.1l0.4,0.3l0.3-0.2l0.3-0.4l0.4,0.1l0.4,0.3l0.4-0.1l0.3-0.1l0.4,0.1l0.3,0.1l0.4,0.2l0.3,0l0.4,0.1l0.4-0.2l0.6-0.3l0.4,0.1l0.3,0.4l0.2,0.3l0.5,0l0.4,0.3l0.3,0.2l0.6,0l0.8-0.1l0.5,0.3l0,0.5l-0.1,0.6l0,0.5l0.3,0.4l0.5,0.2l0.5,0.4l0.3,0.4l0,0.5l0.1,0.5l0.6,0.4l0.3,0.5z" fill="#ff7200"/>
<path d="M485.5,162l0.2,0.4l0.2,0.5l-0.3,0.3l-0.5,0.4l0.3,0.4l0,0.5l-0.2,0.3l-0.5,0.3l-0.5,0.2l-0.2,0.3l-0.3,0.2l-0.4,0.2l-0.3,0.2l-0.7-0.1l-0.2,0.2l0,0.5l-0.2,0.2l-0.5-0.1l-0.4,0l-0.1,0.4l-0.1,0.6l-0.2,0.3l-0.3,0.2l-0.4,0.2l-0.4-0.3l-0.4-0.1l-0.3,0.2l-0.3,0l-0.4-0.4l-0.3-0.4l-0.3,0.4l-0.4,0.5l-0.3-0.3l-0.3-0.2l-0.3,0.1l-0.3-0.2l-0.3-0.1l-0.4,0.1l-0.4-0.1l-0.2-0.3l-0.4,0.1l-0.7,0.3l-0.3-0.2l0-0.5l-0.1-0.5l-0.2-0.3l-0.4-0.1l-0.7,0.1l-0.4-0.2l0-0.5l-0.3-0.3l-0.1-0.4l0.3-0.5l-0.1-0.3l-0.8-0.2l-0.8-0.3l0.1-0.4l0.2-0.5l0.3-0.4l0.3-0.4l-0.2-0.4l-0.2-0.4l0.1-0.4l-0.1-0.4l-0.1-0.5l0.1-0.4l0.6-0.2l0.5-0.2l0.3-0.3l0.4-0.2l0.2-0.3l0.3-0.2l0.4-0.2l0.1-0.3l0-0.5l0.5,0l0.7,0.3l0.4,0l0.1-0.3l0.4,0l0.4,0.1l0.3,0.1l0.2-0.2l0.2-0.2l0.3,0l0.4,0.3l0.2-0.3l0.2-0.5l0.3,0.2l0.3,0.5l0.3,0l0.2,0.1l0.3,0l0.2,0l0.3-0.1l0.3-0.1l0.2,0.2l0.4-0.1l0.6-0.5l0.2,0.1l0,0.7l0.1,0.3l0.5-0.1l0.3,0l0.4,0.1l0.5,0l0.6-0.1l0.2,0.4l-0.1,0.4l0,0.4l0.2,0.3l0.4,0.2l0.5,0.2l0.3,0.3l0,0.3l0,0.4l0.1,0.4l0.6,0.3l0.3,0.4z" fill="#ff5400"/>
<path d="M483.1,162l0.3,0.3l0.5,0.3l-0.1,0.3l-0.5,0.3l0.1,0.3l-0.1,0.3l-0.1,0.3l-0.5,0.1l-0.4,0.1l-0.2,0.2l-0.2,0.2l-0.2,0.2l-0.3,0l-0.6-0.2l-0.1,0.2l0.1,0.4l-0.2,0.1l-0.5-0.2l-0.3-0.2l0.1,0.6l0.1,0.8l-0.1,0.4l-0.2,0.1l-0.2,0.2l-0.4-0.4l-0.3-0.1l-0.2,0.2l-0.3,0.2l-0.3-0.3l-0.2-0.6l-0.2,0.4l-0.3,0.4l-0.2-0.3l-0.3-0.1l-0.3,0.2l-0.2,0l-0.2-0.2l-0.3-0.1l-0.3,0l-0.2-0.1l-0.4,0.2l-0.6,0.4l-0.4-0.1l0.2-0.6l0.2-0.7l-0.1-0.3l-0.3-0.1l-0.7,0.2l-0.5,0l0.1-0.4l-0.2-0.3l0.1-0.3l0.2-0.4l-0.1-0.3l-0.6-0.1l-0.8-0.1l0.1-0.4l0.2-0.4l0.3-0.3l0.2-0.3l-0.1-0.3l-0.1-0.3l-0.1-0.3l-0.3-0.4l-0.3-0.4l0-0.4l0.6-0.2l0.7,0l0.5-0.1l0.3-0.2l-0.1-0.3l0.4-0.1l0.4,0l0-0.3l-0.2-0.6l0.3-0.1l0.9,0.6l0.5,0.4l0-0.4l0.2-0.1l0.3,0.2l0.3,0l0.1-0.1l0.1-0.1l0.3,0.1l0.2,0.1l0.1-0.2l0.2-0.6l0.2,0.1l0.2,0.7l0.2,0.1l0.1,0.3l0.1,0.1l0.2-0.1l0.2-0.3l0.3-0.2l0.1,0.2l0.3-0.2l0.5-0.6l0.2,0.2l-0.4,1l0,0.3l0.4-0.3l0.4-0.1l0.6-0.3l0.5-0.1l0.2,0.2l-0.3,0.5l-0.1,0.3l0.2,0.2l0.3,0.1l0.4,0l0.4,0.1l0.2,0.3l-0.2,0.3l-0.2,0.3l0.1,0.3l0.5,0.2l0.3,0.2z" fill="#ff3600"/>
<path d="M480.2,162l0.6,0.2l0.7,0.2l0.1,0.2l-0.4,0.1l-0.1,0.2l-0.3,0.1l0,0.1l-0.5,0l-0.4,0l0.1,0.1l-0.1,0.2l0,0.1l-0.3-0.1l-0.4-0.1l0.1,0.2l0,0.2l-0.3-0.2l-0.4-0.3l-0.2-0.3l0.2,0.6l0.4,0.9l0.1,0.5l-0.1,0.2l-0.1,0.2l-0.3-0.4l-0.2-0.2l-0.1,0.2l-0.2,0.3l-0.1-0.2l-0.2-0.7l-0.1,0.2l-0.2,0.4l-0.1-0.3l-0.2,0l-0.2,0.5l-0.2,0.1l-0.1-0.3l-0.1-0.3l-0.2,0.1l-0.2,0.2l-0.4,0.2l-0.6,0.4l-0.2,0l0.3-0.7l0.5-0.8l0.2-0.4l-0.2,0l-0.6,0.3l-0.5,0.1l0.2-0.3l-0.1-0.2l0.3-0.3l0.2-0.2l-0.3-0.1l-0.3-0.1l-0.5,0l0.1-0.3l0.1-0.1l0-0.2l0.2-0.2l0.1-0.2l-0.1-0.1l-0.3-0.2l-0.7-0.4l-0.4-0.3l-0.2-0.4l0.6,0l0.7,0.1l0.6,0l0.1-0.1l-0.2-0.4l0.4,0.1l0.5,0.2l-0.1-0.3l-0.6-0.8l0-0.3l1.1,1l0.7,0.7l-0.2-0.4l0-0.3l0.2,0.2l0.2,0.1l0-0.3l0.1,0l0.2,0.3l0.1,0l0.1-0.2l0-0.6l0.2,0l0.1,0.8l0.1,0.1l0,0.4l0.1,0.2l0,0l0.2-0.4l0.2-0.2l0,0.1l0.3-0.3l0.5-0.8l0,0.3l-0.6,1.2l-0.2,0.4l0.4-0.4l0.4-0.4l0.8-0.6l0.4-0.2l-0.2,0.5l-0.7,0.6l-0.1,0.3l0.4-0.2l0.3,0l0.3,0l0.3,0.1l0.1,0.1l-0.4,0.3l-0.4,0.2l0,0.2l0.3,0l0.1,0.2z" fill="#ff1900"/>
</g>
<path d="M246.5,398.5l-0.6,1l0.2,0.9l0,1l0.1,1l0.4,1l0.1,1l0,1l0,1l-0.2,1l-0.3,1l0,1l0.3,1.1l-0.4,0.9l-0.6,0.9l-0.4,0.9l0,1.1l0.1,1.1l0.2,1.2l-0.2,1l-0.4,0.9l-0.7,0.8l-0.3,1l-0.2,1.1l-0.8,0.8l-0.5,0.8l-0.3,1.1l0.4,1.4l0.3,1.5l-0.6,0.9l-0.1,1.2l-0.3,1.2l-0.8,0.8l-0.5,1l-0.2,1.3l-0.5,1l-0.9,0.7l-0.3,1.3l-0.2,1.4l-0.7,0.9l-0.5,1.2l-0.5,1.3l-0.7,0.9l-0.7,1l-0.7,1.1l-0.7,1.1l-0.7,1.1l-0.7,1.2l-0.5,1.4l-0.6,1.5l-0.7,1.4l-0.8,1.1l-0.8,1.4l-0.6,1.7l-1,1.1l-1,1.1l-0.9,1.4l-0.9,1.4l-1,1.4l-1.1,1.3l-1.1,1.2l-1.2,1.1l-1.2,1.2l-1.2,1.3l-1.2,1.6l-1.3,1.1l-1.3,1.5l-1.5,1l-1.5,0.7l-1.6,0.4l-1.6,0l-1.5,0.9l-1.6,0.4l-1.6-0.1l-1.7,0.2l-1.6,0l-1.6-0.4l-1.6-0.1l-1.6-0.6l-1.6-0.6l-1.5-0.7l-1.5-0.9l-1.5-0.9l-1.4-0.8l-1.5-0.7l-1.3-1.1l-1.3-1.1l-1.3-0.9l-1.3-1l-1.2-1l-1.2-1.1l-1-1.6l-1-1.4l-1.1-1.1l-1-1.2l-1-1.1l-1.1-0.9l-0.9-1.3l-0.7-1.5l-0.7-1.4l-0.9-1l-0.9-1.1l-0.8-1.1l-0.7-1.3l-0.6-1.3l-0.6-1.2l-0.6-1.3l-0.6-1.1l-0.9-0.9l-0.7-1l-0.7-1l-0.5-1.2l-0.5-1.2l-1-0.6l-0.6-1.1l-0.1-1.5l-0.4-1.1l-0.7-0.9l-0.2-1.3l-0.2-1.3l-0.7-0.8l-0.4-1.1l-0.3-1.1l-0.4-1l0-1.3l-0.2-1.1l-0.7-0.9l-0.5-0.9l-0.3-1.1l-0.4-1l-0.2-1l-0.1-1.1l0.2-1.2l-0.2-1.1l-0.3-1l0.2-1.1l0-1.1l-0.4-0.9l0-1.1l0.2-1.1l-0.3-0.9l-0.7-0.9l-0.3-1l-0.1-1l0.3-1.1l-0.1-1l-0.2-1l0-1l0-1l-0.5-1l-0.1-1l0.2-1l0-1l-0.2-1.1l0.2-1l-0.1-1l0.5-1l0.5-0.9l0.1-1l0-1l0.7-0.9l0.5-0.9l0.1-1l-0.2-1.1l0.2-1l0.4-0.9l0-1.1l-0.1-1.1l0.4-1l0.6-0.8l0.4-1l-0.1-1.2l0.5-0.9l0.9-0.6l0.7-0.8l0.5-0.9l0-1.2l0.4-0.9l0.2-1.2l0.2-1.1l0.7-0.8l0.3-1l0.5-1l0.5-0.9l0.1-1.3l0.6-1l0.6-0.9l0.4-1.1l0.7-0.9l0.6-1l0.3-1.2l0.5-1.2l0.9-0.7l0.5-1.1l0.4-1.5l0.7-1l0.5-1.2l0.7-1.2l0.7-1.1l0.6-1.4l0.5-1.5l0.6-1.5l0.6-1.5l0.8-1.4l0.8-1.4l0.9-1.2l0.9-1.2l0.9-1.7l0.8-1.6l1-1.5l1.1-1.3l1.1-1.3l1.2-1.1l1.3-1.2l1.2-1.4l1.4-0.8l1.4-0.6l1.4-0.9l1.5-0.8l1.6,0l1.5,0.1l1.6,0.6l1.6-0.3l1.5-0.7l1.5-0.3l1.6-0.5l1.6-0.3l1.6-0.2l1.6-0.6l1.6-0.1l1.6,0.3l1.5,0.6l1.4,1.3l1.4,1.5l1.2,1.8l1.3,1.1l1.3,1l1.3,1l1.2,1.2l1,1.6l0.9,1.8l0.9,1.6l1,1.4l0.9,1.2l1,1.2l0.9,1.2l0.6,1.6l0.6,1.7l1,0.8l1.3,0.2l0.7,1.3l0.4,1.7l0.6,1.2l0.8,1l0.7,1.2l0.3,1.4l0.3,1.6l0.6,1.1l0.9,0.6l0.7,0.9l0.7,0.9l0.6,1l0.3,1.2l0.4,1.1l0.6,1l0.5,1l0.4,1l0.5,1l0.1,1.2l0.5,0.9l0.6,0.9l0.3,1l-0.2,1.4l0.2,1.1l0.6,0.8l0.7,0.7l0.1,1.1l-0.3,1.3l0.6,0.8l0.7,0.7l0.4,0.9l0.3,1l0.1,1l0,1.1l0,1l0.4,0.9l-0.1,1l0.4,0.9l0.4,0.9l0.4,0.9l0.2,0.9l0.6,0.9l0.3,0.9l0.4,1l0.4,0.9l0.1,1l-0.1,1l0.2,0.9l0.1,1l0,1z" fill="#000"/>
<g filter="url(#sm)">
<path d="M244.9,398.5l-0.3,2.3l0,2.4l-0.1,2.4l-0.3,2.3l-0.4,2.4l-0.1,2.5l-0.1,2.5l-0.2,2.6l-0.2,2.7l-0.9,2.4l-1.2,2.3l-0.9,2.5l-0.9,2.7l-1,2.7l-1.1,2.7l-1.3,2.7l-1.3,2.9l-1.4,2.9l-1.8,2.8l-1.8,3l-1.7,3.5l-2,3.4l-2.4,3.1l-2.6,3.3l-2.8,3.2l-3.2,3l-3.5,1.9l-3.8,1.4l-3.9,0.8l-3.9,0l-3.9-0.7l-3.8-1.2l-3.6-2l-3.3-2.6l-3-2.9l-2.9-2.9l-2.7-2.5l-2.3-3.3l-2-3.2l-2.3-2.5l-2-2.6l-1.6-3l-1.6-2.7l-1.7-2.4l-1.7-2.4l-1.5-2.4l-1.1-2.8l-0.7-2.9l-0.8-2.7l-0.6-2.7l-0.8-2.6l-1-2.3l-0.6-2.5l-0.2-2.6l-0.1-2.6l-0.1-2.6l-0.2-2.4l-0.6-2.4l-0.6-2.4l0-2.5l0.1-2.5l0.5-2.4l0.6-2.4l0.8-2.3l0.4-2.4l0.1-2.6l0.5-2.4l1.1-2.2l0.5-2.5l0.8-2.5l1.2-2.2l1.3-2.2l1.3-2.3l0.9-2.6l0.9-2.8l0.9-3l1.4-2.7l1.7-2.5l1.4-3.1l1.3-3.6l1.8-3.3l2.2-2.9l2.3-3.3l2.4-3.5l2.9-3.1l3.2-2.4l3.4-2l3.7-1.1l3.9-0.4l3.8-0.5l3.9-0.6l3.9,0.6l3.5,2.2l3.2,3.4l2.9,3.3l2.6,3.2l2.5,3.1l2.2,3.1l1.8,3.3l1.8,3.2l1.6,2.8l1.7,2.6l1.6,2.5l1.1,2.9l1,2.8l1.4,2.3l1.2,2.3l1.1,2.4l1.1,2.2l0.6,2.6l0.2,2.7l0.3,2.4l0.8,2.3l0.8,2.2l0.3,2.4l0.4,2.3l1.1,2.1l0.5,2.4l0,2.3z" fill="#020003"/>
<path d="M243.5,398.5l-0.2,2.3l-0.1,2.3l-0.3,2.2l-0.3,2.3l-0.2,2.3l0,2.4l-0.2,2.5l-0.4,2.4l-0.5,2.5l-0.7,2.4l-0.9,2.3l-0.8,2.5l-0.8,2.6l-0.9,2.7l-1.1,2.6l-1.4,2.5l-1.3,2.7l-1.4,2.9l-1.7,2.6l-1.7,2.9l-1.7,3.3l-1.9,3.4l-2.3,3.2l-2.4,3.2l-2.8,3.2l-3,2.7l-3.5,2l-3.6,1.3l-3.8,0.7l-3.8,0.1l-3.8-0.6l-3.7-1.2l-3.5-1.9l-3.2-2.6l-2.9-2.8l-2.8-2.6l-2.7-2.5l-2.1-3.3l-2-3.2l-2.1-2.5l-1.9-2.5l-1.6-2.8l-1.6-2.6l-1.7-2.4l-1.6-2.3l-1.5-2.4l-1-2.7l-0.7-2.8l-0.7-2.6l-0.6-2.6l-0.8-2.4l-1-2.3l-0.7-2.5l-0.3-2.4l-0.1-2.5l-0.2-2.5l-0.4-2.3l-0.4-2.4l-0.5-2.4l-0.3-2.4l0.2-2.4l0.6-2.4l0.5-2.3l0.7-2.3l0.4-2.4l0.2-2.4l0.6-2.4l0.8-2.3l0.6-2.4l0.9-2.3l1.3-2.1l1.3-2.1l1.1-2.3l0.8-2.6l0.9-2.8l0.9-2.9l1.3-2.7l1.6-2.5l1.4-3.1l1.4-3.4l1.8-3.1l2.2-2.7l2.2-3.2l2.3-3.7l2.7-3.3l3.1-2.5l3.4-1.9l3.7-1.1l3.7-0.5l3.8-0.6l3.8-0.5l3.8,0.7l3.5,2.2l3.2,3.2l2.8,3.3l2.6,3.3l2.3,3.2l2.1,3.1l1.8,3.4l1.7,3l1.6,2.8l1.7,2.5l1.5,2.4l1.1,2.9l0.9,2.8l1.3,2.3l1.2,2.2l0.9,2.4l0.9,2.4l0.5,2.5l0.3,2.5l0.7,2.2l0.8,2.2l0.6,2.2l0.2,2.3l0.3,2.2l1,2.2l0.5,2.2l0.1,2.3z" fill="#09000a"/>
<path d="M242.4,398.5l-0.2,2.2l-0.2,2.2l-0.4,2.2l-0.2,2.2l-0.1,2.3l0,2.4l-0.2,2.3l-0.7,2.3l-0.6,2.3l-0.5,2.4l-0.7,2.4l-0.7,2.5l-0.7,2.6l-0.9,2.5l-1.2,2.5l-1.3,2.5l-1.3,2.6l-1.4,2.7l-1.7,2.5l-1.6,2.9l-1.7,3.1l-1.9,3.3l-2.1,3.2l-2.3,3.4l-2.7,3l-3,2.7l-3.4,1.9l-3.5,1.2l-3.7,0.7l-3.7,0.2l-3.7-0.6l-3.6-1.1l-3.4-1.9l-3.1-2.5l-2.9-2.7l-2.8-2.5l-2.5-2.5l-2.1-3.3l-1.9-3.1l-2-2.6l-1.8-2.5l-1.6-2.6l-1.6-2.5l-1.7-2.3l-1.6-2.2l-1.4-2.4l-0.9-2.7l-0.6-2.7l-0.7-2.6l-0.6-2.5l-0.9-2.3l-1-2.2l-0.6-2.4l-0.4-2.4l-0.2-2.4l-0.4-2.4l-0.4-2.3l-0.4-2.3l-0.5-2.3l-0.2-2.4l0.2-2.4l0.6-2.3l0.5-2.3l0.6-2.3l0.3-2.3l0.3-2.4l0.6-2.3l0.7-2.3l0.6-2.3l1-2.3l1.3-2l1.3-2.1l1-2.3l0.7-2.6l0.9-2.7l1-2.8l1.2-2.7l1.5-2.5l1.4-3l1.3-3.4l1.9-3l2.2-2.5l2.2-3.1l2.1-3.9l2.6-3.5l3.1-2.5l3.4-1.8l3.6-0.9l3.7-0.5l3.7-0.8l3.8-0.5l3.7,0.8l3.5,2.2l3.1,3.1l2.8,3.1l2.5,3.4l2.3,3.3l2,3.1l1.7,3.4l1.7,3l1.6,2.7l1.7,2.4l1.5,2.4l0.9,3l0.8,2.8l1.3,2.2l1.2,2.2l0.8,2.4l0.6,2.5l0.5,2.4l0.5,2.3l0.8,2.1l0.8,2.1l0.5,2.2l0.2,2.3l0.2,2.2l0.8,2.1l0.7,2.1l0.1,2.3z" fill="#170019"/>
<path d="M241.4,398.5l-0.2,2.2l-0.3,2.1l-0.4,2.2l-0.1,2.1l0,2.3l0,2.3l-0.4,2.2l-0.8,2.1l-0.7,2.2l-0.3,2.4l-0.6,2.4l-0.7,2.5l-0.6,2.6l-0.9,2.4l-1.2,2.4l-1.2,2.5l-1.2,2.6l-1.5,2.5l-1.6,2.5l-1.6,2.8l-1.7,3l-1.8,3.1l-2.1,3.2l-2.2,3.4l-2.6,3l-3,2.4l-3.2,1.9l-3.5,1.2l-3.6,0.7l-3.6,0.2l-3.6-0.5l-3.5-1.1l-3.4-1.7l-3-2.4l-2.9-2.6l-2.7-2.4l-2.5-2.6l-2-3.2l-1.8-3.1l-1.9-2.6l-1.8-2.5l-1.6-2.5l-1.5-2.4l-1.6-2.2l-1.6-2.2l-1.3-2.3l-0.8-2.7l-0.7-2.7l-0.6-2.5l-0.5-2.5l-1-2.2l-1-2.1l-0.6-2.3l-0.4-2.4l-0.3-2.3l-0.4-2.3l-0.6-2.2l-0.4-2.3l-0.4-2.3l-0.2-2.3l0.3-2.3l0.7-2.3l0.4-2.2l0.5-2.3l0.3-2.3l0.3-2.3l0.5-2.3l0.7-2.2l0.7-2.3l1-2.1l1.3-2l1.1-2.1l0.9-2.4l0.7-2.6l0.9-2.6l1-2.6l1.2-2.7l1.5-2.5l1.3-3l1.3-3.3l1.8-2.9l2.3-2.4l2.1-3.1l2.1-3.8l2.5-3.6l3-2.6l3.4-1.6l3.5-0.7l3.6-0.6l3.7-0.9l3.7-0.5l3.7,0.9l3.4,2.3l3,2.9l2.8,3l2.5,3.3l2.2,3.2l2,3.1l1.7,3.4l1.6,2.8l1.7,2.7l1.6,2.4l1.4,2.4l0.9,2.9l0.7,2.9l1.2,2.2l1.2,2.1l0.7,2.4l0.4,2.5l0.5,2.4l0.7,2.1l0.9,2.1l0.6,2.1l0.5,2.1l0.2,2.2l0.1,2.2l0.7,2.1l0.9,2l0.1,2.2z" fill="#28002a"/>
<path d="M240.5,398.5l-0.2,2.1l-0.3,2.1l-0.3,2.1l0,2.2l0,2.2l-0.1,2.2l-0.5,2.2l-0.8,2l-0.7,2.1l-0.4,2.4l-0.5,2.4l-0.6,2.4l-0.6,2.5l-1,2.4l-1.1,2.3l-1.1,2.5l-1.2,2.5l-1.4,2.5l-1.6,2.5l-1.6,2.7l-1.7,2.8l-1.8,3l-2,3.2l-2.2,3.3l-2.5,2.8l-2.9,2.4l-3.2,1.7l-3.4,1.4l-3.5,0.8l-3.5,0.2l-3.5-0.5l-3.5-1.1l-3.2-1.6l-3.1-2.2l-2.8-2.4l-2.6-2.5l-2.4-2.6l-2-3.2l-1.8-3l-1.8-2.6l-1.7-2.5l-1.6-2.4l-1.6-2.3l-1.5-2.2l-1.5-2.2l-1.2-2.4l-0.7-2.6l-0.7-2.6l-0.5-2.5l-0.6-2.4l-0.9-2.1l-1.1-2.1l-0.6-2.2l-0.3-2.3l-0.3-2.3l-0.5-2.2l-0.6-2.1l-0.5-2.3l-0.3-2.2l-0.2-2.3l0.4-2.3l0.7-2.2l0.4-2.2l0.4-2.2l0.3-2.2l0.3-2.2l0.5-2.3l0.6-2.2l0.8-2.2l0.9-2.1l1.2-2l1-2.1l0.8-2.4l0.7-2.6l1-2.4l1.1-2.5l1-2.7l1.5-2.5l1.3-2.9l1.3-3.3l1.8-2.8l2.2-2.3l2.1-3l2-3.7l2.5-3.5l2.9-2.6l3.3-1.5l3.5-0.6l3.5-0.6l3.6-1l3.6-0.5l3.6,1l3.3,2.3l3,2.8l2.8,2.8l2.4,3.2l2.2,3l2,3.1l1.6,3.2l1.7,2.7l1.7,2.6l1.5,2.4l1.3,2.6l0.9,2.8l0.7,2.8l1,2.3l1.3,2l0.6,2.4l0.3,2.5l0.6,2.2l0.8,2.1l0.8,2l0.5,2.1l0.5,2.1l0.2,2.2l0,2.1l0.7,2l0.9,2l0.2,2.2z" fill="#370039"/>
<path d="M239.5,398.5l-0.2,2.1l-0.1,2l-0.2,2.1l0,2.1l0,2.2l-0.2,2.2l-0.4,2.1l-0.9,2l-0.7,2l-0.4,2.3l-0.6,2.3l-0.5,2.4l-0.7,2.4l-1,2.3l-1,2.3l-1.1,2.4l-1.2,2.5l-1.3,2.5l-1.4,2.6l-1.7,2.5l-1.7,2.6l-1.7,3l-2,3.1l-2.1,3.2l-2.6,2.7l-2.8,2.2l-3.1,1.6l-3.2,1.5l-3.4,1l-3.5,0.2l-3.5-0.5l-3.3-1.1l-3.2-1.6l-3-2l-2.8-2.2l-2.6-2.4l-2.3-2.7l-1.9-3.2l-1.7-3l-1.8-2.5l-1.7-2.4l-1.6-2.4l-1.5-2.3l-1.5-2.1l-1.4-2.2l-1.1-2.4l-0.6-2.6l-0.7-2.5l-0.6-2.4l-0.5-2.4l-0.9-2l-1.1-2l-0.6-2.2l-0.3-2.2l-0.3-2.2l-0.5-2.2l-0.6-2.1l-0.4-2.2l-0.4-2.2l-0.1-2.2l0.4-2.2l0.6-2.2l0.4-2.1l0.4-2.2l0.3-2.1l0.3-2.2l0.5-2.2l0.7-2.1l0.7-2.2l0.9-2.1l1-2l0.8-2.2l0.8-2.3l0.8-2.5l1.1-2.2l1-2.5l1-2.7l1.4-2.5l1.3-2.8l1.2-3.2l1.8-2.8l2.1-2.3l2.1-2.9l2-3.5l2.5-3.3l2.8-2.6l3.3-1.3l3.4-0.7l3.4-0.6l3.5-1.1l3.6-0.4l3.4,1.1l3.2,2.2l3,2.6l2.7,2.7l2.4,3.1l2.2,2.9l1.9,3l1.7,3.1l1.8,2.5l1.6,2.5l1.4,2.6l1.2,2.6l0.9,2.7l0.7,2.7l1,2.3l1.1,2l0.5,2.4l0.4,2.4l0.7,2.1l0.9,2l0.6,2.1l0.4,2.1l0.5,2l0.3,2.1l-0.1,2.1l0.6,2l1,1.9l0.2,2.1z" fill="#430048"/>
<path d="M238.6,398.5l-0.1,2l0.1,2.1l-0.2,2l0,2.1l-0.1,2.1l-0.2,2.1l-0.5,2.1l-0.8,2l-0.7,2l-0.5,2.2l-0.6,2.2l-0.6,2.2l-0.7,2.3l-1,2.2l-1,2.3l-1,2.4l-1.1,2.5l-1.3,2.5l-1.3,2.6l-1.6,2.4l-1.8,2.5l-1.7,2.9l-1.8,3.1l-2.2,2.9l-2.5,2.6l-2.7,2.2l-3.1,1.6l-3.1,1.5l-3.3,1.1l-3.4,0.3l-3.4-0.6l-3.2-1.2l-3.2-1.4l-2.9-1.9l-2.8-2.1l-2.5-2.4l-2.2-2.7l-1.9-3.1l-1.7-3l-1.7-2.4l-1.7-2.3l-1.6-2.3l-1.4-2.2l-1.5-2.2l-1.3-2.2l-1-2.4l-0.6-2.6l-0.7-2.3l-0.7-2.3l-0.4-2.4l-0.8-2l-1.1-1.9l-0.7-2.1l-0.2-2.2l-0.4-2.2l-0.4-2.1l-0.5-2.1l-0.4-2.1l-0.4-2.1l0-2.2l0.3-2.1l0.4-2.2l0.3-2.1l0.5-2.1l0.4-2.1l0.4-2.1l0.5-2.1l0.6-2.1l0.7-2l0.8-2.1l0.8-2.1l0.8-2.2l0.7-2.3l0.9-2.3l1.1-2.2l1-2.4l1-2.7l1.3-2.5l1.2-2.7l1.3-3.1l1.7-2.7l2.1-2.4l2-2.9l2-3.3l2.5-3.1l2.8-2.3l3.1-1.3l3.4-0.7l3.3-0.9l3.4-1l3.5-0.3l3.4,1.1l3.1,2.2l2.9,2.5l2.6,2.6l2.4,2.9l2.2,2.8l1.9,3l1.7,2.8l1.8,2.4l1.5,2.5l1.3,2.7l1,2.7l1,2.6l0.8,2.5l0.9,2.2l1,2.1l0.6,2.4l0.4,2.3l0.8,2l0.8,1.9l0.5,2.1l0.2,2.1l0.5,2l0.4,2l0,2.1l0.6,1.9l0.9,1.9l0.2,2.1z" fill="#4e0058"/>
<path d="M237.5,398.5l0,2l0.2,2l-0.1,2l-0.1,2l-0.2,2.1l-0.3,2l-0.4,2l-0.7,2l-0.7,1.9l-0.6,2.1l-0.6,2.1l-0.6,2.2l-0.8,2.1l-0.9,2.2l-1,2.2l-0.9,2.4l-1.1,2.4l-1.1,2.5l-1.3,2.6l-1.7,2.2l-1.7,2.4l-1.6,2.9l-1.8,2.9l-2.2,2.8l-2.4,2.5l-2.6,2.1l-3,1.6l-3,1.5l-3.2,1.2l-3.3,0.3l-3.3-0.6l-3.2-1.1l-3-1.4l-2.9-1.9l-2.7-2l-2.4-2.3l-2.2-2.7l-1.8-3l-1.6-2.9l-1.7-2.3l-1.7-2.1l-1.6-2.2l-1.4-2.3l-1.3-2.2l-1.2-2.2l-1-2.3l-0.6-2.5l-0.8-2.2l-0.6-2.3l-0.4-2.3l-0.7-2l-1-1.9l-0.6-2l-0.4-2.1l-0.3-2.1l-0.3-2.1l-0.5-2l-0.3-2l-0.3-2.1l0-2.1l0.2-2.1l0.2-2l0.2-2.1l0.5-2l0.4-2.1l0.5-2l0.6-2l0.7-2l0.5-2l0.6-2.1l0.8-2.1l0.6-2.2l0.8-2.2l0.9-2.2l1.1-2.1l1-2.3l1-2.6l1.1-2.5l1.3-2.7l1.3-2.9l1.6-2.7l1.9-2.5l2-2.8l2-3.1l2.5-2.7l2.7-2.1l3.1-1.3l3.2-0.8l3.2-1.1l3.3-1l3.4-0.2l3.3,1.1l3,2.2l2.8,2.4l2.6,2.4l2.3,2.8l2.1,2.7l1.9,2.9l1.7,2.7l1.7,2.3l1.6,2.4l1.1,2.7l0.9,2.8l1,2.5l0.9,2.3l1,2.2l0.8,2.1l0.5,2.3l0.6,2.1l0.9,1.9l0.7,2l0.3,2.1l0.2,2.1l0.4,1.9l0.4,1.9l0.3,2l0.5,1.9l0.7,1.8l0.3,2z" fill="#58006e"/>
<path d="M236.4,398.5l0.1,1.9l0.2,2l-0.1,1.9l-0.2,2l-0.2,2l-0.3,1.9l-0.4,2l-0.6,1.9l-0.5,2l-0.7,2l-0.8,1.9l-0.6,2.1l-0.8,2.1l-0.8,2.1l-0.9,2.2l-0.9,2.4l-1,2.3l-1.1,2.5l-1.2,2.5l-1.7,2.1l-1.7,2.2l-1.6,2.8l-1.8,2.8l-2.1,2.5l-2.3,2.5l-2.5,2.2l-2.8,1.7l-3,1.4l-3.1,1.1l-3.2,0.3l-3.2-0.5l-3.1-1.1l-2.9-1.4l-2.8-1.8l-2.6-2l-2.4-2.3l-2.1-2.5l-1.8-2.8l-1.6-2.8l-1.7-2.3l-1.7-2l-1.5-2l-1.3-2.3l-1.2-2.3l-1.2-2.1l-0.9-2.3l-0.7-2.3l-0.8-2.2l-0.6-2.2l-0.3-2.2l-0.6-2.1l-0.8-1.9l-0.7-1.9l-0.4-2l-0.2-2l-0.3-2.1l-0.4-1.9l-0.4-2l-0.2-2l0.1-2l0-2l0-2l0.2-2l0.5-2l0.5-2l0.4-1.9l0.8-1.9l0.6-1.9l0.4-2.1l0.5-2.1l0.6-2l0.6-2.2l0.8-2.1l1-2l1.1-2.1l1-2.3l1-2.4l1-2.5l1.3-2.6l1.2-2.8l1.6-2.7l1.8-2.5l1.9-2.8l2-2.9l2.5-2.3l2.7-1.9l2.9-1.3l3.1-1l3.1-1.2l3.2-0.9l3.3-0.1l3.2,1l2.9,2.2l2.7,2.3l2.6,2.2l2.3,2.6l2,2.8l1.7,2.9l1.7,2.5l1.8,2.1l1.4,2.4l1.2,2.6l0.8,2.8l0.9,2.4l1,2.2l1,2.1l0.8,2l0.5,2.3l0.7,2l0.8,1.9l0.6,1.9l0.3,2.1l0.1,2l0.4,1.9l0.4,1.9l0.5,1.8l0.5,1.9l0.5,1.9l0.2,1.9z" fill="#5b008a"/>
<path d="M235.3,398.5l0,1.9l0.2,1.9l0,1.8l-0.3,1.9l-0.2,1.9l-0.3,2l-0.4,1.9l-0.4,1.9l-0.4,1.9l-0.7,1.9l-0.8,1.9l-0.7,2l-0.8,2l-0.7,2.1l-0.9,2.1l-0.8,2.3l-0.9,2.4l-1.1,2.4l-1.3,2.3l-1.5,2.2l-1.7,2.1l-1.6,2.6l-1.8,2.5l-2.1,2.4l-2.2,2.4l-2.4,2.3l-2.7,1.9l-2.9,1.2l-3,0.9l-3.1,0.4l-3.1-0.4l-3-1.2l-2.8-1.4l-2.7-1.8l-2.5-1.9l-2.3-2.1l-2.1-2.4l-1.8-2.6l-1.6-2.7l-1.6-2.2l-1.7-2l-1.5-1.9l-1.3-2.2l-1-2.3l-1.1-2.2l-0.9-2.1l-0.8-2.3l-0.7-2.1l-0.6-2.1l-0.3-2.2l-0.5-2l-0.7-1.9l-0.6-1.9l-0.4-1.9l-0.3-2l-0.2-1.9l-0.4-1.9l-0.5-1.9l-0.1-2l0.2-1.9l-0.1-1.9l0-2l0.2-1.9l0.3-1.9l0.5-1.9l0.5-1.9l0.8-1.8l0.6-1.9l0.1-2.1l0.4-2.1l0.7-2l0.5-2.1l0.8-2.1l1.1-1.9l1-2l1-2.2l1-2.2l1-2.5l1.2-2.5l1.3-2.7l1.5-2.6l1.7-2.5l1.8-2.8l2.1-2.7l2.3-2.1l2.7-1.8l2.8-1.2l3-1.2l3-1.2l3.1-0.7l3.2-0.2l3.1,0.9l2.8,2.1l2.6,2.4l2.5,2.1l2.3,2.4l1.9,2.8l1.7,2.8l1.7,2.3l1.7,2.1l1.4,2.4l1.1,2.5l0.8,2.7l0.9,2.3l0.9,2.2l1,1.9l0.9,2l0.6,2.1l0.6,2l0.7,1.9l0.6,1.9l0.2,2l0.1,2l0.3,1.9l0.5,1.8l0.7,1.7l0.4,1.8l0.3,1.9l0.1,1.8z" fill="#5400a8"/>
<path d="M234.1,398.5l-0.1,1.8l0.2,1.8l0,1.8l-0.3,1.8l-0.2,1.9l-0.2,1.9l-0.4,1.8l-0.3,1.9l-0.3,1.9l-0.7,1.9l-0.8,1.8l-0.7,1.8l-0.7,2l-0.8,2.1l-0.9,1.9l-0.7,2.3l-0.8,2.4l-1.1,2.3l-1.2,2.3l-1.5,2.1l-1.6,2.1l-1.6,2.3l-1.8,2.4l-2.1,2.2l-2.1,2.4l-2.3,2.4l-2.6,1.9l-2.8,1.1l-2.9,0.8l-3,0.3l-3-0.3l-2.9-1.1l-2.7-1.5l-2.6-1.7l-2.5-1.8l-2.2-2l-2.1-2.2l-1.8-2.4l-1.5-2.6l-1.5-2.3l-1.6-1.9l-1.6-1.8l-1.2-2.2l-0.9-2.4l-1-2.1l-0.9-2.1l-0.8-2.1l-0.7-2l-0.6-2.1l-0.4-2.1l-0.4-1.9l-0.5-1.9l-0.5-1.9l-0.5-1.8l-0.2-1.9l-0.1-1.9l-0.5-1.8l-0.6-1.8l0-1.9l0.2-1.9l0-1.9l-0.2-1.9l0.3-1.8l0.3-1.9l0.3-1.8l0.5-1.9l0.9-1.7l0.5-1.8l0-2.1l0.3-2.1l0.6-1.9l0.6-2.1l0.8-2l1-1.9l1-1.9l1-2.1l1-2.2l1-2.4l1.2-2.4l1.3-2.4l1.5-2.5l1.6-2.5l1.7-2.7l2-2.6l2.3-2.1l2.6-1.7l2.7-1.2l2.8-1.2l3-1.2l3-0.6l3.1,0l3,0.8l2.7,1.9l2.6,2.3l2.4,2.1l2.2,2.3l1.8,2.7l1.7,2.7l1.7,2.2l1.6,2l1.3,2.4l1.1,2.4l0.9,2.5l0.8,2.3l0.9,2.1l1,1.9l0.9,1.8l0.7,2l0.6,2l0.6,1.8l0.5,1.9l0.2,2l0,2l0.2,1.9l0.5,1.7l0.8,1.6l0.4,1.8l0.1,1.8l0.1,1.8z" fill="#4300c3"/>
<path d="M232.8,398.5l-0.1,1.7l0.2,1.8l-0.1,1.7l-0.3,1.8l-0.1,1.7l-0.1,1.9l-0.3,1.8l-0.3,1.8l-0.4,1.9l-0.5,1.8l-0.8,1.7l-0.7,1.8l-0.6,2l-0.7,2l-1,1.8l-0.7,2.2l-0.7,2.5l-1,2.2l-1.3,2.2l-1.3,2.1l-1.6,2l-1.7,2.1l-1.8,2.2l-1.9,2.1l-2,2.3l-2.3,2.4l-2.4,1.9l-2.8,1l-2.8,0.7l-2.9,0.4l-2.9-0.3l-2.8-1.1l-2.6-1.5l-2.5-1.6l-2.4-1.7l-2.2-1.9l-2-2l-1.8-2.2l-1.5-2.6l-1.4-2.3l-1.6-1.8l-1.5-1.8l-1.2-2.1l-0.7-2.5l-1-2l-0.9-2l-0.7-2.1l-0.7-1.9l-0.6-2l-0.5-1.9l-0.4-2l-0.4-1.8l-0.3-1.9l-0.5-1.7l-0.3-1.9l0-1.8l-0.5-1.7l-0.7-1.8l0-1.8l0.3-1.8l0-1.8l-0.1-1.8l0.2-1.8l0.2-1.8l0.2-1.9l0.4-1.7l0.9-1.7l0.6-1.7l-0.1-2.1l0.2-2l0.6-1.9l0.6-2l0.7-2l1-1.8l1-1.9l1-2l1-2.1l1-2.3l1.1-2.3l1.3-2.3l1.6-2.2l1.5-2.5l1.6-2.7l1.9-2.5l2.3-2.1l2.4-1.7l2.7-1.2l2.7-1.1l2.9-1.2l2.9-0.5l3,0.2l2.9,0.7l2.7,1.7l2.4,2.2l2.3,2.2l2.1,2.2l1.8,2.5l1.7,2.5l1.6,2.1l1.6,2l1.2,2.4l1,2.4l1,2.2l0.9,2.2l0.8,2.1l0.9,1.9l1,1.7l0.8,1.8l0.6,1.9l0.5,1.9l0.4,1.9l0.2,1.9l-0.1,2l0,1.8l0.5,1.7l0.8,1.6l0.4,1.7l0.2,1.7l0,1.8z" fill="#2c00dc"/>
<path d="M231.5,398.5l-0.1,1.7l0.3,1.6l-0.1,1.7l-0.4,1.7l-0.1,1.7l0.1,1.8l-0.3,1.7l-0.5,1.7l-0.4,1.8l-0.4,1.8l-0.6,1.8l-0.6,1.7l-0.6,2l-0.7,1.9l-0.9,1.8l-0.8,2l-0.6,2.5l-0.9,2.2l-1.3,2l-1.3,2.1l-1.6,1.9l-1.6,2l-1.7,2.1l-1.9,2l-2,2.1l-2.2,2.3l-2.3,1.9l-2.7,1.1l-2.7,0.6l-2.8,0.4l-2.8-0.3l-2.7-1l-2.6-1.5l-2.4-1.5l-2.3-1.6l-2.1-1.7l-2-1.9l-1.8-2l-1.4-2.6l-1.3-2.4l-1.5-1.8l-1.6-1.6l-1-2.2l-0.6-2.5l-0.9-2l-0.9-1.9l-0.7-1.9l-0.7-1.9l-0.7-1.8l-0.4-1.9l-0.4-1.9l-0.3-1.9l-0.3-1.8l-0.5-1.6l-0.3-1.8l0.1-1.8l-0.5-1.6l-0.7-1.7l0-1.8l0.3-1.7l0.1-1.7l-0.2-1.8l0.2-1.7l0.2-1.8l0.1-1.7l0.3-1.8l0.9-1.6l0.6-1.6l0-2l0.1-2l0.6-1.9l0.6-1.8l0.6-2l0.8-1.9l1.1-1.7l0.9-2l1-2l1-2.2l1.1-2.2l1.3-2.2l1.5-2l1.5-2.3l1.6-2.7l1.8-2.5l2.1-2.2l2.4-1.7l2.5-1.1l2.7-1.1l2.8-1.2l2.8-0.3l2.8,0.4l2.8,0.8l2.7,1.4l2.3,2l2.2,2.2l2.1,2.2l1.8,2.2l1.6,2.3l1.6,2.1l1.5,2.1l1.1,2.3l1,2.3l1.1,2.1l0.9,2l0.8,2l0.8,1.9l1,1.6l0.8,1.8l0.6,1.9l0.3,1.9l0.5,1.8l0.1,1.9l-0.2,1.9l-0.1,1.8l0.5,1.6l0.8,1.5l0.4,1.7l0.3,1.6l0,1.7z" fill="#1400f0"/>
<path d="M230.3,398.5l-0.2,1.6l0.4,1.6l-0.2,1.6l-0.3,1.6l-0.2,1.6l0.1,1.8l-0.3,1.7l-0.5,1.5l-0.5,1.6l-0.3,1.8l-0.5,1.8l-0.5,1.8l-0.4,2l-0.6,1.8l-1.1,1.6l-0.8,1.9l-0.5,2.5l-0.9,2.2l-1.3,1.8l-1.2,2l-1.5,1.9l-1.6,1.9l-1.6,2.1l-1.8,1.9l-2,2l-2.1,2l-2.3,1.9l-2.5,1.2l-2.6,0.6l-2.7,0.4l-2.7-0.2l-2.6-0.9l-2.5-1.4l-2.3-1.5l-2.2-1.6l-2.1-1.7l-2-1.7l-1.8-1.9l-1.3-2.5l-1.2-2.5l-1.4-1.7l-1.5-1.6l-1-2.1l-0.5-2.5l-0.9-1.9l-0.9-1.8l-0.7-1.9l-0.6-1.8l-0.7-1.7l-0.4-1.9l-0.4-1.8l-0.2-1.8l-0.3-1.7l-0.5-1.6l-0.2-1.7l0.1-1.8l-0.5-1.5l-0.7-1.6l0.1-1.7l0.3-1.7l0.1-1.7l-0.2-1.6l0.1-1.7l0.1-1.7l0.1-1.7l0.2-1.7l0.8-1.6l0.7-1.5l0.2-1.8l0.1-2l0.4-1.8l0.6-1.8l0.5-2l0.8-1.8l1-1.7l0.9-1.8l1-2l0.9-2.2l1.1-2.1l1.3-2.1l1.5-1.8l1.4-2.2l1.5-2.6l1.8-2.4l1.9-2.3l2.3-1.7l2.5-1.1l2.6-1.1l2.6-1.2l2.8-0.2l2.7,0.7l2.7,0.9l2.5,1.2l2.4,1.8l2.1,2.2l1.9,2.1l1.8,1.9l1.6,2.3l1.5,2.1l1.4,2l1.1,2.3l1,2.2l1.1,1.8l0.9,1.9l0.7,2.1l0.7,1.9l1.1,1.5l0.9,1.6l0.4,1.9l0.2,1.9l0.4,1.8l0.1,1.8l-0.2,1.9l0,1.7l0.5,1.5l0.6,1.5l0.4,1.6l0.4,1.5l0.1,1.7z" fill="#000bff"/>
<path d="M229.4,398.5l-0.2,1.5l0.3,1.6l-0.1,1.6l-0.3,1.5l-0.2,1.6l0,1.7l-0.3,1.5l-0.7,1.5l-0.6,1.5l-0.2,1.8l-0.3,1.7l-0.3,1.9l-0.3,2l-0.7,1.7l-1.1,1.5l-0.8,1.8l-0.5,2.4l-0.9,2.1l-1.3,1.6l-1.2,2l-1.3,1.9l-1.5,1.9l-1.6,2.1l-1.7,2l-2,1.8l-2,1.8l-2.2,1.9l-2.4,1.3l-2.6,0.7l-2.6,0.4l-2.6-0.2l-2.6-0.9l-2.4-1.3l-2.2-1.6l-2.2-1.6l-2-1.7l-1.9-1.6l-1.8-1.7l-1.3-2.4l-1.1-2.4l-1.4-1.9l-1.4-1.5l-0.9-2l-0.6-2.5l-0.8-1.8l-1-1.6l-0.6-1.9l-0.7-1.7l-0.6-1.7l-0.5-1.8l-0.4-1.7l-0.1-1.8l-0.2-1.8l-0.5-1.5l-0.2-1.7l0.2-1.7l-0.4-1.5l-0.7-1.6l0-1.6l0.3-1.6l0.1-1.6l-0.2-1.6l0-1.7l0.2-1.6l0-1.7l0.2-1.6l0.7-1.6l0.8-1.4l0.3-1.7l0-1.9l0.4-1.8l0.7-1.7l0.5-1.9l0.6-1.9l0.9-1.7l1-1.7l0.9-1.9l0.8-2.2l1.1-2.1l1.2-2l1.5-1.9l1.4-2.1l1.5-2.4l1.7-2.4l1.8-2.4l2.2-1.8l2.5-1l2.5-1l2.6-1.2l2.7-0.1l2.7,0.8l2.5,1l2.5,1.1l2.3,1.8l2,2.1l1.9,2l1.8,1.9l1.5,2.3l1.4,2.1l1.3,2l1.1,2.2l1,2.1l1.1,1.7l0.9,1.8l0.7,2l0.6,1.9l1,1.5l0.9,1.6l0.2,1.9l0.1,1.9l0.5,1.6l0.1,1.8l0,1.7l0.1,1.6l0.5,1.5l0.4,1.5l0.4,1.5l0.6,1.5l0,1.6z" fill="#0030ff"/>
<path d="M228.6,398.5l-0.3,1.5l0.3,1.5l0,1.6l-0.3,1.5l-0.3,1.5l-0.1,1.5l-0.4,1.5l-0.8,1.4l-0.6,1.4l-0.1,1.8l-0.1,1.7l-0.2,1.9l-0.3,1.9l-0.7,1.7l-1.1,1.4l-0.9,1.6l-0.5,2.3l-0.8,2l-1.3,1.5l-1.2,2l-1.2,1.9l-1.4,1.9l-1.5,2.1l-1.7,1.9l-1.8,1.8l-2.1,1.6l-2.1,1.8l-2.3,1.4l-2.5,0.8l-2.5,0.5l-2.6-0.2l-2.4-0.8l-2.4-1.2l-2.2-1.6l-2-1.8l-1.9-1.7l-1.9-1.5l-1.7-1.6l-1.4-2.2l-1.1-2.3l-1.2-2l-1.3-1.6l-0.9-1.9l-0.6-2.3l-0.9-1.7l-1-1.5l-0.6-1.8l-0.6-1.8l-0.7-1.6l-0.4-1.7l-0.4-1.7l0-1.8l-0.2-1.7l-0.5-1.5l-0.1-1.6l0.2-1.7l-0.4-1.5l-0.5-1.5l-0.1-1.5l0.1-1.6l0.1-1.6l-0.2-1.5l0-1.6l0.2-1.6l0.1-1.6l0.2-1.6l0.5-1.5l0.7-1.5l0.6-1.5l0-1.9l0.3-1.8l0.7-1.6l0.5-1.7l0.6-1.9l0.7-1.8l1-1.6l0.9-1.9l0.7-2.2l1-2.1l1.2-2l1.4-1.9l1.4-2l1.5-2.3l1.6-2.3l1.9-2.3l2.1-1.8l2.4-1l2.4-1.1l2.6-1.1l2.6,0l2.6,0.9l2.5,1l2.4,1.1l2.2,1.7l2,2.1l1.8,1.9l1.7,1.9l1.5,2.2l1.3,2.2l1.2,2l1.1,2.1l0.9,2l1.1,1.6l1,1.8l0.6,1.9l0.6,1.9l0.8,1.5l0.9,1.5l0.1,1.9l0,1.9l0.5,1.6l0.2,1.6l0.3,1.5l0.3,1.5l0.5,1.5l0.2,1.5l0.3,1.5l0.6,1.4l0.1,1.6z" fill="#0055ff"/>
<path d="M227.8,398.5l-0.4,1.4l0.2,1.5l0.1,1.5l-0.2,1.5l-0.4,1.4l-0.3,1.5l-0.4,1.4l-0.8,1.3l-0.4,1.4l0,1.7l-0.1,1.8l-0.2,1.8l-0.3,1.9l-0.8,1.5l-1.1,1.3l-0.9,1.5l-0.4,2.2l-0.9,1.8l-1.3,1.5l-1,1.9l-1.2,1.9l-1.3,2l-1.4,2l-1.6,1.9l-1.8,1.7l-2,1.5l-2.1,1.7l-2.2,1.5l-2.3,0.9l-2.5,0.6l-2.5-0.1l-2.4-0.9l-2.3-1.2l-2.1-1.6l-2-1.7l-1.8-1.7l-1.8-1.5l-1.7-1.5l-1.4-2l-1.1-2.1l-1.1-2.1l-1.1-1.8l-0.9-1.9l-0.7-2l-0.9-1.6l-0.9-1.5l-0.6-1.8l-0.6-1.7l-0.7-1.5l-0.4-1.7l-0.3-1.7l0-1.7l-0.1-1.7l-0.4-1.5l-0.1-1.5l0.1-1.6l-0.3-1.4l-0.4-1.5l-0.2-1.5l-0.1-1.5l0-1.5l-0.2-1.5l0.1-1.6l0.2-1.5l0.1-1.6l0.3-1.5l0.4-1.5l0.5-1.5l0.7-1.4l0-1.8l0.3-1.7l0.8-1.5l0.5-1.7l0.5-1.9l0.7-1.7l0.9-1.6l0.8-1.9l0.6-2.3l0.9-2.1l1.2-2l1.4-1.8l1.4-1.9l1.5-2.2l1.6-2.2l1.8-2.2l2.1-1.7l2.3-1l2.4-1.2l2.4-1l2.6,0l2.5,1l2.4,1l2.4,1.2l2.1,1.6l1.9,1.9l1.8,1.8l1.7,1.9l1.4,2.2l1.2,2.2l1.2,2l0.9,2.1l1,1.9l1,1.6l1,1.6l0.7,1.8l0.4,2l0.7,1.5l0.8,1.5l0,1.9l0,1.8l0.5,1.5l0.4,1.4l0.5,1.4l0.4,1.5l0.4,1.4l0.1,1.5l0.3,1.4l0.6,1.4l0.2,1.5z" fill="#007bff"/>
<path d="M226.9,398.5l-0.5,1.4l0.1,1.4l0.2,1.5l-0.2,1.4l-0.4,1.3l-0.4,1.4l-0.4,1.4l-0.7,1.2l-0.3,1.5l0,1.7l-0.1,1.7l-0.2,1.7l-0.3,1.8l-0.7,1.5l-1.2,1.1l-0.8,1.5l-0.5,2l-0.9,1.7l-1.2,1.5l-1,1.8l-1.1,1.9l-1.2,1.9l-1.4,2l-1.5,1.8l-1.7,1.8l-1.9,1.4l-2,1.5l-2.1,1.5l-2.3,1l-2.4,0.6l-2.4,0l-2.3-0.8l-2.3-1.2l-2-1.5l-1.9-1.8l-1.8-1.7l-1.7-1.3l-1.7-1.5l-1.3-1.9l-1.3-1.8l-0.9-2.2l-0.9-2l-0.9-1.8l-0.8-1.8l-0.9-1.5l-0.8-1.6l-0.6-1.7l-0.5-1.6l-0.7-1.5l-0.5-1.6l-0.2-1.6l0-1.8l-0.1-1.5l-0.3-1.5l0-1.5l-0.1-1.5l-0.3-1.4l-0.2-1.4l-0.3-1.5l-0.2-1.4l0-1.5l-0.2-1.5l0.2-1.4l0.2-1.5l0-1.5l0.4-1.5l0.2-1.5l0.4-1.5l0.8-1.3l0-1.7l0.3-1.7l0.9-1.4l0.5-1.6l0.4-1.8l0.7-1.7l0.8-1.7l0.7-1.9l0.6-2.2l0.9-2.1l1.1-2l1.3-1.8l1.4-1.8l1.5-2.1l1.6-2l1.7-2.1l2.1-1.5l2.2-1.2l2.3-1.3l2.4-0.9l2.5,0.1l2.4,1l2.4,1l2.2,1.2l2.1,1.6l1.9,1.8l1.8,1.6l1.6,1.9l1.3,2.2l1.2,2.2l1.1,2l0.9,2.1l0.8,1.9l1,1.6l1,1.4l0.7,1.7l0.3,1.9l0.6,1.6l0.7,1.5l0,1.8l0,1.8l0.5,1.3l0.6,1.3l0.6,1.3l0.4,1.4l0.2,1.5l0,1.4l0.4,1.4l0.6,1.3l0.2,1.5z" fill="#00a0ff"/>
<path d="M225.9,398.5l-0.7,1.3l0.1,1.4l0.2,1.4l-0.1,1.3l-0.3,1.4l-0.5,1.3l-0.4,1.3l-0.6,1.2l-0.2,1.4l0,1.6l-0.1,1.6l-0.2,1.7l-0.3,1.7l-0.7,1.5l-1,1.2l-0.9,1.3l-0.6,1.9l-0.8,1.6l-1.1,1.5l-0.9,1.8l-1.1,1.8l-1.1,1.9l-1.4,1.8l-1.5,1.8l-1.6,1.8l-1.8,1.3l-2,1.4l-2,1.5l-2.2,1.1l-2.3,0.5l-2.3,0.1l-2.3-0.7l-2.1-1.2l-2-1.6l-1.8-1.8l-1.7-1.6l-1.7-1.2l-1.6-1.4l-1.4-1.7l-1.3-1.7l-0.9-2.1l-0.7-2.2l-0.8-1.8l-0.9-1.5l-0.9-1.5l-0.7-1.6l-0.5-1.7l-0.5-1.6l-0.6-1.4l-0.5-1.5l-0.2-1.6l0-1.7l-0.3-1.5l-0.3-1.4l0.2-1.5l-0.2-1.4l-0.3-1.3l-0.1-1.4l-0.2-1.4l-0.3-1.4l-0.1-1.4l-0.1-1.5l0.1-1.4l0.2-1.4l0-1.5l0.4-1.4l0.1-1.5l0.3-1.5l0.7-1.3l0.3-1.6l0.3-1.5l0.9-1.3l0.5-1.6l0.3-1.8l0.6-1.7l0.8-1.6l0.6-2l0.7-2l0.8-2l1.1-1.9l1.2-1.8l1.3-1.9l1.5-2l1.5-2l1.8-1.8l2-1.4l2.1-1.3l2.2-1.4l2.4-0.8l2.4,0.1l2.4,0.9l2.2,1.1l2.2,1.3l2,1.5l1.9,1.6l1.7,1.6l1.6,1.9l1.3,2l1,2.2l1.1,2l0.8,2l0.7,2.1l1,1.5l1,1.3l0.7,1.6l0.3,1.9l0.5,1.6l0.5,1.4l0,1.8l0.1,1.6l0.5,1.3l0.7,1.2l0.6,1.3l0.3,1.3l0.1,1.5l-0.1,1.4l0.5,1.2l0.6,1.3l0.3,1.4z" fill="#00c5ff"/>
<path d="M224.8,398.5l-0.8,1.3l0.1,1.3l0.3,1.3l-0.1,1.3l-0.3,1.3l-0.4,1.2l-0.5,1.2l-0.5,1.2l-0.1,1.4l-0.1,1.6l-0.2,1.5l-0.2,1.6l-0.2,1.6l-0.6,1.5l-0.9,1.2l-0.8,1.4l-0.7,1.6l-0.8,1.5l-0.9,1.6l-0.9,1.7l-1,1.8l-1.1,1.9l-1.4,1.7l-1.4,1.6l-1.6,1.8l-1.7,1.3l-1.9,1.3l-2,1.4l-2.1,1.1l-2.2,0.5l-2.2,0.1l-2.2-0.5l-2.1-1.2l-1.9-1.6l-1.7-1.9l-1.6-1.4l-1.7-1.2l-1.6-1.3l-1.3-1.6l-1.3-1.6l-0.9-2l-0.6-2.2l-0.7-1.8l-1.1-1.3l-0.9-1.4l-0.5-1.7l-0.5-1.7l-0.4-1.6l-0.5-1.4l-0.6-1.4l-0.2-1.5l0-1.6l-0.4-1.3l-0.3-1.4l0.2-1.5l-0.2-1.3l-0.2-1.4l0-1.3l-0.1-1.4l-0.2-1.3l-0.2-1.4l-0.2-1.3l0.2-1.4l0-1.4l-0.1-1.5l0.5-1.3l0.2-1.4l0.2-1.5l0.5-1.3l0.3-1.5l0.5-1.4l0.9-1.2l0.4-1.6l0.3-1.8l0.5-1.7l0.7-1.6l0.7-1.8l0.7-1.9l0.8-1.9l1-1.9l1.2-1.8l1.3-1.9l1.3-1.9l1.5-2l1.8-1.7l1.9-1.3l2-1.2l2.2-1.5l2.2-0.8l2.4,0.1l2.3,0.8l2.2,1.1l2.1,1.4l1.9,1.6l1.8,1.4l1.7,1.6l1.5,1.8l1.3,1.9l1,2.2l1,1.9l0.9,1.9l0.6,2.1l0.8,1.5l1,1.3l0.7,1.5l0.3,1.8l0.4,1.6l0.4,1.5l0.1,1.6l0.1,1.5l0.5,1.3l0.7,1.1l0.5,1.3l0.3,1.3l-0.1,1.4l-0.1,1.3l0.7,1.2l0.6,1.2l0.3,1.4z" fill="#00eaff"/>
<path d="M223.5,398.5l-0.7,1.2l0.1,1.2l0.4,1.3l0,1.3l-0.4,1.2l-0.5,1.2l-0.5,1.1l-0.4,1.2l-0.1,1.3l-0.1,1.4l-0.3,1.4l-0.1,1.5l-0.2,1.6l-0.5,1.5l-0.6,1.4l-0.8,1.3l-0.8,1.3l-0.8,1.6l-0.8,1.6l-0.9,1.6l-0.9,1.8l-1.1,1.8l-1.3,1.6l-1.4,1.5l-1.5,1.6l-1.7,1.3l-1.8,1.3l-1.9,1.2l-2,1l-2.1,0.6l-2.2,0.2l-2.1-0.4l-2-1.1l-1.8-1.5l-1.6-2l-1.6-1.4l-1.6-1.1l-1.5-1.3l-1.3-1.6l-1.2-1.5l-0.8-1.9l-0.6-2.1l-0.7-1.7l-1.1-1.2l-0.9-1.3l-0.4-1.7l-0.4-1.6l-0.4-1.6l-0.4-1.4l-0.7-1.3l-0.1-1.5l-0.2-1.4l-0.4-1.3l-0.3-1.3l0.2-1.4l-0.1-1.3l-0.2-1.3l0.2-1.4l0-1.2l-0.2-1.3l-0.2-1.3l-0.1-1.3l0.1-1.3l-0.1-1.4l-0.2-1.4l0.5-1.2l0.4-1.3l-0.1-1.5l0.3-1.4l0.5-1.4l0.6-1.3l0.8-1.1l0.4-1.5l0.2-1.8l0.4-1.7l0.7-1.5l0.8-1.6l0.7-1.7l0.8-1.9l1-1.7l1.1-1.8l1.1-1.9l1.3-1.9l1.4-2l1.7-1.6l1.9-1.2l1.9-1.2l2.1-1.3l2.1-0.9l2.3,0l2.2,0.8l2.1,1l2,1.4l1.8,1.7l1.8,1.3l1.6,1.5l1.4,1.8l1.3,1.7l1,2l1,1.8l0.9,1.8l0.5,2.1l0.7,1.6l0.9,1.2l0.8,1.4l0.3,1.8l0.3,1.5l0.3,1.5l0.1,1.5l0.2,1.4l0.5,1.2l0.5,1.2l0.4,1.2l0.3,1.3l-0.1,1.3l-0.2,1.3l0.8,1.1l0.7,1.2l0.2,1.2z" fill="#00ffe7"/>
<path d="M222.1,398.5l-0.5,1.1l0.2,1.2l0.4,1.2l-0.1,1.2l-0.4,1.2l-0.5,1.1l-0.5,1l-0.4,1.1l-0.2,1.2l-0.2,1.3l-0.2,1.3l-0.1,1.5l-0.2,1.5l-0.3,1.5l-0.4,1.5l-0.8,1.2l-0.8,1.2l-0.7,1.5l-0.7,1.7l-0.9,1.5l-0.9,1.6l-1,1.8l-1.2,1.5l-1.4,1.5l-1.4,1.4l-1.7,1.2l-1.7,1.3l-1.8,1l-1.9,1l-2,0.6l-2,0.2l-2.1-0.3l-1.9-1l-1.7-1.4l-1.6-1.8l-1.5-1.5l-1.5-1.1l-1.4-1.3l-1.1-1.6l-1.1-1.5l-0.9-1.8l-0.6-1.8l-0.7-1.6l-1-1.2l-0.9-1.2l-0.3-1.7l-0.4-1.5l-0.3-1.5l-0.5-1.4l-0.6-1.1l-0.2-1.5l-0.2-1.3l-0.3-1.3l-0.2-1.2l0.1-1.4l-0.2-1.2l0-1.2l0.2-1.3l0-1.2l-0.1-1.2l-0.1-1.2l-0.1-1.2l0.2-1.3l-0.3-1.3l-0.3-1.3l0.5-1.2l0.5-1.2l-0.1-1.4l0-1.4l0.6-1.3l0.6-1.1l0.8-1.2l0.4-1.3l0.2-1.7l0.3-1.7l0.6-1.5l0.8-1.4l0.7-1.6l0.8-1.8l0.9-1.6l1.1-1.6l1-1.8l1.3-1.8l1.3-2l1.5-1.6l1.8-1.2l1.9-0.9l1.9-1.2l2.1-0.9l2.1-0.1l2.1,0.7l2,0.8l1.9,1.4l1.7,1.8l1.6,1.2l1.6,1.5l1.3,1.6l1.3,1.5l1,1.8l1,1.7l0.8,1.7l0.5,1.9l0.6,1.7l0.8,1.2l0.8,1.3l0.3,1.6l0.3,1.5l0.3,1.4l0.1,1.5l0.2,1.4l0.4,1.1l0.3,1.2l0.4,1.1l0.2,1.2l0,1.2l-0.2,1.3l0.7,1l0.8,1.1l0.1,1.2z" fill="#00ffb0"/>
<path d="M220.7,398.5l-0.1,1.1l0.3,1.1l0.2,1.2l-0.1,1.1l-0.4,1.1l-0.6,0.9l-0.5,1.1l-0.4,1l-0.3,1.1l-0.3,1.1l-0.2,1.2l0.1,1.5l-0.2,1.4l-0.3,1.4l-0.2,1.6l-0.7,1.2l-0.8,1.1l-0.7,1.5l-0.6,1.6l-0.8,1.5l-0.9,1.5l-1,1.6l-1.1,1.5l-1.3,1.4l-1.4,1.2l-1.5,1.2l-1.6,1.2l-1.8,0.9l-1.8,0.9l-1.9,0.7l-1.9,0.2l-2-0.3l-1.8-0.9l-1.7-1.2l-1.5-1.6l-1.4-1.4l-1.4-1.2l-1.3-1.4l-1-1.7l-0.9-1.5l-0.9-1.6l-0.8-1.5l-0.6-1.5l-0.8-1.3l-0.8-1.2l-0.4-1.5l-0.4-1.4l-0.4-1.3l-0.4-1.3l-0.6-1.2l-0.2-1.3l-0.1-1.3l-0.2-1.2l-0.1-1.3l-0.1-1.2l-0.3-1.1l0.1-1.2l0.2-1.2l0-1.2l-0.2-1.1l0-1.1l0.2-1.2l0.1-1.1l-0.3-1.3l-0.3-1.3l0.5-1l0.5-1.1l-0.3-1.5l0-1.4l0.6-1.1l0.7-1l0.6-1.1l0.5-1.2l0.3-1.6l0-1.8l0.6-1.4l0.8-1.3l0.6-1.6l0.8-1.6l0.9-1.4l1-1.5l1.1-1.6l1.1-1.7l1.2-1.9l1.5-1.7l1.6-1.1l1.8-0.9l1.9-1l1.9-0.9l2-0.1l2,0.6l1.9,0.6l1.8,1.4l1.5,1.8l1.6,1.2l1.4,1.4l1.3,1.5l1.3,1.3l1,1.6l0.9,1.6l0.8,1.7l0.5,1.8l0.5,1.6l0.7,1.3l0.7,1.2l0.5,1.3l0.3,1.4l0.2,1.4l0,1.5l0.1,1.3l0.3,1.1l0.3,1.2l0.3,1l0.4,1.1l0,1.2l-0.2,1.1l0.6,1l0.8,1l-0.1,1.2z" fill="#00ff79"/>
<path d="M219.4,398.5l0.1,1l0.4,1.1l0,1.1l-0.1,1l-0.4,1l-0.7,1l-0.4,0.9l-0.4,1l-0.3,0.9l-0.5,1l-0.1,1.2l0.2,1.5l-0.1,1.3l-0.3,1.3l-0.2,1.5l-0.5,1.3l-0.8,1l-0.7,1.3l-0.5,1.6l-0.7,1.5l-0.9,1.4l-1,1.5l-1,1.4l-1.2,1.4l-1.4,1l-1.4,1.1l-1.5,1.3l-1.7,0.8l-1.7,0.7l-1.8,0.8l-1.8,0.4l-1.9-0.4l-1.7-1l-1.6-0.9l-1.5-1.3l-1.4-1.3l-1.3-1.3l-1-1.6l-0.9-1.8l-0.9-1.5l-0.8-1.3l-0.9-1.3l-0.6-1.5l-0.6-1.3l-0.6-1.3l-0.5-1.3l-0.6-1.2l-0.5-1.1l-0.3-1.3l-0.5-1.1l-0.2-1.3l-0.2-1.2l0-1.2l0.1-1.2l-0.3-1.1l-0.4-1.1l0.1-1.1l0.2-1.1l-0.1-1.1l-0.1-1.1l0.1-1.1l0.4-1l0.2-1.1l-0.4-1.2l-0.3-1.2l0.5-1l0.3-1.1l-0.3-1.3l0-1.4l0.7-0.9l0.6-1l0.5-1.1l0.6-1.1l0.2-1.4l0-1.8l0.5-1.4l0.7-1.2l0.6-1.6l0.7-1.5l0.9-1.3l1.1-1.3l1-1.4l1.1-1.5l1.1-1.8l1.3-1.7l1.6-1.1l1.7-0.9l1.7-0.9l1.8-0.8l1.9,0l1.9,0.4l1.8,0.5l1.7,1.3l1.4,1.8l1.5,1.2l1.3,1.4l1.2,1.4l1.2,1.1l1,1.5l0.8,1.5l0.7,1.6l0.5,1.7l0.5,1.5l0.6,1.3l0.7,1.1l0.6,1.1l0.4,1.3l0.2,1.3l-0.1,1.5l0,1.3l0.2,1.1l0.2,1.1l0.4,0.9l0.4,1l-0.1,1.1l-0.1,1.1l0.5,0.9l0.6,1l-0.1,1.1z" fill="#00ff47"/>
<path d="M218.1,398.5l0.2,1l0.4,1l-0.1,1l-0.1,1l-0.4,0.9l-0.6,0.9l-0.4,0.9l-0.3,0.9l-0.5,0.8l-0.5,0.8l0,1.2l0.3,1.5l-0.1,1.2l-0.3,1.2l-0.2,1.4l-0.3,1.4l-0.8,0.9l-0.7,1.1l-0.5,1.5l-0.6,1.6l-0.8,1.4l-0.9,1.3l-1,1.4l-1.1,1.3l-1.3,1l-1.4,0.9l-1.4,1.2l-1.6,0.8l-1.6,0.6l-1.7,1l-1.8,0.3l-1.7-0.4l-1.6-0.9l-1.5-1l-1.5-1l-1.3-1.2l-1.2-1.3l-0.9-1.7l-0.8-1.8l-0.8-1.4l-0.8-1.3l-0.8-1.2l-0.5-1.4l-0.5-1.4l-0.5-1.2l-0.7-1l-0.6-1l-0.5-1.1l-0.3-1.2l-0.5-1l-0.2-1.2l-0.1-1.2l0-1.2l0.2-1.2l-0.4-0.9l-0.4-1l0.1-1.1l0.1-1l-0.1-1.1l-0.1-1l0.2-1l0.5-1l0.3-1l-0.4-1.1l-0.3-1.1l0.4-1l0.2-1l-0.3-1.3l0-1.2l0.8-0.9l0.7-0.9l0.3-1l0.5-1.1l0.3-1.3l0-1.6l0.4-1.4l0.6-1.2l0.4-1.6l0.7-1.5l0.9-1.2l1.1-1l1-1.2l1.1-1.3l1-1.7l1.2-1.7l1.4-1.2l1.6-0.8l1.6-0.8l1.7-0.6l1.8,0l1.8,0.2l1.7,0.3l1.6,1.2l1.3,1.7l1.4,1.4l1.2,1.3l1.1,1.3l1.1,1.1l0.9,1.4l0.8,1.5l0.6,1.5l0.5,1.6l0.4,1.4l0.6,1.1l0.7,1l0.7,1l0.3,1.2l0.2,1.2l-0.1,1.4l0,1.2l0.2,1l0,1.1l0.4,0.9l0.5,0.9l-0.1,1l-0.1,1l0.4,0.9l0.3,1l0,0.9z" fill="#00ff15"/>
<path d="M217.2,398.5l0.2,0.9l0.4,1l-0.1,0.9l-0.1,1l-0.3,0.9l-0.6,0.8l-0.4,0.8l-0.2,0.9l-0.5,0.8l-0.5,0.8l0,1.1l0.3,1.4l0,1.3l-0.4,1.1l-0.3,1.2l-0.2,1.4l-0.7,0.9l-0.8,1l-0.4,1.5l-0.5,1.6l-0.7,1.5l-0.9,1.2l-1,1.4l-1,1.3l-1.3,0.9l-1.4,0.8l-1.3,1.1l-1.5,0.8l-1.6,0.6l-1.6,0.9l-1.7,0.4l-1.6-0.4l-1.6-1l-1.4-1l-1.4-0.9l-1.3-1.2l-1.1-1.3l-0.9-1.7l-0.7-1.7l-0.8-1.4l-0.8-1.2l-0.7-1.2l-0.4-1.4l-0.3-1.4l-0.6-1.1l-0.8-0.8l-0.6-1l-0.5-1l-0.2-1.2l-0.6-0.9l-0.3-1.1l0-1.1l0.1-1.2l0.1-1.1l-0.4-0.9l-0.4-1l0-1l0.2-1l0-1l0-1l0.1-1l0.6-0.9l0.3-0.9l-0.4-1l-0.2-1.1l0.2-1l0.1-1l-0.1-1.2l0-1.1l0.8-0.8l0.7-0.8l0.3-1.1l0.3-1l0.3-1.2l0.2-1.4l0.4-1.3l0.4-1.3l0.3-1.7l0.5-1.6l0.9-1.1l1.1-0.8l1.1-1l1-1.2l1-1.5l1.1-1.7l1.3-1.2l1.5-0.8l1.6-0.7l1.6-0.4l1.7-0.1l1.7,0.1l1.6,0.2l1.5,1.2l1.3,1.5l1.3,1.4l1.1,1.5l1,1.1l1.1,1.1l0.8,1.4l0.7,1.5l0.5,1.5l0.5,1.3l0.5,1.3l0.6,1.1l0.6,0.9l0.7,0.8l0.3,1.2l0.3,1.1l0,1.3l0,1.1l0.2,1l-0.1,1.1l0.3,0.9l0.4,0.8l-0.1,1l0.1,0.9l0.4,0.9l0.1,0.9l0,0.9z" fill="#15ff00"/>
<path d="M216.6,398.5l0.1,0.9l0.4,0.9l-0.1,0.9l-0.1,0.9l-0.2,0.9l-0.6,0.8l-0.3,0.8l-0.2,0.9l-0.4,0.8l-0.5,0.8l0.1,1.1l0.2,1.3l-0.1,1.2l-0.4,1.1l-0.3,1.1l-0.1,1.5l-0.8,0.8l-0.7,0.9l-0.4,1.5l-0.4,1.7l-0.6,1.5l-1,1.2l-0.9,1.3l-1,1.3l-1.3,1l-1.3,0.7l-1.3,1l-1.5,0.8l-1.5,0.6l-1.6,0.7l-1.6,0.4l-1.7-0.3l-1.5-1l-1.3-1.1l-1.4-1l-1.2-1.2l-1.1-1.2l-0.9-1.5l-0.7-1.6l-0.7-1.5l-0.7-1.2l-0.6-1.2l-0.4-1.4l-0.3-1.4l-0.6-1l-0.8-0.8l-0.6-0.8l-0.3-1.2l-0.3-1.1l-0.6-0.8l-0.4-1l0-1.1l0-1.1l0.1-1.1l-0.3-0.9l-0.3-0.9l0-1l0.1-1l0.1-1l0.1-0.9l0-0.9l0.5-0.9l0.4-0.9l-0.4-1l-0.1-1l0.2-0.9l0-1l-0.1-1.2l0.1-1l0.8-0.7l0.7-0.8l0.2-1l0.1-1.2l0.3-1.2l0.4-1.1l0.4-1.1l0.4-1.4l0.1-1.8l0.5-1.6l0.8-1.1l1.1-0.7l1.1-0.9l1-1.2l1-1.3l1-1.5l1.3-1.3l1.4-0.7l1.6-0.6l1.5-0.3l1.6-0.1l1.6-0.2l1.6,0.2l1.4,1.2l1.3,1.4l1.2,1.4l1,1.5l1,1.1l1,1.1l0.8,1.3l0.6,1.5l0.5,1.4l0.5,1.2l0.5,1.2l0.6,1l0.6,0.9l0.6,0.8l0.4,1.1l0.2,1.1l0.1,1.1l0.2,1l0.2,1l-0.2,1.1l0.1,0.9l0.4,0.8l-0.1,1l0.2,0.8l0.5,0.8l0,0.9l-0.1,0.9z" fill="#3bff00"/>
<path d="M215.8,398.5l0.2,0.8l0.4,0.9l0,0.9l-0.1,0.9l-0.3,0.9l-0.5,0.7l-0.3,0.8l-0.1,0.9l-0.4,0.8l-0.3,0.8l0.1,1.2l0.1,1.1l-0.1,1.2l-0.4,1l-0.3,1.1l-0.2,1.3l-0.7,0.9l-0.7,0.9l-0.4,1.4l-0.3,1.8l-0.6,1.4l-0.9,1.2l-0.9,1.2l-1.1,1.2l-1.1,1.1l-1.3,0.7l-1.4,1l-1.4,0.9l-1.5,0.4l-1.5,0.5l-1.6,0.3l-1.6-0.2l-1.4-0.9l-1.3-1.2l-1.3-1l-1.1-1.3l-1.1-1.1l-0.9-1.3l-0.8-1.4l-0.6-1.5l-0.6-1.3l-0.7-1.1l-0.4-1.4l-0.2-1.4l-0.5-1l-0.8-0.7l-0.6-0.8l-0.2-1.2l-0.2-1.1l-0.7-0.7l-0.4-1l0-1l0-1.1l0-1l-0.1-0.9l-0.3-0.9l0-0.9l0.1-1l0.2-0.9l0.1-0.9l-0.1-0.9l0.3-0.9l0.3-0.8l-0.3-1l0.1-0.9l0.2-0.9l0-0.9l-0.2-1.1l0.3-1l0.7-0.7l0.7-0.7l0.1-1l-0.1-1.3l0.3-1.2l0.5-0.9l0.5-1l0.3-1.3l0.1-1.8l0.4-1.6l0.8-1.1l1.1-0.6l1-1l0.9-1.2l1-1.2l1.1-1.3l1.1-1.3l1.4-0.6l1.5-0.4l1.5-0.3l1.5-0.2l1.5-0.3l1.6,0.2l1.3,1.1l1.3,1.4l1.1,1.5l0.9,1.4l1,1l1,1l0.8,1.2l0.5,1.6l0.4,1.4l0.6,1l0.5,1.2l0.5,1l0.5,0.9l0.6,0.8l0.4,1l0.2,1l0.2,1l0.4,0.9l0.2,0.9l-0.3,1.1l-0.2,1l0.3,0.8l0,0.9l0.5,0.7l0.6,0.8l-0.1,0.9l-0.2,0.9z" fill="#60ff00"/>
<path d="M215,398.5l0.2,0.8l0.6,0.9l0,0.8l-0.2,0.9l-0.2,0.8l-0.4,0.7l-0.3,0.8l-0.1,0.9l-0.3,0.8l-0.2,0.9l0.2,1.1l-0.1,1.1l-0.2,1l-0.3,1l-0.4,1l-0.2,1.3l-0.6,0.8l-0.6,1l-0.4,1.5l-0.3,1.6l-0.6,1.4l-0.9,1.1l-1,1.1l-1,1.1l-1.1,1.1l-1.2,0.9l-1.3,0.9l-1.3,0.9l-1.5,0.4l-1.5,0.1l-1.5,0.3l-1.5-0.1l-1.5-0.8l-1.2-1l-1.2-1.2l-1.1-1.4l-1.1-0.9l-0.9-1l-0.8-1.4l-0.5-1.6l-0.7-1.2l-0.6-1l-0.4-1.3l-0.3-1.3l-0.4-1.1l-0.6-0.8l-0.6-0.8l0-1.3l-0.2-1l-0.6-0.7l-0.4-0.9l-0.1-1l-0.2-0.9l0.1-1l0.1-1l-0.2-0.8l-0.1-0.9l0.1-0.9l0.2-0.9l0.1-0.8l-0.4-0.9l0.1-0.8l0.3-0.8l-0.1-1l0.3-0.8l0.2-0.8l-0.1-1l-0.1-1l0.3-0.8l0.7-0.7l0.6-0.7l0-1.1l-0.2-1.3l0.2-1.2l0.6-0.8l0.6-0.9l0.3-1.2l0.2-1.6l0.2-1.7l0.8-1l1-0.6l0.9-1.1l0.8-1.4l1.1-0.9l1-1.1l1.2-1.2l1.3-0.7l1.4-0.3l1.5-0.1l1.4-0.2l1.5-0.4l1.4,0.2l1.4,1l1.1,1.3l1.1,1.5l0.9,1.3l1,1l0.9,0.9l0.8,1.1l0.5,1.5l0.4,1.4l0.6,1l0.4,1l0.5,1.1l0.4,0.9l0.5,0.8l0.4,0.9l0.2,1.1l0.3,0.8l0.6,0.7l0.1,0.9l-0.4,1.2l-0.3,1l0.1,0.8l0.1,0.8l0.7,0.7l0.7,0.7l0,0.8l-0.4,0.9z" fill="#85ff00"/>
<path d="M214.2,398.5l0.2,0.8l0.7,0.8l0,0.8l-0.1,0.8l-0.2,0.8l-0.3,0.8l-0.3,0.7l-0.1,0.9l-0.2,0.8l0,0.9l0.1,1.1l-0.2,1l-0.3,0.9l-0.3,1l-0.3,1l-0.3,1.1l-0.6,0.9l-0.5,1.1l-0.3,1.4l-0.4,1.5l-0.6,1.3l-0.9,1l-0.9,1.1l-1,0.9l-1,1.1l-1.2,1l-1.2,1l-1.3,0.9l-1.5,0.2l-1.4-0.1l-1.5,0.2l-1.4,0.1l-1.4-0.6l-1.3-0.9l-1.1-1.2l-1-1.4l-1.1-0.8l-1-1l-0.7-1.4l-0.5-1.4l-0.7-1.1l-0.7-1l-0.4-1.2l-0.3-1.3l-0.2-1.2l-0.5-0.9l-0.4-0.9l0-1.2l-0.2-0.9l-0.5-0.8l-0.2-0.9l-0.3-0.9l-0.4-0.7l0.1-1l0.4-1l-0.1-0.8l-0.1-0.8l0.1-0.9l0.2-0.8l-0.1-0.8l-0.6-0.8l0-0.9l0.3-0.8l-0.1-0.8l0.4-0.8l0.3-0.8l-0.1-0.9l-0.1-1l0.4-0.7l0.6-0.7l0.5-0.7l0-1l-0.3-1.4l0.2-1.1l0.6-0.8l0.6-0.8l0.5-1l0.1-1.5l0.2-1.6l0.8-1l0.9-0.7l0.7-1.3l0.7-1.5l1.1-0.7l1.1-0.8l1.1-1.2l1.3-0.6l1.3-0.3l1.4,0l1.4-0.2l1.4-0.3l1.4,0.2l1.3,0.8l1.1,1.2l1,1.4l0.9,1.3l0.9,0.9l1,0.8l0.7,1l0.5,1.5l0.3,1.4l0.6,0.9l0.5,1l0.4,1l0.5,0.8l0.3,0.9l0.3,1l0.2,1l0.4,0.7l0.7,0.6l0.1,0.9l-0.5,1.2l-0.3,0.9l-0.1,0.9l0.1,0.7l0.8,0.6l0.8,0.7l0,0.8l-0.5,0.8z" fill="#a7ff00"/>
<path d="M213.5,398.5l0.3,0.7l0.6,0.8l0.1,0.8l-0.2,0.8l-0.1,0.7l-0.2,0.8l-0.1,0.8l-0.2,0.8l-0.2,0.8l0.1,0.9l0.1,1.1l-0.3,0.9l-0.5,0.7l-0.3,1l-0.2,1l-0.3,1l-0.5,1l-0.4,1l-0.4,1.4l-0.4,1.4l-0.6,1.2l-0.8,1l-0.9,1.1l-1,0.8l-1,1.1l-1,1.1l-1.2,0.9l-1.3,0.9l-1.4,0.1l-1.4-0.3l-1.4,0.2l-1.4,0.1l-1.4-0.4l-1.3-0.5l-1.1-1.2l-0.9-1.5l-1.1-0.7l-0.9-1l-0.6-1.4l-0.6-1.3l-0.8-1l-0.7-0.8l-0.4-1.2l-0.2-1.4l-0.1-1.3l-0.2-1.1l-0.4-0.9l-0.1-1l-0.2-1l-0.2-0.8l-0.2-0.9l-0.4-0.7l-0.6-0.7l0.2-0.9l0.5-1l0-0.8l-0.1-0.8l0.2-0.8l0.1-0.8l-0.2-0.7l-0.7-0.8l0-0.8l0.3-0.8l-0.1-0.8l0.3-0.7l0.3-0.8l-0.1-0.8l0-0.9l0.4-0.8l0.5-0.6l0.5-0.7l0-1l-0.3-1.3l0.2-1.1l0.5-0.8l0.6-0.7l0.6-0.7l0.2-1.5l0.2-1.6l0.7-0.9l0.8-0.7l0.5-1.6l0.7-1.5l1.1-0.6l1.1-0.5l1.1-0.9l1.2-0.7l1.3-0.3l1.3-0.1l1.3-0.2l1.3-0.1l1.3,0.4l1.3,0.5l1.1,0.9l0.9,1.3l0.9,1.3l0.9,0.9l0.9,0.7l0.7,1.1l0.5,1.3l0.3,1.4l0.5,0.9l0.6,0.8l0.4,0.9l0.5,0.8l0.2,1l0.2,1l0.1,0.9l0.6,0.6l0.7,0.6l-0.1,1l-0.4,1l-0.3,1l-0.2,0.8l0,0.7l0.9,0.6l0.9,0.6l0,0.8l-0.5,0.8z" fill="#c9ff00"/>
<path d="M213,398.5l0.2,0.7l0.7,0.8l-0.1,0.7l-0.2,0.7l-0.1,0.8l0,0.8l0,0.8l-0.1,0.8l-0.2,0.7l0,0.9l0.1,1l-0.5,0.8l-0.6,0.5l-0.2,1l-0.2,1l-0.2,1.1l-0.4,1l-0.5,1l-0.3,1.2l-0.4,1.4l-0.6,1l-0.8,1.2l-0.7,1.1l-1,0.8l-1,1l-1,1.2l-1.2,0.8l-1.2,0.7l-1.4,0.2l-1.3-0.3l-1.3,0l-1.4,0.1l-1.3-0.1l-1.3-0.3l-1.1-1.2l-0.9-1.3l-1-0.9l-0.9-1.1l-0.6-1.3l-0.7-1.1l-0.7-1l-0.8-0.7l-0.4-1.2l0-1.5l0.1-1.5l-0.1-1.2l-0.4-0.8l-0.3-0.8l-0.1-0.9l0-1l-0.1-0.8l-0.5-0.6l-0.7-0.6l0.1-0.9l0.5-1l0-0.7l0-0.8l0.4-0.8l0-0.7l-0.3-0.7l-0.6-0.8l0-0.7l0.3-0.7l-0.2-0.8l0.1-0.8l0.3-0.7l0.1-0.8l0.1-0.8l0.3-0.7l0.4-0.7l0.4-0.7l0.1-0.9l-0.3-1.2l0.2-1l0.5-0.8l0.6-0.6l0.7-0.7l0.1-1.3l0.2-1.5l0.7-0.8l0.7-0.9l0.4-1.7l0.7-1.4l1-0.4l1.2-0.3l1-0.8l1.1-0.7l1.2-0.4l1.3-0.2l1.2-0.1l1.2,0.1l1.3,0.4l1.2,0.3l1.1,0.6l0.9,1.2l0.8,1.3l0.8,0.9l0.9,0.7l0.6,1l0.5,1.2l0.4,1.3l0.5,0.9l0.6,0.7l0.5,0.8l0.4,0.8l0.2,1l0,1.1l0.1,0.9l0.6,0.5l0.6,0.6l-0.1,0.9l-0.3,1l-0.3,0.9l-0.2,0.8l0,0.7l0.8,0.5l0.9,0.6l0.1,0.7l-0.5,0.8z" fill="#ebff00"/>
<path d="M212.3,398.5l0.2,0.7l0.6,0.7l-0.2,0.7l-0.2,0.6l0,0.8l0.1,0.7l0,0.8l0,0.8l-0.2,0.7l-0.1,0.8l0,1l-0.4,0.6l-0.8,0.4l-0.2,0.9l0,1.1l-0.2,1l-0.3,1l-0.4,1l-0.4,1.1l-0.4,1.2l-0.6,1.1l-0.6,1.1l-0.7,1.2l-0.9,0.9l-0.9,1l-1,1.2l-1.1,0.8l-1.2,0.6l-1.3,0.2l-1.3-0.3l-1.3-0.1l-1.2-0.1l-1.4,0.1l-1.2-0.1l-1.1-1.1l-0.9-1.3l-0.9-0.9l-0.7-1.3l-0.7-1.1l-0.6-1.1l-0.7-0.9l-0.8-0.7l-0.2-1.3l0-1.5l0.3-1.6l0.1-1.2l-0.5-0.7l-0.5-0.5l-0.1-0.9l0.2-1l-0.1-0.8l-0.6-0.5l-0.7-0.6l0.1-0.8l0.4-0.9l0-0.7l0-0.7l0.4-0.8l0.2-0.6l-0.3-0.7l-0.4-0.7l0-0.7l0.2-0.7l-0.3-0.7l0-0.8l0.3-0.6l0.1-0.7l0.2-0.7l0.2-0.8l0.2-0.7l0.5-0.5l0.2-0.9l-0.3-1.2l0.1-0.9l0.4-0.8l0.6-0.6l0.6-0.6l0.2-1.2l0.2-1.3l0.7-0.7l0.6-0.9l0.3-1.7l0.7-1.3l1-0.3l1.1-0.2l1-0.6l1-0.8l1.1-0.5l1.1-0.3l1.2-0.1l1.2,0.2l1.1,0.5l1.1,0.1l1.1,0.3l1,1l0.7,1.4l0.7,1l0.8,0.7l0.6,1l0.5,1.1l0.3,1.2l0.5,0.8l0.6,0.6l0.5,0.7l0.4,0.8l0.1,1l-0.1,1.1l0,0.9l0.6,0.5l0.4,0.6l0,0.8l-0.1,0.8l-0.2,0.9l-0.3,0.8l0,0.6l0.8,0.5l0.8,0.5l0.2,0.7l-0.5,0.7z" fill="#fff100"/>
<path d="M211.2,398.5l0.2,0.6l0.4,0.7l-0.1,0.6l-0.2,0.6l0.2,0.7l0.1,0.7l0,0.7l0,0.8l-0.2,0.6l-0.2,0.7l0,0.8l-0.3,0.7l-0.8,0.3l-0.2,0.8l0,1l-0.1,1l-0.2,1.1l-0.4,0.8l-0.4,1l-0.3,1.2l-0.6,0.9l-0.5,1.2l-0.6,1.3l-0.8,1l-0.9,0.9l-0.8,1.2l-1.1,1l-1.1,0.5l-1.3,0l-1.2-0.2l-1.2-0.3l-1.2-0.2l-1.2,0.2l-1.2-0.1l-1.1-1l-0.8-1.1l-0.8-1.2l-0.6-1.2l-0.7-1l-0.6-1.1l-0.5-1l-0.7-0.6l-0.2-1.3l0.2-1.6l0.4-1.5l0.1-1.1l-0.4-0.6l-0.8-0.3l-0.2-0.8l0.4-1l0.1-0.8l-0.7-0.4l-0.7-0.5l0.1-0.7l0.3-0.8l-0.1-0.6l0.1-0.7l0.4-0.7l0.3-0.6l-0.2-0.6l-0.2-0.6l0-0.6l0.1-0.6l-0.4-0.8l-0.1-0.7l0.4-0.5l0.1-0.6l0.2-0.7l0.1-0.7l0.2-0.6l0.5-0.5l0.1-0.7l-0.3-1.2l0-0.9l0.3-0.8l0.6-0.5l0.5-0.6l0.1-1.1l0.3-1.1l0.7-0.7l0.5-0.8l0.3-1.6l0.6-1l1-0.3l1-0.2l0.9-0.6l0.9-0.8l1-0.6l1-0.3l1.1-0.2l1.1,0.2l1,0.6l1.1,0l1,0.1l0.9,0.8l0.7,1.3l0.7,1.1l0.6,0.8l0.5,1l0.5,1l0.3,1.1l0.4,0.7l0.7,0.5l0.4,0.7l0.3,0.8l0.1,0.9l-0.1,1.1l-0.1,0.9l0.4,0.5l0.3,0.6l0.2,0.6l0.1,0.7l-0.2,0.7l-0.3,0.8l0,0.6l0.7,0.4l0.7,0.5l0.1,0.6l-0.4,0.7z" fill="#ffd000"/>
<path d="M210,398.5l0.2,0.5l0.3,0.6l-0.1,0.6l0,0.6l0.4,0.6l0,0.7l-0.1,0.6l-0.1,0.6l-0.2,0.6l-0.3,0.5l0.1,0.8l-0.1,0.8l-0.7,0.3l-0.2,0.7l0,0.9l-0.1,0.9l-0.1,1l-0.4,0.8l-0.4,0.8l-0.4,1l-0.4,0.9l-0.5,1.2l-0.5,1.3l-0.7,1l-0.8,0.9l-0.8,1.1l-0.9,1.1l-1.1,0.5l-1.2-0.1l-1.1-0.2l-1.1-0.4l-1.1-0.3l-1.1,0.1l-1.1-0.2l-1-0.8l-0.8-0.9l-0.7-1.2l-0.5-1.3l-0.6-0.8l-0.5-1.1l-0.4-1l-0.7-0.5l-0.1-1.3l0.3-1.5l0.4-1.4l0.1-1l-0.5-0.4l-0.9-0.2l-0.2-0.6l0.4-0.9l0.2-0.8l-0.6-0.4l-0.7-0.4l0-0.7l0.3-0.7l0-0.6l0.1-0.6l0.3-0.6l0.3-0.6l-0.1-0.5l0-0.5l0.1-0.6l-0.1-0.5l-0.5-0.7l-0.1-0.6l0.4-0.5l0.2-0.6l0-0.6l0.1-0.6l0.3-0.5l0.4-0.5l0.1-0.7l-0.4-1l-0.1-1l0.3-0.7l0.6-0.4l0.3-0.7l0.2-1l0.4-0.8l0.6-0.6l0.4-0.8l0.3-1.4l0.7-0.7l0.8-0.2l0.9-0.3l0.8-0.7l0.8-0.7l0.9-0.5l0.9-0.2l1-0.3l1,0.1l0.9,0.5l1,0.1l1-0.1l0.8,0.6l0.7,1.1l0.6,1.1l0.5,0.9l0.4,1l0.3,1.1l0.4,0.8l0.4,0.6l0.7,0.4l0.3,0.7l0.2,0.8l0.1,0.8l-0.1,0.9l-0.1,0.9l0.3,0.5l0.2,0.5l0.3,0.6l0.3,0.5l-0.1,0.6l-0.3,0.7l0,0.6l0.5,0.4l0.5,0.5l0.1,0.6l-0.4,0.5z" fill="#ffb000"/>
<path d="M208.8,398.5l0.1,0.5l0.2,0.5l0,0.5l0.2,0.5l0.5,0.7l-0.2,0.5l-0.3,0.5l-0.2,0.5l-0.4,0.3l-0.3,0.5l0.3,0.8l0.1,0.7l-0.5,0.4l-0.4,0.4l0,0.8l-0.1,0.8l-0.1,0.8l-0.5,0.5l-0.4,0.6l-0.3,0.8l-0.4,0.7l-0.3,1.1l-0.5,1l-0.6,0.8l-0.7,0.6l-0.7,0.9l-0.7,1l-0.9,0.3l-1-0.4l-0.9-0.2l-0.9-0.2l-0.9-0.3l-0.9,0.1l-0.9-0.3l-0.8-0.4l-0.8-0.4l-0.5-1.1l-0.4-1.1l-0.5-0.7l-0.4-0.9l-0.4-0.7l-0.7-0.2l-0.1-1.1l0.2-1.2l0.3-1.2l0.1-0.8l-0.5-0.3l-0.8-0.1l-0.4-0.5l0.2-0.8l0.3-0.7l-0.5-0.4l-0.7-0.3l0-0.6l0.3-0.6l0.2-0.6l0-0.5l0.1-0.5l0.2-0.5l-0.1-0.5l0.2-0.5l0.2-0.4l-0.1-0.5l-0.6-0.6l-0.1-0.6l0.5-0.4l0-0.5l-0.1-0.6l0.2-0.5l0.4-0.4l0.3-0.4l0-0.7l-0.3-1l-0.1-0.8l0.3-0.6l0.5-0.4l0.2-0.7l0.2-0.8l0.5-0.6l0.5-0.4l0.4-0.7l0.4-1l0.6-0.4l0.8-0.1l0.7-0.2l0.6-0.6l0.7-0.7l0.8-0.2l0.8-0.1l0.8-0.3l0.8,0.1l0.8,0.4l0.8-0.1l0.9-0.2l0.8,0.3l0.6,0.7l0.5,1l0.4,0.9l0.3,1l0.2,1l0.4,0.6l0.5,0.4l0.7,0.1l0.2,0.8l0.2,0.6l0.1,0.7l0,0.8l-0.1,0.7l0.3,0.5l0.1,0.5l0.3,0.4l0.4,0.4l0,0.6l-0.1,0.5l0,0.6l0.3,0.4l0.2,0.5l0,0.5l-0.3,0.5z" fill="#ff9100"/>
<path d="M207.7,398.5l0,0.4l0.1,0.4l0.1,0.5l0.4,0.5l0.4,0.6l-0.3,0.4l-0.4,0.3l-0.4,0.4l-0.5,0.2l-0.3,0.4l0.4,0.7l0.3,0.8l-0.4,0.3l-0.4,0.3l-0.1,0.6l0,0.7l-0.2,0.7l-0.5,0.2l-0.4,0.4l-0.3,0.6l-0.3,0.6l-0.2,1l-0.4,0.7l-0.5,0.5l-0.6,0.5l-0.6,0.6l-0.6,0.7l-0.7,0l-0.8-0.4l-0.7-0.2l-0.7-0.1l-0.7,0l-0.7,0.1l-0.7-0.4l-0.6-0.1l-0.8,0l-0.4-1l-0.3-1l-0.3-0.7l-0.3-0.7l-0.5-0.3l-0.6-0.1l-0.2-0.7l0.2-1.1l0.2-0.9l0-0.6l-0.4-0.3l-0.7-0.1l-0.5-0.2l0-0.6l0.4-0.7l-0.3-0.4l-0.7-0.2l0-0.5l0.3-0.6l0.2-0.5l0-0.4l0-0.4l-0.1-0.5l-0.1-0.4l0.3-0.4l0.5-0.4l-0.2-0.4l-0.6-0.6l-0.1-0.5l0.4-0.3l-0.2-0.6l-0.2-0.5l0.4-0.4l0.5-0.3l0.2-0.3l0-0.6l-0.3-0.9l0-0.7l0.1-0.6l0.5-0.3l0.2-0.6l0.2-0.7l0.5-0.3l0.5-0.4l0.3-0.5l0.4-0.7l0.6-0.2l0.7,0.1l0.6-0.1l0.5-0.5l0.6-0.5l0.6-0.1l0.7,0l0.6-0.2l0.7,0.1l0.6,0.1l0.7-0.1l0.7-0.2l0.7,0l0.6,0.3l0.4,0.8l0.4,0.8l0.2,0.9l0.1,0.9l0.3,0.6l0.6,0.1l0.6,0l0.2,0.6l0.2,0.6l0.2,0.5l-0.1,0.7l0.1,0.6l0.3,0.4l0.1,0.4l0.1,0.5l0.4,0.3l0.3,0.4l-0.1,0.5l0.1,0.5l0.1,0.4l0.1,0.4l-0.1,0.5l-0.4,0.5z" fill="#ff7200"/>
<path d="M206.6,398.5l0.1,0.4l0.1,0.3l0.2,0.4l0.4,0.5l0.2,0.5l-0.5,0.3l-0.4,0.2l-0.4,0.3l-0.6,0.1l-0.1,0.3l0.4,0.7l0.4,0.8l-0.4,0.2l-0.3,0.3l-0.1,0.5l-0.1,0.5l-0.2,0.5l-0.6,0l-0.3,0.3l-0.2,0.6l-0.2,0.6l-0.1,0.8l-0.4,0.4l-0.5,0.4l-0.4,0.5l-0.5,0.3l-0.5,0.4l-0.6-0.1l-0.7-0.6l-0.5-0.2l-0.5,0.3l-0.6,0.3l-0.6,0.1l-0.5-0.7l-0.6,0.1l-0.6,0.2l-0.3-0.9l-0.1-1l-0.2-0.8l-0.2-0.6l-0.5,0l-0.6,0.1l-0.1-0.6l0-0.7l0.2-0.8l-0.1-0.5l-0.2-0.2l-0.5-0.1l-0.7-0.1l-0.2-0.3l0.5-0.7l-0.1-0.4l-0.6-0.2l-0.1-0.4l0.4-0.5l0.2-0.4l0-0.4l-0.2-0.3l-0.3-0.3l-0.3-0.4l0.4-0.4l0.8-0.3l-0.3-0.3l-0.7-0.5l0-0.4l0.3-0.4l-0.3-0.5l-0.2-0.5l0.4-0.3l0.4-0.2l0.3-0.3l0-0.5l-0.2-0.6l0.1-0.6l0-0.6l0.3-0.4l0.3-0.4l0.3-0.4l0.4-0.3l0.4-0.3l0.3-0.5l0.4-0.3l0.5-0.2l0.6,0.1l0.5,0.1l0.4-0.4l0.5-0.4l0.5,0.1l0.5,0l0.5,0l0.5,0l0.5,0l0.6-0.3l0.6-0.2l0.6-0.1l0.5,0l0.4,0.5l0.3,0.9l0.2,0.6l0.2,0.7l0.1,0.7l0.5,0l0.7-0.1l0.2,0.5l0.2,0.4l0.1,0.5l0,0.6l0.2,0.3l0.3,0.4l0,0.4l0,0.5l0.4,0.3l0.5,0.2l0,0.4l0.1,0.4l0.1,0.5l-0.1,0.4l-0.2,0.4l-0.5,0.4z" fill="#ff5400"/>
<path d="M205.3,398.5l0.4,0.3l0,0.3l0.2,0.4l0.4,0.4l0,0.4l-0.7,0.1l-0.2,0.2l-0.2,0.3l-0.6,0l-0.2,0.3l0.4,0.6l0.4,0.6l-0.4,0.2l-0.1,0.3l-0.2,0.3l-0.2,0.3l-0.1,0.4l-0.7-0.2l-0.1,0.3l-0.1,0.6l-0.1,0.5l-0.1,0.7l-0.4,0.2l-0.4,0.2l-0.3,0.5l-0.4,0.1l-0.5,0.1l-0.4-0.2l-0.5-0.7l-0.4-0.3l-0.4,0.5l-0.5,1l-0.5,0l-0.2-1l-0.5,0.3l-0.6,0.3l-0.2-0.8l0-1l0-0.9l-0.1-0.4l-0.6,0.3l-0.5,0.1l0-0.5l0-0.6l0.2-0.6l-0.1-0.3l-0.2-0.2l-0.4-0.1l-0.7,0.1l-0.3-0.2l0.6-0.7l0.2-0.3l-0.6-0.1l-0.2-0.3l0.4-0.4l0.1-0.3l0-0.3l-0.2-0.2l-0.6-0.3l-0.6-0.3l0.5-0.3l1-0.2l-0.4-0.4l-0.7-0.4l0-0.3l0.2-0.3l-0.2-0.4l-0.1-0.5l0.2-0.3l0.2-0.2l0.5-0.1l0.1-0.4l0-0.4l0.1-0.4l-0.2-0.7l0.1-0.5l0.3-0.2l0.5-0.1l0.4-0.1l0.2-0.4l0.3-0.3l0.4-0.2l0.3-0.3l0.5,0.3l0.5,0.3l0.3-0.4l0.3-0.2l0.4,0.1l0.4,0.1l0.4,0.1l0.4,0.1l0.4-0.4l0.4-0.4l0.5-0.1l0.4-0.1l0.6-0.3l0.3,0.4l0.2,0.7l0.3,0.3l0.3,0.4l-0.1,0.8l0.3,0.2l0.6-0.2l0.3,0.3l0.3,0.2l0,0.5l0,0.5l0.2,0.3l0.4,0.1l-0.1,0.5l-0.2,0.5l0.5,0.1l0.7,0.1l0,0.4l0.1,0.4l0.1,0.3l-0.1,0.4l-0.4,0.4l-0.7,0.4z" fill="#ff3600"/>
<path d="M203.8,398.5l0.6,0.2l-0.1,0.3l0.2,0.2l0.4,0.4l-0.1,0.2l-0.9,0l-0.1,0.2l0.3,0.4l-0.7-0.1l-0.2,0.2l0.3,0.4l0.3,0.5l-0.2,0.2l0.2,0.5l-0.3,0.1l-0.4-0.1l-0.1,0.4l-0.6-0.4l0,0.4l0.2,0.8l-0.1,0.4l-0.1,0.6l-0.4,0l-0.3,0l-0.2,0.6l-0.3,0l-0.4-0.1l-0.4-0.1l-0.3-0.8l-0.3-0.6l-0.3,0.9l-0.5,1.7l-0.4-0.1l-0.1-1.4l-0.4,0.4l-0.5,0.3l0-0.8l0-1l0.2-0.9l-0.1-0.2l-0.6,0.5l-0.3,0l0-0.5l0.2-0.6l0.3-0.6l-0.1-0.2l-0.2,0l-0.3,0l-0.7,0.2l-0.5,0l0.9-0.8l0.4-0.4l-0.6,0.1l-0.3-0.1l0.4-0.4l0-0.2l0.1-0.2l-0.2-0.1l-1-0.2l-0.8-0.2l0.5-0.3l1.1-0.1l-0.5-0.3l-0.8-0.4l0.2-0.2l0.3-0.2l-0.1-0.3l-0.1-0.4l-0.1-0.3l0-0.3l0.6,0l0.2-0.1l0.1-0.3l0.3-0.2l-0.5-0.8l-0.1-0.5l0.4-0.1l0.6,0.3l0.4,0.1l0.1-0.5l0.2-0.3l0.3,0l0.1-0.5l0.4,0.3l0.5,0.5l0.2-0.4l0.2-0.2l0.3,0.2l0.3,0.2l0.3,0.3l0.2,0l0.4-0.6l0.3-0.4l0.4-0.1l0.3,0l0.5-0.4l0.2,0.2l0.1,0.8l0.4-0.2l0.4,0l-0.3,1l0,0.5l0.5-0.2l0.3,0.1l0.3,0.1l0,0.4l-0.2,0.5l0.3,0.1l0.4,0.1l-0.2,0.4l-0.2,0.4l0.5,0l0.9,0l-0.1,0.3l0.1,0.3l0.2,0.3l-0.2,0.3l-0.5,0.4l-1,0.3z" fill="#ff1900"/>
</g>
<path d="M540.6,398.5l0.4,1.3l0.2,1.4l-0.6,1.3l0.2,1.3l0.8,1.4l0.3,1.4l0,1.4l0,1.4l0.2,1.4l0,1.4l-0.3,1.4l0.1,1.4l0,1.5l-0.4,1.3l-0.4,1.4l-1,1.1l-1,1.1l-0.9,1.2l-0.8,1.1l-0.6,1.2l-0.5,1.3l-0.7,1.2l-1,0.9l-1.1,1l-1.6,0.6l-1.1,0.9l-1.2,0.7l-1.4,0.7l-1.4,0.6l-1.2,0.7l-1.1,0.7l-0.4,1.3l-0.7,0.9l-1.1,0.8l-1.1,0.7l-1,0.7l-0.8,0.9l-0.6,1.1l-0.4,1.5l-0.5,1.2l-0.7,1.1l-0.4,1.6l-0.7,1.2l-0.7,1.2l-0.7,1.2l-1,1.1l-0.9,1l-0.9,1.1l-0.9,1l-1,0.9l-1.1,1l-0.7,1.5l-0.8,1.4l-1.2,0.9l-1.1,1l-1.2,0.8l-1.3,0.7l-1.1,1l-1.1,1.2l-1.3,0.9l-1.2,0.8l-1.3,1.1l-1.1,1.4l-1.3,1.4l-1.3,1.3l-1.2,2l-1.3,1.8l-1.4,1.3l-1.5,1.5l-1.5,2.1l-1.5,2l-1.7,1.7l-1.7,0.8l-1.8,0.6l-1.8-0.1l-1.8-1.1l-1.7-1.8l-1.6-1.7l-1.7-1.3l-1.5-1.2l-1.5-1.4l-1.5-1.3l-1.6-0.3l-1.5-0.5l-1.5-1.1l-1.3-1.3l-1.3-1.1l-1.4-0.8l-1.3-1.1l-1.2-1.3l-1.6-0.2l-1.4-0.6l-1.3-0.7l-1.4-0.7l-1.2-1l-1.1-1.2l-0.6-2.1l-0.8-1.7l-0.6-1.8l-0.9-1.4l-0.6-1.5l-0.8-1.4l-0.8-1.2l-0.7-1.4l-0.6-1.4l-0.9-1.1l-0.8-1.1l-0.6-1.2l-1-0.9l-0.9-0.8l-0.5-1.4l-1.1-0.7l-0.9-0.9l-0.7-1.1l-0.9-0.9l-1.3-0.5l-1.3-0.6l-1.1-0.8l-1-0.9l-0.7-1.1l-0.8-1.1l-1-0.9l-0.9-0.9l-1-1l-0.7-1.1l-0.8-1.1l-1-1l-1.1-0.9l-0.8-1.1l-0.6-1.2l-1-1.1l-0.7-1.2l-0.4-1.3l-0.5-1.3l-0.6-1.2l-0.4-1.3l-0.5-1.3l-0.8-1.2l-0.6-1.3l-0.4-1.4l-0.7-1.3l-0.4-1.3l-0.1-1.4l0.2-1.5l0.3-1.4l-0.1-1.4l-0.2-1.3l0.1-1.4l0.1-1.4l0-1.4l0.3-1.4l0.5-1.3l0-1.4l0.2-1.3l1-1.3l0.5-1.3l-0.3-1.4l-0.3-1.4l0.2-1.4l0.5-1.2l0.6-1.3l0.7-1.2l0.4-1.3l0.5-1.2l0.9-1.2l0.5-1.2l0.2-1.3l0.5-1.3l1.2-0.9l0.9-1.1l0.5-1.1l0.6-1.2l0.6-1.2l1.1-0.8l1.4-0.7l1.2-0.8l1-0.8l0.9-1l0.4-1.2l0.4-1.2l1.2-0.8l1.1-0.6l0.9-0.9l0.7-1l0.6-1.2l1.1-0.7l1.1-0.7l0.8-0.9l0.8-0.9l1.2-0.6l0.9-0.8l0.9-0.8l1.2-0.5l0.7-1.1l0.5-1.4l0.6-1.3l0.8-1.1l1.1-0.7l1.1-0.6l1-0.8l0.9-1l0.8-1.3l0.9-1l1.1-0.9l1-0.8l1.1-1l1.2-0.6l1.1-0.9l0.8-1.7l1.1-1.2l1.2-0.8l1.2-0.7l1.2-1l1.3-0.8l1.3-0.7l1.3-0.9l1.3-0.8l1.3-1.2l1.4-1l1.4-0.8l1.5-1l1.5-0.5l1.5-0.8l1.5-1.2l1.6-0.7l1.6-0.9l1.7-1.6l1.7-0.7l1.7-0.4l1.7-0.3l1.7,0.3l1.6,0.7l1.5,1.1l1.4,1.3l1.4,1.2l1.4,1.1l1.3,1.3l1.4,0.9l1.3,1.3l1.1,1.6l1.1,1.4l1.1,1.4l1.1,1.2l1.1,1.1l1.1,1.2l1,1.2l1.1,1.1l1,1.1l1,1.2l1,1l0.8,1.3l0.9,1.2l1.1,0.7l1.2,0.7l1.2,0.6l1.3,0.6l1,0.9l1.1,0.9l0.8,1.2l0.9,1l1.2,0.7l1.2,0.7l0.8,1.2l1.1,0.8l1.1,0.9l0.7,1.2l0.4,1.4l0.7,1.2l0.8,1.1l0.7,1.1l0.3,1.5l0.2,1.4l0.5,1.3l0.5,1.2l0.1,1.5l0.3,1.3l1,1l1,0.9l0.5,1.2l0.6,1.2l0.9,1l0.2,1.3l0.2,1.4l0,1.4l0,1.3l0.2,1.3l-0.1,1.4l-0.2,1.3l0.3,1.3l0.3,1.2l0.8,1.1l0.3,1.2l0,1.3l0.1,1.3l0.7,1.2l0.9,1.2l0.6,1.3l0.2,1.3l0.1,1.3z" fill="#000"/>
<g filter="url(#sm)">
<path d="M538.8,398.5l1.1,3.3l1.1,3.4l0.2,3.4l-0.7,3.3l-0.6,3.3l-0.7,3.4l-1.5,3l-2,2.8l-2.1,2.7l-2.6,2.3l-2.6,2.2l-3,1.7l-2.8,1.7l-2.4,2l-1.9,2.3l-1.7,2.6l-1.5,3l-1.7,3l-2.1,2.6l-2.3,2.6l-2.2,3l-2.4,2.8l-2.7,2.6l-3,2.4l-3,2.4l-3,3.5l-3.3,4.1l-3.6,3.9l-4,2.3l-4.3,0.5l-4.2-1.7l-4-2.7l-3.7-2.4l-3.6-2.2l-3.5-2.1l-3.3-2.2l-3.1-2.6l-2.8-2.8l-2.3-3.5l-2-3.7l-1.8-3.4l-1.7-3.3l-1.7-3l-1.9-2.5l-1.9-2.5l-2.1-2.2l-2.9-1.7l-3-1.7l-2.1-2.4l-2.2-2.5l-2.3-2.4l-2.1-2.7l-1.8-2.9l-1.6-3l-1.2-3.2l-0.8-3.3l-0.8-3.3l-0.2-3.4l-0.3-3.4l0.3-3.4l0.7-3.3l0.6-3.4l0.9-3.2l1.1-3.1l1-3.2l1.1-3l1.6-2.9l2.2-2.5l1.9-2.7l1.7-2.6l2.4-2.2l2.2-2.2l1.9-2.4l2.4-1.9l2.3-2l2.2-2.1l2.2-2l2.3-1.9l2.5-1.8l2-2.5l1.8-3.3l2.1-3.1l2.6-2.4l2.9-1.9l3-1.9l3-2.2l3.2-2.2l3.5-1.7l3.6-1.9l3.7-2.5l4-2.4l4.1-1l4,0.8l3.7,2.2l3.4,2.8l3,3.1l2.9,3.1l2.6,3.1l2.5,3l2.7,2.2l2.8,2.1l2.6,2.3l2.5,2.3l2.6,2.2l2.3,2.5l2,2.8l1.7,2.9l1.6,2.9l1.6,3l1,3.2l1,3.1l1.2,2.9l1.3,3l0.8,3.1l0.5,3.2l0,3.2l0.3,3.1l0.9,3l0.8,3.1z" fill="#020003"/>
<path d="M537.6,398.5l0.9,3.2l0.8,3.3l0.4,3.4l-0.5,3.2l-0.6,3.3l-0.6,3.3l-1.5,2.9l-2.1,2.7l-2.2,2.6l-2.7,2.1l-2.7,2l-2.8,1.8l-2.8,1.6l-2.3,1.9l-1.9,2.2l-1.5,2.7l-1.4,3l-1.7,2.9l-2,2.6l-2.2,2.5l-2.1,2.9l-2.4,2.8l-2.6,2.5l-2.9,2.4l-2.9,2.5l-2.9,3.6l-3.2,3.9l-3.5,3.8l-4,2.4l-4.2,0.4l-4.1-1.7l-3.9-2.7l-3.6-2.6l-3.5-2.3l-3.4-1.9l-3.3-2.1l-3.1-2.4l-2.7-2.7l-2.1-3.8l-1.7-3.8l-1.8-3.3l-1.7-3l-1.7-2.8l-1.9-2.5l-1.8-2.5l-2-2.2l-2.7-1.7l-2.8-1.7l-2.3-2.1l-2.3-2.3l-2.4-2.4l-2.1-2.6l-1.8-2.8l-1.4-3l-1.2-3.1l-1-3.2l-0.6-3.2l-0.3-3.4l-0.3-3.3l0.4-3.3l0.9-3.3l0.5-3.2l0.6-3.2l1.1-3.1l1.1-3l1-3l1.6-2.8l2.2-2.5l1.8-2.6l1.9-2.4l2.3-2.1l1.9-2.3l2.1-2.2l2.3-1.9l2.3-1.9l2.1-2l2-2.2l2.1-2.1l2.4-1.7l2.1-2.3l1.8-3.2l2.1-2.9l2.5-2.4l2.8-1.9l3-1.9l2.9-2.3l3.1-2.4l3.4-1.9l3.5-1.8l3.7-2.5l3.9-2.3l4.1-0.9l3.9,0.9l3.6,2.2l3.3,2.8l3,3.1l2.8,3.1l2.6,3.1l2.5,2.8l2.7,2.1l2.6,2.2l2.5,2.4l2.6,2l2.6,2.1l2.3,2.4l2,2.7l1.8,2.8l1.6,2.9l1.3,3.1l0.8,3.2l0.9,3.1l1.2,2.9l1.3,2.8l0.9,3l0.3,3.2l-0.1,3.2l0.4,3l1.2,2.9l0.8,3.1z" fill="#09000a"/>
<path d="M536.6,398.5l0.6,3.1l0.8,3.3l0.4,3.2l-0.3,3.3l-0.6,3.2l-0.6,3.2l-1.6,2.9l-2,2.6l-2.2,2.5l-2.9,2l-2.7,1.9l-2.8,1.7l-2.6,1.6l-2.2,1.9l-1.8,2.2l-1.5,2.6l-1.4,2.9l-1.6,2.8l-1.9,2.6l-2.1,2.6l-2.1,2.9l-2.4,2.6l-2.5,2.5l-2.7,2.5l-2.9,2.6l-2.9,3.5l-3.1,3.9l-3.5,3.7l-3.9,2.4l-4.1,0.3l-4-1.7l-3.8-2.7l-3.6-2.7l-3.4-2.3l-3.4-1.8l-3.2-2l-3-2.2l-2.7-2.8l-1.9-3.9l-1.6-3.9l-1.7-3.3l-1.8-2.8l-1.6-2.8l-1.8-2.4l-1.8-2.4l-2.1-2.1l-2.4-1.8l-2.6-1.7l-2.5-1.9l-2.4-2.2l-2.3-2.3l-2-2.5l-1.8-2.8l-1.4-2.9l-1.4-3l-0.9-3.1l-0.6-3.2l-0.5-3.3l-0.2-3.2l0.5-3.3l0.9-3.2l0.5-3.2l0.4-3.1l1.1-3l1.2-3l1-3l1.7-2.7l2-2.5l1.7-2.5l2.1-2.3l2.2-2.1l1.8-2.3l2.1-2.1l2.3-1.8l2.2-1.9l2.1-1.9l1.9-2.3l1.9-2.2l2.4-1.7l2.1-2.2l1.8-3l2.1-2.9l2.4-2.3l2.8-2l2.8-1.8l2.9-2.3l3.1-2.6l3.3-2.1l3.4-1.7l3.7-2.4l3.9-2.4l4-0.8l3.9,0.9l3.5,2.2l3.3,2.8l2.9,3.1l2.7,3.2l2.5,3.2l2.5,2.6l2.7,2.1l2.5,2.3l2.3,2.4l2.7,1.8l2.7,1.9l2.4,2.3l2,2.6l1.8,2.8l1.6,2.9l1.1,3.1l0.6,3.3l1,3l1.1,2.9l1.3,2.8l0.9,3l0.1,3.1l-0.1,3.1l0.4,3l1.4,2.8l1,3z" fill="#170019"/>
<path d="M535.8,398.5l0.5,3.1l0.6,3.1l0.3,3.3l-0.1,3.2l-0.6,3.1l-0.8,3.1l-1.4,2.9l-2,2.6l-2.1,2.4l-2.9,1.9l-2.8,1.8l-2.7,1.7l-2.5,1.6l-2.1,1.9l-1.7,2.3l-1.4,2.6l-1.4,2.8l-1.7,2.7l-1.9,2.6l-2,2.6l-2,2.8l-2.4,2.5l-2.5,2.5l-2.6,2.7l-2.8,2.7l-2.9,3.3l-3.1,3.8l-3.4,3.7l-3.8,2.3l-4.1,0.1l-4-1.7l-3.7-2.7l-3.5-2.6l-3.3-2.3l-3.3-1.8l-3.2-1.9l-3-2.2l-2.6-2.8l-1.9-3.8l-1.5-3.9l-1.6-3.3l-1.7-2.9l-1.7-2.6l-1.6-2.5l-1.9-2.2l-2.1-1.9l-2.3-1.9l-2.5-1.7l-2.5-1.9l-2.4-2.1l-2.2-2.2l-1.9-2.6l-1.7-2.7l-1.5-2.8l-1.6-2.8l-1-3.1l-0.6-3.2l-0.7-3.1l-0.1-3.3l0.6-3.2l0.8-3.2l0.4-3.1l0.4-3.1l1.1-3l1.3-2.9l1.1-2.9l1.7-2.6l1.9-2.5l1.7-2.5l2.1-2.2l2.2-2.1l1.8-2.3l2-2l2.3-1.8l2.1-1.9l2.1-1.8l1.8-2.3l1.9-2.3l2.3-1.7l2.1-2.2l1.8-2.9l2-2.9l2.4-2.3l2.7-2l2.8-1.8l2.9-2.2l3-2.6l3.2-2.1l3.5-1.8l3.6-2.4l3.9-2.3l3.9-0.8l3.9,0.9l3.5,2.2l3.2,2.8l2.9,3.2l2.5,3.4l2.4,3.3l2.5,2.5l2.6,2l2.4,2.4l2.3,2.3l2.7,1.7l2.7,1.8l2.4,2.2l2,2.5l1.8,2.7l1.7,2.8l1,3.2l0.5,3.3l1,2.9l1.1,2.8l1.2,2.8l0.8,3l0.1,3.1l-0.1,3l0.6,2.9l1.5,2.8l1.1,3z" fill="#28002a"/>
<path d="M535.3,398.5l0.3,3l0.5,3.2l0.3,3.1l-0.1,3.2l-0.6,3.1l-1,3l-1.4,2.8l-1.8,2.6l-2,2.5l-2.8,1.9l-2.7,1.8l-2.6,1.7l-2.5,1.7l-2,1.9l-1.7,2.2l-1.4,2.6l-1.4,2.8l-1.8,2.5l-1.8,2.6l-2,2.6l-2,2.8l-2.4,2.4l-2.5,2.5l-2.5,2.8l-2.8,2.7l-2.8,3.1l-3.1,3.8l-3.4,3.7l-3.8,2.2l-4,0l-3.9-1.8l-3.7-2.7l-3.5-2.5l-3.3-2.2l-3.2-1.9l-3.1-2l-2.9-2.1l-2.6-2.8l-1.9-3.7l-1.5-3.8l-1.5-3.4l-1.6-2.9l-1.6-2.6l-1.6-2.5l-1.9-2.1l-2.4-1.6l-2.1-1.9l-2.4-1.9l-2.5-1.8l-2.3-2l-2.2-2.3l-1.7-2.5l-1.6-2.7l-1.6-2.7l-1.7-2.8l-1.1-3l-0.7-3.1l-0.8-3.1l-0.2-3.2l0.5-3.2l0.8-3.1l0.3-3.1l0.4-3.2l1.3-2.9l1.5-2.8l1.2-2.8l1.6-2.6l1.8-2.5l1.7-2.5l2-2.2l2.2-2.1l1.7-2.2l2.1-2l2.2-1.9l2-1.9l2.2-1.8l1.8-2.1l1.8-2.3l2.2-1.8l2-2.3l1.8-2.9l2.1-2.7l2.4-2.3l2.7-2l2.8-1.8l2.9-2l2.9-2.5l3.2-2.2l3.4-2l3.6-2.4l3.8-2.2l4-0.7l3.7,0.9l3.5,2.4l3.1,2.8l2.9,3.2l2.4,3.5l2.2,3.4l2.5,2.5l2.6,2l2.3,2.3l2.3,2.2l2.6,1.7l2.6,1.9l2.5,2l1.9,2.5l1.9,2.6l1.7,2.7l1,3.1l0.6,3.2l1,2.9l1.1,2.8l1,2.8l0.8,2.9l0.2,3l-0.1,3l0.7,2.8l1.5,2.8l1.2,2.9z" fill="#370039"/>
<path d="M534.8,398.5l0.2,3l0.4,3.1l0.2,3.1l-0.1,3.1l-0.7,3.1l-1,2.9l-1.4,2.8l-1.8,2.6l-1.8,2.4l-2.5,2.1l-2.8,1.7l-2.5,1.7l-2.4,1.7l-2,1.9l-1.6,2.3l-1.4,2.6l-1.5,2.6l-1.8,2.5l-1.8,2.5l-1.9,2.7l-2.1,2.6l-2.4,2.3l-2.5,2.4l-2.4,2.8l-2.7,2.9l-2.9,3.1l-3,3.7l-3.3,3.6l-3.8,2.2l-4-0.1l-3.9-1.8l-3.6-2.8l-3.4-2.4l-3.3-2.2l-3.1-2l-3.1-2l-2.8-2.2l-2.6-2.6l-1.9-3.6l-1.5-3.7l-1.4-3.5l-1.5-2.9l-1.6-2.5l-1.6-2.5l-1.9-2l-2.5-1.4l-2.2-1.9l-2.1-1.9l-2.5-1.8l-2.2-2.1l-2.2-2.2l-1.7-2.5l-1.4-2.7l-1.7-2.6l-1.7-2.7l-1.2-2.9l-0.8-3.1l-1-3.1l-0.3-3.1l0.5-3.2l0.6-3.1l0.5-3.1l0.6-3.1l1.4-2.8l1.5-2.8l1.2-2.8l1.6-2.6l1.7-2.5l1.5-2.5l2.1-2.1l2.1-2.1l1.8-2.2l2-2l2.2-1.8l1.9-2l2.1-1.8l2-2l1.8-2.2l2.1-1.9l1.9-2.4l1.8-2.8l2.1-2.6l2.4-2.2l2.6-2.1l2.8-1.9l2.9-1.8l3-2.2l3.1-2.4l3.3-2.2l3.6-2.4l3.8-2l3.9-0.7l3.7,1l3.4,2.5l3.1,2.9l2.8,3l2.4,3.6l2.1,3.6l2.3,2.4l2.6,2l2.3,2.2l2.4,2.1l2.4,1.8l2.5,1.9l2.3,2.1l1.9,2.5l1.8,2.5l1.9,2.4l1.1,3l0.6,3.1l1.1,2.8l1.2,2.7l0.8,2.9l0.6,2.9l0.3,2.9l0.1,2.9l0.7,2.8l1.4,2.8l1.3,2.8z" fill="#430048"/>
<path d="M534.2,398.5l0.3,3l0.3,3l0.1,3.1l-0.3,3l-0.8,3l-1,2.9l-1.3,2.7l-1.7,2.6l-1.7,2.5l-2.3,2.1l-2.6,1.8l-2.6,1.6l-2.3,1.7l-2.1,1.9l-1.6,2.2l-1.3,2.7l-1.4,2.7l-1.8,2.4l-1.9,2.4l-1.8,2.7l-2.2,2.4l-2.5,2l-2.4,2.4l-2.4,2.8l-2.6,3.1l-2.8,3.2l-3,3.5l-3.3,3.6l-3.8,2.2l-3.9,0.1l-3.8-2l-3.6-2.8l-3.4-2.4l-3.2-2.2l-3.1-2.1l-2.9-2.1l-2.9-2.2l-2.5-2.4l-1.9-3.5l-1.5-3.6l-1.3-3.6l-1.4-3l-1.7-2.4l-1.6-2.4l-1.9-1.9l-2.6-1.3l-2.1-1.9l-2.1-1.9l-2.3-1.8l-2.3-2.1l-2.1-2.1l-1.7-2.5l-1.2-2.7l-1.6-2.6l-1.8-2.7l-1.3-2.8l-1-3l-1.1-3l-0.4-3.1l0.4-3.2l0.7-3.1l0.6-3.1l0.8-3l1.5-2.8l1.4-2.7l1.3-2.7l1.5-2.6l1.4-2.6l1.5-2.5l2-2.1l2.1-2.1l1.8-2.1l2.1-1.9l2.2-1.8l1.8-2.1l2.1-1.8l2-1.9l2-2l1.9-2.1l1.8-2.5l1.8-2.7l2.2-2.5l2.3-2.2l2.6-2.2l2.7-1.9l2.9-1.6l3-2l3.1-2.4l3.3-2.5l3.5-2.4l3.8-1.8l3.8-0.6l3.7,1l3.3,2.8l3,2.9l2.8,2.9l2.4,3.4l2,3.7l2.2,2.6l2.5,1.9l2.4,2l2.4,2l2.2,2l2.3,2l2.3,2l1.8,2.5l1.8,2.4l2,2.3l1.2,2.8l0.7,3.1l1.1,2.7l1.1,2.7l0.7,2.8l0.6,2.9l0.5,2.8l0.3,2.9l0.6,2.7l1.3,2.7l1.3,2.9z" fill="#4e0058"/>
<path d="M533.4,398.5l0.4,3l0.3,2.9l-0.2,3l-0.5,3l-0.8,2.9l-0.9,2.8l-1.2,2.7l-1.7,2.5l-1.6,2.5l-2.1,2.2l-2.4,1.8l-2.5,1.7l-2.4,1.6l-2.1,1.8l-1.6,2.2l-1,2.9l-1.4,2.8l-1.9,2.2l-1.9,2.3l-1.8,2.7l-2.3,2.1l-2.5,1.8l-2.4,2.3l-2.4,2.7l-2.5,3.3l-2.7,3.4l-3,3.4l-3.2,3.4l-3.7,2.3l-3.9,0.3l-3.8-2.1l-3.5-2.8l-3.3-2.5l-3.2-2.3l-3-2.1l-2.9-2.2l-2.7-2.1l-2.6-2.2l-1.9-3.3l-1.5-3.7l-1.3-3.5l-1.2-3.1l-1.6-2.4l-1.6-2.3l-2-1.8l-2.5-1.3l-2.2-1.8l-1.9-2l-2.3-1.8l-2.3-1.9l-2.2-2.1l-1.6-2.5l-1.1-2.6l-1.5-2.7l-1.6-2.6l-1.5-2.7l-1.2-2.9l-1.1-3l-0.5-3.1l0.2-3.1l0.7-3.1l0.9-3l1-2.9l1.4-2.8l1.2-2.7l1.3-2.7l1.4-2.6l1.4-2.5l1.4-2.5l1.9-2.2l2-2.1l1.9-2.1l2.2-1.8l2.2-1.7l1.8-2l1.9-2l2-1.8l2.1-1.8l1.8-2.1l1.7-2.7l1.9-2.5l2.2-2.4l2.3-2.2l2.4-2.3l2.8-1.9l2.9-1.4l2.9-1.8l3-2.6l3.3-2.7l3.5-2.2l3.7-1.6l3.8-0.5l3.6,1.1l3.2,2.9l2.9,3l2.8,2.8l2.3,3.3l1.9,3.7l2.1,2.8l2.4,1.8l2.5,1.7l2.3,2l2.1,2.1l2.2,2.1l2.2,1.9l1.7,2.4l1.8,2.3l2.1,2.2l1.2,2.7l0.8,2.9l1.1,2.7l1.1,2.6l0.6,2.9l0.7,2.7l0.8,2.7l0.4,2.8l0.5,2.7l1.1,2.7l1.3,2.8z" fill="#58006e"/>
<path d="M532.6,398.5l0.5,2.9l0.2,3l-0.3,2.9l-0.8,2.8l-0.8,2.8l-0.8,2.9l-1.1,2.7l-1.6,2.4l-1.6,2.5l-1.9,2.2l-2.3,1.9l-2.4,1.7l-2.4,1.5l-2.1,1.7l-1.5,2.3l-0.9,3l-1.3,2.8l-2,2.1l-1.9,2.3l-1.9,2.5l-2.3,1.9l-2.5,1.7l-2.4,2.2l-2.4,2.6l-2.3,3.4l-2.7,3.4l-2.9,3.3l-3.3,3.5l-3.6,2.4l-3.8,0.3l-3.7-2.1l-3.5-2.8l-3.3-2.6l-3.1-2.2l-2.9-2.2l-2.8-2.3l-2.7-2l-2.6-2.1l-2-3.1l-1.5-3.6l-1.2-3.5l-1.1-3.3l-1.5-2.4l-1.7-2.1l-1.9-1.8l-2.4-1.4l-2.1-1.7l-1.9-2l-2.3-1.7l-2.2-1.9l-2.3-2l-1.6-2.4l-1.1-2.7l-1.3-2.6l-1.6-2.5l-1.6-2.7l-1.2-2.9l-1.2-2.9l-0.5-3l0-3.1l0.6-3.1l1.3-2.9l1.1-2.8l1.2-2.8l1.1-2.7l1.2-2.7l1.3-2.6l1.3-2.5l1.4-2.5l1.7-2.3l2.1-2l2-2l2.2-1.7l2.2-1.7l1.8-2l1.7-2.1l2.1-1.7l2.1-1.7l1.9-2.2l1.6-2.7l1.9-2.4l2.2-2.1l2.2-2.3l2.5-2.4l2.6-1.8l2.9-1.4l3-1.8l2.9-2.6l3.2-2.8l3.5-2l3.6-1.3l3.8-0.4l3.5,1.1l3.1,3l2.8,3.1l2.7,2.8l2.3,3.1l1.9,3.7l1.9,2.9l2.4,1.9l2.4,1.5l2.3,1.9l2,2.2l2.1,2l2.2,1.8l1.8,2.3l1.8,2.2l1.9,2.2l1.3,2.6l0.8,2.8l1,2.6l1.1,2.6l0.6,2.8l0.9,2.6l1.1,2.6l0.5,2.7l0.4,2.7l0.9,2.7l1.1,2.8z" fill="#5b008a"/>
<path d="M531.7,398.5l0.6,2.9l0.1,2.9l-0.5,2.8l-0.8,2.8l-0.9,2.7l-0.6,2.8l-1.1,2.7l-1.5,2.4l-1.7,2.4l-1.8,2.2l-2,2l-2.2,1.8l-2.5,1.4l-2.1,1.7l-1.4,2.3l-0.8,3.1l-1.2,2.8l-2.1,2l-1.8,2.3l-2,2.4l-2.4,1.7l-2.4,1.7l-2.4,2.2l-2.4,2.4l-2.3,3.2l-2.6,3.4l-2.9,3.3l-3.2,3.5l-3.5,2.5l-3.8,0.4l-3.7-2.2l-3.4-2.8l-3.2-2.6l-3.1-2.2l-2.9-2.2l-2.6-2.4l-2.7-2l-2.6-2l-2-2.9l-1.5-3.5l-1.2-3.5l-1-3.3l-1.4-2.4l-1.7-2l-1.9-1.8l-2.2-1.5l-2-1.7l-1.9-1.9l-2.2-1.7l-2.3-1.8l-2.2-2l-1.8-2.3l-1.1-2.6l-1.3-2.5l-1.5-2.6l-1.5-2.6l-1.3-2.8l-1.1-2.9l-0.6-3l-0.2-3l0.5-3l1.5-2.9l1.1-2.8l1-2.8l1-2.7l1.2-2.6l1.3-2.6l1.2-2.6l1.4-2.4l1.6-2.3l2.1-2l2.1-1.9l2.2-1.7l2.1-1.7l1.8-2l1.7-2.1l2-1.7l2.2-1.6l1.8-2.2l1.6-2.7l2-2.2l2.2-2l2.2-2.4l2.4-2.3l2.6-1.8l2.9-1.5l2.9-1.7l2.9-2.5l3.2-2.8l3.4-1.9l3.6-1l3.6-0.3l3.5,1.2l3,2.9l2.8,3.2l2.5,2.9l2.3,3.1l1.8,3.6l1.8,2.9l2.3,1.9l2.4,1.4l2.3,1.7l1.8,2.2l2.1,2l2.2,1.7l1.9,2.1l1.8,2.1l1.7,2.3l1.4,2.4l0.8,2.8l1,2.6l1,2.5l0.7,2.6l1.2,2.5l1.2,2.5l0.5,2.7l0.4,2.7l0.8,2.7l1,2.7z" fill="#5400a8"/>
<path d="M530.9,398.5l0.5,2.8l0.1,2.9l-0.5,2.8l-0.9,2.7l-0.8,2.7l-0.7,2.7l-1.2,2.6l-1.4,2.4l-1.7,2.3l-1.6,2.2l-1.8,2.1l-2,1.9l-2.4,1.5l-2.1,1.6l-1.4,2.3l-0.8,3l-1.3,2.8l-2,1.9l-1.8,2.3l-1.9,2.4l-2.4,1.7l-2.5,1.7l-2.3,2.2l-2.4,2.2l-2.4,2.9l-2.5,3.3l-2.9,3.3l-3.1,3.6l-3.5,2.5l-3.7,0.3l-3.6-2.1l-3.4-2.8l-3.2-2.5l-3-2.1l-2.8-2.4l-2.6-2.5l-2.5-2.1l-2.5-2l-2.1-2.7l-1.5-3.3l-1.2-3.4l-1-3.3l-1.3-2.5l-1.8-1.9l-1.8-1.7l-1.9-1.7l-2-1.7l-1.8-1.8l-2.2-1.7l-2.2-1.8l-2.2-1.9l-1.9-2.1l-1.3-2.5l-1.3-2.5l-1.5-2.5l-1.4-2.6l-1.2-2.8l-1-2.8l-0.6-2.9l-0.5-3l0.4-3l1.4-2.8l1.1-2.8l0.9-2.8l1-2.7l1.2-2.6l1.1-2.6l1.2-2.5l1.5-2.4l1.6-2.3l2.2-1.9l2-1.9l2.1-1.7l2.1-1.8l1.8-1.9l1.8-1.9l1.9-1.9l2.1-1.6l1.8-2.1l1.6-2.7l2.1-2l2.3-1.8l2.1-2.4l2.3-2.3l2.6-1.9l2.8-1.6l2.9-1.6l2.9-2.3l3.1-2.7l3.4-1.9l3.5-0.9l3.6-0.2l3.4,1.3l3,2.9l2.6,3.2l2.4,3.1l2.2,3.1l1.8,3.5l1.7,2.8l2.2,1.9l2.4,1.4l2.2,1.6l1.8,2.2l2,1.8l2.3,1.6l2,1.9l1.6,2.2l1.6,2.3l1.4,2.3l0.9,2.6l0.9,2.6l1.1,2.4l1,2.5l1.1,2.5l1.2,2.4l0.6,2.7l0.4,2.6l0.6,2.7l1,2.6z" fill="#4300c3"/>
<path d="M530.1,398.5l0.5,2.8l0,2.8l-0.6,2.7l-0.7,2.7l-0.9,2.6l-0.9,2.6l-1.3,2.5l-1.4,2.4l-1.6,2.2l-1.5,2.2l-1.5,2.3l-1.7,2l-2.2,1.6l-2.1,1.7l-1.5,2.1l-0.9,2.9l-1.3,2.7l-1.9,2l-1.8,2.3l-1.9,2.4l-2.3,1.7l-2.4,1.7l-2.3,2.3l-2.5,2l-2.4,2.5l-2.5,3.2l-2.8,3.4l-3.1,3.6l-3.4,2.5l-3.7,0.2l-3.6-2.2l-3.3-2.8l-3.1-2.3l-3-2l-2.8-2.5l-2.4-2.7l-2.4-2.3l-2.4-2.1l-2.1-2.5l-1.5-3.1l-1.2-3.3l-0.9-3.3l-1.3-2.5l-1.8-1.7l-1.8-1.7l-1.7-1.8l-2-1.6l-1.8-1.8l-2.1-1.6l-2-1.9l-2.1-1.8l-2-2l-1.7-2.3l-1.4-2.4l-1.4-2.5l-1.4-2.6l-1-2.7l-0.9-2.8l-0.7-2.9l-0.5-2.9l0.2-2.9l1.2-2.9l1-2.7l0.8-2.8l1.2-2.6l1.1-2.6l0.9-2.7l1.2-2.5l1.7-2.2l1.7-2.2l2.2-1.9l2-1.9l1.8-1.9l1.9-1.8l1.9-1.9l2.1-1.6l1.9-1.8l2-1.8l1.7-2.1l1.6-2.6l2.1-1.9l2.3-1.7l2.1-2.4l2.3-2.2l2.5-1.9l2.7-1.7l2.9-1.5l2.9-2.1l3.1-2.5l3.3-2l3.5-0.9l3.5-0.1l3.3,1.4l2.9,2.8l2.6,3.3l2.2,3.3l2.1,3.2l1.7,3.3l1.8,2.7l2.1,1.8l2.3,1.5l2.1,1.5l1.8,2.1l2,1.8l2.2,1.5l2,1.8l1.5,2.2l1.6,2.2l1.5,2.2l0.9,2.5l1,2.5l1.2,2.3l1.1,2.4l1,2.5l1,2.4l0.7,2.6l0.3,2.6l0.7,2.6l1.1,2.6z" fill="#2c00dc"/>
<path d="M529.4,398.5l0.5,2.7l-0.1,2.8l-0.6,2.7l-0.7,2.6l-0.9,2.6l-1.2,2.5l-1.4,2.3l-1.5,2.3l-1.4,2.2l-1.3,2.3l-1.3,2.3l-1.4,2.2l-2,1.8l-2.1,1.6l-1.6,2l-1.1,2.7l-1.2,2.6l-1.9,2.1l-1.8,2.2l-1.7,2.6l-2.4,1.7l-2.3,1.7l-2.2,2.3l-2.5,1.9l-2.6,2.1l-2.4,3.2l-2.7,3.5l-3,3.6l-3.4,2.6l-3.7,0.1l-3.5-2.3l-3.3-2.9l-3.1-2.3l-3-1.8l-2.6-2.6l-2.3-3l-2.3-2.5l-2.2-2.2l-2.1-2.4l-1.5-2.9l-1.2-3.2l-0.9-3.2l-1.2-2.4l-1.8-1.7l-1.8-1.6l-1.6-1.8l-1.9-1.6l-1.9-1.6l-2-1.7l-1.8-1.9l-2-1.8l-2.2-1.8l-1.9-2.1l-1.5-2.4l-1.3-2.5l-1.4-2.5l-1.1-2.6l-0.7-2.8l-0.7-2.8l-0.5-2.9l0.2-2.9l0.8-2.8l0.9-2.8l0.8-2.7l1.3-2.5l1.2-2.6l0.7-2.7l1.3-2.4l1.8-2.2l1.7-2.2l2.1-1.8l1.9-1.9l1.6-2.1l1.8-1.9l2-1.7l2.3-1.4l2-1.6l1.8-1.8l1.7-2.2l1.6-2.5l2-1.9l2.3-1.7l2.1-2.2l2.3-2.1l2.5-1.9l2.6-1.9l2.8-1.5l2.9-1.8l3-2.4l3.3-2.1l3.4-1l3.4,0.1l3.3,1.4l2.9,2.7l2.4,3.4l2.2,3.5l1.9,3.4l1.7,3.2l1.8,2.4l2,1.8l2.2,1.5l2.1,1.5l1.8,1.9l1.9,1.8l2.1,1.5l1.9,1.8l1.5,2.1l1.5,2.1l1.6,2.1l1,2.4l1.1,2.4l1.4,2.1l1.1,2.4l0.7,2.4l0.9,2.5l0.8,2.5l0.3,2.6l0.6,2.5l1.2,2.5z" fill="#1400f0"/>
<path d="M528.4,398.5l0.6,2.7l-0.2,2.7l-0.6,2.6l-0.6,2.6l-1.1,2.5l-1.4,2.4l-1.5,2.2l-1.5,2.2l-1.2,2.2l-1.1,2.3l-1.2,2.3l-1.2,2.3l-1.7,1.9l-2.1,1.6l-1.6,2l-1.2,2.5l-1.3,2.6l-1.7,2l-1.8,2.3l-1.7,2.5l-2.3,1.7l-2.3,1.8l-2.1,2.5l-2.5,1.8l-2.6,1.7l-2.4,3.2l-2.7,3.5l-2.9,3.7l-3.4,2.6l-3.6,0.1l-3.5-2.4l-3.2-3.1l-3-2.1l-3-1.8l-2.5-2.7l-2.3-3.1l-2.1-2.7l-2.1-2.4l-2-2.2l-1.6-2.7l-1.1-3.2l-0.8-3.1l-1.3-2.4l-1.7-1.6l-1.6-1.7l-1.6-1.7l-1.8-1.6l-2-1.5l-1.9-1.6l-1.6-1.9l-2.1-1.7l-2.2-1.8l-2.1-1.9l-1.6-2.3l-1.2-2.4l-1.4-2.5l-1.1-2.6l-0.7-2.7l-0.7-2.8l-0.4-2.8l0.2-2.8l0.5-2.8l0.7-2.8l0.9-2.6l1.3-2.5l1.3-2.5l0.8-2.6l1.3-2.4l1.7-2.2l1.6-2.1l2.1-1.9l1.7-1.9l1.5-2.2l1.7-2l2.1-1.5l2.4-1.1l2.1-1.5l1.8-1.8l1.7-2.1l1.5-2.5l2-1.9l2.1-1.8l2.2-2.1l2.3-1.9l2.4-1.8l2.6-2l2.7-1.6l2.8-1.7l3-2.3l3.2-2.1l3.4-1l3.3,0l3.2,1.5l2.8,2.6l2.4,3.5l2,3.7l1.8,3.6l1.6,3l1.8,2.3l2,1.7l2.1,1.5l2.1,1.4l1.8,1.7l1.8,1.8l2,1.6l1.8,1.8l1.5,2l1.5,2l1.6,2l1,2.4l1.2,2.2l1.6,2l1.1,2.3l0.5,2.5l0.9,2.4l0.8,2.4l0.2,2.5l0.5,2.5l1.3,2.5z" fill="#000bff"/>
<path d="M527.4,398.5l0.6,2.6l-0.2,2.7l-0.5,2.6l-0.6,2.6l-1.1,2.4l-1.5,2.2l-1.6,2.2l-1.5,2.1l-1.1,2.2l-1.1,2.2l-1.2,2.2l-1.1,2.3l-1.5,2l-1.9,1.7l-1.7,1.9l-1.1,2.5l-1.3,2.4l-1.7,2.2l-1.7,2.2l-1.8,2.4l-2.2,1.8l-2.1,1.9l-2.1,2.6l-2.4,1.8l-2.7,1.5l-2.4,2.9l-2.6,3.7l-2.9,3.8l-3.3,2.8l-3.6,0.1l-3.5-2.5l-3.1-3.2l-3-2.1l-2.9-1.7l-2.6-2.8l-2.2-3.1l-2-2.8l-2-2.5l-1.9-2.2l-1.6-2.6l-1.1-3.2l-0.8-3l-1.3-2.3l-1.6-1.7l-1.5-1.7l-1.5-1.7l-1.8-1.6l-1.9-1.4l-1.8-1.7l-1.5-1.8l-2.1-1.6l-2.4-1.7l-2-1.9l-1.6-2.2l-1.2-2.4l-1.3-2.4l-1.1-2.6l-0.7-2.6l-0.6-2.7l-0.4-2.8l0.3-2.8l0.3-2.7l0.5-2.7l0.8-2.7l1.3-2.4l1.5-2.4l1-2.4l1.2-2.4l1.6-2.2l1.4-2.2l1.8-1.9l1.8-1.9l1.5-2.1l1.6-2l2-1.6l2.5-1l2.1-1.4l1.8-1.7l1.7-2l1.5-2.4l1.9-2l2.1-1.9l2.1-1.9l2.3-1.7l2.4-1.8l2.5-1.9l2.6-1.8l2.8-1.8l3-2.2l3.1-2l3.3-1l3.3-0.1l3.1,1.5l2.8,2.5l2.4,3.5l1.9,3.8l1.7,3.6l1.7,2.8l1.8,2.2l1.9,1.6l2,1.6l2.1,1.3l2,1.6l1.7,1.8l1.7,1.8l1.8,1.7l1.5,2l1.5,1.9l1.4,2.1l0.9,2.3l1.4,2.1l1.6,1.9l1.1,2.3l0.5,2.5l0.8,2.3l0.8,2.4l0.1,2.5l0.6,2.4l1.3,2.5z" fill="#0030ff"/>
<path d="M526.5,398.5l0.5,2.6l-0.2,2.6l-0.5,2.5l-0.5,2.6l-1.1,2.3l-1.6,2.2l-1.5,2.1l-1.5,2.1l-1,2.2l-1.3,2.1l-1.2,2.1l-1,2.3l-1.4,2l-1.7,1.8l-1.6,1.9l-1.1,2.4l-1.4,2.3l-1.7,2.1l-1.6,2.2l-1.8,2.3l-2.1,1.8l-2,2.1l-2,2.7l-2.4,1.8l-2.7,1.4l-2.4,2.7l-2.6,3.6l-2.8,3.9l-3.3,3l-3.5,0.2l-3.4-2.4l-3.1-3.3l-3-2.2l-2.9-1.7l-2.5-2.7l-2.1-3.1l-2-2.9l-2-2.5l-1.9-2.2l-1.6-2.5l-1-3.1l-0.8-3.1l-1.2-2.3l-1.4-1.8l-1.5-1.7l-1.5-1.6l-1.7-1.6l-1.9-1.4l-1.6-1.7l-1.5-1.8l-2.2-1.5l-2.4-1.6l-2-1.9l-1.6-2.1l-1.1-2.4l-1.2-2.4l-1-2.5l-0.7-2.6l-0.6-2.6l-0.4-2.7l0.4-2.7l0.3-2.7l0.2-2.7l0.6-2.6l1.2-2.4l1.7-2.3l1.2-2.3l1.1-2.4l1.4-2.2l1.2-2.2l1.7-2l1.9-1.8l1.6-1.9l1.6-2l1.9-1.6l2.3-1.2l2.1-1.3l1.8-1.7l1.8-1.8l1.5-2.3l1.8-2l2-1.9l2.2-1.8l2.2-1.6l2.4-1.6l2.4-1.9l2.6-2l2.7-2l2.9-2.2l3.1-1.8l3.2-1l3.3,0l3.1,1.5l2.7,2.4l2.3,3.3l1.9,4l1.6,3.5l1.7,2.6l1.8,2.1l2,1.7l1.9,1.6l2,1.3l2,1.5l1.7,1.7l1.6,1.9l1.8,1.6l1.6,1.9l1.4,2l1.2,2.1l0.9,2.3l1.3,2l1.5,2l0.9,2.2l0.7,2.4l1.1,2.2l0.8,2.3l-0.1,2.5l0.8,2.4l1.2,2.4z" fill="#0055ff"/>
<path d="M525.7,398.5l0.3,2.5l-0.2,2.6l-0.5,2.5l-0.4,2.5l-1,2.3l-1.6,2.1l-1.5,2.1l-1.4,2.1l-1,2.1l-1.4,2l-1.2,2.1l-1.1,2.2l-1.2,2l-1.5,2l-1.5,1.9l-1.3,2.2l-1.5,2.1l-1.6,2.1l-1.5,2.3l-1.8,2.1l-2,1.9l-2,2.2l-1.9,2.6l-2.4,1.8l-2.6,1.4l-2.4,2.6l-2.5,3.5l-2.8,3.9l-3.2,3l-3.5,0.5l-3.4-2.1l-3.1-3.3l-2.9-2.4l-2.9-1.8l-2.4-2.7l-2.2-3l-1.9-2.8l-2-2.5l-1.8-2.3l-1.6-2.5l-1-3l-0.8-3l-1-2.5l-1.3-1.9l-1.5-1.6l-1.7-1.5l-1.6-1.5l-1.7-1.5l-1.4-1.8l-1.4-1.8l-2.3-1.4l-2.3-1.5l-1.9-1.9l-1.6-2.1l-1.2-2.2l-1.1-2.4l-1-2.4l-0.7-2.6l-0.6-2.6l-0.2-2.6l0.5-2.6l0.4-2.6l0-2.7l0.3-2.6l1.1-2.4l1.6-2.2l1.2-2.3l1-2.4l1.3-2.2l1.3-2.1l1.5-2.1l1.9-1.7l1.8-1.7l1.7-1.8l1.7-1.8l2-1.4l2-1.4l1.9-1.6l1.9-1.6l1.4-2.3l1.8-2l2.1-1.7l2.1-1.7l2.2-1.6l2.4-1.6l2.3-1.9l2.5-2.1l2.7-2.2l2.8-2.1l3.1-1.6l3.2-1l3.2,0.1l3,1.7l2.7,2.3l2.3,3.1l1.8,3.9l1.6,3.4l1.8,2.6l1.8,2l1.9,1.6l1.8,1.7l1.9,1.5l1.9,1.5l1.8,1.5l1.5,1.9l1.8,1.6l1.6,1.8l1.2,2l1.2,2.2l0.9,2.1l1.2,2.1l1.2,2l0.9,2.2l0.8,2.2l1.4,2.1l0.9,2.3l-0.2,2.5l1.1,2.2l1.2,2.4z" fill="#007bff"/>
<path d="M524.9,398.5l0.1,2.5l-0.2,2.5l-0.3,2.4l-0.4,2.5l-1,2.3l-1.6,2.1l-1.5,2l-1.2,2.1l-1,2.1l-1.5,1.9l-1.2,2l-1.1,2.1l-1.1,2.2l-1.2,2.1l-1.6,1.8l-1.4,2l-1.6,1.9l-1.6,2.1l-1.4,2.4l-1.7,2.1l-2,1.9l-1.9,2.1l-2,2.5l-2.3,1.8l-2.5,1.4l-2.4,2.7l-2.5,3.4l-2.7,3.6l-3.2,3l-3.4,0.8l-3.4-1.7l-3.1-3l-2.9-2.5l-2.7-2.1l-2.5-2.7l-2.1-2.8l-2-2.7l-1.9-2.6l-1.7-2.4l-1.5-2.5l-1.1-3l-0.7-3l-0.9-2.5l-1.2-2l-1.5-1.6l-1.9-1.2l-1.6-1.5l-1.5-1.7l-1.1-1.9l-1.3-1.8l-2.2-1.3l-2.3-1.5l-1.8-1.8l-1.5-2.1l-1.4-2.1l-1-2.3l-1-2.4l-1-2.5l-0.4-2.5l0-2.6l0.6-2.5l0.5-2.6l0-2.5l0.2-2.6l0.9-2.4l1.3-2.3l0.9-2.3l1-2.3l1.3-2.2l1.5-2l1.3-2.1l1.8-1.7l2.1-1.5l1.7-1.7l1.4-2l1.7-1.7l2-1.4l1.9-1.5l2-1.4l1.4-2.3l1.8-1.9l2.1-1.5l2.2-1.6l2.1-1.7l2.3-1.7l2.3-1.9l2.4-2.3l2.6-2.2l2.9-2l3-1.5l3.2-1l3.1,0.3l2.9,1.8l2.7,2.3l2.3,3l1.8,3.7l1.6,3.3l1.7,2.5l1.8,2l1.9,1.5l1.8,1.8l1.7,1.7l1.7,1.6l1.8,1.5l1.6,1.7l1.8,1.5l1.5,1.8l1.1,2.2l1.1,2l1.1,2.1l1.1,2l0.7,2.2l1,2.1l1,2l1.6,2l0.9,2.2l-0.1,2.5l1.3,2.2l1.3,2.3z" fill="#00a0ff"/>
<path d="M524,398.5l-0.1,2.4l-0.1,2.5l-0.1,2.4l-0.3,2.5l-1,2.2l-1.7,2l-1.5,2l-1,2.1l-1,2.1l-1.4,1.9l-1.3,2l-1,2l-1.1,2.2l-1.1,2.2l-1.6,1.7l-1.6,1.8l-1.7,1.7l-1.4,2.1l-1.3,2.5l-1.6,2.2l-2,1.9l-1.9,2l-2,2.2l-2.3,1.8l-2.5,1.6l-2.2,2.9l-2.5,3.2l-2.8,3.2l-3,2.8l-3.4,1l-3.3-1.2l-3.1-2.6l-2.9-2.5l-2.7-2.3l-2.4-2.8l-2.2-2.6l-2-2.6l-1.8-2.6l-1.7-2.6l-1.3-2.7l-1.1-2.9l-0.8-2.9l-0.9-2.5l-1-2.1l-1.5-1.5l-2-1.1l-1.6-1.4l-1.3-1.8l-0.9-2l-1.1-1.8l-2.1-1.4l-2.1-1.5l-1.8-1.7l-1.5-2l-1.3-2.1l-1.2-2.2l-1.2-2.3l-1.1-2.4l-0.3-2.5l0.4-2.5l0.7-2.5l0.5-2.4l0.1-2.5l0.3-2.4l0.6-2.4l0.7-2.4l0.8-2.3l0.9-2.3l1.4-2.1l1.7-1.9l1.3-2l1.6-1.8l2-1.5l1.8-1.6l1.2-2.1l1.4-2l1.9-1.5l2-1.3l2.1-1.2l1.5-2.1l1.8-2l2.1-1.3l2.1-1.5l2.1-1.8l2.1-2l2.3-2.1l2.4-2.3l2.6-2.2l2.8-1.8l3-1.5l3.1-0.9l3.1,0.5l2.9,1.9l2.6,2.3l2.2,3l1.8,3.5l1.7,3.3l1.6,2.5l1.9,1.8l1.9,1.4l1.7,1.8l1.5,1.9l1.6,1.7l1.7,1.6l1.6,1.6l1.9,1.4l1.4,1.8l0.8,2.3l1.1,1.9l1.3,1.9l1.1,2l0.5,2.2l1,2l1.2,2l1.6,1.9l0.9,2.2l0.1,2.4l1.4,2.1l1.3,2.4z" fill="#00c5ff"/>
<path d="M523,398.5l-0.3,2.4l0,2.4l0.1,2.4l-0.1,2.4l-1,2.2l-1.9,1.9l-1.5,2l-0.8,2.1l-1,2.1l-1.4,1.8l-1,2l-1.1,2.1l-1,2.1l-1.1,2.1l-1.6,1.8l-1.9,1.4l-1.6,1.8l-1.4,2.1l-1.2,2.5l-1.4,2.4l-1.9,2l-2,1.8l-2.1,2l-2.2,1.8l-2.3,1.8l-2.2,3l-2.5,3.1l-2.8,2.8l-3,2.5l-3.3,1l-3.3-0.9l-3.1-2l-2.9-2.4l-2.6-2.6l-2.3-2.8l-2.2-2.5l-2.1-2.3l-1.7-2.9l-1.5-2.7l-1.3-2.9l-1-2.8l-0.9-2.7l-1-2.3l-0.9-2.2l-1.4-1.6l-1.9-1.1l-1.7-1.4l-1.2-1.8l-0.7-2l-0.9-1.9l-1.8-1.4l-2.1-1.5l-1.7-1.7l-1.4-1.9l-1.3-2l-1.3-2.1l-1.6-2.1l-1.2-2.4l-0.2-2.4l0.6-2.5l0.8-2.4l0.5-2.4l0.3-2.3l0.5-2.4l0.3-2.4l0.4-2.3l0.6-2.4l1-2.2l1.3-2l1.8-1.8l1.3-1.9l1.3-2l2-1.5l1.6-1.6l1-2.3l1.4-2l1.8-1.5l2.1-1.2l2.2-1l1.5-2l1.7-1.9l2.1-1.3l2.1-1.4l2-1.9l2-2.4l2.2-2.2l2.4-2.4l2.6-2.1l2.8-1.5l3-1.5l3.1-0.8l3,0.6l2.9,1.9l2.5,2.4l2.2,3l1.8,3.5l1.6,3.2l1.6,2.5l1.9,1.6l1.9,1.3l1.7,1.7l1.5,1.9l1.4,1.9l1.5,1.7l1.5,1.7l2,1.2l1.3,1.8l0.7,2.3l1.2,1.9l1.5,1.7l1.1,1.9l0.3,2.3l1.2,1.9l1.1,1.9l1.4,2l1,2.1l0.3,2.3l1.4,2.1l1.1,2.3z" fill="#00eaff"/>
<path d="M521.2,398.5l-0.4,2.3l0,2.3l0.3,2.3l0,2.4l-1,2.1l-1.8,1.8l-1.5,1.9l-0.7,2.1l-0.9,2l-1.3,1.8l-0.9,2.1l-1,2l-1.1,1.9l-1.2,2l-1.6,1.6l-1.8,1.4l-1.5,1.7l-1.3,2.2l-1.1,2.4l-1.3,2.5l-1.8,2.1l-2,1.6l-2,1.8l-2.1,1.9l-2.3,1.9l-2.1,2.9l-2.4,3l-2.7,2.6l-3,2.3l-3.2,0.8l-3.2-0.7l-3.1-1.5l-2.8-2.1l-2.5-2.7l-2.3-2.8l-2.2-2.3l-2.1-2.1l-1.6-3l-1.4-2.8l-1.1-3l-1-2.8l-1-2.4l-1.2-2l-0.9-2.1l-1.3-1.7l-1.6-1.3l-1.6-1.4l-1.2-1.7l-0.7-2l-0.6-2l-1.7-1.4l-1.8-1.5l-1.5-1.6l-1.4-1.9l-1.3-1.9l-1.5-1.9l-1.8-2.1l-1.3-2.2l0-2.4l0.7-2.4l0.8-2.3l0.4-2.3l0.4-2.3l0.8-2.2l0.2-2.3l0.3-2.3l0.6-2.2l0.9-2.2l1.3-1.9l1.8-1.7l1.3-1.8l1.1-2l1.6-1.6l1.5-1.7l1-2.2l1.2-2.1l1.8-1.5l2-1.1l2.2-1l1.6-1.7l1.7-1.9l1.9-1.4l2.1-1.4l1.9-2l1.9-2.4l2.1-2.3l2.3-2.4l2.6-1.9l2.8-1.3l2.9-1.5l3-0.6l3,0.8l2.7,1.8l2.4,2.5l2.1,3l1.8,3.4l1.5,3.1l1.5,2.4l1.9,1.4l1.9,1.3l1.7,1.6l1.6,1.7l1.3,1.9l1.2,2l1.4,1.6l2,1.1l1.2,1.8l0.7,2.2l1.2,1.7l1.7,1.5l1,1.9l0.4,2.2l1.3,1.8l0.9,2l1.1,1.9l1,2.1l0.6,2.1l1.1,2.2l0.8,2.2z" fill="#00ffe7"/>
<path d="M518.4,398.5l-0.3,2.1l-0.1,2.2l0.3,2.2l0.1,2.2l-0.8,2l-1.7,1.8l-1.4,1.7l-0.7,2l-0.8,1.9l-1.2,1.7l-0.7,2l-0.9,1.9l-1.2,1.8l-1.2,1.8l-1.6,1.4l-1.7,1.3l-1.2,1.9l-1.1,2.1l-1.1,2.3l-1.3,2.4l-1.6,2l-1.9,1.6l-1.9,1.8l-1.9,1.9l-2.2,1.9l-2.1,2.6l-2.2,3l-2.6,2.5l-2.9,2.1l-3,0.6l-3-0.6l-3-1l-2.8-1.8l-2.4-2.6l-2.2-2.5l-2.2-2.1l-2.1-2l-1.5-3.1l-1.3-2.9l-1-2.9l-1-2.6l-1-2.2l-1.3-1.8l-1.1-1.9l-1.1-1.7l-1.3-1.5l-1.3-1.5l-1.4-1.5l-0.7-1.9l-0.4-2l-1.5-1.5l-1.7-1.4l-1.2-1.7l-1.2-1.7l-1.4-1.8l-1.6-1.8l-1.9-2l-1.1-2.1l-0.1-2.3l0.6-2.3l0.9-2.2l0.3-2.2l0.5-2.2l1.2-2l0.3-2.1l0.3-2.2l0.6-2.1l0.8-2l1.3-1.9l1.5-1.6l1.3-1.7l1-1.9l1.4-1.7l1.3-1.7l0.9-2.1l1.2-2l1.6-1.5l1.9-1.1l2.1-1l1.6-1.5l1.6-1.8l1.8-1.5l1.8-1.6l1.8-2l1.9-2.2l2.1-2.2l2.2-2.3l2.5-1.7l2.7-1.2l2.8-1.4l2.9-0.3l2.8,1l2.6,1.8l2.2,2.5l2,3l1.6,3.1l1.4,3l1.6,2.2l1.7,1.4l1.8,1.2l1.6,1.5l1.6,1.4l1.3,1.9l0.9,2l1.3,1.6l1.9,1l1.3,1.6l0.8,1.9l1.3,1.6l1.6,1.5l0.9,1.8l0.5,2.1l1.3,1.6l0.7,2l0.7,1.9l1,1.9l0.8,2.1l0.8,2l0.4,2.1z" fill="#00ffb0"/>
<path d="M515.8,398.5l-0.3,2l-0.2,2l0.3,2l0,2.1l-0.7,1.9l-1.3,1.7l-1.4,1.6l-0.7,1.9l-0.7,1.7l-1.3,1.6l-0.6,1.9l-0.8,1.8l-1,1.8l-1.3,1.5l-1.5,1.3l-1.4,1.4l-0.9,2.1l-1.1,2l-1.1,2l-1.2,2.2l-1.5,2l-1.8,1.5l-1.7,1.9l-1.8,2l-2.1,1.7l-2,2.3l-2.2,2.9l-2.4,2.6l-2.7,2.1l-2.9,0.5l-2.9-0.7l-2.8-0.8l-2.7-1.6l-2.3-2.4l-2.2-2.2l-2.2-1.8l-2-1.9l-1.4-3.1l-1.1-2.9l-1.1-2.7l-1-2.5l-1-2.1l-1.3-1.7l-1.3-1.5l-1.1-1.7l-0.9-1.8l-1.2-1.5l-1.4-1.4l-0.6-1.9l-0.4-2l-1.4-1.4l-1.4-1.4l-0.9-1.7l-1.2-1.7l-1.5-1.6l-1.6-1.7l-1.8-1.9l-1-2l-0.2-2.2l0.4-2.2l0.9-2.1l0.4-2.1l0.4-2.1l1.5-1.8l0.6-2l0.3-2l0.7-2l0.8-1.9l1.1-1.7l1.2-1.7l1.4-1.5l0.9-1.8l1.1-1.7l1.2-1.7l0.9-2l1.1-1.9l1.4-1.6l1.8-1.2l1.8-1l1.7-1.3l1.6-1.6l1.5-1.8l1.7-1.9l1.8-1.8l2-1.6l2-2l2.1-2.2l2.4-1.6l2.5-1.1l2.7-1.3l2.7-0.2l2.7,1.1l2.4,1.8l2.1,2.6l1.8,2.9l1.6,3l1.3,2.7l1.5,2l1.6,1.4l1.6,1.3l1.6,1.3l1.5,1.2l1.2,1.8l0.8,2l1.2,1.5l1.8,0.9l1.4,1.4l1.1,1.6l1.3,1.4l1.3,1.5l0.8,1.8l0.6,1.9l1.2,1.6l0.6,1.9l0.4,1.9l1,1.8l0.8,1.9l0.6,2l0,2z" fill="#00ff79"/>
<path d="M513.2,398.5l-0.1,1.9l-0.3,1.8l0.1,1.9l-0.1,1.9l-0.6,1.8l-0.9,1.7l-1.3,1.5l-0.7,1.7l-0.7,1.6l-1.3,1.4l-0.8,1.7l-0.6,1.8l-0.8,1.6l-1.3,1.4l-1.4,1.2l-1.1,1.6l-0.5,2.2l-1.1,1.9l-1.3,1.7l-1.1,1.9l-1.4,1.8l-1.7,1.6l-1.5,2.1l-1.6,2.1l-2,1.4l-2,2l-2,2.8l-2.3,2.7l-2.5,2.1l-2.8,0.5l-2.8-0.6l-2.7-0.7l-2.5-1.6l-2.2-2.3l-2.2-1.7l-2.2-1.5l-2-1.7l-1.2-3.1l-1.1-3l-1.1-2.5l-1-2.3l-0.9-2.2l-1.2-1.6l-1.5-1.2l-1.1-1.6l-0.7-1.9l-1-1.6l-1.3-1.3l-0.6-1.9l-0.4-1.9l-1.3-1.3l-1.2-1.5l-0.8-1.6l-1.1-1.6l-1.5-1.6l-1.5-1.6l-1.7-1.8l-0.9-1.9l-0.4-2.1l0.1-2.1l1-2l0.6-2l0.5-2l1.4-1.7l0.8-1.9l0.4-1.9l0.8-1.7l0.9-1.8l0.9-1.6l1-1.7l1.3-1.4l1-1.7l0.9-1.7l1.1-1.6l0.9-1.8l1-1.9l1.2-1.6l1.5-1.3l1.7-1.2l1.7-1l1.6-1.4l1.3-2.2l1.4-2.2l1.8-1.5l2.1-1l2-1.6l2-2l2.3-1.6l2.4-1.2l2.5-1.3l2.6,0l2.5,1.3l2.2,1.8l2,2.6l1.7,2.8l1.4,2.8l1.3,2.5l1.4,1.8l1.5,1.4l1.4,1.3l1.5,1.2l1.5,1.2l1.1,1.6l0.7,1.8l1.3,1.3l1.6,0.9l1.3,1.3l1.4,1.3l1.3,1.3l0.9,1.6l0.7,1.8l0.6,1.7l1.2,1.5l0.6,1.7l0.1,2l0.8,1.6l0.9,1.8l0.5,1.8l-0.1,1.9z" fill="#00ff47"/>
<path d="M510.9,398.5l-0.1,1.7l-0.4,1.8l-0.2,1.7l-0.4,1.7l-0.5,1.6l-0.4,1.7l-1,1.5l-0.7,1.5l-0.7,1.6l-1.5,1.1l-0.9,1.4l-0.3,1.8l-0.7,1.6l-1.2,1.2l-1.3,1.2l-0.7,1.7l-0.4,2.3l-1,1.7l-1.4,1.3l-1.3,1.7l-1.3,1.6l-1.4,1.7l-1.2,2.3l-1.5,2.2l-2,1.2l-1.9,1.7l-1.8,2.8l-2.2,2.6l-2.4,2.2l-2.6,0.8l-2.6-0.5l-2.6-0.7l-2.4-1.6l-2.2-2.2l-2.1-1.4l-2.2-1.1l-1.9-1.7l-1.3-2.9l-1-2.9l-1.1-2.3l-0.9-2.4l-0.7-2.3l-1.1-1.6l-1.6-1l-1.2-1.4l-0.6-1.9l-0.9-1.7l-1.1-1.3l-0.4-1.8l-0.5-1.8l-1.2-1.3l-1.1-1.4l-0.7-1.6l-1.2-1.5l-1.4-1.5l-1.2-1.6l-1.5-1.7l-1.1-1.8l-0.6-2l-0.1-2l1.2-2l0.9-1.8l0.5-1.9l1.3-1.7l0.8-1.7l0.4-1.8l1-1.6l1-1.5l0.8-1.6l0.7-1.7l1.4-1.2l0.9-1.6l0.8-1.6l1-1.5l1-1.6l0.8-1.9l1-1.7l1.3-1.5l1.5-1.1l1.8-0.8l1.5-1.3l1.1-2.5l1.2-2.5l1.8-1.2l2.1-0.5l2-1.3l1.9-1.8l2.1-1.6l2.3-1.3l2.4-1.1l2.5,0l2.3,1.3l2.1,2.1l1.8,2.6l1.5,2.9l1.3,2.5l1.3,2.1l1.4,1.6l1.4,1.2l1.3,1.4l1.2,1.3l1.4,1.1l1.1,1.4l0.8,1.6l1.3,1.1l1.5,0.9l1.2,1.2l1.5,1.1l1.2,1.3l0.4,1.8l0.5,1.6l0.7,1.6l1.2,1.3l0.7,1.6l-0.2,1.9l0.6,1.6l0.9,1.6l0.5,1.7l-0.1,1.8z" fill="#00ff15"/>
<path d="M509.5,398.5l0,1.7l-0.6,1.6l-0.3,1.6l-0.6,1.6l-0.5,1.5l0,1.8l-0.6,1.5l-0.9,1.4l-0.8,1.4l-1.6,1l-1.1,1.2l-0.1,1.8l-0.5,1.6l-1.3,1.1l-1.2,1.1l-0.4,1.9l-0.4,2.2l-1,1.6l-1.5,1.1l-1.3,1.3l-1.3,1.5l-1.2,1.8l-1.1,2.5l-1.3,2.3l-1.9,1.1l-1.8,1.5l-1.9,2.5l-2,2.6l-2.3,2.3l-2.5,0.9l-2.5-0.5l-2.5-0.7l-2.3-1.5l-2.1-2.1l-2.1-1.1l-2.1-1.1l-1.8-1.8l-1.4-2.6l-1-2.6l-1.1-2.3l-0.8-2.4l-0.6-2.4l-1-1.6l-1.6-0.9l-1.2-1.3l-0.6-1.9l-0.7-1.6l-0.9-1.5l-0.4-1.7l-0.5-1.7l-1.2-1.3l-0.9-1.3l-0.8-1.5l-1.3-1.4l-1.2-1.5l-0.9-1.6l-1.5-1.6l-1.1-1.7l-0.7-1.9l-0.2-1.9l1.3-1.9l1.2-1.7l0.5-1.8l1-1.6l0.8-1.6l0.3-1.8l1.2-1.4l1.2-1.3l0.5-1.7l0.6-1.6l1.5-1.1l0.9-1.4l0.7-1.6l1.1-1.3l0.9-1.5l0.7-1.8l0.8-1.8l1.1-1.6l1.5-1.1l1.7-0.7l1.5-1.2l0.7-2.8l1.1-2.6l1.9-1.1l2.1-0.2l1.8-1.2l1.9-1.7l2-1.6l2.2-1.3l2.3-1l2.4,0l2.2,1.3l2,2.2l1.7,2.7l1.3,2.8l1.4,2.3l1.3,1.7l1.3,1.3l1.5,1.1l1.1,1.5l1.1,1.5l1.2,1.2l1.2,1.1l0.9,1.4l1.3,1l1.5,0.9l1.1,1.2l1.3,1l1.1,1.3l0,2l0.4,1.6l0.8,1.4l1.2,1.3l0.8,1.4l-0.4,1.8l0.3,1.6l1,1.5l0.7,1.6l0.1,1.6z" fill="#15ff00"/>
<path d="M508.7,398.5l0.1,1.6l-0.6,1.6l-0.3,1.6l-0.8,1.5l-0.6,1.5l0.3,1.7l-0.4,1.6l-0.9,1.4l-1.1,1.2l-1.6,0.9l-1.2,1l0.1,2l-0.5,1.6l-1.3,1l-1,1.2l-0.4,1.9l-0.6,1.9l-1,1.6l-1.3,1.1l-1.4,1l-1.3,1.3l-1.1,1.8l-1,2.5l-1.3,2.5l-1.7,1.3l-1.9,1.4l-1.8,2.1l-1.9,2.5l-2.3,2.2l-2.4,1l-2.5-0.6l-2.4-0.5l-2.2-1.4l-2-2.1l-2.1-1l-2-1.2l-1.7-1.9l-1.3-2.3l-1.2-2.4l-1-2.2l-0.8-2.4l-0.6-2.2l-1.1-1.5l-1.3-1.1l-1.1-1.4l-0.4-1.9l-0.8-1.6l-0.8-1.4l-0.4-1.7l-0.6-1.5l-1-1.3l-0.8-1.4l-0.8-1.4l-1.4-1.2l-1.1-1.5l-0.7-1.6l-1.3-1.5l-1.1-1.7l-0.9-1.7l0-1.9l1.2-1.8l1.3-1.7l0.7-1.6l0.7-1.6l0.7-1.6l0.4-1.6l1.4-1.2l1-1.4l0.4-1.6l0.6-1.5l1.4-1l1-1.3l0.8-1.4l1-1.2l1-1.3l0.6-1.7l0.6-2l0.9-1.6l1.4-1.1l1.7-0.6l1.2-1.4l0.7-2.9l1-2.5l1.8-1.1l2-0.3l1.8-1.2l1.8-1.7l1.9-1.7l2.2-1.1l2.2-0.8l2.3,0.1l2.1,1.1l1.9,2.2l1.7,2.6l1.3,2.7l1.3,2.1l1.4,1.4l1.5,1.1l1.4,0.9l1,1.7l0.8,1.9l1.2,1.1l1.4,0.8l1,1.2l1.2,1.1l1.5,0.8l1,1.3l1.1,1.1l1,1.3l-0.2,2.1l0.3,1.6l0.9,1.3l1.1,1.2l1,1.3l-0.7,1.9l0.1,1.5l1.2,1.4l0.8,1.5l0.3,1.6z" fill="#3bff00"/>
<path d="M507.8,398.5l0.1,1.6l-0.5,1.5l-0.2,1.6l-0.8,1.4l-0.9,1.4l0.4,1.7l-0.1,1.7l-1,1.3l-1.1,1.1l-1.8,0.8l-1.2,1l0.3,1.9l-0.5,1.6l-1.2,1l-0.9,1.3l-0.4,1.8l-0.8,1.6l-1,1.5l-1.1,1.3l-1.4,0.9l-1.3,1.2l-1.2,1.6l-1,2.3l-1,2.8l-1.6,1.7l-1.8,1.3l-1.9,1.8l-1.9,2.2l-2.1,2l-2.4,1l-2.4-0.4l-2.3-0.5l-2.2-1.3l-2-1.8l-2.1-1l-1.8-1.5l-1.5-2.1l-1.4-2.1l-1.1-2.2l-1-2.1l-0.8-2.2l-0.9-1.9l-1.1-1.4l-1-1.4l-0.8-1.6l-0.2-2l-0.8-1.4l-0.9-1.3l-0.6-1.6l-0.6-1.4l-0.9-1.3l-0.6-1.4l-0.8-1.3l-1.4-1.2l-0.9-1.4l-0.6-1.6l-1.2-1.5l-1.1-1.5l-0.7-1.7l0.1-1.8l1.2-1.7l1.2-1.6l0.8-1.5l0.6-1.5l0.6-1.5l0.4-1.6l1.4-1.1l0.8-1.3l0.2-1.7l0.7-1.3l1.4-1l1-1.1l0.9-1.2l1.1-1.1l1.1-1l0.5-1.7l0.3-2l0.9-1.6l1.2-1.1l1.4-0.9l1.1-1.5l0.7-2.7l1.1-2.2l1.6-1.2l1.8-0.6l1.7-1.3l1.7-1.9l1.9-1.7l2.1-1l2.2-0.4l2.2,0.2l2.1,1l1.8,2.1l1.6,2.3l1.4,2.6l1.2,2l1.4,1.2l1.5,0.8l1.5,1l0.8,1.9l0.6,2.1l1.1,1.1l1.7,0.4l1.1,1.1l1,1.2l1.5,0.8l0.8,1.3l0.9,1.3l1,1.2l-0.2,1.9l0.3,1.6l0.9,1.3l1,1.1l0.9,1.4l-0.7,1.8l0.1,1.5l1.2,1.2l0.8,1.5l0.4,1.5z" fill="#60ff00"/>
<path d="M506.6,398.5l0.2,1.5l-0.2,1.6l0,1.5l-0.9,1.4l-1.1,1.3l0.4,1.6l0.1,1.7l-1,1.2l-1.3,1.1l-1.7,0.7l-1.1,1l0.2,1.9l-0.5,1.5l-1,1.1l-0.6,1.5l-0.6,1.6l-1.1,1.1l-0.9,1.5l-0.9,1.6l-1.3,1l-1.3,1.1l-1.3,1.2l-1.1,1.9l-0.8,3.2l-1.4,2.1l-1.8,1.3l-1.8,1.5l-1.9,2.1l-2.1,1.7l-2.3,0.8l-2.3-0.2l-2.3-0.4l-2.1-1.3l-2-1.5l-2-0.8l-1.7-1.8l-1.4-2.4l-1.3-2.1l-1-2.2l-1.1-1.9l-0.9-1.8l-1.1-1.5l-1-1.5l-0.8-1.6l-0.4-1.9l0-2.1l-0.8-1.3l-1.2-1l-0.8-1.3l-0.8-1.3l-0.6-1.4l-0.4-1.4l-0.7-1.4l-1.2-1.1l-0.9-1.4l-0.5-1.5l-0.9-1.4l-1-1.5l-0.7-1.6l0.3-1.7l1-1.6l1-1.5l1-1.4l0.6-1.5l0.3-1.4l0.5-1.5l1.4-1l0.5-1.4l0-1.6l0.9-1.2l1.2-1l1.1-1l0.9-1l1.2-0.9l1.3-0.7l0.4-1.6l0.2-2.1l0.7-1.6l1-1.2l1.2-1.1l1-1.5l0.7-2.5l1.2-1.9l1.4-1.3l1.7-0.8l1.6-1.5l1.6-1.9l1.8-1.9l2.1-0.8l2.1-0.2l2.1,0.3l2,1.2l1.8,1.8l1.6,2l1.3,2.3l1.3,1.9l1.4,1.2l1.4,0.9l1.3,1.1l0.8,2l0.5,2l1.1,1.1l1.8,0.1l1,1.1l1,1.2l1.4,0.8l0.6,1.4l0.8,1.3l1.3,1l-0.1,1.8l0.3,1.5l0.8,1.2l0.9,1.3l0.8,1.3l-0.7,1.7l0.2,1.4l1.3,1.3l0.4,1.4l0.2,1.5z" fill="#85ff00"/>
<path d="M505.2,398.5l0.5,1.5l0.2,1.5l0.1,1.5l-1,1.3l-1.2,1.3l0.2,1.5l0.2,1.6l-0.9,1.3l-1.4,0.9l-1.6,0.8l-0.9,1l0,1.7l-0.6,1.4l-0.7,1.3l-0.4,1.6l-0.7,1.4l-1.3,0.8l-0.8,1.6l-0.7,1.7l-1.2,1.2l-1.2,1.1l-1.5,0.7l-1.2,1.5l-0.6,3.5l-1.3,2.5l-1.7,1.3l-1.9,1.2l-1.8,2l-2.1,1.3l-2.2,0.6l-2.2,0l-2.2-0.5l-2.1-1.2l-2-1.1l-2-0.6l-1.6-1.9l-1.2-2.7l-1.1-2.2l-1-2.2l-1-1.7l-1.2-1.4l-1.1-1.3l-0.9-1.5l-0.7-1.8l-0.2-2l0.2-2.2l-0.8-1.2l-1.4-0.8l-1-1l-0.9-1.2l-0.4-1.4l-0.3-1.5l-0.4-1.4l-0.8-1.2l-1-1.3l-0.5-1.4l-0.5-1.4l-1-1.4l-0.6-1.5l0.3-1.6l0.9-1.5l0.8-1.4l1.1-1.3l0.5-1.4l0.1-1.4l0.5-1.4l1.3-1l0.3-1.3l-0.1-1.6l1-1.1l1.1-1l1-0.9l1-1l1.2-0.7l1.3-0.6l0.5-1.4l0.1-2l0.6-1.6l0.7-1.6l1-1.3l1.1-1.2l0.8-2.1l1-1.8l1.4-1.5l1.5-1l1.6-1.5l1.5-1.9l1.8-1.8l2-0.8l2-0.2l2,0.5l1.9,1.3l1.8,1.7l1.6,1.6l1.3,2.1l1.3,1.8l1.2,1.3l1.3,1.1l1.2,1.3l0.8,1.7l0.5,1.9l1,1.1l1.8,0l1.1,1l1,1.1l1.2,0.9l0.4,1.6l0.9,1.1l1.5,0.8l0.3,1.5l0.2,1.5l0.8,1.2l0.7,1.3l0.5,1.3l-0.5,1.7l0.5,1.3l1.2,1.2l0,1.5l-0.2,1.5z" fill="#a7ff00"/>
<path d="M504,398.5l0.6,1.4l0.5,1.5l0.1,1.5l-0.9,1.3l-1.1,1.2l0,1.4l0.1,1.6l-0.7,1.3l-1.6,0.8l-1.3,0.8l-0.7,1.2l-0.3,1.4l-0.7,1.2l-0.5,1.4l-0.2,1.8l-0.8,1.3l-1.4,0.6l-0.7,1.6l-0.7,1.7l-1,1.4l-1.1,1.2l-1.7,0.3l-1.1,1.4l-0.6,3.5l-1.2,2.6l-1.7,1.1l-1.9,1l-1.8,1.8l-2,0.9l-2.1,0.5l-2.1,0.1l-2.1-0.4l-2-1l-2-0.8l-2-0.5l-1.6-1.8l-1.1-2.8l-1-2.3l-0.9-2.2l-1-1.6l-1.3-1.1l-1.1-1.2l-0.7-1.7l-0.5-1.9l-0.2-1.9l0.2-2.1l-0.6-1.3l-1.5-0.6l-1.3-0.8l-1-1.1l-0.2-1.5l0-1.5l-0.2-1.4l-0.5-1.3l-1.2-1.1l-0.5-1.3l-0.1-1.4l-0.7-1.3l-0.7-1.4l0.2-1.5l0.7-1.4l0.8-1.4l1.1-1.2l0.5-1.2l-0.1-1.4l0.6-1.2l1.1-1l0.1-1.4l-0.1-1.5l1-1l1.1-0.9l1-0.9l0.8-1l1-0.8l1.2-0.6l0.6-1.2l0.2-1.8l0.5-1.5l0.4-1.9l0.9-1.5l1.2-1l0.8-1.8l1-1.9l1.2-1.6l1.5-1l1.5-1.2l1.6-1.7l1.6-1.7l1.9-0.7l2-0.5l2,0.5l1.8,1.5l1.6,1.5l1.6,1.5l1.3,1.9l1.3,1.5l1.2,1.3l1.1,1.4l1.1,1.4l0.8,1.5l0.6,1.7l0.9,1.1l1.8,0l1.1,0.9l0.9,1.1l1.1,0.9l0.3,1.6l0.8,1.1l1.8,0.5l0.7,1.2l0.3,1.5l0.7,1.2l0.4,1.4l0.3,1.4l-0.4,1.6l0.9,1.2l1.1,1.2l-0.5,1.5l-0.5,1.4z" fill="#c9ff00"/>
<path d="M503.1,398.5l0.7,1.4l0.5,1.4l-0.1,1.4l-0.5,1.4l-1,1.1l-0.3,1.4l0.1,1.5l-0.6,1.3l-1.5,0.7l-1.2,0.9l-0.4,1.3l-0.7,1.2l-1,0.9l-0.3,1.5l-0.1,1.8l-0.8,1.3l-1.2,0.7l-0.7,1.5l-0.8,1.4l-0.9,1.6l-1,1.4l-1.6,0.3l-1.2,1.3l-0.6,3.3l-1.2,2.3l-1.7,0.8l-1.8,0.8l-1.8,1.6l-1.9,0.7l-2,0.3l-2,0.3l-2-0.4l-2-0.7l-1.9-0.6l-1.9-0.5l-1.6-1.5l-1.1-2.5l-0.9-2.5l-0.9-2.1l-1-1.5l-1.2-1.1l-1.2-1.1l-0.5-1.9l-0.3-1.8l-0.4-1.7l0-1.9l-0.3-1.4l-1.4-0.7l-1.2-0.7l-1.2-0.9l0-1.6l0.2-1.6l0.1-1.4l-0.4-1.2l-1.5-0.9l-0.6-1.2l0.4-1.5l-0.5-1.2l-0.8-1.3l0-1.4l0.6-1.3l0.8-1.3l1.2-1.1l0.5-1.2l0-1.3l0.6-1.1l0.9-1l0-1.3l-0.3-1.5l1-0.9l1.3-0.7l0.8-0.9l0.6-1.1l0.7-1l1-0.7l0.6-1.1l0.4-1.5l0.6-1.4l0.2-2.1l0.7-1.6l1.2-0.8l0.9-1.5l0.9-2.1l1-1.9l1.5-0.9l1.6-0.8l1.5-1.3l1.6-1.4l1.8-0.7l1.9-1l1.9,0.3l1.7,1.8l1.6,1.5l1.5,1.4l1.3,1.8l1.3,1.2l1.2,1.1l1,1.5l1,1.4l0.9,1.4l0.6,1.5l0.9,1.1l1.5,0.2l1.1,0.8l1,1l1,0.9l0.2,1.6l0.8,1.1l1.9,0.3l1.1,1l0.4,1.4l0.6,1.3l0,1.5l0,1.4l-0.1,1.5l1.1,1.1l1.1,1.2l-0.7,1.5l-0.7,1.4z" fill="#ebff00"/>
<path d="M501.8,398.5l0.8,1.3l0.3,1.4l-0.2,1.3l-0.2,1.3l-0.8,1.2l-0.5,1.2l0.1,1.4l-0.3,1.3l-1.5,0.8l-0.9,1l-0.3,1.3l-0.9,0.9l-1.3,0.7l-0.4,1.3l0,1.8l-0.6,1.3l-1,1l-0.8,1.3l-1,1.1l-0.7,1.5l-0.8,1.7l-1.5,0.5l-1.2,1.1l-0.7,2.8l-1.2,1.9l-1.7,0.6l-1.6,0.8l-1.7,1.7l-1.8,0.7l-1.9,0.2l-1.9,0.4l-2,0l-1.8-0.5l-1.9-0.6l-1.8-0.6l-1.6-1.2l-1.2-2.2l-0.9-2.3l-0.8-2.1l-1-1.5l-1.1-1.2l-1.2-1l-0.4-1.9l-0.2-1.9l-0.6-1.4l-0.2-1.6l-0.2-1.5l-1-0.9l-1.2-0.8l-1.3-0.7l0.2-1.6l0.5-1.7l0.2-1.4l-0.4-1.1l-1.8-0.8l-0.7-1.1l0.7-1.5l-0.1-1.2l-0.9-1.2l-0.3-1.3l0.6-1.3l0.8-1.2l1.3-1l0.7-1.1l0.1-1.1l0.6-1l0.7-1l-0.1-1.3l-0.4-1.5l1-0.8l1.4-0.5l0.7-0.9l0.4-1.2l0.5-1.1l0.8-0.8l0.5-1.2l0.5-1.3l0.6-1.3l0.2-2l0.6-1.6l1.2-0.8l0.9-1.4l0.7-2.2l0.9-2.1l1.4-1.1l1.7-0.4l1.5-0.9l1.6-1l1.7-0.7l1.8-1.4l1.8,0.1l1.7,1.8l1.5,1.6l1.4,1.7l1.2,1.8l1.3,0.7l1.4,0.8l0.9,1.6l0.9,1.4l0.8,1.4l0.7,1.4l0.9,1l1.2,0.5l1,0.8l0.9,1l1.2,0.7l0.1,1.6l0.6,1.2l2,0.1l1.3,0.9l0.4,1.3l0.5,1.2l-0.4,1.6l-0.2,1.5l0.3,1.2l1.3,1l0.8,1.3l-0.8,1.4l-0.8,1.3z" fill="#fff100"/>
<path d="M500,398.5l0.9,1.2l0.1,1.3l-0.4,1.2l0,1.2l-0.7,1.1l-0.6,1.1l0.2,1.3l-0.1,1.4l-1.1,0.8l-0.6,1l-0.4,1.3l-1,0.8l-1.4,0.4l-0.6,1.1l0,1.6l-0.4,1.4l-0.6,1.3l-0.9,1l-1.2,0.6l-0.7,1.3l-0.6,1.9l-1.2,0.8l-1.2,0.9l-0.9,2.1l-1.2,1.6l-1.4,0.7l-1.5,1.2l-1.5,1.9l-1.7,0.9l-1.8,0.3l-1.9,0.6l-1.8,0.3l-1.9-0.3l-1.7-0.7l-1.7-1l-1.6-1l-1.3-1.7l-0.9-2l-0.9-2l-0.9-1.6l-0.9-1.5l-1.2-0.8l-0.4-1.8l-0.2-2l-0.6-1.3l-0.6-1.3l-0.1-1.5l-0.6-1.2l-1.1-0.7l-1.3-0.7l0.3-1.6l0.7-1.7l0-1.3l-0.4-1.1l-1.7-0.7l-0.8-1.1l0.8-1.4l0.2-1.2l-0.8-1.2l-0.6-1.2l0.3-1.2l0.8-1.2l1.5-1l0.9-0.9l0.1-1.1l0.7-1l0.6-0.9l-0.1-1.2l-0.4-1.4l1-0.8l1.4-0.4l0.6-0.9l0.4-1.1l0.4-1l0.7-0.9l0.3-1.3l0.5-1.2l0.6-1.2l0.2-1.9l0.6-1.7l1-0.8l0.9-1.4l0.7-2.2l0.7-2.4l1.3-1.6l1.6-0.1l1.7-0.4l1.5-0.7l1.7-0.7l1.7-1.4l1.8-0.1l1.6,1.7l1.5,1.7l1.2,2l1.1,2l1.4,0.3l1.3,0.5l0.9,1.6l0.8,1.5l0.8,1.4l0.7,1.3l0.8,0.9l1,0.8l0.7,1.1l0.9,0.8l1.3,0.5l0.2,1.4l0.4,1.2l1.9,0.2l1.2,0.8l0.3,1.3l0.5,1.2l-0.6,1.6l-0.3,1.4l0.6,1l1.5,0.9l0.5,1.2l-1.1,1.4l-0.7,1.2z" fill="#ffd000"/>
<path d="M498.2,398.5l1.1,1.1l0,1.2l-0.7,1l0,1.2l-0.8,0.9l-0.6,1l0.4,1.3l0.1,1.3l-0.8,0.9l-0.3,1.1l-0.4,1.2l-1,0.7l-1.4,0.3l-0.7,0.8l-0.2,1.4l-0.2,1.5l-0.4,1.4l-1,0.8l-1.2,0.3l-0.7,1.2l-0.4,2l-1.1,0.8l-1.2,0.6l-0.9,1.6l-1.1,1.2l-1.3,1.1l-1.2,1.7l-1.4,2.2l-1.6,1.3l-1.7,0.2l-1.8,0.6l-1.8,0.7l-1.8-0.2l-1.7-0.9l-1.5-1.2l-1.5-1.1l-1.3-1.4l-1.1-1.7l-0.9-1.8l-0.7-1.8l-0.8-1.6l-1.3-0.7l-0.5-1.6l-0.1-2l-0.5-1.3l-0.8-1l-0.2-1.5l-0.3-1.3l-1.1-0.7l-1.4-0.6l0.6-1.7l0.8-1.7l-0.3-1.1l-0.4-1.1l-1.3-0.8l-0.8-1l0.7-1.4l0.4-1.2l-0.6-1l-0.7-1.2l0-1.2l0.7-1.1l1.6-0.9l1.1-0.9l0-1.1l0.5-0.9l0.7-0.9l0-1l-0.2-1.3l1-0.7l1.4-0.3l0.4-0.9l0.3-1.1l0.6-0.9l0.5-0.9l0.1-1.4l0.5-1.2l0.6-1.1l0.3-1.7l0.4-1.6l0.9-1.1l0.9-1.2l0.7-1.9l0.6-2.9l1-2.1l1.6-0.2l1.7,0l1.5-0.5l1.6-0.7l1.7-1.2l1.7,0l1.6,1.4l1.4,1.7l1.1,2.4l1,2.1l1.4,0.1l1.3,0.3l1,1.4l0.6,1.6l0.7,1.5l0.7,1.2l0.8,0.9l0.7,1l0.4,1.3l0.8,0.8l1.5,0.2l0.4,1.1l0.3,1.2l1.8,0.2l0.9,0.9l0.2,1.2l0.5,1.2l-0.7,1.5l-0.2,1.2l0.9,0.9l1.5,0.9l0.1,1.2l-1.2,1.3l-0.7,1.1z" fill="#ffb000"/>
<path d="M496.6,398.5l1.1,1.1l-0.1,1l-0.9,0.9l-0.3,1l-0.9,0.8l-0.4,0.9l0.6,1.3l0.1,1.1l-0.4,1l-0.2,1.1l-0.2,1.1l-0.9,0.8l-1.4,0.2l-0.7,0.8l-0.2,1.2l-0.3,1.3l-0.4,1.3l-0.9,0.5l-1.2,0.3l-0.6,1.2l-0.3,2l-1,0.7l-1.2,0.3l-0.9,1.1l-1.1,1.1l-1,1.5l-1,2.3l-1.2,2.3l-1.5,1.7l-1.7,0.3l-1.7,0.5l-1.8,0.9l-1.8-0.1l-1.6-1l-1.4-1.4l-1.4-1.3l-1.2-1.4l-1.2-1.3l-0.9-1.6l-0.6-2l-0.6-1.7l-1.4-0.4l-0.6-1.4l0-2l-0.4-1.4l-0.8-1l-0.3-1.3l-0.2-1.3l-1.1-0.6l-1.3-0.7l0.7-1.7l0.7-1.6l-0.4-1l-0.4-1l-0.9-0.9l-0.6-1l0.4-1.2l0.5-1.2l-0.3-1l-0.6-1.1l-0.4-1.1l0.5-1.1l1.7-0.9l1.2-0.8l-0.1-1l0.3-1l0.6-0.8l0.4-0.9l0.1-1l1-0.6l1.3-0.3l0.3-0.9l0.1-1.1l0.7-0.7l0.4-0.9l-0.1-1.5l0.5-1.1l0.5-1.1l0.3-1.5l0.3-1.8l0.7-1.2l1-0.9l0.7-1.8l0.4-3.1l0.8-2.7l1.6-0.2l1.7,0.1l1.5-0.5l1.6-0.7l1.6-0.7l1.7,0.2l1.5,1.1l1.4,1.6l1,2.6l0.9,2.2l1.3,0.1l1.3,0.3l0.9,1.2l0.6,1.6l0.6,1.5l0.7,1.1l0.7,1l0.5,1.1l0.2,1.5l0.7,0.7l1.6-0.1l0.6,1l0.3,1.1l1.5,0.3l0.8,0.9l0.1,1.2l0.4,1l-0.4,1.4l0,1.1l0.8,0.8l1.3,0.8l-0.2,1.2l-1.1,1.2l-0.7,1.1z" fill="#ff9100"/>
<path d="M493.3,398.5l1.1,0.9l-0.2,0.9l-1.2,0.7l-0.8,0.6l-0.9,0.6l0,0.8l0.7,1.1l0.1,0.9l-0.3,0.8l0,1l-0.1,0.9l-0.6,0.7l-1.3,0.1l-0.5,0.6l-0.2,1l-0.4,0.8l-0.4,1l-0.7,0.5l-0.9,0.2l-0.3,1.3l-0.1,1.9l-0.9,0.5l-1.1-0.1l-0.8,0.7l-0.9,0.6l-0.7,1.6l-0.8,2.2l-1,2l-1.2,1.6l-1.4,0.2l-1.4,0.3l-1.5,0.8l-1.5-0.1l-1.3-0.9l-1.1-1.4l-0.9-1.5l-0.9-1.3l-1.1-0.7l-0.9-1l-0.3-2l-0.5-1.3l-1.4,0.1l-0.6-1l0.2-2l-0.2-1.2l-0.6-0.8l-0.2-1.1l-0.2-1l-1.2-0.4l-1.2-0.4l0.9-1.6l0.7-1.3l-0.5-0.8l-0.6-0.7l-0.5-0.8l-0.4-0.8l-0.1-1l0.5-0.9l0.4-0.9l-0.4-0.9l-0.6-0.9l0-0.9l1.5-0.7l1.3-0.6l0.1-0.8l-0.1-0.8l0.3-0.8l0.5-0.7l0.5-0.6l1.1-0.2l1-0.3l-0.1-0.9l-0.1-1.1l0.5-0.5l0.2-0.9l-0.2-1.4l0.5-0.7l0.5-0.9l0.2-1.3l0.1-1.6l0.6-1l1-0.3l0.6-1.3l0.2-2.8l0.6-2.5l1.3-0.3l1.4,0.2l1.3-0.5l1.3-0.5l1.3-0.2l1.3,0.3l1.3,0.5l1.2,1.2l0.7,2.5l0.7,1.9l1.2-0.2l1,0.3l0.7,1l0.5,1.4l0.4,1.3l0.5,0.9l0.5,1l0.4,0.9l0.1,1.2l0.8,0.3l1.5-0.3l0.5,0.8l0.1,1l1.2,0.3l0.7,0.7l0.3,0.9l0.2,0.9l-0.2,1l0.2,0.9l0.5,0.7l0.9,0.7l-0.2,1l-0.7,1l-0.5,0.9z" fill="#ff7200"/>
<path d="M489.3,398.5l0.9,0.7l-0.3,0.6l-1.4,0.4l-1.4,0.3l-0.7,0.4l0.4,0.6l1,1l0,0.6l-0.3,0.5l-0.1,0.6l0.1,0.8l-0.1,0.7l-1.2-0.1l-0.3,0.5l-0.1,0.7l-0.6,0.2l-0.4,0.6l-0.4,0.4l-0.5,0.3l0.1,1.4l0.1,1.7l-0.8,0.1l-0.9-0.3l-0.6,0.5l-0.7,0.1l-0.5,1.3l-0.5,1.6l-0.8,1.2l-0.8,1.4l-1,0.2l-1,0.5l-1.1,0.5l-1-0.3l-1-0.5l-0.7-1.4l-0.5-1.6l-0.5-1.1l-1,0.1l-0.6-0.6l-0.1-1.6l-0.4-0.8l-1.4,0.6l-0.5-0.7l0.5-1.7l0-1.1l-0.4-0.6l0.1-0.9l-0.2-0.7l-1.2,0.1l-0.9-0.3l1.1-1.4l0.7-1l-0.6-0.4l-0.9-0.3l-0.5-0.6l-0.4-0.5l-0.3-0.7l0.5-0.7l1.1-0.7l-0.1-0.6l-0.7-0.6l-0.5-0.7l1.2-0.5l1.5-0.3l0.6-0.4l-0.4-0.6l-0.5-0.8l0.3-0.5l1.1,0l1.4,0.2l0.4-0.3l-0.6-0.9l-0.4-1l0.3-0.5l-0.2-0.9l-0.2-1.1l0.6-0.3l0.3-0.6l0-1.1l0.1-1.2l0.6-0.5l0.9,0.3l0.4-0.9l0.1-2.1l0.4-1.9l0.9-0.3l1,0.2l0.8-0.5l1-0.3l0.9,0.5l0.9,0.2l0.9-0.1l0.9,0.7l0.5,1.9l0.5,1.3l0.9-0.5l0.7,0.3l0.4,1l0.2,1.1l0.3,1l0.2,0.9l0.1,0.8l0.4,0.5l0.3,0.5l1-0.2l1.4-0.4l0,0.8l-0.2,1l0.7,0.2l1,0.2l0.5,0.5l0,0.7l-0.2,0.8l0.4,0.6l0,0.6l0.5,0.6l-0.3,0.7l-0.2,0.7l-0.2,0.6z" fill="#ff5400"/>
<path d="M483.1,398.5l0.9,0.3l-0.2,0.4l-1.6,0l-2-0.1l-0.5,0l0.8,0.4l1.4,0.7l0,0.3l-0.4,0l-0.3,0.1l0.5,0.6l0.3,0.6l-0.9-0.4l-0.1,0.2l-0.1,0.3l-0.7-0.4l-0.1,0.2l0,0.3l-0.2,0.3l0.6,1.5l0.3,1.2l-0.6-0.5l-0.6-0.4l-0.2,0.2l-0.5-0.5l-0.1,0.8l-0.2,0.7l-0.4-0.1l-0.3,0.8l-0.4,0.5l-0.5,1.1l-0.5,0l-0.4-0.3l-0.4-0.3l-0.1-1.4l0.1-1.4l-0.2-0.5l-0.8,1l-0.3,0l0.2-1.1l-0.5,0.1l-1.2,1.1l-0.1-0.5l0.8-1.5l0.3-0.7l-0.1-0.3l0.5-0.7l-0.3-0.1l-1,0.4l-0.4,0l1.2-1l0.9-0.6l-0.6,0l-1.5,0.3l-1,0l-0.2-0.3l-0.4-0.3l0.6-0.4l1.8-0.4l0.1-0.2l-0.7-0.2l-0.9-0.4l0.8-0.2l1.8,0.2l1.3,0.2l-0.7-0.4l-1.5-0.7l-0.1-0.3l1.7,0.6l1.7,0.8l-0.2-0.1l-1.3-1l-0.8-0.8l0-0.4l-0.8-1l-0.1-0.5l0.6,0.2l0-0.4l-0.2-0.8l0.1-0.5l0.6,0.4l0.7,0.8l0.1-0.3l0-1.2l0.1-0.9l0.3-0.1l0.4,0.1l0.4-0.2l0.3,0.2l0.4,1l0.3,0l0.4-0.8l0.3,0.2l0.2,0.8l0.3,0.1l0.7-1.1l0.2,0.4l-0.2,1.3l-0.1,0.8l0,0.6l-0.2,0.6l-0.1,0.6l0.3-0.2l0.7-0.5l1.2-0.9l1.2-0.7l-0.6,1l-1,1.1l0.3,0.1l1.2-0.5l0.8,0l-0.4,0.5l-0.5,0.6l0.4,0.1l-0.1,0.4l0.1,0.3l-0.4,0.3l0.1,0.3l0,0.2z" fill="#ff3600"/>
<path d="M481.5,398.5l0.9,0.3l-0.1,0.2l-1.7,0l-2.7-0.4l-0.1,0l0.9,0.3l1.9,0.8l0,0.2l-0.8-0.2l-0.6-0.2l0.8,0.6l0.7,0.7l-0.8-0.4l-0.1,0.2l-0.2,0l-0.9-0.8l-0.1,0.1l0.2,0.3l0.1,0.4l0.9,1.9l0.2,0.9l-0.7-0.9l-0.4-0.3l-0.1,0.3l-0.4-0.6l0,0.8l-0.2,0.3l-0.3-1.1l-0.2,0.4l-0.2,1.1l-0.4,2.2l-0.3-0.3l-0.3-0.5l-0.3-0.2l0.1-1.7l0.2-1.4l-0.1-0.1l-0.9,1.6l-0.2-0.1l0.2-0.9l-0.6,0.5l-1.2,1.3l0.2-0.9l1.2-1.7l0.3-0.6l0-0.2l0.7-0.8l-0.4,0.2l-0.8,0.4l0-0.2l1.4-0.9l0.8-0.4l-0.6,0.2l-2.1,0.6l-1.8,0.3l-0.3-0.2l-0.3-0.2l0.9-0.4l2.3-0.4l0-0.1l-0.5-0.1l-1.1-0.3l0.6-0.1l2.2,0.3l0.8,0.1l0,0l-1.7-0.7l-0.4-0.3l2.1,1l0,0l0-0.1l0,0l-1.1-0.9l-0.2-0.3l-1-1.2l0-0.3l0.5,0.4l-0.2-0.6l-0.3-0.9l0.4,0.1l0.7,0.9l0.5,0.7l0-0.4l-0.1-0.6l0.2-0.2l0.1-0.4l0.1-0.2l0.3-0.2l0.2,0.7l0.2,1.5l0.1-0.2l0.3-1.1l0.1,0l0.2,0l0.4-0.9l0.8-1.5l0,0.8l-0.6,2.1l-0.3,1l-0.2,0.5l-0.4,0.7l-0.2,0.4l0.6-0.7l1.1-1.2l1.7-1.4l1.2-0.8l-1,1.4l-1.8,1.6l0.1,0l1.6-0.7l1-0.3l-0.7,0.6l-1.2,0.7l0.5,0l0.1,0.2l0,0.2l-0.6,0.3l0.3,0.1l0.1,0.1z" fill="#ff1900"/>
</g>
</g>
<defs><filter id="mt" x="-50%" y="-50%" width="200%" height="200%"><feGaussianBlur stdDeviation="1.6"/></filter></defs>
<g filter="url(#mt)">
<ellipse cx="473.7" cy="386.7" rx="4.5" ry="6.0" fill="#ff1000" fill-opacity="0.75"/>
<ellipse cx="477.7" cy="405.5" rx="6.0" ry="4.5" fill="#ff0800" fill-opacity="0.80"/>
<ellipse cx="470.6" cy="379.5" rx="3.5" ry="4.0" fill="#ff2000" fill-opacity="0.60"/>
<ellipse cx="485.8" cy="391.0" rx="4.0" ry="4.0" fill="#ff3000" fill-opacity="0.55"/>
<ellipse cx="464.0" cy="403.0" rx="4.0" ry="3.5" fill="#ff3000" fill-opacity="0.55"/>
<ellipse cx="480.5" cy="398.0" rx="4.0" ry="4.0" fill="#ff0000" fill-opacity="0.70"/>
<ellipse cx="471.0" cy="395.0" rx="3.5" ry="3.5" fill="#ff2800" fill-opacity="0.50"/>
<ellipse cx="469.6" cy="425.0" rx="3.5" ry="3.0" fill="#ffb800" fill-opacity="0.55"/>
<ellipse cx="495.5" cy="391.0" rx="3.0" ry="4.0" fill="#ffa000" fill-opacity="0.45"/>
<ellipse cx="481.8" cy="369.5" rx="3.0" ry="3.0" fill="#ffa800" fill-opacity="0.50"/>
<ellipse cx="488.0" cy="407.0" rx="3.5" ry="3.0" fill="#ff9000" fill-opacity="0.40"/>
<ellipse cx="462.0" cy="390.0" rx="2.5" ry="3.0" fill="#ffa000" fill-opacity="0.40"/>
</g>
<ellipse cx="462.4" cy="87.4" rx="3.7" ry="4.4" fill="#000"/>
<rect x="454.1" y="90.1" width="2.7" height="2.7" fill="#f00"/>
<path d="M73.50,148.50H324.50" stroke="#000" stroke-opacity="0.55" stroke-width="1" fill="none" stroke-dasharray="8.8 8.85"/>
<path d="M199.00,273.50V23.50" stroke="#000" stroke-opacity="0.55" stroke-width="1" fill="none" stroke-dasharray="8.8 8.85"/>
<path d="M274.15,148.50A75.15,75.15 0 1 0 123.85,148.50A75.15,75.15 0 1 0 274.15,148.50" stroke="#000" stroke-opacity="0.6" stroke-width="1.2" fill="none" stroke-dasharray="8.8 8.85"/>
<path d="M73.50,399.30H324.50" stroke="#000" stroke-opacity="0.55" stroke-width="1" fill="none" stroke-dasharray="8.8 8.85"/>
<path d="M199.00,524.40V274.20" stroke="#000" stroke-opacity="0.55" stroke-width="1" fill="none" stroke-dasharray="8.8 8.85"/>
<path d="M274.18,399.30A75.18,75.18 0 1 0 123.82,399.30A75.18,75.18 0 1 0 274.18,399.30" stroke="#000" stroke-opacity="0.6" stroke-width="1.2" fill="none" stroke-dasharray="8.8 8.85"/>
<path d="M352.40,148.50H602.60" stroke="#000" stroke-opacity="0.55" stroke-width="1" fill="none" stroke-dasharray="8.8 8.85"/>
<path d="M477.50,273.50V23.50" stroke="#000" stroke-opacity="0.55" stroke-width="1" fill="none" stroke-dasharray="8.8 8.85"/>
<path d="M560.87,148.50A83.37,83.37 0 1 0 394.13,148.50A83.37,83.37 0 1 0 560.87,148.50" stroke="#000" stroke-opacity="0.6" stroke-width="1.2" fill="none" stroke-dasharray="8.8 8.85"/>
<path d="M352.40,399.30H602.60" stroke="#000" stroke-opacity="0.55" stroke-width="1" fill="none" stroke-dasharray="8.8 8.85"/>
<path d="M477.50,524.40V274.20" stroke="#000" stroke-opacity="0.55" stroke-width="1" fill="none" stroke-dasharray="8.8 8.85"/>
<path d="M560.90,399.30A83.40,83.40 0 1 0 394.10,399.30A83.40,83.40 0 1 0 560.90,399.30" stroke="#000" stroke-opacity="0.6" stroke-width="1.2" fill="none" stroke-dasharray="8.8 8.85"/>
<g stroke="#f00" stroke-width="2" fill="none" stroke-linecap="butt" stroke-linejoin="miter">
<path d="M199.0,148.5L323.6,149.4"/>
<path d="M305.6,138.7L323.6,149.4L305.6,160.1" stroke-linejoin="round"/>
</g>
<g stroke="#f00" stroke-width="2" fill="none" stroke-linecap="butt" stroke-linejoin="miter">
<path d="M199.0,399.3L323.6,400.2"/>
<path d="M305.6,389.5L323.6,400.2L305.6,410.9" stroke-linejoin="round"/>
</g>
<path d="M73.50,23.50H324.50V273.50H73.50Z" stroke="#000" stroke-opacity="0.56" stroke-width="1" fill="none"/>
<path d="M98.60,23.50v5.00M98.60,273.50v-5.00M73.50,248.50h5.00M324.50,248.50h-5.00M132.07,23.50v5.00M132.07,273.50v-5.00M73.50,215.17h5.00M324.50,215.17h-5.00M165.53,23.50v5.00M165.53,273.50v-5.00M73.50,181.83h5.00M324.50,181.83h-5.00M199.00,23.50v5.00M199.00,273.50v-5.00M73.50,148.50h5.00M324.50,148.50h-5.00M232.47,23.50v5.00M232.47,273.50v-5.00M73.50,115.17h5.00M324.50,115.17h-5.00M265.93,23.50v5.00M265.93,273.50v-5.00M73.50,81.83h5.00M324.50,81.83h-5.00M299.40,23.50v5.00M299.40,273.50v-5.00M73.50,48.50h5.00M324.50,48.50h-5.00" stroke="#000" stroke-opacity="0.55" stroke-width="1" fill="none"/>
<path d="M81.87,23.50v2.60M81.87,273.50v-2.60M73.50,265.17h2.60M324.50,265.17h-2.60M90.23,23.50v2.60M90.23,273.50v-2.60M73.50,256.83h2.60M324.50,256.83h-2.60M106.97,23.50v2.60M106.97,273.50v-2.60M73.50,240.17h2.60M324.50,240.17h-2.60M115.33,23.50v2.60M115.33,273.50v-2.60M73.50,231.83h2.60M324.50,231.83h-2.60M123.70,23.50v2.60M123.70,273.50v-2.60M73.50,223.50h2.60M324.50,223.50h-2.60M140.43,23.50v2.60M140.43,273.50v-2.60M73.50,206.83h2.60M324.50,206.83h-2.60M148.80,23.50v2.60M148.80,273.50v-2.60M73.50,198.50h2.60M324.50,198.50h-2.60M157.17,23.50v2.60M157.17,273.50v-2.60M73.50,190.17h2.60M324.50,190.17h-2.60M173.90,23.50v2.60M173.90,273.50v-2.60M73.50,173.50h2.60M324.50,173.50h-2.60M182.27,23.50v2.60M182.27,273.50v-2.60M73.50,165.17h2.60M324.50,165.17h-2.60M190.63,23.50v2.60M190.63,273.50v-2.60M73.50,156.83h2.60M324.50,156.83h-2.60M207.37,23.50v2.60M207.37,273.50v-2.60M73.50,140.17h2.60M324.50,140.17h-2.60M215.73,23.50v2.60M215.73,273.50v-2.60M73.50,131.83h2.60M324.50,131.83h-2.60M224.10,23.50v2.60M224.10,273.50v-2.60M73.50,123.50h2.60M324.50,123.50h-2.60M240.83,23.50v2.60M240.83,273.50v-2.60M73.50,106.83h2.60M324.50,106.83h-2.60M249.20,23.50v2.60M249.20,273.50v-2.60M73.50,98.50h2.60M324.50,98.50h-2.60M257.57,23.50v2.60M257.57,273.50v-2.60M73.50,90.17h2.60M324.50,90.17h-2.60M274.30,23.50v2.60M274.30,273.50v-2.60M73.50,73.50h2.60M324.50,73.50h-2.60M282.67,23.50v2.60M282.67,273.50v-2.60M73.50,65.17h2.60M324.50,65.17h-2.60M291.03,23.50v2.60M291.03,273.50v-2.60M73.50,56.83h2.60M324.50,56.83h-2.60M307.77,23.50v2.60M307.77,273.50v-2.60M73.50,40.17h2.60M324.50,40.17h-2.60M316.13,23.50v2.60M316.13,273.50v-2.60M73.50,31.83h2.60M324.50,31.83h-2.60" stroke="#000" stroke-opacity="0.48" stroke-width="1" fill="none"/>
<path d="M73.50,274.20H324.50V524.40H73.50Z" stroke="#000" stroke-opacity="0.56" stroke-width="1" fill="none"/>
<path d="M98.60,274.20v5.00M98.60,524.40v-5.00M73.50,499.38h5.00M324.50,499.38h-5.00M132.07,274.20v5.00M132.07,524.40v-5.00M73.50,466.02h5.00M324.50,466.02h-5.00M165.53,274.20v5.00M165.53,524.40v-5.00M73.50,432.66h5.00M324.50,432.66h-5.00M199.00,274.20v5.00M199.00,524.40v-5.00M73.50,399.30h5.00M324.50,399.30h-5.00M232.47,274.20v5.00M232.47,524.40v-5.00M73.50,365.94h5.00M324.50,365.94h-5.00M265.93,274.20v5.00M265.93,524.40v-5.00M73.50,332.58h5.00M324.50,332.58h-5.00M299.40,274.20v5.00M299.40,524.40v-5.00M73.50,299.22h5.00M324.50,299.22h-5.00" stroke="#000" stroke-opacity="0.55" stroke-width="1" fill="none"/>
<path d="M81.87,274.20v2.60M81.87,524.40v-2.60M73.50,516.06h2.60M324.50,516.06h-2.60M90.23,274.20v2.60M90.23,524.40v-2.60M73.50,507.72h2.60M324.50,507.72h-2.60M106.97,274.20v2.60M106.97,524.40v-2.60M73.50,491.04h2.60M324.50,491.04h-2.60M115.33,274.20v2.60M115.33,524.40v-2.60M73.50,482.70h2.60M324.50,482.70h-2.60M123.70,274.20v2.60M123.70,524.40v-2.60M73.50,474.36h2.60M324.50,474.36h-2.60M140.43,274.20v2.60M140.43,524.40v-2.60M73.50,457.68h2.60M324.50,457.68h-2.60M148.80,274.20v2.60M148.80,524.40v-2.60M73.50,449.34h2.60M324.50,449.34h-2.60M157.17,274.20v2.60M157.17,524.40v-2.60M73.50,441.00h2.60M324.50,441.00h-2.60M173.90,274.20v2.60M173.90,524.40v-2.60M73.50,424.32h2.60M324.50,424.32h-2.60M182.27,274.20v2.60M182.27,524.40v-2.60M73.50,415.98h2.60M324.50,415.98h-2.60M190.63,274.20v2.60M190.63,524.40v-2.60M73.50,407.64h2.60M324.50,407.64h-2.60M207.37,274.20v2.60M207.37,524.40v-2.60M73.50,390.96h2.60M324.50,390.96h-2.60M215.73,274.20v2.60M215.73,524.40v-2.60M73.50,382.62h2.60M324.50,382.62h-2.60M224.10,274.20v2.60M224.10,524.40v-2.60M73.50,374.28h2.60M324.50,374.28h-2.60M240.83,274.20v2.60M240.83,524.40v-2.60M73.50,357.60h2.60M324.50,357.60h-2.60M249.20,274.20v2.60M249.20,524.40v-2.60M73.50,349.26h2.60M324.50,349.26h-2.60M257.57,274.20v2.60M257.57,524.40v-2.60M73.50,340.92h2.60M324.50,340.92h-2.60M274.30,274.20v2.60M274.30,524.40v-2.60M73.50,324.24h2.60M324.50,324.24h-2.60M282.67,274.20v2.60M282.67,524.40v-2.60M73.50,315.90h2.60M324.50,315.90h-2.60M291.03,274.20v2.60M291.03,524.40v-2.60M73.50,307.56h2.60M324.50,307.56h-2.60M307.77,274.20v2.60M307.77,524.40v-2.60M73.50,290.88h2.60M324.50,290.88h-2.60M316.13,274.20v2.60M316.13,524.40v-2.60M73.50,282.54h2.60M324.50,282.54h-2.60" stroke="#000" stroke-opacity="0.48" stroke-width="1" fill="none"/>
<path d="M352.40,23.50H602.60V273.50H352.40Z" stroke="#000" stroke-opacity="0.56" stroke-width="1" fill="none"/>
<path d="M377.42,23.50v5.00M377.42,273.50v-5.00M352.40,248.50h5.00M602.60,248.50h-5.00M410.78,23.50v5.00M410.78,273.50v-5.00M352.40,215.17h5.00M602.60,215.17h-5.00M444.14,23.50v5.00M444.14,273.50v-5.00M352.40,181.83h5.00M602.60,181.83h-5.00M477.50,23.50v5.00M477.50,273.50v-5.00M352.40,148.50h5.00M602.60,148.50h-5.00M510.86,23.50v5.00M510.86,273.50v-5.00M352.40,115.17h5.00M602.60,115.17h-5.00M544.22,23.50v5.00M544.22,273.50v-5.00M352.40,81.83h5.00M602.60,81.83h-5.00M577.58,23.50v5.00M577.58,273.50v-5.00M352.40,48.50h5.00M602.60,48.50h-5.00" stroke="#000" stroke-opacity="0.55" stroke-width="1" fill="none"/>
<path d="M360.74,23.50v2.60M360.74,273.50v-2.60M352.40,265.17h2.60M602.60,265.17h-2.60M369.08,23.50v2.60M369.08,273.50v-2.60M352.40,256.83h2.60M602.60,256.83h-2.60M385.76,23.50v2.60M385.76,273.50v-2.60M352.40,240.17h2.60M602.60,240.17h-2.60M394.10,23.50v2.60M394.10,273.50v-2.60M352.40,231.83h2.60M602.60,231.83h-2.60M402.44,23.50v2.60M402.44,273.50v-2.60M352.40,223.50h2.60M602.60,223.50h-2.60M419.12,23.50v2.60M419.12,273.50v-2.60M352.40,206.83h2.60M602.60,206.83h-2.60M427.46,23.50v2.60M427.46,273.50v-2.60M352.40,198.50h2.60M602.60,198.50h-2.60M435.80,23.50v2.60M435.80,273.50v-2.60M352.40,190.17h2.60M602.60,190.17h-2.60M452.48,23.50v2.60M452.48,273.50v-2.60M352.40,173.50h2.60M602.60,173.50h-2.60M460.82,23.50v2.60M460.82,273.50v-2.60M352.40,165.17h2.60M602.60,165.17h-2.60M469.16,23.50v2.60M469.16,273.50v-2.60M352.40,156.83h2.60M602.60,156.83h-2.60M485.84,23.50v2.60M485.84,273.50v-2.60M352.40,140.17h2.60M602.60,140.17h-2.60M494.18,23.50v2.60M494.18,273.50v-2.60M352.40,131.83h2.60M602.60,131.83h-2.60M502.52,23.50v2.60M502.52,273.50v-2.60M352.40,123.50h2.60M602.60,123.50h-2.60M519.20,23.50v2.60M519.20,273.50v-2.60M352.40,106.83h2.60M602.60,106.83h-2.60M527.54,23.50v2.60M527.54,273.50v-2.60M352.40,98.50h2.60M602.60,98.50h-2.60M535.88,23.50v2.60M535.88,273.50v-2.60M352.40,90.17h2.60M602.60,90.17h-2.60M552.56,23.50v2.60M552.56,273.50v-2.60M352.40,73.50h2.60M602.60,73.50h-2.60M560.90,23.50v2.60M560.90,273.50v-2.60M352.40,65.17h2.60M602.60,65.17h-2.60M569.24,23.50v2.60M569.24,273.50v-2.60M352.40,56.83h2.60M602.60,56.83h-2.60M585.92,23.50v2.60M585.92,273.50v-2.60M352.40,40.17h2.60M602.60,40.17h-2.60M594.26,23.50v2.60M594.26,273.50v-2.60M352.40,31.83h2.60M602.60,31.83h-2.60" stroke="#000" stroke-opacity="0.48" stroke-width="1" fill="none"/>
<path d="M352.40,274.20H602.60V524.40H352.40Z" stroke="#000" stroke-opacity="0.56" stroke-width="1" fill="none"/>
<path d="M377.42,274.20v5.00M377.42,524.40v-5.00M352.40,499.38h5.00M602.60,499.38h-5.00M410.78,274.20v5.00M410.78,524.40v-5.00M352.40,466.02h5.00M602.60,466.02h-5.00M444.14,274.20v5.00M444.14,524.40v-5.00M352.40,432.66h5.00M602.60,432.66h-5.00M477.50,274.20v5.00M477.50,524.40v-5.00M352.40,399.30h5.00M602.60,399.30h-5.00M510.86,274.20v5.00M510.86,524.40v-5.00M352.40,365.94h5.00M602.60,365.94h-5.00M544.22,274.20v5.00M544.22,524.40v-5.00M352.40,332.58h5.00M602.60,332.58h-5.00M577.58,274.20v5.00M577.58,524.40v-5.00M352.40,299.22h5.00M602.60,299.22h-5.00" stroke="#000" stroke-opacity="0.55" stroke-width="1" fill="none"/>
<path d="M360.74,274.20v2.60M360.74,524.40v-2.60M352.40,516.06h2.60M602.60,516.06h-2.60M369.08,274.20v2.60M369.08,524.40v-2.60M352.40,507.72h2.60M602.60,507.72h-2.60M385.76,274.20v2.60M385.76,524.40v-2.60M352.40,491.04h2.60M602.60,491.04h-2.60M394.10,274.20v2.60M394.10,524.40v-2.60M352.40,482.70h2.60M602.60,482.70h-2.60M402.44,274.20v2.60M402.44,524.40v-2.60M352.40,474.36h2.60M602.60,474.36h-2.60M419.12,274.20v2.60M419.12,524.40v-2.60M352.40,457.68h2.60M602.60,457.68h-2.60M427.46,274.20v2.60M427.46,524.40v-2.60M352.40,449.34h2.60M602.60,449.34h-2.60M435.80,274.20v2.60M435.80,524.40v-2.60M352.40,441.00h2.60M602.60,441.00h-2.60M452.48,274.20v2.60M452.48,524.40v-2.60M352.40,424.32h2.60M602.60,424.32h-2.60M460.82,274.20v2.60M460.82,524.40v-2.60M352.40,415.98h2.60M602.60,415.98h-2.60M469.16,274.20v2.60M469.16,524.40v-2.60M352.40,407.64h2.60M602.60,407.64h-2.60M485.84,274.20v2.60M485.84,524.40v-2.60M352.40,390.96h2.60M602.60,390.96h-2.60M494.18,274.20v2.60M494.18,524.40v-2.60M352.40,382.62h2.60M602.60,382.62h-2.60M502.52,274.20v2.60M502.52,524.40v-2.60M352.40,374.28h2.60M602.60,374.28h-2.60M519.20,274.20v2.60M519.20,524.40v-2.60M352.40,357.60h2.60M602.60,357.60h-2.60M527.54,274.20v2.60M527.54,524.40v-2.60M352.40,349.26h2.60M602.60,349.26h-2.60M535.88,274.20v2.60M535.88,524.40v-2.60M352.40,340.92h2.60M602.60,340.92h-2.60M552.56,274.20v2.60M552.56,524.40v-2.60M352.40,324.24h2.60M602.60,324.24h-2.60M560.90,274.20v2.60M560.90,524.40v-2.60M352.40,315.90h2.60M602.60,315.90h-2.60M569.24,274.20v2.60M569.24,524.40v-2.60M352.40,307.56h2.60M602.60,307.56h-2.60M585.92,274.20v2.60M585.92,524.40v-2.60M352.40,290.88h2.60M602.60,290.88h-2.60M594.26,274.20v2.60M594.26,524.40v-2.60M352.40,282.54h2.60M602.60,282.54h-2.60" stroke="#000" stroke-opacity="0.48" stroke-width="1" fill="none"/>
<g font-family="'Liberation Sans',Arial,Helvetica,sans-serif" font-size="20.7" fill="#000" stroke="#000" stroke-width="0.3">
<text x="74.1" y="15.0">(a) x:[0.0,0.4], z:[0.6,1.0]</text>
<text x="353.3" y="15.0">(b) x:[0.0,0.4], z:[-0.2,0.2]</text>
<text x="66.6" y="258.2" text-anchor="end">-60</text>
<text x="66.6" y="224.9" text-anchor="end">-40</text>
<text x="66.6" y="191.5" text-anchor="end">-20</text>
<text x="66.6" y="158.2" text-anchor="end">0</text>
<text x="66.6" y="124.9" text-anchor="end">20</text>
<text x="66.6" y="91.5" text-anchor="end">40</text>
<text x="66.6" y="58.2" text-anchor="end">60</text>
<text x="66.6" y="509.1" text-anchor="end">-60</text>
<text x="66.6" y="475.7" text-anchor="end">-40</text>
<text x="66.6" y="442.4" text-anchor="end">-20</text>
<text x="66.6" y="409.0" text-anchor="end">0</text>
<text x="66.6" y="375.6" text-anchor="end">20</text>
<text x="66.6" y="342.3" text-anchor="end">40</text>
<text x="66.6" y="308.9" text-anchor="end">60</text>
<text x="98.6" y="555.9" text-anchor="middle">-60</text>
<text x="132.1" y="555.9" text-anchor="middle">-40</text>
<text x="165.5" y="555.9" text-anchor="middle">-20</text>
<text x="199.0" y="555.9" text-anchor="middle">0</text>
<text x="232.5" y="555.9" text-anchor="middle">20</text>
<text x="265.9" y="555.9" text-anchor="middle">40</text>
<text x="299.4" y="555.9" text-anchor="middle">60</text>
<text x="377.4" y="555.9" text-anchor="middle">-60</text>
<text x="410.8" y="555.9" text-anchor="middle">-40</text>
<text x="444.1" y="555.9" text-anchor="middle">-20</text>
<text x="477.5" y="555.9" text-anchor="middle">0</text>
<text x="510.9" y="555.9" text-anchor="middle">20</text>
<text x="544.2" y="555.9" text-anchor="middle">40</text>
<text x="577.6" y="555.9" text-anchor="middle">60</text>
<text x="199.5" y="586.4" text-anchor="middle">v<tspan dy="6.2" font-size="12.8">x</tspan><tspan dy="-6.2">/v</tspan><tspan dy="6.2" font-size="12.8">A</tspan></text>
<text x="478.0" y="586.4" text-anchor="middle">v<tspan dy="6.2" font-size="12.8">x</tspan><tspan dy="-6.2">/v</tspan><tspan dy="6.2" font-size="12.8">A</tspan></text>
<text transform="translate(14.9,148.5) rotate(-90)" text-anchor="middle">v<tspan dy="6.2" font-size="12.8">y</tspan><tspan dy="-6.2">/v</tspan><tspan dy="6.2" font-size="12.8">A</tspan></text>
<text transform="translate(14.9,399.3) rotate(-90)" text-anchor="middle">v<tspan dy="6.2" font-size="12.8">z</tspan><tspan dy="-6.2">/v</tspan><tspan dy="6.2" font-size="12.8">A</tspan></text>
<text x="82.20" y="48.20" font-family="'DejaVu Serif',serif" font-size="19.2">Ω</text>
<text x="98.90" y="54.40" font-size="12.8">i</text>
<text x="102.25 110.05 126.00 136.20 143.00" y="48.20">t=1.1</text>
<text x="82.20" y="298.70" font-family="'DejaVu Serif',serif" font-size="19.2">Ω</text>
<text x="98.90" y="304.90" font-size="12.8">i</text>
<text x="102.25 110.05 126.00 136.20 143.00" y="298.70">t=1.1</text>
<text x="360.60" y="48.20" font-family="'DejaVu Serif',serif" font-size="19.2">Ω</text>
<text x="377.30" y="54.40" font-size="12.8">i</text>
<text x="380.65 388.45 404.40 414.60 421.40" y="48.20">t=1.1</text>
<text x="360.60" y="298.70" font-family="'DejaVu Serif',serif" font-size="19.2">Ω</text>
<text x="377.30" y="304.90" font-size="12.8">i</text>
<text x="380.65 388.45 404.40 414.60 421.40" y="298.70">t=1.1</text>
</g>
</svg>
</body></html>
